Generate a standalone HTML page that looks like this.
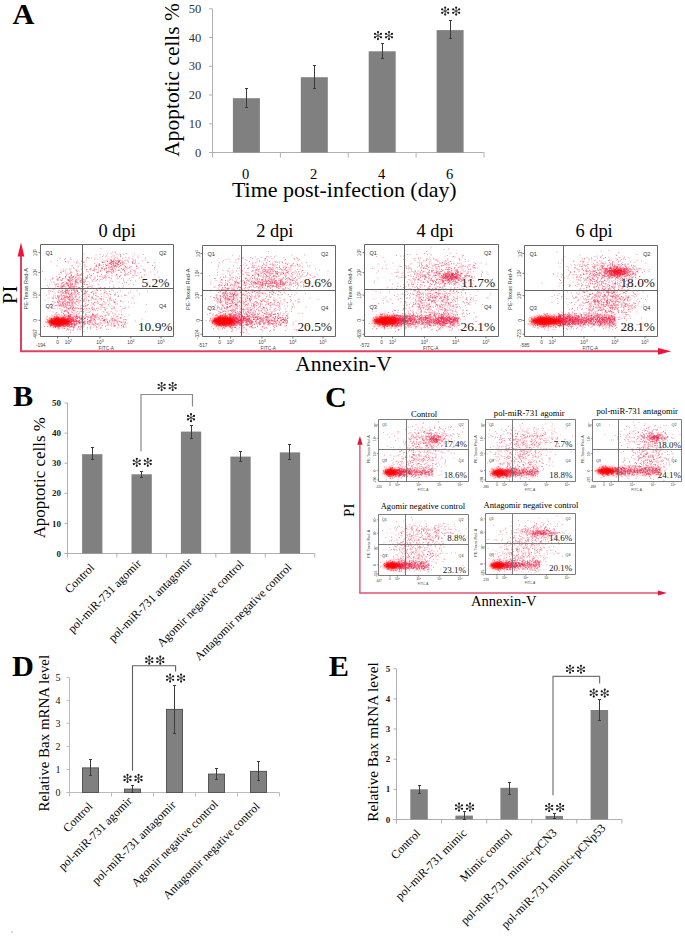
<!DOCTYPE html>
<html><head><meta charset="utf-8"><style>html,body{margin:0;padding:0;background:#fff;overflow:hidden}svg{display:block}</style></head><body><svg width="685" height="936" viewBox="0 0 685 936"><defs><filter id="blur" x="-50%" y="-50%" width="200%" height="200%"><feGaussianBlur stdDeviation="1.1"/></filter><filter id="blur2" x="-50%" y="-50%" width="200%" height="200%"><feGaussianBlur stdDeviation="2"/></filter></defs><rect width="685" height="936" fill="#fff"/><text x="12.5" y="24.4" font-size="30.3" text-anchor="start" font-weight="bold" fill="#000" font-family="'Liberation Serif', serif">A</text><line x1="212.5" y1="8.8" x2="212.5" y2="152.5" stroke="#b0b0b0" stroke-width="1"/><line x1="209.0" y1="152.5" x2="212.5" y2="152.5" stroke="#b0b0b0" stroke-width="1"/><text x="201.2" y="156.6" font-size="12.5" text-anchor="end" fill="#333" font-family="'Liberation Serif', serif">0</text><line x1="209.0" y1="123.8" x2="212.5" y2="123.8" stroke="#b0b0b0" stroke-width="1"/><text x="201.2" y="127.9" font-size="12.5" text-anchor="end" fill="#333" font-family="'Liberation Serif', serif">10</text><line x1="209.0" y1="95.0" x2="212.5" y2="95.0" stroke="#b0b0b0" stroke-width="1"/><text x="201.2" y="99.1" font-size="12.5" text-anchor="end" fill="#333" font-family="'Liberation Serif', serif">20</text><line x1="209.0" y1="66.3" x2="212.5" y2="66.3" stroke="#b0b0b0" stroke-width="1"/><text x="201.2" y="70.4" font-size="12.5" text-anchor="end" fill="#333" font-family="'Liberation Serif', serif">30</text><line x1="209.0" y1="37.5" x2="212.5" y2="37.5" stroke="#b0b0b0" stroke-width="1"/><text x="201.2" y="41.6" font-size="12.5" text-anchor="end" fill="#333" font-family="'Liberation Serif', serif">40</text><line x1="209.0" y1="8.8" x2="212.5" y2="8.8" stroke="#b0b0b0" stroke-width="1"/><text x="201.2" y="12.9" font-size="12.5" text-anchor="end" fill="#333" font-family="'Liberation Serif', serif">50</text><line x1="209.0" y1="152.5" x2="484.0" y2="152.5" stroke="#b0b0b0" stroke-width="1"/><line x1="212.5" y1="152.5" x2="212.5" y2="157.5" stroke="#b0b0b0" stroke-width="1"/><line x1="280.4" y1="152.5" x2="280.4" y2="157.5" stroke="#b0b0b0" stroke-width="1"/><line x1="348.2" y1="152.5" x2="348.2" y2="157.5" stroke="#b0b0b0" stroke-width="1"/><line x1="416.1" y1="152.5" x2="416.1" y2="157.5" stroke="#b0b0b0" stroke-width="1"/><line x1="484.0" y1="152.5" x2="484.0" y2="157.5" stroke="#b0b0b0" stroke-width="1"/><rect x="232.9" y="98.2" width="27.0" height="54.3" fill="#808080"/><line x1="246.5" y1="88.5" x2="246.5" y2="107.5" stroke="#3c3c3c" stroke-width="1"/><line x1="245.0" y1="88.5" x2="248.0" y2="88.5" stroke="#3c3c3c" stroke-width="1"/><line x1="245.0" y1="107.5" x2="248.0" y2="107.5" stroke="#3c3c3c" stroke-width="1"/><rect x="300.8" y="77.2" width="27.0" height="75.3" fill="#808080"/><line x1="314.5" y1="65.5" x2="314.5" y2="88.5" stroke="#3c3c3c" stroke-width="1"/><line x1="313.0" y1="65.5" x2="316.0" y2="65.5" stroke="#3c3c3c" stroke-width="1"/><line x1="313.0" y1="88.5" x2="316.0" y2="88.5" stroke="#3c3c3c" stroke-width="1"/><rect x="368.7" y="51.3" width="27.0" height="101.2" fill="#808080"/><line x1="382.5" y1="43.5" x2="382.5" y2="58.5" stroke="#3c3c3c" stroke-width="1"/><line x1="381.0" y1="43.5" x2="384.0" y2="43.5" stroke="#3c3c3c" stroke-width="1"/><line x1="381.0" y1="58.5" x2="384.0" y2="58.5" stroke="#3c3c3c" stroke-width="1"/><rect x="436.6" y="30.1" width="27.0" height="122.4" fill="#808080"/><line x1="450.5" y1="20.5" x2="450.5" y2="38.5" stroke="#3c3c3c" stroke-width="1"/><line x1="449.0" y1="20.5" x2="452.0" y2="20.5" stroke="#3c3c3c" stroke-width="1"/><line x1="449.0" y1="38.5" x2="452.0" y2="38.5" stroke="#3c3c3c" stroke-width="1"/><text x="245.7" y="178.6" font-size="14.5" text-anchor="middle" fill="#000" font-family="'Liberation Serif', serif">0</text><text x="313.7" y="178.6" font-size="14.5" text-anchor="middle" fill="#000" font-family="'Liberation Serif', serif">2</text><text x="381.7" y="178.6" font-size="14.5" text-anchor="middle" fill="#000" font-family="'Liberation Serif', serif">4</text><text x="449.7" y="178.6" font-size="14.5" text-anchor="middle" fill="#000" font-family="'Liberation Serif', serif">6</text><path d="M378.00 32.10L378.00 39.10M374.97 33.85L381.03 37.35M374.97 37.35L381.03 33.85" stroke="#444" stroke-width="0.9"/><circle cx="378.00" cy="32.10" r="1.1" fill="#1a1a1a"/><circle cx="378.00" cy="39.10" r="1.1" fill="#1a1a1a"/><circle cx="374.97" cy="33.85" r="1.1" fill="#1a1a1a"/><circle cx="381.03" cy="37.35" r="1.1" fill="#1a1a1a"/><circle cx="374.97" cy="37.35" r="1.1" fill="#1a1a1a"/><circle cx="381.03" cy="33.85" r="1.1" fill="#1a1a1a"/><path d="M389.00 32.10L389.00 39.10M385.97 33.85L392.03 37.35M385.97 37.35L392.03 33.85" stroke="#444" stroke-width="0.9"/><circle cx="389.00" cy="32.10" r="1.1" fill="#1a1a1a"/><circle cx="389.00" cy="39.10" r="1.1" fill="#1a1a1a"/><circle cx="385.97" cy="33.85" r="1.1" fill="#1a1a1a"/><circle cx="392.03" cy="37.35" r="1.1" fill="#1a1a1a"/><circle cx="385.97" cy="37.35" r="1.1" fill="#1a1a1a"/><circle cx="392.03" cy="33.85" r="1.1" fill="#1a1a1a"/><path d="M445.15 7.60L445.15 14.60M442.12 9.35L448.18 12.85M442.12 12.85L448.18 9.35" stroke="#444" stroke-width="0.9"/><circle cx="445.15" cy="7.60" r="1.1" fill="#1a1a1a"/><circle cx="445.15" cy="14.60" r="1.1" fill="#1a1a1a"/><circle cx="442.12" cy="9.35" r="1.1" fill="#1a1a1a"/><circle cx="448.18" cy="12.85" r="1.1" fill="#1a1a1a"/><circle cx="442.12" cy="12.85" r="1.1" fill="#1a1a1a"/><circle cx="448.18" cy="9.35" r="1.1" fill="#1a1a1a"/><path d="M456.15 7.60L456.15 14.60M453.12 9.35L459.18 12.85M453.12 12.85L459.18 9.35" stroke="#444" stroke-width="0.9"/><circle cx="456.15" cy="7.60" r="1.1" fill="#1a1a1a"/><circle cx="456.15" cy="14.60" r="1.1" fill="#1a1a1a"/><circle cx="453.12" cy="9.35" r="1.1" fill="#1a1a1a"/><circle cx="459.18" cy="12.85" r="1.1" fill="#1a1a1a"/><circle cx="453.12" cy="12.85" r="1.1" fill="#1a1a1a"/><circle cx="459.18" cy="9.35" r="1.1" fill="#1a1a1a"/><text x="344.3" y="196.5" font-size="21.96" text-anchor="middle" fill="#000" font-family="'Liberation Serif', serif">Time post-infection (day)</text><text x="178.8" y="79.9" font-size="21.43" text-anchor="middle" fill="#000" font-family="'Liberation Serif', serif" transform="rotate(-90 178.8 79.9)">Apoptotic cells %</text><line x1="21.0" y1="351.3" x2="21.0" y2="256.1" stroke="#e0405f" stroke-width="2"/><line x1="20.0" y1="351.3" x2="658.5" y2="351.3" stroke="#e0405f" stroke-width="2"/><polygon points="21.0,242.6 17.6,256.6 24.4,256.6" fill="#f0103a"/><polygon points="671.2,351.3 658.0,347.9 658.0,354.8" fill="#f0103a"/><text x="17.4" y="294.8" font-size="20.5" text-anchor="middle" fill="#000" font-family="'Liberation Serif', serif" transform="rotate(-90 17.4 294.8)">PI</text><text x="343.5" y="371.4" font-size="21.43" text-anchor="middle" fill="#000" font-family="'Liberation Serif', serif">Annexin-V</text><path transform="translate(40.5 244.5) scale(.5)" d="M62 162h2M39 151h2M27 155h2M27 147h2M41 155h2M48 150h2M37 154h2M23 157h2M43 167h2M41 154h2M61 156h2M55 153h2M41 160h2M51 155h2M27 157h2M39 158h2M41 160h2M37 156h2M50 149h2M33 152h2M75 154h2M50 158h2M35 147h2M56 152h2M51 148h2M33 161h2M65 148h2M24 154h2M51 155h2M43 149h2M48 160h2M33 147h2M30 158h2M21 154h2M28 154h2M35 155h2M66 157h2M63 154h2M33 157h2M10 154h2M40 148h2M46 152h2M14 153h2M28 152h2M36 161h2M39 154h2M45 145h2M61 149h2M46 149h2M28 153h2M74 158h2M31 153h2M26 154h2M32 158h2M24 153h2M29 151h2M51 155h2M48 161h2M59 147h2M48 145h2M37 164h2M35 153h2M41 155h2M38 151h2M58 159h2M35 156h2M50 160h2M45 158h2M35 149h2M32 160h2M56 155h2M32 156h2M69 162h2M31 154h2M23 149h2M41 155h2M56 161h2M53 161h2M32 149h2M47 168h2M44 149h2M42 162h2M27 159h2M31 161h2M52 156h2M76 152h2M31 164h2M29 166h2M37 149h2M37 155h2M41 154h2M58 143h2M32 153h2M72 144h2M34 149h2M31 158h2M45 162h2M31 156h2M60 159h2M34 160h2M28 164h2M40 154h2M42 159h2M71 154h2M34 158h2M29 146h2M53 153h2M59 149h2M10 156h2M40 163h2M47 156h2M48 153h2M39 148h2M47 150h2M33 158h2M55 149h2M76 152h2M53 159h2M42 155h2M72 159h2M46 145h2M30 161h2M41 150h2M31 153h2M50 157h2M56 150h2M56 152h2M34 163h2M39 154h2M35 153h2M67 162h2M51 156h2M57 154h2M46 157h2M39 163h2M71 161h2M19 164h2M51 152h2M37 160h2M60 159h2M40 155h2M53 154h2M29 151h2M36 156h2M81 148h2M46 154h2M43 162h2M61 154h2M32 148h2M37 161h2M35 158h2M51 157h2M58 154h2M29 149h2M55 153h2M34 159h2M30 164h2M50 152h2M31 160h2M26 151h2M37 156h2M38 157h2M34 154h2M61 158h2M33 163h2M18 155h2M50 160h2M39 153h2M48 154h2M46 140h2M45 150h2M55 158h2M51 152h2M46 153h2M41 154h2M29 165h2M51 144h2M54 147h2M35 152h2M32 156h2M34 147h2M37 156h2M71 152h2M26 153h2M50 150h2M30 157h2M37 156h2M31 150h2M34 154h2M34 157h2M48 157h2M46 150h2M27 159h2M37 155h2M26 153h2M31 150h2M31 147h2M39 161h2M30 155h2M27 158h2M73 148h2M35 162h2M44 155h2M18 154h2M55 162h2M50 152h2M31 145h2M27 160h2M36 148h2M63 146h2M61 153h2M44 158h2M42 161h2M38 153h2M31 147h2M31 160h2M53 162h2M89 158h2M47 148h2M35 166h2M47 154h2M43 145h2M29 148h2M17 159h2M56 154h2M44 149h2M46 158h2M67 163h2M47 154h2M29 151h2M49 157h2M38 163h2M50 155h2M35 155h2M28 150h2M44 152h2M35 161h2M35 161h2M37 162h2M46 146h2M61 153h2M18 155h2M40 148h2M31 157h2M64 160h2M61 160h2M13 151h2M41 141h2M52 159h2M30 153h2M28 154h2M37 155h2M27 157h2M34 159h2M43 147h2M23 155h2M33 157h2M53 155h2M21 148h2M48 149h2M58 154h2M47 150h2M36 139h2M35 158h2M29 150h2M37 155h2M30 158h2M21 160h2M24 150h2M63 149h2M21 155h2M28 149h2M31 151h2M28 149h2M68 151h2M56 147h2M48 148h2M33 158h2M32 144h2M32 154h2M48 149h2M34 155h2M21 154h2M29 157h2M36 154h2M14 154h2M34 150h2M32 148h2M41 158h2M49 152h2M69 159h2M28 154h2M22 154h2M51 161h2M33 145h2M36 162h2M40 161h2M53 163h2M49 151h2M46 168h2M32 145h2M78 157h2M31 151h2M22 158h2M40 151h2M33 152h2M58 154h2M64 150h2M31 152h2M32 154h2M57 161h2M27 161h2M39 163h2M36 150h2M52 158h2M33 155h2M40 156h2M21 148h2M38 156h2M32 145h2M63 153h2M27 163h2M59 160h2M53 157h2M28 155h2M44 158h2M46 149h2M31 153h2M35 150h2M20 148h2M43 155h2M48 145h2M33 159h2M18 149h2M21 161h2M38 152h2M40 154h2M55 161h2M55 156h2M52 159h2M60 145h2M44 155h2M40 153h2M37 157h2M41 155h2M27 148h2M30 145h2M32 150h2M20 145h2M33 152h2M79 159h2M30 152h2M28 151h2M34 154h2M31 159h2M50 165h2M25 158h2M34 146h2M34 146h2M37 169h2M62 164h2M60 147h2M45 155h2M46 149h2M18 165h2M60 156h2M33 156h2M25 160h2M40 154h2M33 154h2M40 152h2M56 156h2M36 150h2M61 161h2M50 145h2M34 160h2M38 161h2M33 159h2M47 142h2M33 153h2M31 150h2M68 154h2M52 148h2M17 152h2M45 151h2M47 159h2M33 154h2M30 160h2M71 157h2M32 151h2M35 159h2M30 162h2M26 155h2M62 164h2M33 159h2M86 161h2M16 156h2M83 149h2M55 144h2M68 150h2M53 159h2M11 147h2M44 147h2M37 150h2M63 152h2M28 158h2M61 154h2M43 157h2M33 148h2M47 153h2M24 159h2M46 155h2M30 153h2M49 157h2M29 150h2M44 156h2M53 149h2M55 164h2M55 155h2M55 148h2M33 165h2M22 149h2M53 151h2M32 149h2M69 151h2M35 145h2M52 155h2M47 163h2M40 148h2M28 155h2M63 148h2M35 154h2M50 150h2M43 159h2M37 154h2M49 158h2M61 149h2M61 153h2M26 152h2M25 154h2M57 143h2M26 159h2M34 159h2M25 154h2M12 150h2M51 161h2M68 154h2M29 153h2M19 162h2M60 150h2M72 148h2M48 150h2M21 157h2M26 161h2M29 155h2M33 155h2M31 159h2M49 155h2M36 165h2M31 152h2M52 155h2M22 154h2M34 149h2M41 149h2M35 149h2M67 153h2M46 156h2M51 154h2M52 155h2M14 156h2M25 159h2M41 153h2M13 144h2M26 153h2M24 165h2M46 154h2M28 153h2M35 152h2M36 159h2M20 156h2M58 148h2M35 153h2M26 159h2M34 160h2M45 153h2M43 153h2M22 162h2M44 161h2M20 160h2M53 154h2M17 155h2M31 154h2M38 150h2M36 155h2M65 154h2M82 148h2M36 161h2M22 158h2M45 151h2M35 163h2M33 156h2M46 161h2M17 147h2M24 153h2M49 159h2M34 162h2M37 158h2M30 159h2M30 161h2M54 164h2M33 149h2M53 156h2M32 148h2M53 145h2M33 160h2M35 157h2M47 158h2M58 158h2M34 148h2M35 151h2M45 161h2M52 151h2M41 155h2M33 161h2M49 156h2M26 141h2M30 160h2M35 154h2M35 157h2M37 163h2M36 153h2M64 158h2M51 157h2M37 156h2M48 155h2M19 162h2M33 152h2M34 151h2M29 154h2M54 153h2M46 148h2M52 149h2M51 151h2M31 148h2M25 153h2M28 153h2M59 150h2M34 154h2M31 154h2M42 160h2M30 153h2M36 161h2M28 155h2M52 158h2M30 149h2M20 152h2M35 147h2M53 155h2M35 152h2M46 153h2M47 152h2M57 146h2M27 164h2M57 163h2M30 158h2M56 159h2M35 162h2M45 148h2M84 155h2M61 151h2M28 159h2M53 151h2M42 148h2M18 160h2M26 158h2M58 156h2M66 156h2M43 155h2M45 156h2M28 154h2M34 169h2M61 150h2M49 146h2M38 164h2M39 161h2M34 157h2M44 143h2M30 164h2M29 161h2M70 154h2M56 156h2M32 158h2M46 149h2M33 148h2M34 154h2M28 145h2M50 161h2M29 155h2M31 141h2M78 156h2M24 161h2M51 162h2M51 157h2M65 153h2M42 149h2M26 156h2M42 146h2M44 160h2M25 153h2M70 150h2M48 159h2M41 155h2M48 156h2M40 147h2M42 150h2M66 166h2M59 143h2M56 155h2M27 148h2M58 151h2M36 155h2M55 141h2M61 150h2M33 158h2M44 143h2M49 154h2M27 151h2M22 159h2M66 151h2M33 147h2M30 149h2M38 164h2M57 160h2M28 159h2M30 150h2M51 154h2M85 156h2M34 158h2M26 158h2M67 154h2M32 160h2M27 156h2M32 156h2M30 158h2M48 164h2M34 157h2M20 151h2M42 148h2M36 150h2M46 158h2M33 158h2M32 155h2M47 157h2M49 163h2M31 154h2M20 159h2M26 151h2M32 157h2M35 153h2M39 153h2M37 150h2M32 148h2M54 159h2M50 156h2M31 157h2M22 142h2M26 162h2M42 163h2M30 160h2M68 160h2M43 160h2M33 164h2M26 151h2M38 151h2M71 158h2M30 163h2M63 153h2M67 161h2M32 152h2M43 160h2M67 162h2M33 145h2M21 162h2M57 161h2M37 155h2M47 157h2M39 150h2M24 155h2M36 162h2M27 144h2M18 154h2M69 153h2M31 157h2M67 160h2M54 159h2M34 155h2M45 164h2M16 152h2M44 153h2M36 153h2M28 157h2M62 153h2M46 160h2M31 154h2M25 163h2M70 154h2M76 159h2M20 157h2M42 157h2M50 152h2M59 156h2M74 154h2M13 164h2M48 145h2M31 150h2M55 151h2M59 152h2M56 151h2M26 158h2M35 157h2M21 149h2M34 165h2M45 146h2M7 164h2M44 148h2M56 159h2M78 156h2M32 159h2M24 152h2M28 152h2M25 147h2M27 157h2M38 154h2M46 158h2M46 165h2M43 157h2M33 160h2M65 139h2M53 149h2M44 155h2M25 148h2M35 168h2M25 152h2M34 153h2M59 165h2M37 157h2M34 163h2M37 158h2M35 160h2M37 150h2M74 145h2M41 153h2M29 165h2M44 152h2M29 156h2M37 153h2M31 162h2M41 154h2M25 151h2M51 151h2M50 154h2M45 156h2M33 153h2M37 158h2M83 159h2M25 166h2M36 151h2M40 154h2M42 154h2M37 161h2M70 155h2M68 159h2M60 156h2M41 159h2M28 155h2M26 159h2M41 158h2M34 151h2M56 152h2M35 155h2M46 155h2M27 149h2M57 153h2M35 150h2M55 157h2M32 146h2M72 152h2M26 152h2M26 155h2M32 148h2M50 150h2M19 156h2M32 149h2M21 151h2M31 152h2M32 161h2M58 156h2M48 152h2M23 157h2M64 151h2M108 146h2M111 159h2M76 153h2M127 152h2M126 152h2M74 154h2M103 157h2M63 136h2M55 171h2M111 170h2M58 145h2M106 133h2M65 165h2M61 150h2M130 142h2M77 152h2M70 144h2M87 158h2M146 158h2M159 155h2M106 144h2M65 145h2M80 154h2M168 157h2M126 153h2M120 152h2M71 140h2M54 153h2M77 137h2M93 147h2M72 144h2M70 146h2M98 153h2M71 154h2M56 143h2M147 153h2M127 153h2M67 128h2M77 153h2M94 157h2M93 166h2M166 166h2M55 156h2M124 153h2M144 154h2M97 153h2M73 154h2M63 153h2M62 150h2M66 163h2M65 157h2M65 169h2M99 146h2M81 155h2M53 157h2M129 164h2M63 161h2M56 169h2M134 156h2M141 149h2M59 159h2M74 155h2M103 139h2M114 158h2M57 157h2M57 166h2M161 155h2M69 147h2M66 147h2M54 156h2M66 155h2M86 160h2M148 147h2M146 143h2M79 147h2M140 155h2M148 162h2M57 147h2M55 158h2M96 136h2M156 165h2M77 147h2M87 148h2M88 159h2M53 156h2M100 156h2M147 152h2M87 148h2M109 155h2M107 155h2M65 150h2M144 149h2M71 143h2M150 157h2M155 160h2M55 142h2M61 129h2M123 148h2M62 140h2M93 169h2M147 162h2M109 141h2M114 150h2M161 156h2M54 151h2M164 164h2M63 153h2M73 169h2M81 151h2M160 155h2M119 156h2M58 153h2M77 156h2M64 150h2M71 135h2M97 152h2M153 144h2M147 150h2M102 143h2M76 154h2M84 158h2M129 155h2M58 154h2M76 157h2M54 145h2M116 161h2M146 163h2M62 159h2M74 139h2M115 146h2M167 160h2M89 154h2M54 160h2M99 155h2M58 159h2M126 156h2M100 164h2M150 152h2M101 144h2M55 154h2M55 144h2M53 139h2M61 149h2M141 159h2M66 149h2M161 162h2M70 151h2M84 151h2M157 154h2M113 160h2M100 143h2M116 148h2M72 148h2M95 159h2M100 159h2M86 147h2M141 159h2M124 152h2M66 153h2M93 150h2M101 147h2M134 135h2M100 151h2M99 153h2M100 152h2M103 148h2M54 150h2M84 138h2M117 149h2M56 147h2M128 150h2M85 157h2M141 163h2M165 150h2M60 152h2M65 153h2M148 164h2M93 157h2M168 157h2M67 153h2M169 150h2M154 157h2M107 149h2M83 163h2M87 148h2M107 151h2M162 141h2M69 145h2M59 176h2M57 154h2M78 145h2M107 142h2M85 156h2M141 145h2M54 152h2M79 149h2M85 156h2M144 161h2M54 161h2M86 174h2M79 165h2M60 145h2M105 159h2M99 166h2M135 170h2M64 160h2M143 137h2M56 159h2M54 134h2M88 157h2M93 158h2M83 162h2M150 152h2M59 143h2M59 164h2M64 151h2M137 155h2M148 162h2M56 155h2M59 154h2M78 150h2M53 159h2M90 140h2M71 157h2M102 147h2M60 165h2M91 144h2M97 156h2M96 146h2M161 167h2M99 144h2M72 143h2M104 143h2M80 155h2M96 154h2M62 159h2M104 153h2M153 167h2M129 143h2M74 170h2M76 143h2M81 146h2M133 157h2M64 147h2M80 149h2M60 141h2M79 170h2M105 141h2M132 156h2M55 148h2M106 143h2M70 161h2M84 154h2M81 149h2M59 140h2M168 150h2M128 158h2M97 160h2M110 146h2M160 131h2M63 165h2M59 171h2M164 161h2M58 160h2M58 145h2M120 165h2M72 158h2M60 159h2M65 143h2M156 153h2M56 142h2M58 151h2M76 164h2M75 166h2M55 143h2M150 154h2M122 158h2M53 170h2M119 168h2M61 157h2M135 158h2M57 140h2M80 163h2M169 161h2M95 146h2M58 143h2M77 145h2M81 164h2M77 147h2M55 151h2M65 165h2M87 154h2M107 150h2M138 152h2M138 161h2M133 153h2M82 161h2M113 143h2M153 155h2M54 142h2M86 149h2M103 143h2M75 156h2M110 147h2M84 154h2M58 154h2M69 151h2M55 153h2M135 161h2M88 152h2M105 161h2M115 159h2M160 146h2M81 145h2M154 143h2M125 151h2M84 163h2M146 157h2M77 156h2M153 155h2M57 151h2M93 150h2M154 153h2M106 160h2M101 145h2M54 150h2M104 151h2M84 164h2M67 160h2M165 153h2M89 146h2M60 151h2M120 142h2M61 156h2M93 145h2M114 141h2M82 148h2M89 142h2M109 152h2M59 156h2M165 165h2M67 143h2M142 155h2M71 143h2M144 152h2M85 150h2M97 135h2M57 163h2M130 151h2M108 161h2M53 156h2M67 165h2M100 150h2M57 148h2M110 142h2M118 161h2M106 149h2M96 142h2M61 146h2M54 155h2M99 154h2M71 154h2M59 148h2M146 159h2M118 157h2M100 152h2M102 157h2M66 157h2M158 148h2M53 148h2M89 148h2M84 155h2M130 148h2M54 143h2M83 141h2M143 148h2M154 159h2M168 154h2M160 147h2M77 158h2M63 147h2M67 144h2M94 131h2M56 146h2M132 136h2M53 147h2M120 166h2M170 165h2M118 144h2M78 167h2M87 156h2M146 164h2M111 165h2M150 150h2M94 144h2M56 153h2M61 164h2M76 146h2M151 144h2M84 145h2M128 150h2M108 157h2M58 151h2M70 144h2M62 145h2M68 147h2M140 149h2M56 154h2M122 148h2M132 169h2M54 147h2M114 165h2M86 145h2M127 150h2M81 167h2M165 163h2M58 155h2M130 162h2M142 151h2M65 167h2M81 155h2M55 144h2M55 137h2M106 151h2M55 155h2M54 150h2M97 159h2M108 162h2M60 140h2M109 157h2M105 148h2M168 144h2M71 143h2M169 156h2M70 146h2M53 136h2M133 155h2M59 153h2M67 158h2M62 158h2M155 162h2M144 147h2M154 148h2M63 158h2M133 154h2M119 151h2M110 158h2M93 155h2M55 144h2M161 56h2M66 48h2M127 51h2M178 46h2M106 49h2M134 62h2M60 30h2M130 66h2M131 55h2M207 53h2M145 51h2M174 59h2M122 63h2M152 44h2M165 83h2M87 35h2M128 48h2M143 51h2M140 69h2M187 19h2M156 52h2M156 52h2M148 48h2M106 49h2M167 52h2M130 71h2M170 38h2M99 49h2M154 68h2M61 72h2M136 55h2M168 56h2M141 67h2M183 34h2M66 35h2M144 48h2M125 44h2M97 60h2M131 56h2M156 75h2M223 42h2M188 54h2M152 69h2M108 50h2M174 61h2M210 61h2M139 50h2M159 23h2M188 57h2M107 53h2M156 33h2M171 18h2M195 47h2M144 47h2M108 67h2M92 50h2M156 33h2M159 38h2M170 46h2M188 51h2M91 67h2M184 66h2M71 35h2M172 59h2M120 49h2M140 18h2M82 33h2M177 46h2M44 49h2M118 40h2M71 37h2M146 45h2M165 72h2M118 27h2M91 53h2M165 49h2M131 55h2M184 63h2M117 42h2M131 42h2M91 68h2M141 35h2M150 35h2M92 26h2M82 44h2M143 50h2M145 52h2M113 70h2M85 36h2M219 55h2M142 92h2M86 76h2M131 48h2M91 50h2M164 51h2M112 57h2M186 52h2M115 45h2M149 42h2M192 43h2M178 49h2M164 33h2M123 36h2M99 51h2M83 82h2M204 65h2M133 42h2M60 64h2M82 50h2M107 51h2M204 50h2M124 66h2M110 21h2M100 47h2M99 67h2M183 36h2M134 55h2M115 41h2M151 45h2M209 51h2M133 54h2M142 45h2M157 64h2M142 58h2M74 45h2M136 46h2M179 57h2M131 41h2M116 47h2M203 33h2M172 45h2M201 66h2M96 57h2M73 62h2M127 35h2M130 60h2M236 65h2M149 50h2M38 28h2M33 32h2M174 71h2M144 45h2M162 88h2M139 73h2M190 39h2M138 38h2M147 45h2M93 62h2M130 48h2M169 58h2M185 80h2M80 59h2M58 65h2M215 36h2M184 62h2M149 17h2M88 45h2M135 53h2M167 53h2M125 36h2M100 48h2M227 46h2M129 67h2M167 61h2M137 77h2M108 73h2M199 56h2M110 42h2M144 21h2M187 38h2M81 59h2M136 38h2M189 33h2M108 27h2M207 61h2M72 59h2M107 38h2M125 21h2M141 51h2M196 38h2M74 37h2M108 65h2M228 61h2M151 34h2M73 33h2M161 69h2M124 31h2M165 50h2M101 27h2M55 75h2M113 56h2M153 65h2M227 49h2M184 38h2M72 51h2M49 28h2M100 61h2M123 24h2M131 42h2M111 42h2M128 63h2M154 52h2M97 27h2M214 75h2M60 57h2M150 53h2M141 45h2M194 57h2M175 56h2M141 44h2M184 23h2M191 48h2M144 43h2M55 37h2M150 44h2M153 38h2M57 49h2M114 39h2M194 23h2M138 47h2M188 53h2M148 55h2M142 48h2M126 65h2M227 36h2M143 35h2M214 79h2M143 74h2M142 33h2M209 27h2M88 70h2M170 61h2M117 40h2M83 70h2M156 86h2M152 60h2M110 44h2M154 39h2M177 68h2M80 61h2M144 55h2M119 70h2M142 62h2M149 42h2M84 77h2M206 51h2M179 72h2M197 67h2M128 62h2M112 55h2M93 26h2M95 27h2M151 62h2M153 40h2M132 31h2M151 60h2M214 36h2M127 50h2M233 55h2M153 28h2M127 86h2M191 62h2M117 38h2M144 42h2M229 43h2M113 63h2M144 38h2M78 39h2M200 43h2M127 66h2M201 64h2M150 42h2M94 54h2M131 55h2M47 30h2M167 75h2M141 32h2M159 38h2M121 47h2M165 69h2M159 37h2M178 44h2M70 66h2M213 35h2M117 42h2M113 70h2M168 54h2M141 40h2M111 41h2M159 62h2M118 63h2M98 84h2M88 43h2M130 64h2M145 38h2M158 64h2M86 19h2M158 36h2M176 80h2M188 57h2M170 49h2M97 50h2M115 55h2M84 35h2M137 53h2M135 66h2M71 61h2M122 51h2M179 54h2M171 76h2M131 23h2M111 44h2M142 39h2M139 55h2M51 76h2M108 30h2M100 63h2M105 70h2M104 52h2M115 51h2M145 36h2M91 29h2M142 89h2M182 50h2M188 61h2M120 42h2M139 39h2M132 58h2M81 34h2M146 29h2M150 40h2M158 43h2M153 39h2M149 38h2M150 37h2M145 40h2M167 49h2M181 44h2M140 25h2M122 34h2M155 46h2M153 37h2M129 43h2M186 33h2M191 44h2M136 43h2M156 40h2M129 40h2M168 26h2M161 48h2M158 31h2M148 44h2M162 36h2M140 30h2M148 26h2M159 55h2M148 36h2M154 42h2M147 42h2M136 27h2M141 41h2M140 30h2M156 19h2M143 15h2M140 54h2M121 47h2M140 32h2M145 55h2M141 37h2M143 34h2M165 39h2M154 31h2M155 35h2M151 38h2M142 25h2M159 20h2M168 32h2M135 46h2M139 37h2M135 41h2M157 34h2M147 23h2M172 31h2M149 32h2M156 35h2M145 34h2M155 51h2M131 46h2M153 41h2M139 46h2M165 20h2M119 52h2M141 35h2M124 36h2M152 32h2M175 35h2M167 37h2M155 34h2M141 50h2M172 47h2M139 33h2M154 33h2M163 51h2M141 33h2M123 48h2M155 40h2M139 37h2M146 31h2M161 49h2M174 34h2M208 31h2M152 25h2M146 39h2M140 36h2M133 33h2M129 33h2M112 29h2M143 35h2M175 27h2M138 44h2M134 33h2M120 8h2M191 43h2M189 36h2M125 40h2M134 39h2M159 42h2M137 38h2M158 49h2M144 54h2M163 40h2M140 40h2M163 28h2M163 39h2M147 29h2M148 43h2M183 38h2M145 43h2M169 44h2M148 15h2M155 36h2M130 37h2M133 34h2M174 31h2M108 46h2M149 37h2M118 20h2M145 32h2M154 35h2M157 33h2M158 32h2M160 42h2M123 36h2M144 37h2M185 31h2M148 39h2M111 50h2M162 35h2M168 61h2M136 49h2M183 29h2M160 25h2M156 31h2M162 33h2M174 48h2M183 36h2M146 34h2M140 36h2M133 34h2M166 46h2M159 23h2M179 53h2M168 33h2M164 36h2M123 47h2M168 42h2M164 37h2M130 51h2M146 34h2M76 53h2M62 81h2M62 43h2M70 85h2M42 103h2M70 74h2M75 87h2M71 73h2M73 59h2M104 52h2M64 64h2M69 73h2M86 73h2M62 100h2M48 74h2M60 86h2M67 89h2M53 78h2M77 74h2M72 54h2M76 70h2M101 62h2M39 99h2M102 71h2M31 64h2M72 79h2M85 89h2M78 72h2M92 94h2M74 69h2M81 76h2M66 75h2M88 93h2M85 79h2M60 54h2M63 80h2M51 79h2M52 77h2M17 79h2M80 74h2M79 61h2M68 68h2M68 74h2M70 64h2M58 51h2M62 42h2M73 98h2M58 68h2M68 79h2M80 67h2M61 79h2M74 58h2M76 96h2M34 68h2M61 60h2M42 95h2M70 79h2M84 58h2M89 66h2M86 74h2M92 81h2M66 86h2M55 82h2M41 72h2M102 85h2M49 91h2M61 79h2M60 82h2M57 92h2M61 66h2M59 56h2M79 88h2M92 80h2M64 91h2M93 66h2M44 68h2M67 88h2M87 79h2M88 71h2M65 46h2M58 71h2M89 73h2M60 76h2M60 49h2M55 72h2M63 66h2M59 81h2M40 70h2M56 71h2M68 83h2M19 71h2M46 52h2M70 75h2M54 71h2M52 92h2M98 88h2M45 83h2M73 75h2M64 70h2M56 65h2M52 104h2M77 65h2M55 81h2M100 95h2M49 57h2M55 78h2M57 67h2M105 58h2M79 72h2M56 98h2M43 77h2M64 65h2M59 75h2M115 80h2M62 56h2M71 84h2M119 54h2M40 51h2M38 89h2M65 65h2M69 73h2M64 89h2M83 69h2M90 87h2M62 68h2M60 62h2M28 88h2M92 43h2M61 61h2M59 79h2M87 80h2M80 88h2M72 88h2M83 65h2M81 69h2M86 89h2M41 81h2M49 67h2M58 80h2M79 73h2M28 80h2M88 40h2M56 66h2M71 70h2M85 69h2M50 49h2M32 71h2M78 61h2M78 68h2M83 90h2M75 62h2M86 76h2M68 79h2M79 89h2M42 89h2M71 91h2M65 84h2M85 91h2M61 92h2M58 58h2M52 57h2M93 86h2M33 71h2M71 76h2M57 65h2M82 73h2M50 77h2M54 70h2M81 71h2M114 56h2M48 94h2M70 71h2M85 71h2M49 93h2M69 76h2M70 73h2M51 61h2M36 85h2M68 71h2M39 56h2M59 78h2M63 73h2M50 84h2M72 90h2M76 61h2M55 71h2M88 74h2M66 92h2M83 82h2M34 71h2M103 82h2M90 97h2M81 49h2M73 71h2M50 87h2M53 90h2M75 67h2M51 97h2M63 78h2M66 63h2M45 102h2M24 89h2M36 114h2M53 78h2M41 109h2M38 66h2M64 107h2M45 96h2M56 97h2M51 133h2M73 146h2M35 106h2M30 81h2M28 97h2M43 83h2M49 119h2M42 87h2M63 101h2M54 81h2M59 126h2M34 81h2M44 121h2M62 133h2M36 60h2M36 108h2M57 74h2M50 98h2M58 85h2M48 99h2M54 107h2M57 111h2M63 84h2M105 140h2M29 122h2M43 88h2M70 51h2M38 119h2M24 128h2M43 107h2M74 109h2M67 139h2M42 97h2M72 122h2M75 164h2M36 105h2M58 75h2M35 71h2M46 109h2M77 169h2M48 103h2M55 116h2M50 142h2M69 93h2M14 107h2M74 144h2M43 93h2M52 92h2M36 92h2M80 142h2M56 128h2M42 92h2M62 118h2M30 137h2M16 92h2M70 141h2M96 101h2M48 117h2M52 81h2M46 98h2M66 101h2M52 106h2M46 133h2M43 119h2M71 103h2M68 96h2M56 73h2M67 135h2M50 69h2M46 107h2M71 52h2M55 110h2M27 123h2M23 121h2M66 85h2M33 84h2M43 118h2M61 97h2M59 81h2M49 65h2M73 76h2M36 147h2M66 82h2M65 172h2M55 84h2M41 148h2M42 87h2M91 67h2M37 66h2M39 95h2M58 71h2M61 92h2M73 93h2M51 61h2M21 119h2M83 66h2M46 102h2M51 123h2M60 125h2M9 69h2M85 136h2M23 94h2M58 87h2M43 69h2M33 155h2M52 104h2M60 88h2M56 105h2M61 83h2M47 134h2M59 85h2M19 120h2M57 93h2M34 105h2M54 122h2M58 116h2M40 115h2M49 96h2M53 168h2M41 100h2M52 103h2M48 119h2M35 121h2M67 93h2M83 71h2M58 110h2M55 88h2M28 115h2M22 128h2M63 110h2M62 114h2M54 106h2M40 102h2M50 92h2M50 78h2M57 104h2M16 99h2M34 103h2M77 86h2M54 83h2M44 124h2M57 105h2M65 132h2M84 62h2M26 77h2M38 128h2M52 92h2M46 83h2M65 113h2M49 64h2M40 72h2M41 122h2M37 122h2M35 151h2M48 94h2M63 127h2M35 79h2M32 121h2M40 94h2M56 86h2M57 117h2M40 85h2M69 66h2M54 148h2M42 79h2M60 106h2M36 119h2M48 140h2M62 85h2M61 116h2M47 81h2M62 112h2M37 103h2M55 129h2M76 139h2M43 131h2M33 103h2M59 100h2M41 107h2M74 121h2M37 141h2M46 107h2M54 109h2M36 96h2M47 126h2M21 127h2M74 79h2M50 95h2M30 139h2M58 144h2M73 134h2M50 125h2M58 104h2M61 95h2M49 120h2M65 115h2M38 114h2M84 109h2M63 79h2M56 117h2M41 108h2M48 123h2M53 71h2M61 163h2M28 81h2M42 83h2M34 111h2M85 130h2M48 113h2M63 121h2M46 79h2M34 152h2M62 115h2M64 89h2M44 109h2M29 85h2M55 97h2M24 88h2M56 100h2M72 148h2M38 124h2M49 90h2M63 131h2M23 69h2M69 127h2M66 129h2M40 87h2M38 122h2M64 65h2M25 119h2M35 117h2M35 84h2M33 114h2M60 90h2M44 97h2M55 106h2M52 93h2M50 105h2M48 113h2M31 122h2M71 110h2M24 135h2M48 110h2M53 155h2M35 109h2M45 125h2M64 130h2M56 117h2M58 121h2M59 97h2M89 118h2M8 111h2M55 81h2M50 107h2M40 115h2M28 139h2M23 68h2M54 60h2M65 125h2M63 70h2M58 84h2M64 128h2M26 90h2M28 144h2M69 79h2M49 34h2M63 119h2M35 116h2M43 84h2M48 111h2M68 115h2M45 122h2M57 108h2M58 131h2M53 133h2M50 97h2M32 78h2M93 64h2M52 113h2M39 83h2M68 89h2M52 104h2M40 110h2M53 115h2M66 99h2M59 67h2M55 88h2M53 81h2M73 92h2M82 71h2M41 124h2M81 108h2M43 97h2M23 67h2M94 74h2M44 122h2M59 107h2M50 140h2M87 109h2M32 69h2M46 135h2M57 101h2M59 113h2M53 121h2M60 109h2M37 114h2M33 116h2M45 76h2M88 96h2M66 89h2M51 133h2M31 108h2M73 94h2M59 101h2M43 92h2M52 107h2M44 118h2M48 113h2M62 110h2M48 80h2M44 54h2M29 107h2M55 128h2M50 65h2M57 119h2M34 113h2M26 75h2M51 117h2M62 118h2M45 116h2M58 87h2M51 126h2M67 84h2M54 95h2M59 128h2M42 110h2M53 116h2M59 113h2M51 127h2M3 54h2M34 95h2M45 114h2M41 84h2M42 87h2M54 128h2M58 122h2M61 102h2M21 75h2M39 119h2M57 115h2M67 95h2M48 113h2M48 94h2M24 107h2M61 62h2M50 121h2M61 121h2M45 120h2M62 124h2M43 113h2M53 97h2M38 122h2M33 127h2M29 103h2M50 96h2M70 100h2M51 91h2M24 114h2M42 135h2M64 86h2M26 101h2M61 98h2M76 100h2M43 116h2M50 131h2M46 83h2M57 110h2M57 103h2M79 76h2M33 84h2M69 71h2M44 68h2M61 98h2M28 128h2M44 85h2M55 107h2M54 119h2M31 155h2M78 105h2M18 133h2M41 133h2M48 85h2M41 55h2M34 140h2M82 129h2M36 111h2M57 104h2M11 101h2M42 120h2M28 116h2M47 164h2M75 86h2M34 102h2M52 129h2M37 111h2M48 106h2M60 69h2M52 96h2M49 124h2M13 82h2M32 142h2M74 115h2M39 121h2M34 67h2M65 97h2M33 105h2M70 117h2M49 53h2M55 136h2M54 91h2M48 131h2M37 65h2M45 138h2M89 93h2M58 85h2M45 81h2M36 105h2M77 105h2M47 105h2M36 149h2M78 134h2M44 110h2M23 114h2M68 115h2M44 83h2M45 138h2M43 103h2M75 77h2M16 95h2M47 103h2M73 94h2M105 119h2M101 96h2M136 138h2M40 103h2M71 103h2M51 171h2M113 114h2M159 114h2M100 151h2M72 93h2M121 104h2M119 92h2M34 154h2M142 128h2M108 110h2M128 97h2M73 110h2M103 105h2M68 118h2M79 112h2M95 115h2M69 97h2M120 130h2M40 130h2M147 114h2M108 97h2M170 88h2M149 115h2M122 123h2M109 143h2M80 134h2M103 107h2M126 119h2M86 104h2M139 105h2M62 109h2M147 127h2M55 99h2M65 153h2M49 132h2M147 116h2M121 111h2M107 116h2M58 144h2M111 145h2M109 102h2M137 99h2M72 126h2M132 150h2M111 103h2M119 120h2M75 128h2M155 103h2M137 153h2M186 103h2M51 116h2M119 109h2M130 116h2M86 128h2M85 84h2M104 130h2M164 115h2M94 153h2M90 95h2M154 104h2M87 160h2M63 143h2M66 117h2M113 139h2M71 113h2M106 141h2M63 128h2M107 69h2M54 114h2M120 124h2M68 132h2M111 140h2M100 84h2M130 94h2M102 87h2M140 134h2M88 101h2M110 97h2M145 83h2M47 133h2M102 129h2M110 109h2M78 86h2M75 117h2M135 120h2M70 129h2M109 132h2M103 127h2M65 151h2M131 98h2M80 91h2M68 105h2M86 99h2M91 129h2M56 137h2M159 124h2M117 87h2M91 107h2M90 125h2M63 116h2M21 150h2M41 136h2M91 128h2M75 129h2M86 115h2M42 76h2M149 140h2M89 123h2M113 63h2M92 80h2M137 85h2M62 121h2M152 133h2M172 88h2M137 109h2M102 96h2M114 105h2M122 121h2M97 128h2M44 116h2M25 108h2M104 118h2M82 145h2M104 120h2M83 158h2M96 128h2M89 139h2M115 87h2M126 99h2M107 129h2M146 125h2M86 133h2M93 120h2M85 123h2M143 151h2M123 144h2M70 120h2M142 111h2M122 109h2M76 112h2M105 109h2M106 165h2M63 111h2M53 164h2M141 112h2M83 117h2M81 122h2M70 109h2M137 94h2M119 86h2M103 139h2M81 134h2M161 135h2M182 106h2M107 121h2M34 123h2M63 97h2M110 117h2M137 107h2M64 122h2M69 125h2M124 126h2M103 125h2M55 129h2M149 97h2M110 99h2M88 108h2M90 132h2M15 85h2M123 119h2M47 123h2M114 104h2M182 117h2M129 130h2M101 127h2M88 93h2M79 129h2M159 93h2M164 128h2M114 128h2M53 119h2M85 113h2M159 112h2M31 80h2M147 116h2M56 127h2M101 111h2M89 94h2M86 110h2M142 123h2M81 151h2M145 111h2M125 109h2M83 131h2M95 120h2M65 126h2M134 113h2M99 168h2M102 108h2M99 133h2M105 99h2M149 101h2M146 87h2M81 94h2M121 109h2M63 105h2M91 141h2M109 145h2M135 141h2M41 78h2M65 92h2M54 94h2M56 71h2M145 93h2M114 118h2M117 73h2M126 152h2M137 117h2M103 160h2M127 129h2M127 93h2M127 96h2M126 126h2M75 99h2M145 115h2M58 127h2M78 129h2M92 136h2M133 111h2M120 99h2M31 136h2M90 99h2M149 151h2M78 148h2M126 103h2M92 122h2M101 105h2M95 112h2M136 141h2M100 122h2M119 127h2M125 114h2M114 127h2M80 128h2M69 103h2M51 101h2M95 112h2M133 139h2M77 115h2M139 100h2M60 112h2M148 100h2M95 85h2M65 108h2M35 95h2M86 112h2M82 149h2M103 130h2M126 146h2M103 73h2M58 88h2M107 145h2M48 118h2M118 109h2M149 110h2M129 131h2M60 71h2M118 89h2M105 101h2M118 108h2M91 111h2M110 109h2M127 89h2M72 114h2M81 93h2M82 102h2M126 135h2M95 104h2M109 88h2M114 116h2M25 105h2M167 128h2M76 96h2M58 122h2M108 115h2M92 122h2M121 121h2M60 104h2M119 144h2M139 108h2M62 149h2M135 103h2M156 140h2M80 113h2M114 111h2M78 157h2M68 98h2M57 110h2M69 105h2M103 94h2M111 92h2M76 107h2M93 154h2M149 63h2M169 125h2M93 93h2M161 103h2M94 84h2M58 72h2M68 106h2M103 141h2M148 129h2M100 147h2M105 98h2M130 106h2M164 156h2M85 134h2M141 129h2M138 113h2M66 132h2M107 88h2M102 105h2M168 61h2M150 119h2M136 123h2M65 147h2M72 148h2M73 67h2M94 88h2M106 129h2M55 138h2M94 100h2M128 142h2M106 88h2M144 128h2M62 105h2M103 140h2M60 124h2M171 151h2M76 145h2M83 126h2M132 128h2M146 138h2M127 115h2M72 114h2M148 119h2M87 98h2M64 126h2M64 123h2M99 149h2M111 90h2M117 120h2M88 123h2M94 155h2M128 126h2M61 135h2M154 103h2M71 93h2M79 125h2M86 98h2M153 119h2M88 114h2M88 121h2M111 72h2M138 110h2M72 128h2M129 119h2M108 93h2M49 133h2M111 128h2M81 128h2M179 95h2M67 110h2M161 162h2M86 144h2M130 23h2M118 64h2M111 165h2M161 140h2M163 78h2M153 96h2M176 141h2M97 65h2M189 73h2M82 57h2M202 149h2M32 43h2M76 111h2M213 93h2M90 103h2M60 101h2M123 162h2M97 79h2M205 20h2M184 108h2M125 68h2M172 157h2M187 117h2M57 87h2M49 107h2M157 65h2M192 92h2M167 101h2M189 153h2M141 56h2M27 152h2M78 121h2M135 53h2M168 44h2M177 27h2M84 154h2M137 66h2M22 88h2M209 135h2M48 106h2M175 125h2M113 132h2M75 43h2M147 101h2M159 147h2M164 86h2M62 171h2M86 165h2M84 130h2M86 124h2M146 126h2M22 107h2M197 99h2M90 33h2M14 19h2M49 35h2M88 98h2M93 87h2M134 99h2M68 93h2M50 121h2M211 120h2M29 165h2M45 53h2M71 152h2M194 26h2M133 19h2M152 20h2M195 88h2M52 77h2M43 71h2M137 35h2M175 115h2M81 84h2M157 44h2M113 92h2M189 31h2M56 112h2M41 57h2M61 153h2M85 100h2M127 49h2M20 34h2M95 153h2M175 97h2M59 27h2M47 142h2M146 86h2M121 60h2M163 159h2M170 102h2M72 55h2M122 70h2M124 134h2M96 104h2M133 161h2M168 102h2M19 93h2M54 34h2M101 117h2" stroke="#ee2244" stroke-opacity="0.55" stroke-width="1.6"/><ellipse cx="58.7" cy="321.8" rx="12.2" ry="4.8" fill="#f00" fill-opacity="0.3" filter="url(#blur2)"/><ellipse cx="58.7" cy="321.8" rx="10.6" ry="3.7" fill="#f00" fill-opacity="1" filter="url(#blur)"/><path d="M40.5 244.5H173.5V336.5H40.5Z M82.5 244.5V336.5 M40.5 288.5H173.5" fill="none" stroke="#666" stroke-width="1"/><text x="45.5" y="254.5" font-size="5.6" text-anchor="start" fill="#333" font-family="'Liberation Sans', sans-serif">Q1</text><text x="159.0" y="254.5" font-size="5.6" text-anchor="start" fill="#333" font-family="'Liberation Sans', sans-serif">Q2</text><text x="45.5" y="307.5" font-size="5.6" text-anchor="start" fill="#333" font-family="'Liberation Sans', sans-serif">Q3</text><text x="159.0" y="307.5" font-size="5.6" text-anchor="start" fill="#333" font-family="'Liberation Sans', sans-serif">Q4</text><text x="169.3" y="286.7" font-size="13.4" text-anchor="end" fill="#1a1a1a" font-family="'Liberation Serif', serif">5.2%</text><text x="172.5" y="331.0" font-size="13.4" text-anchor="end" fill="#1a1a1a" font-family="'Liberation Serif', serif">10.9%</text><text x="35.9" y="346.5" font-size="4.8" text-anchor="start" fill="#444" font-family="'Liberation Sans', sans-serif">-194</text><text x="106.3" y="349.7" font-size="4.8" text-anchor="middle" fill="#444" font-family="'Liberation Sans', sans-serif">FITC-A</text><text x="57.5" y="343.5" font-size="4.8" text-anchor="middle" fill="#444" font-family="'Liberation Sans', sans-serif">0</text><text x="68.4" y="343.5" font-size="4.8" text-anchor="middle" fill="#444" font-family="'Liberation Sans', sans-serif">10<tspan dy="-1.8" font-size="3.6">2</tspan></text><text x="100.0" y="343.5" font-size="4.8" text-anchor="middle" fill="#444" font-family="'Liberation Sans', sans-serif">10<tspan dy="-1.8" font-size="3.6">3</tspan></text><text x="130.9" y="343.5" font-size="4.8" text-anchor="middle" fill="#444" font-family="'Liberation Sans', sans-serif">10<tspan dy="-1.8" font-size="3.6">4</tspan></text><text x="161.0" y="343.5" font-size="4.8" text-anchor="middle" fill="#444" font-family="'Liberation Sans', sans-serif">10<tspan dy="-1.8" font-size="3.6">5</tspan></text><text x="37.5" y="252.6" font-size="4.8" text-anchor="middle" fill="#444" font-family="'Liberation Sans', sans-serif" transform="rotate(-90 37.5 252.6)">10<tspan dy="-1.8" font-size="3.6">5</tspan></text><text x="37.5" y="272.6" font-size="4.8" text-anchor="middle" fill="#444" font-family="'Liberation Sans', sans-serif" transform="rotate(-90 37.5 272.6)">10<tspan dy="-1.8" font-size="3.6">4</tspan></text><text x="37.5" y="295.1" font-size="4.8" text-anchor="middle" fill="#444" font-family="'Liberation Sans', sans-serif" transform="rotate(-90 37.5 295.1)">10<tspan dy="-1.8" font-size="3.6">3</tspan></text><text x="37.5" y="320.3" font-size="4.8" text-anchor="middle" fill="#444" font-family="'Liberation Sans', sans-serif" transform="rotate(-90 37.5 320.3)">0</text><text x="37.5" y="334.2" font-size="4.8" text-anchor="middle" fill="#444" font-family="'Liberation Sans', sans-serif" transform="rotate(-90 37.5 334.2)">-467</text><path d="M38.5 252.6h2.0M38.5 272.6h2.0M38.5 295.1h2.0M38.5 320.3h2.0M38.5 334.2h2.0M57.5 336.5v2.0M68.4 336.5v2.0M100.0 336.5v2.0M130.9 336.5v2.0M161.0 336.5v2.0" stroke="#555" stroke-width="0.80"/><text x="28.5" y="288.7" font-size="5.6" text-anchor="middle" fill="#444" font-family="'Liberation Sans', sans-serif" transform="rotate(-90 28.5 288.7)">PE-Texas Red-A</text><text x="117.2" y="237.3" font-size="18.4" text-anchor="middle" fill="#000" font-family="'Liberation Serif', serif">0 dpi</text><path transform="translate(202.5 245.5) scale(.5)" d="M92 147h2M52 152h2M61 143h2M40 147h2M33 146h2M39 149h2M34 153h2M38 134h2M69 149h2M36 153h2M49 151h2M35 152h2M28 159h2M31 150h2M44 152h2M41 154h2M6 150h2M41 148h2M73 145h2M42 139h2M47 141h2M26 163h2M56 150h2M45 142h2M32 153h2M20 152h2M24 151h2M31 160h2M63 147h2M23 146h2M42 145h2M47 156h2M42 148h2M58 149h2M59 149h2M75 149h2M31 151h2M36 145h2M41 155h2M20 150h2M41 150h2M58 143h2M55 149h2M44 149h2M39 147h2M50 162h2M64 155h2M53 148h2M54 162h2M29 155h2M63 152h2M59 158h2M89 158h2M77 152h2M60 152h2M49 148h2M57 159h2M42 152h2M56 151h2M62 152h2M31 145h2M58 154h2M66 152h2M47 142h2M72 146h2M65 145h2M37 152h2M39 147h2M62 155h2M52 149h2M35 148h2M38 151h2M59 150h2M35 148h2M70 152h2M48 153h2M56 152h2M68 155h2M14 150h2M105 144h2M46 157h2M44 158h2M31 144h2M42 147h2M33 154h2M49 151h2M40 152h2M43 147h2M55 153h2M46 155h2M32 150h2M38 158h2M54 163h2M77 149h2M33 154h2M41 150h2M33 154h2M48 153h2M50 146h2M21 150h2M37 148h2M64 151h2M75 152h2M58 154h2M61 144h2M67 152h2M34 154h2M51 158h2M59 153h2M27 160h2M75 155h2M53 158h2M35 155h2M44 146h2M52 153h2M79 156h2M27 140h2M43 150h2M34 143h2M42 145h2M37 156h2M49 147h2M32 150h2M80 148h2M80 147h2M42 155h2M36 151h2M30 155h2M68 148h2M48 149h2M21 166h2M57 156h2M52 152h2M93 141h2M41 149h2M42 155h2M36 144h2M32 154h2M64 155h2M77 148h2M64 155h2M42 147h2M62 147h2M41 146h2M80 151h2M39 150h2M42 152h2M26 145h2M54 157h2M33 152h2M38 139h2M41 145h2M62 150h2M43 143h2M47 140h2M48 159h2M31 156h2M73 150h2M67 152h2M39 140h2M33 143h2M93 152h2M42 144h2M80 145h2M75 157h2M45 147h2M43 144h2M57 160h2M62 157h2M37 153h2M33 149h2M59 165h2M45 151h2M24 152h2M34 143h2M28 152h2M40 155h2M41 151h2M74 155h2M60 159h2M48 146h2M36 142h2M51 149h2M55 156h2M35 152h2M70 152h2M63 150h2M34 150h2M24 155h2M39 158h2M31 152h2M51 150h2M52 147h2M33 143h2M38 147h2M49 149h2M37 147h2M24 149h2M53 144h2M41 155h2M37 152h2M39 165h2M73 158h2M37 155h2M42 153h2M38 152h2M36 153h2M81 143h2M30 154h2M61 149h2M56 153h2M55 159h2M37 155h2M48 147h2M54 144h2M28 157h2M32 160h2M66 148h2M35 139h2M43 142h2M77 142h2M45 136h2M40 158h2M39 146h2M39 153h2M63 150h2M22 153h2M64 164h2M47 152h2M38 155h2M81 145h2M46 145h2M37 150h2M54 146h2M41 159h2M54 155h2M52 150h2M53 154h2M44 157h2M44 156h2M44 155h2M37 148h2M32 158h2M55 152h2M57 146h2M46 148h2M24 150h2M35 159h2M36 148h2M65 151h2M30 152h2M36 161h2M33 147h2M15 147h2M84 150h2M34 153h2M41 151h2M97 162h2M78 160h2M34 140h2M60 153h2M45 150h2M59 154h2M49 154h2M42 149h2M73 150h2M86 155h2M45 157h2M39 150h2M40 151h2M58 163h2M55 145h2M35 141h2M59 156h2M51 153h2M55 153h2M58 152h2M33 156h2M72 142h2M41 145h2M55 149h2M74 157h2M39 148h2M38 154h2M34 153h2M29 157h2M54 145h2M36 152h2M50 135h2M48 159h2M39 143h2M70 152h2M48 154h2M31 147h2M32 145h2M40 145h2M78 154h2M61 142h2M42 150h2M47 154h2M35 146h2M64 164h2M88 149h2M35 152h2M54 161h2M41 147h2M66 147h2M35 154h2M42 145h2M41 149h2M41 147h2M56 149h2M37 157h2M34 155h2M56 149h2M48 143h2M49 145h2M35 152h2M36 152h2M52 157h2M52 157h2M36 149h2M57 158h2M53 148h2M33 146h2M67 146h2M41 155h2M53 147h2M86 152h2M50 156h2M41 155h2M42 146h2M34 153h2M46 150h2M39 150h2M60 157h2M41 152h2M24 145h2M36 146h2M58 140h2M54 155h2M90 148h2M53 159h2M63 146h2M40 145h2M45 155h2M72 154h2M63 157h2M35 155h2M64 150h2M34 152h2M47 155h2M25 149h2M86 158h2M42 149h2M41 146h2M39 151h2M31 151h2M49 144h2M39 143h2M45 152h2M38 151h2M55 155h2M30 149h2M29 141h2M65 155h2M70 155h2M39 152h2M38 159h2M19 153h2M38 155h2M69 148h2M72 157h2M27 161h2M32 144h2M64 147h2M49 151h2M33 160h2M75 151h2M77 151h2M49 149h2M30 149h2M34 153h2M47 148h2M71 153h2M82 149h2M40 147h2M49 150h2M45 161h2M61 148h2M52 150h2M41 150h2M45 155h2M65 151h2M35 151h2M42 150h2M31 150h2M25 158h2M59 155h2M34 152h2M71 150h2M33 150h2M20 156h2M53 144h2M58 157h2M57 155h2M76 152h2M73 150h2M37 149h2M33 153h2M37 153h2M51 160h2M81 148h2M42 150h2M37 161h2M70 150h2M30 148h2M44 160h2M31 159h2M29 153h2M32 149h2M19 154h2M45 145h2M22 151h2M44 143h2M54 150h2M32 147h2M18 155h2M64 150h2M31 145h2M41 146h2M50 146h2M62 157h2M38 147h2M13 151h2M51 146h2M67 147h2M32 155h2M53 140h2M37 144h2M41 152h2M39 152h2M62 149h2M31 146h2M61 160h2M42 153h2M35 148h2M64 148h2M47 152h2M68 152h2M43 149h2M38 157h2M88 142h2M65 146h2M37 149h2M39 149h2M37 161h2M29 147h2M36 152h2M30 151h2M46 162h2M57 151h2M46 161h2M43 147h2M37 149h2M62 146h2M38 151h2M34 155h2M40 154h2M54 159h2M80 146h2M30 145h2M53 154h2M44 151h2M75 156h2M48 154h2M28 157h2M86 152h2M39 158h2M39 152h2M56 150h2M58 141h2M19 155h2M55 152h2M40 151h2M53 145h2M49 147h2M87 153h2M49 157h2M63 156h2M37 152h2M62 152h2M46 148h2M48 159h2M32 144h2M32 143h2M70 161h2M54 152h2M72 157h2M21 151h2M94 149h2M37 148h2M76 149h2M53 158h2M48 151h2M33 144h2M66 144h2M66 158h2M75 150h2M35 152h2M71 154h2M54 150h2M63 141h2M32 160h2M54 155h2M24 147h2M40 151h2M68 148h2M47 147h2M42 153h2M52 156h2M31 155h2M53 147h2M71 147h2M40 154h2M73 149h2M74 153h2M36 155h2M45 147h2M42 158h2M51 150h2M61 144h2M57 158h2M32 145h2M35 150h2M36 151h2M34 153h2M56 154h2M38 156h2M28 148h2M43 158h2M40 154h2M77 162h2M80 147h2M50 154h2M58 154h2M43 151h2M30 155h2M51 148h2M81 151h2M37 154h2M53 155h2M43 155h2M47 158h2M51 147h2M34 154h2M63 143h2M57 151h2M50 147h2M33 148h2M36 149h2M46 151h2M83 146h2M40 152h2M57 146h2M29 153h2M52 154h2M57 143h2M66 150h2M87 149h2M22 151h2M48 153h2M48 148h2M27 150h2M41 148h2M45 149h2M23 147h2M35 150h2M77 151h2M55 140h2M69 148h2M55 145h2M44 155h2M44 152h2M36 147h2M50 150h2M47 148h2M40 155h2M73 149h2M37 152h2M63 153h2M66 150h2M34 141h2M61 152h2M37 153h2M32 157h2M65 157h2M40 159h2M61 160h2M27 156h2M71 150h2M64 152h2M74 150h2M45 145h2M86 147h2M33 146h2M46 151h2M53 159h2M64 143h2M48 150h2M60 152h2M71 152h2M84 146h2M68 156h2M37 144h2M37 153h2M78 143h2M41 144h2M60 152h2M45 155h2M50 159h2M41 148h2M44 151h2M70 149h2M39 148h2M36 141h2M47 154h2M48 147h2M63 155h2M49 155h2M43 153h2M55 145h2M39 147h2M52 137h2M50 151h2M42 153h2M29 152h2M36 148h2M72 149h2M66 151h2M41 149h2M29 149h2M47 159h2M59 156h2M35 147h2M52 154h2M33 157h2M38 153h2M39 155h2M62 157h2M35 152h2M90 151h2M54 152h2M39 160h2M76 147h2M55 161h2M54 152h2M64 156h2M32 147h2M77 148h2M44 148h2M83 145h2M48 149h2M41 145h2M36 150h2M49 141h2M46 146h2M44 149h2M43 150h2M54 151h2M27 138h2M29 153h2M27 146h2M81 149h2M42 153h2M57 148h2M46 140h2M51 154h2M26 156h2M83 137h2M42 159h2M58 147h2M38 149h2M58 146h2M29 152h2M36 160h2M33 153h2M42 143h2M39 140h2M52 146h2M31 142h2M72 154h2M34 150h2M56 154h2M44 140h2M79 150h2M72 144h2M60 158h2M67 144h2M41 159h2M35 155h2M42 143h2M63 157h2M57 152h2M65 140h2M43 160h2M54 157h2M41 153h2M32 154h2M50 149h2M44 152h2M48 155h2M65 139h2M49 157h2M32 150h2M93 148h2M65 152h2M29 150h2M25 149h2M63 155h2M50 148h2M57 158h2M60 156h2M53 154h2M35 159h2M33 146h2M37 147h2M71 150h2M41 150h2M44 158h2M75 149h2M79 154h2M50 158h2M47 153h2M47 145h2M31 146h2M35 148h2M38 157h2M44 155h2M51 146h2M41 143h2M26 153h2M43 151h2M64 144h2M42 139h2M35 154h2M28 144h2M40 160h2M59 150h2M56 151h2M39 148h2M53 150h2M59 148h2M60 149h2M68 156h2M36 163h2M51 147h2M31 151h2M46 147h2M32 148h2M33 147h2M35 153h2M17 162h2M39 151h2M30 157h2M42 149h2M34 154h2M53 148h2M77 146h2M68 152h2M30 149h2M54 149h2M45 150h2M52 147h2M81 153h2M74 150h2M48 146h2M44 159h2M50 147h2M38 154h2M42 162h2M48 151h2M59 160h2M28 147h2M37 140h2M42 150h2M61 154h2M57 154h2M39 167h2M74 149h2M34 154h2M64 154h2M60 156h2M52 146h2M39 141h2M63 148h2M47 162h2M36 151h2M35 141h2M64 151h2M43 155h2M42 155h2M70 147h2M53 152h2M65 164h2M34 159h2M46 155h2M52 150h2M31 151h2M35 159h2M53 148h2M40 157h2M29 152h2M47 146h2M65 149h2M65 152h2M37 150h2M64 146h2M35 150h2M55 154h2M34 145h2M43 150h2M49 143h2M39 145h2M76 140h2M34 148h2M26 149h2M36 143h2M39 158h2M46 158h2M69 152h2M41 139h2M23 152h2M45 152h2M35 149h2M33 156h2M45 140h2M38 158h2M33 145h2M34 148h2M45 150h2M47 148h2M57 158h2M35 152h2M50 152h2M43 154h2M42 148h2M36 155h2M39 141h2M39 148h2M61 156h2M33 158h2M51 159h2M39 155h2M59 159h2M31 151h2M46 150h2M35 150h2M45 161h2M45 157h2M39 152h2M44 151h2M29 151h2M96 151h2M31 163h2M53 153h2M28 150h2M42 150h2M34 155h2M31 157h2M44 149h2M28 153h2M51 143h2M78 150h2M28 157h2M33 146h2M29 146h2M41 145h2M49 146h2M43 139h2M38 150h2M56 149h2M45 153h2M35 154h2M49 148h2M31 158h2M65 152h2M65 159h2M42 154h2M55 153h2M42 148h2M59 152h2M76 153h2M45 144h2M42 152h2M42 147h2M15 146h2M46 159h2M32 154h2M31 156h2M94 164h2M65 152h2M75 138h2M128 151h2M57 141h2M88 157h2M65 155h2M111 129h2M96 155h2M133 157h2M72 141h2M71 153h2M107 144h2M141 167h2M71 151h2M137 150h2M83 151h2M132 151h2M63 156h2M109 146h2M75 147h2M67 146h2M57 159h2M169 153h2M53 154h2M59 145h2M54 147h2M91 152h2M87 158h2M103 164h2M129 150h2M119 162h2M131 157h2M87 168h2M55 155h2M151 146h2M63 158h2M98 154h2M115 144h2M129 143h2M94 156h2M75 158h2M98 153h2M67 154h2M114 158h2M80 150h2M147 156h2M137 156h2M81 155h2M91 148h2M71 149h2M131 152h2M113 154h2M61 141h2M113 159h2M67 145h2M95 158h2M109 137h2M126 154h2M53 150h2M86 148h2M138 149h2M98 147h2M129 128h2M127 143h2M130 142h2M132 145h2M59 163h2M96 154h2M151 146h2M90 149h2M54 145h2M66 135h2M100 139h2M95 142h2M121 156h2M146 142h2M75 159h2M66 157h2M106 152h2M93 136h2M86 154h2M118 130h2M73 142h2M85 150h2M134 142h2M73 155h2M100 158h2M71 145h2M92 177h2M121 140h2M69 154h2M60 155h2M71 138h2M81 146h2M107 148h2M169 146h2M57 141h2M97 138h2M149 143h2M68 166h2M96 162h2M150 135h2M105 138h2M123 136h2M127 134h2M165 144h2M62 152h2M87 137h2M88 145h2M164 148h2M95 150h2M113 150h2M62 163h2M153 130h2M107 156h2M123 154h2M168 165h2M59 145h2M149 147h2M146 161h2M79 142h2M109 153h2M99 151h2M126 149h2M54 151h2M73 137h2M118 162h2M149 150h2M129 137h2M64 150h2M111 138h2M91 134h2M135 154h2M62 156h2M55 141h2M133 156h2M83 143h2M68 153h2M84 159h2M112 146h2M130 145h2M86 145h2M106 152h2M116 152h2M75 134h2M98 143h2M53 144h2M124 157h2M156 144h2M54 142h2M110 145h2M76 148h2M69 144h2M82 142h2M160 153h2M94 145h2M96 148h2M129 143h2M104 130h2M77 165h2M165 133h2M57 147h2M67 145h2M131 157h2M72 141h2M90 147h2M62 155h2M161 154h2M143 147h2M127 148h2M96 143h2M138 143h2M54 131h2M73 143h2M168 155h2M164 155h2M131 139h2M143 152h2M167 160h2M60 142h2M144 152h2M87 154h2M111 155h2M98 164h2M69 152h2M54 141h2M106 141h2M56 162h2M93 151h2M53 146h2M89 148h2M121 151h2M122 158h2M68 147h2M120 147h2M65 125h2M132 160h2M61 152h2M91 141h2M68 160h2M79 171h2M63 150h2M82 146h2M57 172h2M90 154h2M112 154h2M54 155h2M142 169h2M163 150h2M62 148h2M54 154h2M89 132h2M90 147h2M60 145h2M54 151h2M79 151h2M165 146h2M142 160h2M71 149h2M130 155h2M140 157h2M96 150h2M145 144h2M59 144h2M155 159h2M57 147h2M66 163h2M80 160h2M133 172h2M78 166h2M72 149h2M55 147h2M67 138h2M53 145h2M117 168h2M115 147h2M149 143h2M88 159h2M117 144h2M147 162h2M160 148h2M82 147h2M77 155h2M151 146h2M56 155h2M122 157h2M59 146h2M129 154h2M89 142h2M77 137h2M156 147h2M73 160h2M87 147h2M142 150h2M154 160h2M141 156h2M111 142h2M132 150h2M135 170h2M90 133h2M53 138h2M68 151h2M119 147h2M70 149h2M69 152h2M77 141h2M105 137h2M59 131h2M65 146h2M119 151h2M97 156h2M141 144h2M101 148h2M54 148h2M73 139h2M109 143h2M103 157h2M135 157h2M143 169h2M61 155h2M143 146h2M63 160h2M99 137h2M116 150h2M74 138h2M130 158h2M145 143h2M76 138h2M72 153h2M133 151h2M80 144h2M149 147h2M136 149h2M61 132h2M129 153h2M126 155h2M57 150h2M167 150h2M121 154h2M132 147h2M150 139h2M105 164h2M53 153h2M169 139h2M65 144h2M145 142h2M54 157h2M115 155h2M136 140h2M101 135h2M61 144h2M79 154h2M154 137h2M124 144h2M64 139h2M131 152h2M78 144h2M84 149h2M57 146h2M156 150h2M60 141h2M53 159h2M55 163h2M143 156h2M64 163h2M120 151h2M65 139h2M91 150h2M87 171h2M101 145h2M152 157h2M150 159h2M168 132h2M53 148h2M141 153h2M59 151h2M62 144h2M73 154h2M61 145h2M132 149h2M89 160h2M120 143h2M58 149h2M142 150h2M102 155h2M161 145h2M74 155h2M87 159h2M98 144h2M72 144h2M136 157h2M152 152h2M158 144h2M71 145h2M56 157h2M94 153h2M164 148h2M81 149h2M56 159h2M73 150h2M125 142h2M69 149h2M102 136h2M87 150h2M93 153h2M74 151h2M56 146h2M74 136h2M109 145h2M66 160h2M57 155h2M133 137h2M84 137h2M87 147h2M144 146h2M104 148h2M69 146h2M59 146h2M157 156h2M88 141h2M82 146h2M55 145h2M62 141h2M128 166h2M97 151h2M141 145h2M89 149h2M63 148h2M117 149h2M134 142h2M116 146h2M80 167h2M84 146h2M136 150h2M115 168h2M53 144h2M112 143h2M57 138h2M101 165h2M93 147h2M58 146h2M81 144h2M98 157h2M55 146h2M127 164h2M109 161h2M56 153h2M63 149h2M75 174h2M71 156h2M133 154h2M74 146h2M59 151h2M57 157h2M88 135h2M101 140h2M64 157h2M75 148h2M169 142h2M88 159h2M146 149h2M61 139h2M149 153h2M53 149h2M120 146h2M159 148h2M68 148h2M88 156h2M66 144h2M127 147h2M108 126h2M130 153h2M54 146h2M138 137h2M142 138h2M57 147h2M99 165h2M133 150h2M66 148h2M55 150h2M155 157h2M63 141h2M162 150h2M116 146h2M67 151h2M57 156h2M61 149h2M54 155h2M92 158h2M103 148h2M105 144h2M103 158h2M63 148h2M64 145h2M70 135h2M139 157h2M56 146h2M156 149h2M80 174h2M92 146h2M76 150h2M56 145h2M106 150h2M97 163h2M107 142h2M134 137h2M108 158h2M140 158h2M152 141h2M53 158h2M92 145h2M65 145h2M76 159h2M53 147h2M169 153h2M56 147h2M170 136h2M125 148h2M151 138h2M142 128h2M102 148h2M81 146h2M99 160h2M71 141h2M147 151h2M57 158h2M98 154h2M54 145h2M62 151h2M131 155h2M90 150h2M139 151h2M93 140h2M137 135h2M85 146h2M57 154h2M101 147h2M116 141h2M55 150h2M85 158h2M85 154h2M55 144h2M68 156h2M161 148h2M54 152h2M55 147h2M86 150h2M156 149h2M96 162h2M60 148h2M84 150h2M56 156h2M77 155h2M61 153h2M163 155h2M164 149h2M90 151h2M150 151h2M82 174h2M68 155h2M96 152h2M69 139h2M92 158h2M55 163h2M60 158h2M79 141h2M94 129h2M127 138h2M89 139h2M63 138h2M59 146h2M104 142h2M90 151h2M77 133h2M72 167h2M89 156h2M137 149h2M92 142h2M118 133h2M161 153h2M109 145h2M53 138h2M123 136h2M150 136h2M65 143h2M69 153h2M131 152h2M56 150h2M142 143h2M164 160h2M114 152h2M87 159h2M120 151h2M95 155h2M54 158h2M60 144h2M77 157h2M67 153h2M59 148h2M127 142h2M143 164h2M92 144h2M127 143h2M165 144h2M155 144h2M53 150h2M64 129h2M110 156h2M160 154h2M56 151h2M59 154h2M64 160h2M93 146h2M136 137h2M74 131h2M96 155h2M156 145h2M78 141h2M57 152h2M75 145h2M100 134h2M54 139h2M108 143h2M67 159h2M66 153h2M139 151h2M129 147h2M86 141h2M146 153h2M56 166h2M84 143h2M166 153h2M96 137h2M122 136h2M65 143h2M83 149h2M120 150h2M106 150h2M124 164h2M129 143h2M113 146h2M66 135h2M93 146h2M146 153h2M79 141h2M68 146h2M140 150h2M66 153h2M75 151h2M73 144h2M63 144h2M89 139h2M78 149h2M98 157h2M120 148h2M84 147h2M135 141h2M169 146h2M54 136h2M117 148h2M130 145h2M139 157h2M61 145h2M62 159h2M166 150h2M77 145h2M130 149h2M76 146h2M119 164h2M101 148h2M121 145h2M101 144h2M86 144h2M56 140h2M100 152h2M91 141h2M170 143h2M59 141h2M133 138h2M60 149h2M109 162h2M72 153h2M67 141h2M88 152h2M164 162h2M123 146h2M160 148h2M147 156h2M55 138h2M72 138h2M63 150h2M149 136h2M149 150h2M66 153h2M57 159h2M54 163h2M142 152h2M79 139h2M71 151h2M74 144h2M119 153h2M99 152h2M126 152h2M90 157h2M103 139h2M66 142h2M127 143h2M66 169h2M167 148h2M79 152h2M130 158h2M112 155h2M163 150h2M96 159h2M131 154h2M154 159h2M57 158h2M110 148h2M60 149h2M82 143h2M68 126h2M68 146h2M104 141h2M144 149h2M76 141h2M118 140h2M90 142h2M124 151h2M80 164h2M83 164h2M100 154h2M110 148h2M96 152h2M93 155h2M54 163h2M144 152h2M161 147h2M159 144h2M138 156h2M55 150h2M109 148h2M54 137h2M97 153h2M76 149h2M69 153h2M63 150h2M62 153h2M81 160h2M70 157h2M131 137h2M125 144h2M76 148h2M143 147h2M122 156h2M60 146h2M124 156h2M73 164h2M145 155h2M136 152h2M55 148h2M100 141h2M61 150h2M123 166h2M57 153h2M62 151h2M69 142h2M160 148h2M55 138h2M134 149h2M89 146h2M69 146h2M145 159h2M155 151h2M156 159h2M88 175h2M58 153h2M167 140h2M57 153h2M54 143h2M59 152h2M124 131h2M113 143h2M78 152h2M55 153h2M154 154h2M154 146h2M59 169h2M113 157h2M167 156h2M125 144h2M140 138h2M91 159h2M121 141h2M65 154h2M55 130h2M85 144h2M137 135h2M72 136h2M165 152h2M57 165h2M54 151h2M55 148h2M156 150h2M54 158h2M80 154h2M127 150h2M159 148h2M55 145h2M60 154h2M55 152h2M74 142h2M151 146h2M58 152h2M76 160h2M77 154h2M116 147h2M169 150h2M127 145h2M112 147h2M96 149h2M114 146h2M161 153h2M62 138h2M109 147h2M153 144h2M69 158h2M153 153h2M120 149h2M151 157h2M159 140h2M68 152h2M115 155h2M139 145h2M92 145h2M110 137h2M60 152h2M63 149h2M57 145h2M166 141h2M147 62h2M172 57h2M153 44h2M105 55h2M125 79h2M189 57h2M171 52h2M81 58h2M132 66h2M140 56h2M144 73h2M149 58h2M188 37h2M40 50h2M167 35h2M95 74h2M118 68h2M139 57h2M158 32h2M161 44h2M122 38h2M133 72h2M195 74h2M135 52h2M121 35h2M246 71h2M184 55h2M136 57h2M145 33h2M142 62h2M80 71h2M115 74h2M128 48h2M119 53h2M153 41h2M172 47h2M103 66h2M73 66h2M136 59h2M125 50h2M159 67h2M110 58h2M167 50h2M166 50h2M214 59h2M130 59h2M87 39h2M89 69h2M170 56h2M52 27h2M119 83h2M188 69h2M74 51h2M76 54h2M201 74h2M78 52h2M142 39h2M180 39h2M138 63h2M125 26h2M120 67h2M95 24h2M126 53h2M92 57h2M156 76h2M100 50h2M123 52h2M170 49h2M95 82h2M33 35h2M153 33h2M198 51h2M185 64h2M89 59h2M250 51h2M124 30h2M182 57h2M110 59h2M147 55h2M203 19h2M133 59h2M121 59h2M185 51h2M162 78h2M88 55h2M162 93h2M198 35h2M182 26h2M146 81h2M116 62h2M127 39h2M138 74h2M95 67h2M144 32h2M131 70h2M152 92h2M167 55h2M106 69h2M182 70h2M123 48h2M123 77h2M158 54h2M124 28h2M131 12h2M138 66h2M182 53h2M119 40h2M131 55h2M154 59h2M149 52h2M124 62h2M99 40h2M159 34h2M141 47h2M39 69h2M70 67h2M105 53h2M151 54h2M96 37h2M145 52h2M112 48h2M132 53h2M93 60h2M134 68h2M134 38h2M105 67h2M100 43h2M99 26h2M160 55h2M87 59h2M160 65h2M156 70h2M130 62h2M118 33h2M142 65h2M110 78h2M185 72h2M168 53h2M145 76h2M153 48h2M177 62h2M121 61h2M143 51h2M121 47h2M168 66h2M109 65h2M108 44h2M128 65h2M75 40h2M155 47h2M122 44h2M129 52h2M142 41h2M138 26h2M191 77h2M166 54h2M93 32h2M195 62h2M122 72h2M157 70h2M163 49h2M120 61h2M120 64h2M113 68h2M84 53h2M133 55h2M13 60h2M176 41h2M125 44h2M167 59h2M175 51h2M105 58h2M188 59h2M202 69h2M121 53h2M141 61h2M156 67h2M108 66h2M228 68h2M33 83h2M162 76h2M164 45h2M138 45h2M132 48h2M191 29h2M132 67h2M130 44h2M106 48h2M189 48h2M172 44h2M74 45h2M178 37h2M86 65h2M136 47h2M179 70h2M135 80h2M199 58h2M146 57h2M156 68h2M176 70h2M175 41h2M165 86h2M179 54h2M192 52h2M149 57h2M196 90h2M168 85h2M128 23h2M120 48h2M140 53h2M118 68h2M146 41h2M152 62h2M154 70h2M136 56h2M191 53h2M134 76h2M161 56h2M166 61h2M61 41h2M120 55h2M105 23h2M125 48h2M91 46h2M117 46h2M98 52h2M137 48h2M116 24h2M111 62h2M138 69h2M103 44h2M158 71h2M142 67h2M98 73h2M111 60h2M164 58h2M92 44h2M143 69h2M130 51h2M101 45h2M127 75h2M169 69h2M122 63h2M63 72h2M164 42h2M160 35h2M110 57h2M128 71h2M179 69h2M79 57h2M224 63h2M111 41h2M119 78h2M163 89h2M156 72h2M109 94h2M143 76h2M215 72h2M194 47h2M165 63h2M165 68h2M148 52h2M170 64h2M111 57h2M69 64h2M99 60h2M128 34h2M65 66h2M140 33h2M115 53h2M133 32h2M98 44h2M79 50h2M136 73h2M214 40h2M136 55h2M125 58h2M184 43h2M136 37h2M173 69h2M149 47h2M139 49h2M133 72h2M174 61h2M90 54h2M195 41h2M139 88h2M73 45h2M172 65h2M112 71h2M150 53h2M133 63h2M140 39h2M86 54h2M156 74h2M81 39h2M147 73h2M122 57h2M145 47h2M134 45h2M146 21h2M166 62h2M136 45h2M139 71h2M113 30h2M122 49h2M126 57h2M100 37h2M142 60h2M104 34h2M146 55h2M189 41h2M142 61h2M145 53h2M104 62h2M118 53h2M76 49h2M127 60h2M110 49h2M169 51h2M159 72h2M127 60h2M111 49h2M158 53h2M175 68h2M136 22h2M110 26h2M71 57h2M99 66h2M140 52h2M126 40h2M140 40h2M198 60h2M193 59h2M175 45h2M88 71h2M161 87h2M223 62h2M220 64h2M94 65h2M117 79h2M161 55h2M117 55h2M141 51h2M125 65h2M136 47h2M193 39h2M217 82h2M184 40h2M133 44h2M141 69h2M210 55h2M152 66h2M114 42h2M137 64h2M137 69h2M136 69h2M86 40h2M107 50h2M146 61h2M165 56h2M113 47h2M188 69h2M128 54h2M88 30h2M109 68h2M200 50h2M167 44h2M147 44h2M154 67h2M138 68h2M154 54h2M140 44h2M31 85h2M89 46h2M145 52h2M128 62h2M177 40h2M168 41h2M180 63h2M193 28h2M146 53h2M178 47h2M127 51h2M202 54h2M69 46h2M112 66h2M133 64h2M139 37h2M99 35h2M97 63h2M108 56h2M192 42h2M134 67h2M157 48h2M112 60h2M116 57h2M132 62h2M100 42h2M127 87h2M233 49h2M130 81h2M135 49h2M70 74h2M128 53h2M179 65h2M199 43h2M170 54h2M152 81h2M53 67h2M123 45h2M149 55h2M225 47h2M122 52h2M142 61h2M124 56h2M160 41h2M165 48h2M91 60h2M157 57h2M119 50h2M181 36h2M140 75h2M132 48h2M134 53h2M193 57h2M90 67h2M191 80h2M83 72h2M162 48h2M152 70h2M29 49h2M116 60h2M165 28h2M212 43h2M125 70h2M138 82h2M165 46h2M130 54h2M190 62h2M132 70h2M212 85h2M164 29h2M127 63h2M196 81h2M111 58h2M209 41h2M162 81h2M147 63h2M155 77h2M101 60h2M140 47h2M147 33h2M135 60h2M129 69h2M146 57h2M138 56h2M146 56h2M114 73h2M158 50h2M150 98h2M130 50h2M139 49h2M82 65h2M119 84h2M160 58h2M73 21h2M103 40h2M119 44h2M97 72h2M234 78h2M103 57h2M155 78h2M149 44h2M110 69h2M189 83h2M198 63h2M172 35h2M164 60h2M209 57h2M80 25h2M196 73h2M105 74h2M169 54h2M134 50h2M178 59h2M181 75h2M111 52h2M172 67h2M169 38h2M166 44h2M156 46h2M177 56h2M189 38h2M107 48h2M142 72h2M178 41h2M117 44h2M114 78h2M150 62h2M52 46h2M161 56h2M105 50h2M149 38h2M128 55h2M124 67h2M110 58h2M215 59h2M99 60h2M140 62h2M142 82h2M190 39h2M207 34h2M102 53h2M189 77h2M93 69h2M146 71h2M179 59h2M173 67h2M197 53h2M129 62h2M186 69h2M132 77h2M153 79h2M124 26h2M145 39h2M153 43h2M151 59h2M167 66h2M55 65h2M162 24h2M144 61h2M99 51h2M84 35h2M127 35h2M204 62h2M214 66h2M125 68h2M63 79h2M116 80h2M156 56h2M123 56h2M161 64h2M209 55h2M228 57h2M133 56h2M109 47h2M39 33h2M162 66h2M82 75h2M156 85h2M129 77h2M163 76h2M159 81h2M135 72h2M124 83h2M121 71h2M108 69h2M171 86h2M138 71h2M158 78h2M100 73h2M147 84h2M201 79h2M135 86h2M116 75h2M140 80h2M163 78h2M119 76h2M107 82h2M151 69h2M162 78h2M120 80h2M174 75h2M118 74h2M93 84h2M106 69h2M124 76h2M150 76h2M139 81h2M103 72h2M83 76h2M152 78h2M113 83h2M110 76h2M126 72h2M139 74h2M188 78h2M174 83h2M105 74h2M185 80h2M177 77h2M108 82h2M166 79h2M124 77h2M155 77h2M125 76h2M147 78h2M67 71h2M147 81h2M148 79h2M154 82h2M64 74h2M127 75h2M163 75h2M172 66h2M77 78h2M135 75h2M94 71h2M137 76h2M100 75h2M145 76h2M116 81h2M110 76h2M150 83h2M159 75h2M106 74h2M160 88h2M73 63h2M166 74h2M118 70h2M143 76h2M69 75h2M125 77h2M100 80h2M152 76h2M136 80h2M146 81h2M155 72h2M115 87h2M114 77h2M136 74h2M127 75h2M83 74h2M129 81h2M125 69h2M138 72h2M169 74h2M119 78h2M131 71h2M144 66h2M121 81h2M120 67h2M160 74h2M134 83h2M158 68h2M132 81h2M110 75h2M168 79h2M131 82h2M119 81h2M146 75h2M131 77h2M91 70h2M183 66h2M138 79h2M100 71h2M166 72h2M147 81h2M83 74h2M176 68h2M174 73h2M114 73h2M124 72h2M154 74h2M104 76h2M86 76h2M132 81h2M87 74h2M91 72h2M160 79h2M71 76h2M119 74h2M133 79h2M141 80h2M118 72h2M161 73h2M147 70h2M158 74h2M104 84h2M112 73h2M143 74h2M145 82h2M143 72h2M175 77h2M168 73h2M161 77h2M160 76h2M126 74h2M109 72h2M233 81h2M142 82h2M129 83h2M136 79h2M192 66h2M151 86h2M207 81h2M148 78h2M127 71h2M80 79h2M189 75h2M148 85h2M185 75h2M58 65h2M67 81h2M142 69h2M106 77h2M147 73h2M149 79h2M132 75h2M176 80h2M121 77h2M160 80h2M139 75h2M135 76h2M159 75h2M100 79h2M112 79h2M96 78h2M104 75h2M151 82h2M148 77h2M113 81h2M202 82h2M125 71h2M107 75h2M201 78h2M64 76h2M117 79h2M86 65h2M155 81h2M173 78h2M104 78h2M164 74h2M84 80h2M150 75h2M188 86h2M117 69h2M210 75h2M115 75h2M122 72h2M111 72h2M93 78h2M129 72h2M133 76h2M172 80h2M116 86h2M86 79h2M129 83h2M112 72h2M139 74h2M108 77h2M103 64h2M145 71h2M155 77h2M148 79h2M188 74h2M119 76h2M139 83h2M142 69h2M75 71h2M120 77h2M125 80h2M178 71h2M119 73h2M143 74h2M155 73h2M128 81h2M155 70h2M138 76h2M165 76h2M184 75h2M97 76h2M181 70h2M74 84h2M180 76h2M150 80h2M130 77h2M110 74h2M156 74h2M230 81h2M155 71h2M98 78h2M107 76h2M148 75h2M126 76h2M155 75h2M150 84h2M157 79h2M159 78h2M181 82h2M140 81h2M140 75h2M130 75h2M147 75h2M148 73h2M119 69h2M116 78h2M90 77h2M59 109h2M54 98h2M57 120h2M53 102h2M50 96h2M61 128h2M39 87h2M54 142h2M58 131h2M53 57h2M42 145h2M53 122h2M31 43h2M56 99h2M29 124h2M58 63h2M60 106h2M41 104h2M37 79h2M50 107h2M37 125h2M44 106h2M44 80h2M39 84h2M53 152h2M48 108h2M51 149h2M30 123h2M57 131h2M38 123h2M45 61h2M50 107h2M82 74h2M54 81h2M86 103h2M68 95h2M45 96h2M57 131h2M50 117h2M85 108h2M65 118h2M66 119h2M51 87h2M48 105h2M86 66h2M43 99h2M37 113h2M60 108h2M74 127h2M63 87h2M49 114h2M29 106h2M50 156h2M65 101h2M72 84h2M39 119h2M52 110h2M42 93h2M43 80h2M31 107h2M61 106h2M31 94h2M64 130h2M44 164h2M36 69h2M61 64h2M62 98h2M69 117h2M49 124h2M79 142h2M64 134h2M54 106h2M67 99h2M49 95h2M52 155h2M60 130h2M34 113h2M42 96h2M64 106h2M79 89h2M74 132h2M49 86h2M43 95h2M55 103h2M66 126h2M33 101h2M50 80h2M41 160h2M66 120h2M23 110h2M95 134h2M50 106h2M48 132h2M58 85h2M47 92h2M35 110h2M58 110h2M61 108h2M15 135h2M45 78h2M34 73h2M56 103h2M53 94h2M57 89h2M36 74h2M70 74h2M71 82h2M50 85h2M54 130h2M56 116h2M43 99h2M55 93h2M74 122h2M59 101h2M60 79h2M37 68h2M57 110h2M61 100h2M45 85h2M56 115h2M39 120h2M68 124h2M53 102h2M44 142h2M68 77h2M36 114h2M46 114h2M42 163h2M26 70h2M45 92h2M41 103h2M74 111h2M66 62h2M58 112h2M37 103h2M55 96h2M54 53h2M56 85h2M42 88h2M56 121h2M48 123h2M38 87h2M30 114h2M76 106h2M88 142h2M38 89h2M69 133h2M68 104h2M45 84h2M67 118h2M41 164h2M49 122h2M33 133h2M30 148h2M35 143h2M62 104h2M37 88h2M58 78h2M79 115h2M39 75h2M90 141h2M59 123h2M35 111h2M37 145h2M31 132h2M61 90h2M97 155h2M43 83h2M53 147h2M44 103h2M83 87h2M67 117h2M38 69h2M66 91h2M80 125h2M49 103h2M29 126h2M38 79h2M80 97h2M63 84h2M49 71h2M85 92h2M59 91h2M51 131h2M45 70h2M45 106h2M76 99h2M68 100h2M48 86h2M57 97h2M54 108h2M77 61h2M66 92h2M41 95h2M55 59h2M36 114h2M35 93h2M35 115h2M41 122h2M72 156h2M34 125h2M46 117h2M74 91h2M64 79h2M55 116h2M59 95h2M62 81h2M44 126h2M76 62h2M42 136h2M41 132h2M40 151h2M71 113h2M35 134h2M59 112h2M31 123h2M70 122h2M36 134h2M61 103h2M70 89h2M51 89h2M57 153h2M50 52h2M24 83h2M73 88h2M40 131h2M35 101h2M58 128h2M62 94h2M72 81h2M64 131h2M33 113h2M61 99h2M104 92h2M85 67h2M49 122h2M36 107h2M78 99h2M35 63h2M69 97h2M43 126h2M54 143h2M61 108h2M75 94h2M25 66h2M54 123h2M42 119h2M37 128h2M50 107h2M45 75h2M46 135h2M51 107h2M58 168h2M50 115h2M82 95h2M54 111h2M62 140h2M67 101h2M64 110h2M60 98h2M79 162h2M46 113h2M29 54h2M77 148h2M55 68h2M70 109h2M54 60h2M53 116h2M58 89h2M46 64h2M50 100h2M54 121h2M24 128h2M52 109h2M76 104h2M50 144h2M32 142h2M66 73h2M54 150h2M49 78h2M29 139h2M40 94h2M50 90h2M55 79h2M27 103h2M31 80h2M33 78h2M44 131h2M68 106h2M60 102h2M53 108h2M52 70h2M35 105h2M75 93h2M38 148h2M60 81h2M39 131h2M39 96h2M46 115h2M45 137h2M59 96h2M60 98h2M49 76h2M45 96h2M70 135h2M63 114h2M63 123h2M58 119h2M46 88h2M45 153h2M15 91h2M65 133h2M52 109h2M54 108h2M49 101h2M61 104h2M40 95h2M59 101h2M47 105h2M48 126h2M77 84h2M60 53h2M56 80h2M81 147h2M81 112h2M64 107h2M50 111h2M40 98h2M50 160h2M72 75h2M44 131h2M40 57h2M46 101h2M56 93h2M60 135h2M65 134h2M25 140h2M49 118h2M84 87h2M43 125h2M38 126h2M47 125h2M32 79h2M45 108h2M26 100h2M69 132h2M62 98h2M47 123h2M45 103h2M61 87h2M54 74h2M67 51h2M50 130h2M75 84h2M42 88h2M52 107h2M14 136h2M58 55h2M54 33h2M91 94h2M66 113h2M38 111h2M57 102h2M59 114h2M60 49h2M73 120h2M76 147h2M74 88h2M79 90h2M48 80h2M61 116h2M54 97h2M42 99h2M71 90h2M55 102h2M57 107h2M87 92h2M68 85h2M96 131h2M68 119h2M68 98h2M88 115h2M51 138h2M44 123h2M59 69h2M22 83h2M35 108h2M26 90h2M35 101h2M45 95h2M63 99h2M55 143h2M29 99h2M63 131h2M64 98h2M45 70h2M41 63h2M30 112h2M47 97h2M122 99h2M34 109h2M96 137h2M120 90h2M124 90h2M89 85h2M145 96h2M96 127h2M86 109h2M158 153h2M27 99h2M133 83h2M61 120h2M83 122h2M125 119h2M132 99h2M144 119h2M132 108h2M45 94h2M178 122h2M93 106h2M61 138h2M134 93h2M107 115h2M45 132h2M57 136h2M85 80h2M154 125h2M32 136h2M40 147h2M65 118h2M98 122h2M125 79h2M74 104h2M92 83h2M117 112h2M49 125h2M91 119h2M45 138h2M32 88h2M133 99h2M85 119h2M126 113h2M178 98h2M119 117h2M115 145h2M73 113h2M116 125h2M45 103h2M186 151h2M46 110h2M107 128h2M109 114h2M83 114h2M15 102h2M23 66h2M61 100h2M115 119h2M144 90h2M112 89h2M46 105h2M143 127h2M150 119h2M47 91h2M148 109h2M191 112h2M85 131h2M102 118h2M56 121h2M66 69h2M141 95h2M16 124h2M86 119h2M102 127h2M96 129h2M103 138h2M62 123h2M105 155h2M123 90h2M69 127h2M19 139h2M85 84h2M69 90h2M148 120h2M100 88h2M48 128h2M109 141h2M55 125h2M130 88h2M150 99h2M98 133h2M140 117h2M64 118h2M144 107h2M84 147h2M118 95h2M115 83h2M89 103h2M100 125h2M79 87h2M53 122h2M97 105h2M102 114h2M95 129h2M31 149h2M38 119h2M89 137h2M95 103h2M91 129h2M142 131h2M47 100h2M121 124h2M90 110h2M100 127h2M116 118h2M108 97h2M82 78h2M163 151h2M140 93h2M77 126h2M34 128h2M120 110h2M151 124h2M103 92h2M75 114h2M79 99h2M125 106h2M190 114h2M69 108h2M45 115h2M84 167h2M129 112h2M145 138h2M80 107h2M45 112h2M122 124h2M81 115h2M48 141h2M177 132h2M183 123h2M86 91h2M131 118h2M64 93h2M130 109h2M29 115h2M74 112h2M135 114h2M103 102h2M87 138h2M155 135h2M117 153h2M128 118h2M48 118h2M100 117h2M46 143h2M143 111h2M137 114h2M104 113h2M43 107h2M214 105h2M169 153h2M175 112h2M162 108h2M133 103h2M94 107h2M169 114h2M82 117h2M95 110h2M220 82h2M114 95h2M115 121h2M49 88h2M181 154h2M83 143h2M162 136h2M115 158h2M122 111h2M112 135h2M118 94h2M103 117h2M165 84h2M113 92h2M68 120h2M109 137h2M65 100h2M96 93h2M136 132h2M63 96h2M55 121h2M64 93h2M160 154h2M104 104h2M68 142h2M162 146h2M52 85h2M107 121h2M45 93h2M179 124h2M113 100h2M113 156h2M96 129h2M105 112h2M110 98h2M112 132h2M174 102h2M122 86h2M97 108h2M137 140h2M68 140h2M128 137h2M133 129h2M29 108h2M34 111h2M58 142h2M78 128h2M156 115h2M177 110h2M140 117h2M113 137h2M89 148h2M34 136h2M116 131h2M105 77h2M107 94h2M104 134h2M147 159h2M130 134h2M100 116h2M65 138h2M64 77h2M93 108h2M64 128h2M52 104h2M89 129h2M92 125h2M105 119h2M175 108h2M131 113h2M100 143h2M86 133h2M138 97h2M145 136h2M64 96h2M124 112h2M123 129h2M66 117h2M62 98h2M99 101h2M5 107h2M97 117h2M127 126h2M156 99h2M104 106h2M91 88h2M122 107h2M110 117h2M86 136h2M30 151h2M113 122h2M168 115h2M65 117h2M85 112h2M63 89h2M190 108h2M167 140h2M75 127h2M145 126h2M120 108h2M49 99h2M95 107h2M100 142h2M69 122h2M66 122h2M99 93h2M78 105h2M73 111h2M35 101h2M105 101h2M134 120h2M90 101h2M144 111h2M164 107h2M79 128h2M130 116h2M70 140h2M68 136h2M149 114h2M141 94h2M57 103h2M127 115h2M40 112h2M98 103h2M39 102h2M138 98h2M138 118h2M27 104h2M120 127h2M155 94h2M180 116h2M81 131h2M87 152h2M125 137h2M94 107h2M159 98h2M90 152h2M142 138h2M125 97h2M110 100h2M201 83h2M9 138h2M105 152h2M31 109h2M88 105h2M105 97h2M85 135h2M118 126h2M104 91h2M155 111h2M142 110h2M112 124h2M165 127h2M128 102h2M112 102h2M92 133h2M122 125h2M97 120h2M91 133h2M135 127h2M126 135h2M114 113h2M143 137h2M107 106h2M115 110h2M192 135h2M48 107h2M45 104h2M28 91h2M81 128h2M205 96h2M74 125h2M115 116h2M85 107h2M127 125h2M135 119h2M60 108h2M77 176h2M62 144h2M85 99h2M126 131h2M77 132h2M81 98h2M77 94h2M64 95h2M137 91h2M83 144h2M77 126h2M96 114h2M86 127h2M127 103h2M89 106h2M115 151h2M103 119h2M154 105h2M145 70h2M77 85h2M95 102h2M25 119h2M123 125h2M48 117h2M130 108h2M91 116h2M90 105h2M24 106h2M139 133h2M63 103h2M112 87h2M9 127h2M99 93h2M111 117h2M34 92h2M60 88h2M119 96h2M112 96h2M44 110h2M66 73h2M72 76h2M132 117h2M162 87h2M78 121h2M206 160h2M90 127h2M73 133h2M230 108h2M57 98h2M88 96h2M60 115h2M142 105h2M142 119h2M133 94h2M128 99h2M116 130h2M136 94h2M185 111h2M132 144h2M111 84h2M77 116h2M112 93h2M93 100h2M77 132h2M107 112h2M58 112h2M112 130h2M124 95h2M84 98h2M119 111h2M60 87h2M135 104h2M89 120h2M154 119h2M136 84h2M174 88h2M83 129h2M29 121h2M94 112h2M117 83h2M48 86h2M143 117h2M58 136h2M80 70h2M88 101h2M144 132h2M36 117h2M152 120h2M153 86h2M142 93h2M93 106h2M146 121h2M23 90h2M98 137h2M97 89h2M116 111h2M151 113h2M69 114h2M88 70h2M87 118h2M81 133h2M111 85h2M65 73h2M103 144h2M111 103h2M101 119h2M102 83h2M206 123h2M92 131h2M159 87h2M103 121h2M97 128h2M82 117h2M82 127h2M153 155h2M68 74h2M68 111h2M88 125h2M102 74h2M103 124h2M27 111h2M177 127h2M111 90h2M171 98h2M70 101h2M101 82h2M135 115h2M81 127h2M49 78h2M141 109h2M101 120h2M87 138h2M21 104h2M72 97h2M143 114h2M92 150h2M99 94h2M94 110h2M98 71h2M174 89h2M136 147h2M94 111h2M103 146h2M77 123h2M80 131h2M110 92h2M151 93h2M91 146h2M66 118h2M135 121h2M123 111h2M59 127h2M88 118h2M81 135h2M77 87h2M153 122h2M122 161h2M87 111h2M59 115h2M74 133h2M139 92h2M83 100h2M41 100h2M107 154h2M114 95h2M102 122h2M36 89h2M82 104h2M129 130h2M23 104h2M119 134h2M106 101h2M142 138h2M136 124h2M88 99h2M100 61h2M79 111h2M70 91h2M108 83h2M92 83h2M35 106h2M169 121h2M150 113h2M101 90h2M70 113h2M105 144h2M140 99h2M97 99h2M151 141h2M95 124h2M164 121h2M112 107h2M58 119h2M118 107h2M155 83h2M155 158h2M99 139h2M119 79h2M136 141h2M33 160h2M108 115h2M132 116h2M141 162h2M211 67h2M42 160h2M120 122h2M68 35h2M64 34h2M199 136h2M188 95h2M159 117h2M140 37h2M36 80h2M29 59h2M153 35h2M150 128h2M128 22h2M168 37h2M105 132h2M21 137h2M71 26h2M30 166h2M120 75h2M161 139h2M114 152h2M180 158h2M132 45h2M33 125h2M156 150h2M194 65h2M42 64h2M51 124h2M188 169h2M16 73h2M161 53h2M46 28h2M75 85h2M15 77h2M178 19h2M85 28h2M114 102h2M167 155h2M17 34h2M163 111h2M101 121h2M75 134h2M107 120h2M59 134h2M116 56h2M170 145h2M32 169h2M76 40h2M102 74h2M183 28h2M181 119h2M87 91h2M108 32h2M43 166h2M120 96h2M52 86h2M48 171h2M207 60h2M56 77h2M205 70h2M88 127h2M143 23h2M69 98h2M71 84h2M23 18h2M31 39h2M125 51h2M23 158h2M132 23h2M174 77h2M48 75h2M187 169h2M163 95h2M60 172h2M107 55h2M50 50h2M108 148h2M108 28h2M93 155h2M59 19h2M135 138h2M99 66h2M72 28h2M153 115h2M90 124h2M176 74h2M86 79h2M69 153h2M106 35h2M153 117h2M146 130h2M174 48h2M27 129h2M165 36h2M102 76h2M97 83h2M117 113h2M136 102h2M131 44h2M183 168h2M83 45h2M41 30h2M149 34h2M187 25h2M193 113h2M180 67h2M184 99h2M199 169h2M94 96h2M209 160h2M187 53h2M49 111h2M113 32h2M189 26h2M84 119h2M80 25h2M76 117h2M48 97h2M92 162h2M155 58h2M26 107h2M149 56h2M69 86h2M102 74h2M198 72h2M66 29h2M206 167h2M154 127h2M165 170h2M158 48h2M17 151h2M174 102h2M129 29h2M121 125h2M119 171h2M136 66h2M101 131h2M34 79h2M192 107h2M42 101h2M122 37h2M77 161h2M199 50h2M15 89h2" stroke="#ee2244" stroke-opacity="0.55" stroke-width="1.6"/><ellipse cx="223.1" cy="321.0" rx="12.2" ry="5.3" fill="#f00" fill-opacity="0.3" filter="url(#blur2)"/><ellipse cx="223.1" cy="321.0" rx="10.6" ry="4.1" fill="#f00" fill-opacity="1" filter="url(#blur)"/><path d="M202.5 245.5H335.5V336.5H202.5Z M241.5 245.5V336.5 M202.5 290.5H335.5" fill="none" stroke="#666" stroke-width="1"/><text x="207.5" y="255.5" font-size="5.6" text-anchor="start" fill="#333" font-family="'Liberation Sans', sans-serif">Q1</text><text x="321.0" y="255.5" font-size="5.6" text-anchor="start" fill="#333" font-family="'Liberation Sans', sans-serif">Q2</text><text x="207.5" y="309.5" font-size="5.6" text-anchor="start" fill="#333" font-family="'Liberation Sans', sans-serif">Q3</text><text x="321.0" y="309.5" font-size="5.6" text-anchor="start" fill="#333" font-family="'Liberation Sans', sans-serif">Q4</text><text x="332.0" y="286.6" font-size="13.4" text-anchor="end" fill="#1a1a1a" font-family="'Liberation Serif', serif">9.6%</text><text x="332.0" y="330.9" font-size="13.4" text-anchor="end" fill="#1a1a1a" font-family="'Liberation Serif', serif">20.5%</text><text x="197.9" y="346.5" font-size="4.8" text-anchor="start" fill="#444" font-family="'Liberation Sans', sans-serif">-517</text><text x="268.3" y="349.7" font-size="4.8" text-anchor="middle" fill="#444" font-family="'Liberation Sans', sans-serif">FITC-A</text><text x="219.5" y="343.5" font-size="4.8" text-anchor="middle" fill="#444" font-family="'Liberation Sans', sans-serif">0</text><text x="230.4" y="343.5" font-size="4.8" text-anchor="middle" fill="#444" font-family="'Liberation Sans', sans-serif">10<tspan dy="-1.8" font-size="3.6">2</tspan></text><text x="262.0" y="343.5" font-size="4.8" text-anchor="middle" fill="#444" font-family="'Liberation Sans', sans-serif">10<tspan dy="-1.8" font-size="3.6">3</tspan></text><text x="292.9" y="343.5" font-size="4.8" text-anchor="middle" fill="#444" font-family="'Liberation Sans', sans-serif">10<tspan dy="-1.8" font-size="3.6">4</tspan></text><text x="323.0" y="343.5" font-size="4.8" text-anchor="middle" fill="#444" font-family="'Liberation Sans', sans-serif">10<tspan dy="-1.8" font-size="3.6">5</tspan></text><text x="199.5" y="253.5" font-size="4.8" text-anchor="middle" fill="#444" font-family="'Liberation Sans', sans-serif" transform="rotate(-90 199.5 253.5)">10<tspan dy="-1.8" font-size="3.6">5</tspan></text><text x="199.5" y="273.3" font-size="4.8" text-anchor="middle" fill="#444" font-family="'Liberation Sans', sans-serif" transform="rotate(-90 199.5 273.3)">10<tspan dy="-1.8" font-size="3.6">4</tspan></text><text x="199.5" y="295.6" font-size="4.8" text-anchor="middle" fill="#444" font-family="'Liberation Sans', sans-serif" transform="rotate(-90 199.5 295.6)">10<tspan dy="-1.8" font-size="3.6">3</tspan></text><text x="199.5" y="320.5" font-size="4.8" text-anchor="middle" fill="#444" font-family="'Liberation Sans', sans-serif" transform="rotate(-90 199.5 320.5)">0</text><text x="199.5" y="334.2" font-size="4.8" text-anchor="middle" fill="#444" font-family="'Liberation Sans', sans-serif" transform="rotate(-90 199.5 334.2)">-324</text><path d="M200.5 253.5h2.0M200.5 273.3h2.0M200.5 295.6h2.0M200.5 320.5h2.0M200.5 334.2h2.0M219.5 336.5v2.0M230.4 336.5v2.0M262.0 336.5v2.0M292.9 336.5v2.0M323.0 336.5v2.0" stroke="#555" stroke-width="0.80"/><text x="190.5" y="289.2" font-size="5.6" text-anchor="middle" fill="#444" font-family="'Liberation Sans', sans-serif" transform="rotate(-90 190.5 289.2)">PE-Texas Red-A</text><text x="274.8" y="237.3" font-size="18.4" text-anchor="middle" fill="#000" font-family="'Liberation Serif', serif">2 dpi</text><path transform="translate(364.5 244.5) scale(.5)" d="M48 160h2M34 158h2M42 151h2M91 154h2M45 157h2M73 153h2M60 147h2M41 150h2M29 144h2M26 151h2M43 151h2M47 145h2M45 154h2M64 148h2M41 142h2M39 141h2M28 159h2M19 157h2M53 151h2M57 156h2M71 151h2M38 149h2M34 152h2M36 159h2M23 147h2M34 141h2M91 139h2M42 150h2M86 142h2M71 149h2M44 149h2M61 146h2M45 155h2M90 139h2M82 158h2M40 154h2M40 162h2M51 152h2M43 152h2M43 148h2M95 142h2M44 155h2M43 152h2M54 158h2M40 151h2M92 156h2M34 166h2M64 149h2M31 154h2M36 147h2M30 150h2M72 150h2M28 156h2M47 157h2M75 152h2M44 152h2M32 156h2M79 154h2M43 151h2M36 148h2M41 148h2M40 144h2M54 153h2M32 140h2M45 159h2M37 150h2M39 156h2M35 158h2M42 158h2M46 151h2M28 149h2M42 156h2M51 149h2M55 158h2M44 150h2M41 157h2M59 148h2M55 150h2M37 160h2M65 149h2M47 155h2M38 152h2M62 143h2M53 157h2M58 145h2M53 148h2M59 156h2M51 148h2M38 157h2M35 155h2M58 151h2M103 153h2M97 142h2M19 158h2M61 151h2M45 142h2M38 147h2M43 158h2M47 155h2M37 150h2M48 151h2M76 148h2M91 147h2M71 148h2M85 153h2M55 157h2M38 147h2M21 159h2M37 149h2M45 164h2M25 154h2M41 156h2M24 151h2M66 161h2M84 148h2M47 152h2M29 145h2M64 154h2M44 159h2M33 156h2M46 152h2M57 154h2M52 154h2M92 151h2M70 156h2M41 157h2M35 159h2M36 150h2M53 157h2M67 158h2M43 147h2M59 154h2M34 158h2M50 147h2M56 145h2M35 155h2M27 153h2M29 157h2M37 154h2M27 151h2M68 155h2M23 158h2M67 151h2M80 147h2M45 159h2M77 160h2M32 143h2M55 145h2M44 146h2M71 157h2M59 153h2M47 151h2M55 154h2M57 150h2M91 154h2M79 160h2M35 143h2M76 151h2M48 151h2M49 146h2M44 150h2M45 140h2M65 155h2M25 149h2M46 156h2M46 160h2M46 147h2M37 157h2M38 157h2M70 156h2M70 152h2M45 149h2M38 144h2M39 147h2M28 154h2M57 151h2M79 158h2M71 149h2M28 156h2M53 157h2M56 160h2M42 156h2M35 140h2M40 161h2M25 158h2M37 151h2M47 154h2M34 153h2M56 157h2M36 161h2M92 166h2M29 154h2M23 155h2M59 146h2M26 154h2M61 148h2M42 139h2M37 154h2M49 161h2M32 140h2M56 149h2M52 157h2M60 161h2M78 144h2M45 164h2M41 158h2M45 150h2M84 158h2M43 158h2M30 149h2M67 153h2M33 155h2M53 160h2M69 151h2M40 152h2M43 161h2M84 160h2M55 151h2M67 151h2M51 144h2M40 161h2M33 144h2M44 162h2M81 151h2M40 152h2M34 153h2M42 145h2M39 151h2M35 147h2M67 163h2M42 150h2M58 151h2M36 160h2M33 149h2M38 148h2M43 156h2M80 156h2M46 146h2M45 148h2M44 158h2M50 152h2M36 153h2M48 148h2M39 158h2M26 150h2M31 161h2M60 156h2M55 154h2M53 144h2M52 156h2M28 157h2M62 144h2M40 151h2M39 155h2M30 151h2M51 157h2M47 151h2M62 142h2M68 151h2M30 150h2M23 141h2M42 148h2M63 148h2M30 147h2M87 153h2M38 147h2M32 152h2M56 159h2M73 154h2M38 148h2M18 147h2M56 151h2M54 145h2M67 154h2M47 155h2M19 150h2M35 163h2M43 150h2M66 147h2M80 149h2M45 148h2M65 141h2M62 148h2M47 146h2M51 154h2M60 154h2M61 158h2M41 146h2M30 156h2M41 159h2M47 147h2M67 163h2M43 148h2M35 158h2M39 150h2M62 153h2M48 150h2M38 154h2M49 156h2M40 155h2M57 153h2M59 158h2M50 153h2M34 155h2M44 151h2M36 156h2M107 155h2M48 155h2M38 153h2M38 149h2M51 154h2M44 148h2M52 147h2M64 151h2M46 157h2M59 146h2M43 155h2M32 139h2M45 152h2M56 153h2M49 154h2M79 155h2M59 151h2M73 152h2M63 141h2M51 152h2M40 160h2M55 152h2M39 163h2M64 156h2M36 160h2M59 151h2M44 144h2M61 147h2M66 150h2M38 155h2M51 147h2M45 156h2M43 145h2M43 147h2M39 153h2M45 152h2M26 155h2M43 150h2M49 163h2M30 144h2M64 148h2M77 147h2M40 157h2M67 155h2M56 152h2M40 152h2M76 157h2M46 154h2M65 159h2M44 152h2M53 167h2M51 160h2M27 157h2M29 147h2M38 152h2M50 155h2M51 150h2M108 155h2M62 164h2M69 156h2M53 163h2M33 147h2M49 142h2M36 159h2M40 154h2M62 146h2M52 149h2M32 151h2M45 151h2M38 158h2M73 156h2M44 147h2M36 147h2M51 158h2M67 153h2M41 154h2M48 156h2M81 149h2M96 141h2M24 144h2M33 151h2M95 149h2M72 151h2M49 147h2M100 153h2M38 165h2M50 155h2M44 148h2M28 152h2M84 155h2M43 159h2M34 160h2M45 148h2M62 156h2M41 154h2M69 160h2M35 138h2M94 151h2M41 155h2M40 158h2M31 152h2M31 161h2M43 159h2M79 146h2M43 157h2M47 152h2M66 158h2M38 152h2M61 154h2M49 147h2M88 151h2M52 153h2M47 154h2M36 155h2M74 155h2M63 155h2M46 163h2M37 155h2M70 154h2M33 147h2M83 147h2M46 156h2M48 143h2M23 152h2M36 151h2M48 154h2M30 144h2M68 149h2M32 142h2M58 146h2M33 156h2M53 156h2M30 137h2M34 151h2M38 158h2M54 147h2M59 152h2M40 159h2M26 158h2M72 141h2M43 152h2M32 150h2M36 153h2M39 141h2M74 158h2M36 158h2M94 144h2M41 150h2M59 151h2M29 160h2M42 157h2M101 149h2M41 158h2M44 156h2M46 168h2M61 155h2M49 155h2M26 151h2M64 146h2M47 152h2M39 167h2M63 155h2M36 153h2M42 152h2M51 167h2M78 162h2M79 168h2M38 146h2M51 154h2M46 149h2M62 162h2M51 151h2M74 151h2M41 154h2M18 163h2M44 156h2M53 155h2M29 163h2M60 154h2M122 146h2M64 152h2M28 163h2M27 154h2M45 154h2M34 160h2M52 146h2M31 154h2M32 155h2M54 150h2M22 146h2M54 150h2M91 150h2M55 156h2M48 154h2M70 152h2M54 151h2M94 154h2M66 136h2M40 147h2M47 150h2M33 151h2M65 159h2M39 159h2M38 156h2M35 159h2M102 151h2M75 145h2M38 167h2M45 156h2M26 153h2M36 159h2M39 167h2M32 155h2M21 151h2M75 152h2M30 155h2M69 155h2M70 145h2M90 157h2M20 163h2M40 156h2M22 149h2M24 157h2M43 148h2M41 159h2M36 156h2M31 144h2M40 151h2M50 158h2M41 151h2M64 155h2M45 154h2M19 150h2M26 151h2M67 143h2M68 150h2M43 150h2M63 149h2M21 155h2M44 156h2M60 146h2M51 153h2M45 153h2M53 150h2M44 158h2M33 152h2M33 147h2M41 154h2M82 152h2M68 156h2M47 136h2M49 153h2M33 153h2M81 146h2M39 158h2M24 147h2M53 158h2M75 157h2M101 155h2M30 152h2M61 155h2M22 155h2M36 152h2M81 152h2M38 152h2M38 164h2M65 158h2M37 149h2M52 141h2M70 146h2M48 155h2M36 155h2M62 163h2M55 163h2M57 152h2M66 150h2M49 156h2M73 154h2M28 160h2M50 151h2M36 156h2M54 156h2M44 161h2M42 155h2M50 159h2M37 151h2M43 149h2M38 146h2M64 161h2M34 157h2M32 148h2M42 153h2M56 142h2M30 153h2M43 164h2M42 149h2M75 138h2M23 168h2M38 153h2M43 148h2M44 145h2M69 157h2M62 148h2M22 150h2M32 155h2M26 148h2M49 155h2M48 146h2M37 164h2M68 148h2M91 152h2M45 148h2M82 153h2M45 148h2M30 154h2M46 161h2M35 151h2M69 157h2M37 161h2M57 158h2M54 158h2M40 152h2M72 155h2M54 159h2M51 155h2M19 150h2M65 148h2M42 154h2M44 157h2M57 152h2M72 151h2M37 154h2M61 152h2M33 150h2M51 156h2M88 152h2M43 141h2M76 158h2M46 149h2M14 157h2M36 161h2M64 160h2M44 159h2M29 161h2M45 146h2M41 147h2M52 149h2M30 151h2M43 154h2M62 160h2M55 162h2M16 152h2M68 145h2M43 154h2M27 150h2M60 151h2M82 166h2M45 146h2M45 150h2M28 150h2M40 151h2M68 159h2M55 151h2M56 153h2M51 147h2M8 158h2M38 150h2M45 152h2M42 161h2M49 154h2M35 152h2M57 152h2M53 148h2M54 147h2M40 148h2M50 159h2M52 148h2M49 158h2M63 155h2M32 150h2M37 150h2M51 153h2M41 156h2M37 151h2M48 145h2M35 145h2M33 152h2M44 155h2M53 146h2M90 160h2M31 149h2M40 154h2M60 153h2M15 168h2M66 157h2M37 153h2M68 150h2M73 153h2M83 153h2M81 144h2M80 155h2M41 159h2M42 157h2M68 158h2M98 160h2M105 157h2M49 155h2M45 146h2M49 146h2M42 151h2M39 147h2M48 153h2M78 156h2M68 150h2M42 146h2M35 157h2M43 152h2M39 161h2M45 159h2M45 158h2M34 145h2M72 151h2M52 158h2M62 154h2M31 149h2M46 156h2M58 155h2M36 153h2M69 148h2M39 158h2M84 155h2M46 147h2M44 148h2M49 157h2M56 160h2M33 146h2M78 158h2M34 153h2M33 153h2M53 158h2M34 146h2M59 151h2M79 146h2M38 138h2M73 160h2M55 151h2M21 145h2M39 163h2M67 149h2M56 156h2M58 148h2M40 158h2M62 151h2M104 154h2M41 158h2M65 152h2M89 159h2M46 157h2M62 151h2M63 150h2M43 156h2M31 151h2M34 157h2M39 163h2M82 149h2M49 151h2M46 156h2M81 165h2M90 146h2M40 152h2M42 154h2M61 150h2M39 166h2M62 165h2M39 160h2M86 160h2M37 156h2M36 147h2M46 156h2M43 152h2M61 149h2M56 157h2M61 156h2M34 151h2M41 157h2M25 154h2M27 156h2M39 153h2M68 162h2M34 153h2M22 152h2M37 156h2M44 153h2M32 151h2M32 153h2M27 154h2M72 167h2M82 160h2M65 161h2M45 155h2M23 150h2M73 143h2M53 152h2M41 155h2M46 147h2M45 143h2M82 153h2M67 148h2M90 158h2M54 154h2M55 149h2M44 152h2M55 161h2M74 154h2M61 151h2M40 144h2M31 146h2M45 152h2M56 159h2M62 152h2M40 151h2M61 148h2M28 152h2M71 159h2M60 142h2M44 157h2M72 163h2M34 155h2M27 152h2M41 157h2M50 143h2M44 155h2M81 149h2M35 150h2M70 151h2M48 155h2M36 159h2M26 163h2M38 148h2M37 146h2M35 148h2M32 152h2M53 150h2M50 148h2M51 151h2M33 153h2M44 149h2M45 156h2M31 150h2M61 153h2M64 166h2M31 155h2M41 161h2M59 145h2M72 153h2M42 153h2M51 148h2M41 160h2M33 149h2M64 148h2M43 154h2M35 151h2M35 152h2M52 153h2M51 155h2M64 147h2M48 161h2M43 151h2M46 149h2M59 153h2M44 157h2M74 145h2M40 151h2M29 156h2M96 157h2M76 142h2M40 145h2M64 152h2M43 155h2M64 162h2M78 158h2M26 160h2M48 144h2M50 151h2M44 158h2M29 156h2M74 146h2M79 149h2M37 158h2M45 143h2M38 156h2M39 150h2M46 153h2M130 148h2M118 152h2M104 165h2M121 149h2M166 155h2M158 149h2M159 163h2M93 151h2M71 149h2M147 148h2M119 155h2M82 146h2M171 149h2M117 146h2M99 147h2M80 146h2M184 160h2M79 145h2M70 150h2M131 140h2M72 150h2M91 144h2M121 143h2M146 155h2M185 158h2M178 157h2M131 141h2M55 146h2M153 146h2M83 146h2M125 157h2M77 157h2M176 154h2M147 145h2M92 148h2M163 151h2M148 152h2M157 149h2M54 145h2M57 149h2M97 159h2M83 146h2M156 143h2M94 163h2M58 154h2M76 151h2M149 158h2M164 157h2M121 146h2M158 161h2M120 148h2M95 148h2M186 152h2M70 152h2M73 153h2M67 148h2M148 160h2M102 167h2M170 154h2M152 148h2M96 152h2M138 154h2M117 148h2M70 163h2M100 157h2M168 155h2M108 154h2M129 156h2M79 154h2M165 150h2M126 154h2M58 146h2M67 151h2M61 151h2M151 161h2M160 143h2M116 159h2M116 145h2M98 155h2M76 152h2M103 164h2M119 164h2M144 155h2M168 149h2M180 151h2M154 155h2M169 154h2M123 146h2M62 152h2M145 158h2M59 153h2M182 151h2M74 157h2M180 141h2M104 150h2M159 147h2M61 158h2M57 146h2M177 151h2M77 154h2M55 150h2M186 162h2M127 159h2M140 142h2M92 152h2M115 156h2M71 151h2M119 146h2M115 149h2M76 149h2M136 154h2M182 161h2M93 160h2M178 150h2M112 152h2M70 142h2M111 146h2M132 148h2M172 155h2M64 140h2M138 141h2M54 141h2M67 158h2M139 151h2M121 146h2M117 156h2M185 141h2M82 149h2M140 143h2M167 145h2M59 160h2M77 150h2M103 156h2M160 154h2M140 154h2M61 149h2M92 142h2M81 152h2M144 147h2M152 149h2M58 148h2M56 150h2M105 143h2M91 151h2M175 153h2M54 148h2M181 149h2M68 153h2M138 155h2M134 157h2M88 143h2M153 139h2M127 148h2M129 148h2M130 145h2M146 148h2M71 148h2M55 134h2M76 154h2M157 152h2M120 160h2M54 156h2M162 147h2M170 166h2M64 149h2M147 154h2M60 155h2M164 153h2M75 149h2M115 158h2M96 157h2M105 150h2M164 152h2M160 156h2M84 161h2M91 144h2M86 162h2M100 160h2M87 154h2M166 156h2M63 143h2M111 149h2M108 148h2M157 154h2M170 147h2M173 150h2M70 156h2M159 160h2M118 166h2M66 163h2M87 163h2M147 151h2M58 156h2M54 147h2M152 154h2M102 151h2M171 149h2M150 157h2M100 164h2M164 152h2M139 155h2M119 161h2M106 147h2M70 150h2M173 150h2M184 154h2M110 149h2M65 147h2M86 154h2M173 147h2M82 155h2M100 149h2M63 156h2M90 158h2M113 153h2M84 157h2M170 158h2M163 155h2M118 151h2M61 174h2M64 159h2M164 153h2M79 149h2M58 163h2M54 150h2M112 149h2M64 142h2M101 144h2M78 145h2M57 145h2M75 146h2M78 157h2M131 151h2M88 166h2M72 155h2M72 153h2M168 146h2M181 155h2M182 152h2M85 147h2M109 151h2M71 158h2M75 152h2M100 143h2M104 144h2M55 145h2M161 146h2M180 153h2M147 151h2M99 153h2M100 150h2M119 154h2M76 152h2M81 144h2M158 149h2M79 153h2M57 139h2M177 158h2M130 154h2M70 156h2M91 151h2M107 151h2M98 145h2M94 142h2M123 151h2M128 159h2M56 144h2M68 151h2M76 154h2M69 146h2M80 145h2M88 151h2M84 153h2M123 159h2M59 147h2M184 149h2M177 159h2M87 159h2M61 162h2M152 142h2M128 160h2M134 151h2M131 160h2M82 142h2M71 144h2M88 149h2M164 158h2M113 144h2M137 156h2M63 163h2M171 148h2M69 148h2M123 142h2M60 154h2M166 146h2M144 155h2M124 147h2M103 154h2M55 151h2M62 164h2M59 155h2M112 147h2M121 151h2M149 146h2M54 155h2M126 147h2M82 152h2M123 146h2M84 157h2M70 142h2M147 156h2M69 150h2M176 155h2M150 151h2M176 151h2M81 163h2M152 145h2M63 151h2M131 150h2M56 147h2M60 151h2M145 173h2M170 152h2M92 148h2M179 164h2M157 136h2M140 153h2M98 138h2M55 151h2M78 153h2M121 151h2M60 157h2M89 143h2M178 151h2M58 152h2M176 154h2M127 145h2M54 142h2M171 147h2M95 160h2M145 150h2M76 157h2M142 148h2M89 153h2M118 146h2M161 158h2M129 154h2M165 147h2M177 150h2M59 152h2M147 159h2M109 144h2M114 158h2M188 158h2M71 142h2M130 144h2M88 153h2M175 162h2M167 143h2M156 158h2M91 152h2M70 145h2M54 150h2M56 141h2M57 150h2M143 156h2M69 145h2M88 148h2M163 145h2M133 155h2M95 158h2M146 166h2M115 143h2M81 152h2M58 139h2M60 148h2M184 136h2M149 168h2M78 155h2M184 165h2M155 145h2M151 148h2M158 154h2M158 147h2M180 151h2M69 151h2M130 139h2M129 158h2M138 156h2M140 158h2M173 156h2M108 149h2M184 154h2M68 153h2M143 147h2M158 161h2M155 161h2M154 154h2M138 160h2M125 143h2M165 149h2M80 151h2M176 148h2M166 158h2M136 154h2M109 145h2M58 153h2M113 155h2M112 160h2M60 156h2M92 159h2M64 153h2M177 144h2M100 161h2M85 155h2M110 147h2M129 162h2M56 151h2M102 164h2M90 148h2M63 150h2M68 163h2M169 151h2M137 162h2M75 143h2M78 151h2M113 141h2M80 140h2M67 143h2M106 151h2M173 154h2M104 159h2M70 145h2M91 154h2M150 169h2M72 150h2M91 154h2M59 151h2M57 159h2M99 150h2M60 167h2M136 138h2M173 147h2M68 149h2M82 155h2M56 157h2M56 162h2M156 144h2M88 144h2M152 154h2M82 144h2M161 151h2M88 158h2M168 152h2M67 149h2M78 149h2M126 157h2M121 156h2M93 152h2M79 139h2M148 152h2M121 143h2M118 151h2M78 142h2M130 150h2M170 145h2M83 144h2M123 149h2M68 150h2M113 149h2M101 148h2M185 140h2M73 158h2M109 148h2M56 155h2M79 148h2M82 152h2M80 157h2M113 145h2M176 160h2M176 145h2M143 159h2M142 148h2M147 154h2M131 146h2M58 159h2M151 166h2M62 142h2M137 153h2M124 148h2M69 152h2M79 153h2M162 142h2M182 146h2M65 160h2M130 141h2M86 155h2M91 158h2M77 148h2M77 144h2M67 142h2M133 152h2M129 160h2M100 145h2M145 149h2M67 147h2M91 150h2M82 141h2M114 160h2M101 156h2M149 153h2M182 150h2M67 170h2M73 148h2M81 160h2M147 163h2M182 154h2M150 146h2M89 149h2M138 158h2M84 144h2M153 149h2M104 145h2M103 156h2M143 155h2M56 154h2M96 157h2M128 145h2M176 154h2M73 147h2M113 153h2M59 160h2M93 151h2M65 147h2M146 157h2M125 165h2M169 144h2M77 150h2M57 156h2M59 150h2M176 144h2M174 150h2M143 151h2M131 157h2M135 153h2M109 157h2M57 155h2M65 143h2M120 149h2M98 150h2M153 142h2M74 155h2M187 148h2M54 145h2M89 159h2M68 152h2M75 151h2M80 155h2M109 157h2M179 158h2M141 155h2M132 151h2M75 159h2M141 149h2M150 154h2M156 154h2M157 150h2M55 152h2M154 150h2M134 146h2M155 162h2M184 152h2M165 157h2M124 147h2M62 154h2M95 143h2M56 155h2M174 158h2M104 155h2M76 149h2M74 149h2M90 163h2M84 149h2M167 145h2M137 155h2M94 146h2M101 167h2M118 151h2M107 163h2M124 157h2M96 155h2M139 158h2M78 151h2M107 159h2M54 158h2M139 154h2M92 157h2M70 152h2M148 154h2M80 170h2M68 159h2M110 153h2M151 148h2M57 145h2M175 152h2M67 157h2M121 149h2M77 147h2M54 143h2M62 146h2M75 152h2M64 142h2M186 150h2M84 142h2M182 143h2M185 155h2M160 153h2M71 155h2M62 158h2M105 146h2M90 145h2M142 152h2M96 160h2M165 143h2M146 155h2M161 158h2M89 148h2M158 150h2M86 144h2M59 161h2M54 146h2M61 155h2M93 153h2M174 139h2M153 157h2M101 155h2M55 153h2M151 147h2M134 151h2M101 158h2M70 159h2M73 152h2M76 154h2M96 141h2M55 152h2M60 147h2M146 156h2M114 149h2M168 146h2M66 151h2M55 161h2M68 144h2M129 156h2M91 162h2M137 149h2M118 151h2M131 153h2M78 152h2M141 159h2M164 151h2M140 151h2M161 159h2M106 142h2M65 151h2M102 144h2M137 151h2M78 145h2M61 153h2M152 160h2M96 150h2M90 146h2M78 154h2M179 149h2M132 155h2M54 147h2M157 158h2M82 168h2M54 157h2M97 133h2M89 150h2M75 150h2M65 158h2M170 141h2M79 151h2M133 156h2M180 149h2M80 149h2M103 137h2M176 146h2M175 156h2M123 155h2M113 153h2M87 163h2M85 156h2M171 149h2M97 155h2M158 159h2M76 147h2M112 151h2M54 158h2M54 162h2M75 147h2M125 163h2M124 155h2M141 146h2M156 155h2M84 155h2M173 153h2M79 159h2M63 155h2M98 152h2M97 147h2M176 161h2M55 142h2M183 148h2M185 150h2M62 153h2M58 152h2M104 145h2M157 146h2M61 151h2M180 146h2M126 151h2M173 149h2M80 154h2M151 158h2M84 143h2M75 153h2M62 143h2M134 157h2M71 145h2M138 142h2M68 170h2M139 157h2M78 151h2M127 143h2M89 149h2M92 146h2M85 151h2M81 139h2M58 152h2M89 163h2M54 156h2M58 146h2M145 139h2M160 151h2M158 156h2M155 148h2M107 149h2M126 148h2M58 154h2M118 149h2M161 158h2M98 141h2M58 157h2M165 151h2M96 144h2M115 155h2M151 148h2M113 150h2M60 154h2M90 149h2M121 144h2M153 163h2M86 142h2M110 156h2M128 147h2M121 159h2M170 145h2M72 161h2M80 153h2M60 167h2M80 142h2M132 154h2M62 144h2M64 158h2M62 152h2M59 152h2M69 155h2M98 147h2M114 153h2M69 151h2M95 150h2M99 149h2M118 157h2M57 154h2M172 156h2M125 152h2M73 147h2M186 149h2M118 149h2M105 155h2M150 150h2M110 142h2M176 145h2M180 157h2M152 140h2M149 154h2M81 143h2M91 158h2M88 149h2M77 151h2M185 152h2M54 163h2M83 146h2M178 151h2M180 151h2M174 155h2M153 150h2M54 152h2M136 149h2M86 145h2M79 147h2M124 157h2M96 149h2M132 156h2M177 156h2M130 162h2M74 160h2M65 161h2M62 162h2M92 158h2M54 150h2M104 159h2M65 158h2M78 144h2M84 152h2M124 153h2M79 145h2M84 141h2M80 147h2M56 157h2M93 151h2M159 155h2M137 149h2M142 152h2M92 159h2M75 146h2M146 147h2M153 149h2M85 153h2M125 153h2M78 153h2M150 153h2M79 160h2M157 141h2M73 160h2M162 149h2M172 149h2M170 157h2M80 153h2M116 153h2M82 153h2M94 151h2M140 142h2M130 144h2M166 164h2M123 149h2M94 147h2M76 151h2M111 146h2M59 154h2M184 148h2M88 158h2M116 155h2M123 137h2M177 147h2M86 157h2M182 155h2M149 155h2M74 157h2M103 154h2M102 152h2M80 158h2M68 147h2M69 152h2M175 157h2M112 148h2M60 159h2M178 153h2M59 141h2M54 155h2M121 151h2M158 163h2M168 152h2M131 149h2M117 150h2M104 156h2M97 139h2M73 161h2M163 158h2M100 160h2M94 148h2M72 152h2M96 156h2M136 163h2M127 151h2M54 148h2M59 157h2M183 147h2M85 145h2M162 158h2M98 146h2M74 152h2M171 158h2M64 148h2M165 141h2M97 154h2M59 152h2M177 149h2M67 152h2M72 152h2M130 154h2M57 154h2M54 147h2M146 151h2M135 137h2M182 151h2M83 153h2M69 142h2M151 161h2M171 154h2M130 149h2M96 143h2M61 148h2M156 156h2M167 157h2M169 151h2M171 160h2M60 153h2M59 142h2M68 155h2M84 144h2M62 153h2M67 157h2M185 152h2M69 152h2M164 142h2M154 157h2M159 154h2M130 153h2M160 150h2M94 154h2M89 144h2M112 167h2M166 154h2M130 145h2M100 143h2M75 141h2M165 137h2M154 155h2M79 157h2M117 159h2M120 147h2M98 154h2M185 156h2M172 146h2M73 144h2M55 153h2M70 152h2M184 148h2M60 150h2M54 155h2M86 152h2M66 153h2M63 161h2M64 153h2M127 147h2M80 152h2M78 151h2M164 149h2M71 161h2M61 145h2M55 155h2M112 146h2M147 155h2M168 147h2M149 155h2M147 143h2M87 151h2M142 141h2M82 146h2M58 157h2M154 145h2M145 153h2M165 146h2M125 149h2M60 154h2M73 149h2M126 157h2M181 143h2M54 148h2M137 141h2M88 149h2M129 141h2M99 151h2M158 157h2M108 146h2M139 135h2M176 150h2M108 151h2M171 149h2M125 153h2M161 152h2M151 147h2M75 147h2M106 159h2M56 147h2M71 163h2M162 158h2M175 147h2M57 154h2M76 148h2M86 157h2M142 156h2M157 147h2M81 151h2M59 163h2M58 159h2M96 151h2M149 157h2M155 148h2M63 157h2M92 148h2M54 158h2M62 154h2M132 157h2M146 152h2M120 144h2M106 144h2M159 157h2M112 160h2M70 154h2M128 167h2M108 139h2M128 152h2M73 163h2M151 147h2M139 149h2M184 147h2M140 158h2M98 162h2M57 155h2M97 149h2M60 144h2M157 151h2M180 159h2M94 145h2M177 153h2M117 157h2M90 149h2M75 150h2M54 147h2M156 154h2M76 155h2M70 161h2M160 148h2M138 151h2M187 149h2M115 159h2M179 154h2M92 152h2M155 145h2M118 156h2M54 165h2M94 155h2M100 142h2M169 148h2M59 151h2M115 151h2M156 146h2M163 153h2M137 159h2M83 148h2M137 151h2M63 152h2M180 151h2M146 150h2M147 170h2M67 157h2M109 150h2M88 145h2M105 141h2M167 140h2M186 154h2M88 145h2M172 157h2M152 149h2M88 159h2M170 154h2M113 157h2M153 140h2M81 154h2M109 150h2M59 142h2M156 161h2M186 145h2M66 149h2M106 157h2M163 149h2M82 153h2M181 148h2M62 159h2M150 156h2M140 143h2M71 157h2M85 151h2M56 156h2M72 143h2M86 150h2M124 146h2M54 162h2M149 159h2M128 147h2M184 154h2M109 154h2M142 145h2M99 150h2M102 154h2M131 150h2M60 155h2M154 148h2M84 147h2M180 146h2M104 144h2M76 151h2M177 150h2M71 155h2M141 159h2M180 147h2M73 160h2M72 145h2M60 146h2M107 155h2M141 152h2M86 157h2M66 144h2M78 155h2M64 151h2M163 149h2M125 152h2M161 153h2M55 152h2M136 144h2M70 151h2M121 147h2M182 149h2M75 150h2M95 157h2M93 142h2M121 147h2M84 158h2M178 148h2M126 156h2M72 157h2M158 156h2M90 151h2M123 157h2M78 144h2M56 150h2M84 154h2M146 148h2M58 145h2M130 152h2M54 157h2M174 156h2M108 157h2M185 146h2M58 155h2M72 148h2M112 133h2M177 162h2M142 152h2M100 156h2M84 153h2M77 156h2M81 156h2M179 155h2M160 140h2M177 141h2M60 157h2M113 153h2M187 162h2M153 153h2M77 153h2M60 139h2M131 141h2M65 154h2M132 153h2M99 152h2M87 148h2M187 154h2M96 146h2M167 152h2M67 156h2M166 150h2M98 148h2M157 149h2M72 154h2M170 143h2M184 152h2M169 165h2M179 161h2M163 151h2M184 156h2M141 162h2M172 137h2M125 151h2M179 146h2M131 165h2M125 160h2M142 158h2M163 153h2M171 149h2M153 144h2M152 144h2M164 158h2M149 149h2M161 152h2M125 147h2M154 149h2M175 160h2M149 155h2M172 160h2M169 154h2M167 151h2M158 151h2M157 155h2M153 143h2M159 139h2M154 149h2M151 153h2M160 146h2M122 156h2M177 152h2M131 162h2M162 148h2M118 158h2M191 151h2M146 153h2M164 150h2M143 148h2M164 147h2M133 163h2M147 127h2M162 155h2M147 145h2M170 148h2M173 155h2M156 166h2M167 139h2M171 159h2M170 172h2M169 161h2M153 148h2M148 151h2M168 155h2M171 156h2M140 138h2M154 161h2M150 147h2M150 159h2M163 147h2M156 149h2M151 158h2M157 157h2M132 161h2M128 133h2M150 158h2M156 161h2M176 162h2M151 154h2M138 152h2M160 159h2M128 130h2M146 149h2M169 154h2M156 160h2M143 155h2M175 167h2M180 149h2M174 149h2M154 145h2M139 141h2M148 140h2M144 148h2M167 138h2M156 157h2M167 153h2M160 157h2M163 158h2M175 169h2M158 153h2M169 149h2M155 146h2M160 153h2M160 152h2M144 155h2M146 147h2M159 148h2M112 148h2M116 149h2M187 157h2M113 169h2M152 147h2M157 148h2M129 151h2M158 155h2M161 149h2M157 144h2M166 166h2M147 157h2M194 140h2M134 170h2M178 161h2M145 150h2M144 157h2M148 146h2M134 157h2M152 155h2M123 153h2M156 159h2M164 150h2M169 151h2M162 164h2M169 147h2M154 157h2M181 153h2M155 146h2M128 155h2M148 142h2M166 150h2M178 151h2M145 163h2M150 160h2M168 141h2M132 145h2M166 147h2M189 161h2M172 156h2M171 158h2M156 151h2M139 153h2M139 139h2M153 150h2M145 159h2M172 165h2M146 158h2M160 162h2M158 149h2M142 153h2M170 156h2M141 145h2M180 152h2M179 148h2M142 138h2M173 143h2M149 158h2M158 151h2M132 162h2M150 161h2M142 161h2M158 150h2M129 161h2M118 163h2M153 161h2M170 166h2M126 154h2M151 147h2M159 151h2M181 147h2M156 162h2M145 159h2M172 150h2M151 152h2M173 156h2M122 161h2M125 146h2M122 145h2M154 154h2M156 142h2M159 158h2M122 156h2M147 146h2M142 150h2M147 156h2M154 151h2M149 152h2M172 162h2M168 146h2M180 150h2M134 150h2M163 153h2M155 146h2M168 152h2M153 158h2M174 149h2M155 155h2M153 152h2M162 149h2M158 138h2M150 162h2M149 145h2M127 161h2M155 162h2M176 153h2M171 151h2M154 146h2M144 158h2M166 148h2M175 155h2M136 148h2M142 154h2M153 147h2M155 157h2M166 155h2M148 146h2M144 154h2M154 164h2M164 151h2M140 135h2M123 148h2M167 164h2M164 156h2M157 153h2M156 146h2M138 162h2M155 167h2M173 171h2M169 146h2M184 147h2M168 151h2M144 156h2M136 156h2M164 148h2M143 151h2M151 154h2M134 150h2M128 145h2M143 152h2M171 150h2M162 161h2M152 147h2M156 156h2M141 150h2M158 149h2M148 150h2M158 156h2M139 143h2M128 158h2M176 24h2M123 41h2M88 70h2M142 67h2M244 55h2M107 29h2M215 65h2M122 48h2M139 80h2M207 41h2M201 61h2M135 65h2M200 63h2M146 70h2M64 55h2M142 77h2M109 33h2M167 46h2M161 50h2M87 62h2M180 46h2M123 32h2M214 63h2M162 47h2M132 71h2M243 39h2M167 70h2M160 59h2M171 93h2M172 49h2M109 39h2M76 66h2M177 62h2M216 79h2M163 38h2M217 72h2M165 22h2M206 47h2M78 57h2M200 79h2M135 72h2M153 54h2M112 81h2M79 76h2M144 44h2M112 56h2M117 33h2M134 55h2M166 47h2M100 32h2M138 57h2M133 53h2M163 65h2M175 74h2M150 37h2M165 53h2M133 68h2M92 49h2M143 72h2M123 65h2M213 65h2M192 58h2M156 72h2M130 27h2M188 38h2M149 57h2M200 83h2M121 66h2M128 67h2M162 68h2M106 59h2M168 58h2M195 58h2M100 28h2M106 69h2M161 35h2M128 53h2M123 31h2M131 78h2M155 63h2M126 73h2M127 63h2M211 49h2M147 61h2M130 19h2M138 30h2M211 50h2M183 68h2M108 68h2M181 75h2M141 43h2M124 44h2M129 39h2M194 51h2M165 57h2M144 48h2M154 36h2M127 69h2M178 38h2M111 65h2M111 47h2M140 39h2M146 63h2M126 58h2M158 65h2M95 84h2M118 54h2M106 58h2M219 65h2M27 53h2M130 46h2M169 54h2M161 63h2M162 63h2M168 50h2M128 56h2M143 62h2M128 65h2M132 5h2M166 72h2M63 22h2M204 65h2M111 66h2M131 31h2M94 75h2M125 49h2M159 66h2M180 25h2M178 74h2M163 58h2M128 36h2M111 63h2M113 60h2M130 93h2M199 65h2M167 69h2M172 58h2M142 52h2M102 67h2M133 52h2M119 62h2M177 24h2M91 39h2M55 79h2M133 21h2M182 77h2M120 33h2M173 48h2M188 70h2M169 98h2M189 45h2M170 34h2M194 44h2M185 105h2M148 63h2M161 32h2M169 46h2M217 41h2M146 53h2M154 39h2M173 66h2M183 51h2M66 63h2M141 40h2M125 73h2M87 49h2M134 47h2M201 34h2M128 55h2M73 65h2M145 70h2M126 30h2M170 41h2M147 43h2M209 63h2M157 89h2M133 69h2M155 52h2M185 52h2M185 59h2M172 64h2M99 55h2M203 109h2M162 61h2M150 55h2M167 49h2M206 58h2M139 62h2M125 57h2M192 64h2M153 70h2M24 57h2M109 42h2M136 73h2M142 87h2M219 42h2M96 69h2M130 83h2M174 52h2M260 82h2M87 43h2M192 31h2M174 63h2M94 80h2M147 44h2M196 78h2M156 53h2M141 62h2M143 56h2M131 62h2M250 70h2M203 86h2M144 40h2M122 66h2M142 77h2M186 72h2M124 56h2M182 52h2M106 36h2M146 33h2M109 60h2M149 49h2M79 43h2M106 61h2M124 28h2M125 75h2M172 34h2M184 108h2M118 75h2M207 63h2M68 43h2M151 59h2M130 71h2M136 42h2M160 23h2M179 60h2M213 70h2M180 51h2M56 37h2M154 42h2M63 64h2M182 42h2M137 52h2M92 73h2M176 58h2M143 54h2M179 80h2M168 73h2M195 47h2M144 50h2M101 52h2M104 57h2M201 64h2M114 76h2M147 92h2M76 62h2M118 53h2M120 61h2M113 52h2M135 114h2M197 51h2M82 43h2M122 43h2M78 55h2M188 62h2M195 66h2M193 58h2M175 66h2M179 53h2M100 77h2M158 67h2M102 66h2M159 67h2M179 60h2M108 69h2M136 75h2M157 42h2M137 28h2M209 43h2M113 37h2M88 79h2M164 70h2M184 69h2M197 42h2M233 59h2M175 59h2M142 56h2M166 31h2M207 50h2M124 60h2M127 76h2M163 46h2M93 51h2M158 81h2M143 70h2M177 94h2M183 59h2M114 42h2M158 75h2M100 59h2M127 59h2M139 41h2M163 41h2M170 46h2M85 20h2M128 84h2M147 55h2M117 47h2M216 68h2M119 18h2M176 67h2M117 48h2M177 66h2M107 63h2M111 61h2M89 55h2M150 74h2M189 31h2M170 18h2M74 58h2M160 40h2M155 36h2M128 51h2M147 40h2M106 64h2M158 10h2M190 37h2M137 75h2M124 44h2M179 47h2M43 48h2M160 72h2M232 37h2M92 64h2M135 52h2M221 38h2M174 49h2M79 46h2M200 30h2M208 63h2M138 63h2M134 55h2M136 72h2M121 64h2M102 57h2M167 65h2M146 58h2M64 50h2M152 90h2M120 68h2M158 38h2M60 56h2M189 63h2M135 74h2M92 47h2M125 92h2M217 47h2M94 37h2M203 63h2M116 60h2M134 41h2M165 50h2M146 74h2M163 62h2M136 44h2M192 74h2M185 37h2M127 46h2M210 40h2M167 36h2M156 74h2M108 71h2M167 64h2M129 52h2M177 73h2M80 65h2M201 53h2M124 42h2M119 45h2M183 41h2M152 72h2M156 52h2M217 54h2M117 55h2M150 70h2M142 32h2M111 55h2M130 60h2M106 73h2M246 60h2M194 57h2M137 75h2M146 78h2M233 64h2M222 39h2M143 47h2M113 40h2M163 38h2M158 41h2M173 57h2M186 55h2M166 63h2M220 46h2M138 57h2M151 54h2M150 38h2M146 57h2M107 27h2M72 66h2M164 69h2M127 60h2M198 54h2M207 55h2M172 68h2M165 41h2M142 88h2M142 95h2M165 56h2M206 54h2M83 45h2M127 87h2M135 88h2M64 56h2M220 48h2M178 70h2M187 46h2M162 73h2M161 60h2M145 54h2M121 63h2M161 40h2M97 64h2M173 72h2M164 71h2M184 18h2M219 46h2M191 60h2M124 67h2M91 61h2M204 56h2M213 65h2M205 45h2M167 9h2M179 48h2M115 43h2M108 53h2M186 57h2M233 61h2M153 50h2M98 29h2M110 37h2M110 57h2M141 61h2M141 66h2M115 62h2M106 103h2M155 71h2M167 41h2M199 62h2M111 80h2M132 68h2M94 54h2M160 60h2M153 43h2M217 43h2M134 54h2M150 58h2M105 45h2M144 40h2M218 36h2M132 37h2M193 47h2M235 56h2M183 64h2M97 79h2M109 43h2M234 53h2M124 41h2M161 89h2M125 20h2M66 78h2M180 61h2M215 45h2M167 69h2M160 78h2M130 34h2M138 59h2M105 88h2M145 33h2M116 47h2M177 57h2M148 58h2M129 67h2M115 64h2M159 35h2M192 42h2M131 71h2M141 47h2M123 14h2M142 30h2M153 53h2M113 49h2M167 70h2M210 62h2M182 65h2M257 85h2M155 76h2M183 57h2M143 57h2M193 39h2M193 59h2M180 67h2M154 44h2M173 38h2M71 23h2M180 79h2M191 45h2M159 84h2M140 56h2M168 50h2M149 45h2M103 61h2M143 76h2M185 54h2M77 30h2M200 83h2M200 44h2M181 59h2M157 75h2M177 92h2M166 54h2M168 39h2M106 53h2M120 70h2M120 48h2M155 71h2M172 77h2M88 47h2M114 37h2M156 72h2M207 73h2M202 43h2M115 55h2M83 48h2M97 55h2M175 61h2M72 44h2M141 74h2M141 62h2M168 72h2M164 69h2M157 63h2M159 59h2M186 59h2M149 60h2M159 67h2M188 68h2M149 58h2M181 66h2M174 55h2M169 61h2M186 61h2M185 56h2M165 59h2M170 62h2M173 52h2M160 59h2M172 56h2M188 72h2M175 60h2M167 64h2M173 70h2M152 65h2M192 61h2M168 69h2M185 68h2M161 69h2M157 68h2M174 59h2M155 65h2M178 72h2M181 67h2M160 67h2M154 72h2M170 74h2M172 61h2M169 73h2M158 61h2M177 62h2M188 80h2M167 71h2M172 67h2M181 56h2M171 67h2M174 60h2M174 60h2M179 64h2M169 68h2M158 58h2M184 69h2M184 62h2M170 56h2M166 76h2M177 59h2M174 67h2M183 59h2M160 64h2M180 65h2M196 69h2M184 62h2M161 59h2M206 62h2M192 74h2M164 61h2M174 63h2M182 54h2M181 67h2M202 63h2M150 55h2M184 67h2M175 63h2M170 67h2M143 56h2M150 65h2M184 67h2M203 61h2M173 68h2M170 77h2M180 67h2M168 70h2M176 58h2M177 58h2M178 60h2M164 61h2M166 66h2M180 60h2M189 61h2M193 72h2M182 58h2M170 75h2M167 76h2M176 63h2M154 78h2M176 61h2M150 70h2M180 65h2M170 59h2M165 60h2M155 64h2M172 62h2M144 57h2M178 64h2M165 64h2M182 64h2M183 61h2M177 63h2M157 63h2M164 67h2M175 62h2M186 55h2M181 57h2M161 68h2M173 69h2M169 64h2M191 64h2M191 62h2M178 66h2M188 67h2M173 58h2M200 68h2M174 61h2M191 55h2M168 71h2M184 65h2M181 77h2M172 60h2M173 62h2M184 67h2M185 53h2M170 69h2M162 66h2M168 59h2M173 69h2M168 64h2M176 68h2M174 66h2M156 63h2M165 77h2M168 71h2M162 58h2M176 64h2M177 65h2M182 68h2M153 62h2M183 59h2M160 63h2M175 68h2M169 67h2M166 61h2M183 63h2M173 60h2M175 70h2M142 61h2M174 66h2M193 70h2M199 70h2M184 75h2M158 74h2M162 66h2M185 65h2M146 68h2M150 63h2M157 67h2M168 63h2M157 60h2M166 66h2M179 69h2M186 63h2M174 71h2M172 54h2M182 69h2M183 66h2M165 65h2M188 72h2M177 73h2M178 67h2M181 74h2M180 66h2M163 61h2M180 61h2M191 67h2M161 68h2M183 76h2M175 60h2M169 67h2M179 64h2M166 67h2M156 65h2M172 72h2M169 61h2M185 64h2M145 59h2M173 65h2M173 67h2M195 71h2M168 62h2M164 68h2M180 67h2M200 66h2M159 66h2M181 58h2M154 66h2M162 64h2M173 62h2M167 63h2M165 64h2M162 64h2M169 60h2M186 69h2M156 69h2M171 64h2M171 64h2M186 60h2M163 62h2M183 66h2M171 68h2M182 64h2M164 64h2M176 62h2M180 64h2M172 70h2M171 67h2M174 63h2M172 65h2M184 66h2M172 64h2M162 66h2M205 62h2M157 60h2M187 66h2M192 58h2M168 55h2M188 62h2M181 72h2M174 76h2M179 75h2M163 58h2M176 70h2M137 62h2M167 56h2M186 64h2M162 59h2M163 66h2M170 66h2M181 63h2M179 60h2M171 66h2M165 65h2M159 71h2M177 64h2M167 53h2M186 56h2M175 58h2M181 66h2M176 59h2M155 66h2M165 67h2M167 77h2M154 67h2M168 60h2M161 68h2M157 64h2M176 70h2M173 60h2M154 68h2M164 58h2M188 69h2M173 62h2M184 75h2M152 67h2M196 69h2M166 62h2M168 58h2M177 81h2M183 65h2M187 55h2M186 77h2M182 67h2M175 61h2M166 69h2M161 64h2M173 70h2M156 67h2M175 65h2M175 57h2M168 57h2M179 66h2M186 61h2M161 72h2M178 79h2M170 61h2M173 58h2M172 67h2M180 70h2M149 70h2M165 71h2M185 57h2M159 55h2M160 56h2M169 61h2M157 59h2M168 59h2M189 66h2M183 54h2M162 61h2M174 68h2M174 63h2M164 66h2M141 75h2M191 68h2M172 63h2M176 69h2M178 69h2M185 50h2M161 62h2M164 62h2M163 63h2M160 65h2M158 62h2M111 97h2M118 126h2M128 109h2M107 88h2M156 153h2M106 76h2M61 132h2M138 135h2M110 107h2M55 118h2M196 114h2M164 131h2M126 87h2M169 79h2M165 113h2M134 79h2M128 110h2M152 126h2M84 107h2M139 140h2M118 95h2M155 99h2M143 96h2M142 88h2M109 144h2M96 135h2M127 111h2M131 124h2M144 113h2M104 98h2M127 93h2M207 118h2M139 72h2M115 117h2M152 107h2M123 107h2M113 155h2M170 94h2M176 122h2M196 88h2M164 116h2M128 111h2M107 129h2M134 145h2M165 106h2M84 107h2M161 132h2M80 94h2M76 90h2M135 100h2M141 87h2M102 102h2M108 100h2M78 129h2M149 129h2M137 112h2M172 123h2M184 109h2M140 116h2M122 159h2M117 147h2M127 105h2M171 99h2M210 120h2M128 104h2M109 123h2M149 138h2M171 87h2M172 163h2M124 102h2M187 71h2M187 60h2M128 109h2M183 94h2M246 108h2M131 102h2M151 105h2M108 121h2M155 126h2M136 99h2M129 98h2M189 147h2M139 113h2M108 94h2M57 90h2M128 136h2M148 98h2M117 99h2M149 108h2M159 141h2M183 126h2M111 135h2M105 86h2M159 105h2M167 117h2M172 116h2M164 108h2M133 114h2M132 90h2M59 102h2M132 138h2M142 157h2M173 109h2M159 105h2M173 116h2M130 123h2M130 124h2M110 137h2M146 137h2M163 91h2M161 119h2M160 122h2M130 80h2M129 112h2M63 88h2M98 119h2M103 103h2M152 108h2M67 132h2M203 138h2M104 103h2M219 84h2M155 122h2M169 117h2M108 105h2M135 107h2M176 115h2M126 130h2M110 90h2M153 113h2M197 115h2M201 96h2M83 121h2M127 107h2M191 127h2M89 107h2M119 121h2M147 134h2M97 116h2M83 116h2M203 132h2M151 130h2M139 113h2M141 111h2M121 110h2M111 90h2M158 100h2M127 141h2M156 73h2M198 91h2M180 112h2M101 71h2M111 114h2M160 117h2M170 124h2M182 140h2M168 132h2M130 126h2M153 130h2M149 86h2M115 112h2M112 146h2M184 124h2M151 86h2M126 123h2M120 83h2M155 126h2M144 104h2M176 93h2M162 155h2M113 135h2M121 112h2M128 120h2M121 63h2M161 115h2M97 120h2M94 125h2M157 110h2M160 130h2M103 84h2M67 111h2M213 107h2M68 152h2M84 94h2M142 107h2M202 110h2M110 84h2M110 130h2M120 123h2M109 121h2M153 90h2M176 137h2M119 67h2M138 109h2M199 144h2M121 92h2M150 105h2M150 98h2M205 117h2M142 108h2M103 65h2M171 92h2M173 79h2M64 104h2M150 122h2M87 138h2M163 121h2M43 113h2M42 105h2M167 121h2M154 120h2M162 97h2M101 118h2M235 120h2M79 79h2M172 131h2M151 78h2M86 131h2M183 93h2M140 97h2M97 93h2M155 141h2M182 134h2M135 113h2M114 142h2M108 126h2M127 112h2M102 114h2M138 95h2M203 116h2M138 106h2M163 144h2M126 126h2M80 86h2M135 106h2M58 143h2M109 89h2M114 81h2M206 120h2M155 131h2M140 115h2M161 130h2M133 90h2M80 129h2M100 91h2M117 101h2M167 105h2M158 153h2M84 121h2M115 111h2M115 123h2M107 119h2M162 111h2M126 88h2M141 145h2M148 152h2M184 108h2M75 131h2M131 105h2M75 99h2M141 75h2M129 153h2M141 91h2M150 90h2M149 138h2M161 78h2M168 60h2M153 62h2M113 118h2M122 127h2M111 126h2M178 123h2M112 100h2M134 169h2M156 75h2M136 103h2M124 142h2M144 98h2M92 91h2M148 102h2M146 84h2M150 109h2M129 62h2M150 97h2M59 132h2M105 100h2M108 125h2M169 120h2M193 85h2M161 138h2M158 103h2M118 133h2M130 140h2M144 91h2M204 58h2M154 140h2M181 131h2M171 117h2M139 81h2M123 117h2M155 86h2M155 149h2M133 80h2M88 125h2M157 121h2M121 91h2M138 113h2M157 143h2M186 119h2M112 123h2M87 148h2M178 105h2M154 88h2M180 64h2M119 135h2M125 142h2M140 149h2M158 106h2M134 105h2M154 112h2M72 115h2M204 132h2M118 116h2M105 80h2M102 115h2M185 76h2M171 131h2M210 99h2M200 149h2M99 73h2M54 155h2M141 96h2M130 109h2M130 84h2M130 136h2M160 102h2M111 116h2M150 99h2M190 106h2M167 110h2M123 122h2M139 102h2M196 132h2M164 72h2M121 99h2M137 147h2M149 123h2M164 73h2M141 124h2M164 108h2M98 69h2M158 116h2M117 106h2M180 109h2M187 96h2M136 125h2M102 107h2M165 104h2M128 127h2M141 79h2M121 103h2M108 92h2M150 93h2M114 146h2M218 113h2M147 76h2M113 116h2M122 136h2M188 148h2M163 97h2M165 73h2M202 76h2M205 111h2M187 71h2M131 98h2M107 91h2M141 123h2M159 82h2M159 128h2M85 163h2M124 97h2M127 153h2M98 100h2M117 107h2M181 114h2M153 152h2M107 113h2M185 97h2M159 78h2M118 76h2M111 129h2M125 148h2M110 121h2M134 105h2M210 116h2M163 134h2M108 124h2M143 139h2M164 114h2M159 80h2M114 105h2M158 111h2M226 93h2M106 133h2M79 126h2M77 129h2M199 117h2M68 147h2M144 121h2M107 97h2M148 121h2M91 132h2M91 98h2M157 136h2M142 111h2M156 113h2M196 77h2M110 106h2M94 133h2M109 96h2M114 91h2M160 106h2M140 103h2M196 92h2M159 105h2M132 94h2M89 120h2M65 142h2M168 121h2M188 146h2M100 93h2M109 113h2M175 112h2M114 126h2M126 98h2M144 120h2M164 50h2M151 124h2M154 129h2M66 100h2M150 126h2M154 104h2M215 85h2M146 98h2M81 101h2M113 110h2M100 86h2M128 99h2M167 118h2M130 87h2M167 109h2M145 105h2M141 117h2M117 63h2M122 124h2M158 120h2M129 119h2M108 100h2M189 124h2M108 119h2M160 98h2M146 100h2M154 107h2M212 66h2M113 132h2M97 80h2M129 141h2M133 112h2M107 70h2M106 117h2M49 95h2M98 83h2M140 106h2M81 65h2M124 100h2M54 87h2M116 119h2M193 101h2M117 127h2M155 114h2M169 80h2M99 59h2M93 152h2M138 107h2M81 114h2M111 107h2M177 105h2M113 131h2M128 128h2M136 107h2M153 120h2M125 131h2M197 137h2M152 115h2M134 92h2M139 137h2M165 111h2M46 115h2M90 127h2M131 105h2M90 88h2M179 97h2M91 105h2M182 81h2M211 73h2M78 139h2M85 75h2M119 83h2M138 87h2M119 64h2M161 135h2M100 92h2M150 92h2M167 117h2M193 96h2M184 103h2M170 102h2M86 97h2M126 120h2M165 131h2M132 130h2M185 86h2M181 120h2M113 110h2M144 121h2M150 66h2M77 128h2M133 117h2M159 94h2M117 127h2M160 109h2M175 124h2M141 107h2M52 110h2M118 112h2M111 142h2M104 124h2M134 153h2M85 100h2M132 136h2M185 113h2M112 112h2M164 136h2M112 72h2M120 60h2M136 112h2M108 108h2M105 96h2M251 99h2M137 92h2M127 123h2M159 131h2M124 90h2M108 111h2M91 146h2M134 113h2M104 94h2M177 121h2M147 95h2M113 135h2M80 84h2M135 132h2M193 170h2M96 136h2M125 108h2M160 102h2M221 117h2M138 117h2M175 132h2M129 88h2M112 114h2M152 106h2M196 131h2M179 87h2M216 109h2M129 120h2M130 106h2M126 112h2M142 105h2M169 68h2M168 127h2M163 117h2M171 121h2M163 130h2M150 85h2M203 106h2M165 101h2M132 72h2M211 110h2M72 148h2M71 108h2M183 120h2M116 65h2M133 92h2M92 117h2M160 124h2M165 110h2M138 104h2M141 119h2M120 117h2M222 112h2M124 121h2M152 119h2M121 130h2M180 125h2M175 134h2M146 137h2M132 98h2M175 90h2M124 129h2M40 135h2M141 105h2M162 89h2M147 100h2M100 157h2M171 90h2M113 110h2M111 128h2M102 119h2M105 70h2M117 76h2M169 129h2M128 118h2M122 150h2M177 110h2M176 124h2M160 128h2M176 128h2M132 127h2M145 125h2M142 70h2M143 120h2M112 104h2M180 134h2M115 97h2M176 98h2M106 94h2M160 62h2M159 133h2M116 74h2M144 104h2M178 140h2M111 151h2M97 107h2M134 115h2M96 124h2M150 124h2M97 100h2M125 103h2M149 89h2M159 109h2M201 122h2M164 104h2M95 123h2M101 91h2M244 106h2M155 111h2M108 107h2M159 133h2M80 155h2M217 107h2M86 135h2M131 111h2M126 75h2M158 138h2M143 96h2M97 140h2M160 105h2M108 111h2M178 78h2M134 135h2M115 122h2M143 101h2M150 142h2M101 110h2M143 129h2M66 109h2M180 87h2M89 102h2M71 84h2M155 73h2M144 84h2M105 119h2M197 89h2M178 150h2M165 125h2M147 112h2M78 122h2M145 122h2M156 76h2M201 98h2M137 125h2M119 142h2M167 98h2M202 109h2M113 140h2M89 141h2M111 86h2M109 101h2M87 81h2M57 131h2M161 102h2M94 79h2M76 163h2M42 41h2M160 146h2M26 67h2M203 166h2M157 93h2M115 147h2M222 102h2M160 146h2M190 89h2M24 169h2M106 125h2M148 35h2M22 94h2M212 107h2M191 70h2M133 143h2M77 80h2M211 55h2M46 85h2M82 127h2M100 120h2M57 137h2M209 63h2M121 166h2M26 39h2M77 86h2M103 20h2M77 23h2M96 68h2M102 112h2M15 133h2M144 29h2M118 167h2M217 160h2M54 147h2M130 131h2M155 140h2M113 45h2M189 29h2M77 149h2M82 91h2M217 149h2M146 132h2M81 117h2M196 43h2M95 99h2M55 164h2M195 25h2M110 97h2M17 147h2M101 54h2M80 42h2M143 172h2M111 27h2M196 144h2M109 125h2M59 144h2M226 47h2M100 70h2M40 34h2M90 20h2M136 49h2M124 164h2M182 50h2M27 118h2M16 91h2M36 112h2M114 99h2M168 74h2M90 71h2M35 48h2M65 84h2M18 153h2M187 171h2M197 22h2M165 152h2M205 140h2M210 113h2M87 83h2M155 113h2M165 29h2M88 141h2M156 84h2M122 48h2M163 139h2M68 67h2M102 137h2M18 165h2M224 145h2M149 80h2M195 21h2M37 117h2M67 55h2M32 140h2M196 105h2M22 133h2M170 73h2M50 71h2M72 44h2M218 137h2M119 70h2M38 107h2M88 135h2M44 87h2M127 112h2M80 67h2M185 125h2M132 102h2M67 172h2M31 97h2M23 24h2M179 107h2M92 146h2M19 73h2M221 145h2M122 135h2M213 79h2M33 148h2M127 156h2M155 59h2M18 109h2M111 73h2M162 78h2M188 28h2M18 76h2M50 159h2M150 169h2M76 151h2M223 154h2M177 39h2M206 33h2M89 47h2M40 170h2M146 158h2M93 78h2M191 170h2M178 155h2M195 138h2M209 138h2M15 48h2M86 56h2M220 154h2M129 56h2M36 26h2M54 59h2M197 67h2" stroke="#ee2244" stroke-opacity="0.55" stroke-width="1.6"/><ellipse cx="385.7" cy="320.9" rx="13.9" ry="5.0" fill="#f00" fill-opacity="0.3" filter="url(#blur2)"/><ellipse cx="385.7" cy="320.9" rx="12.1" ry="3.9" fill="#f00" fill-opacity="1" filter="url(#blur)"/><path d="M364.5 244.5H498.5V336.5H364.5Z M404.5 244.5V336.5 M364.5 289.5H498.5" fill="none" stroke="#666" stroke-width="1"/><text x="369.5" y="254.5" font-size="5.6" text-anchor="start" fill="#333" font-family="'Liberation Sans', sans-serif">Q1</text><text x="484.0" y="254.5" font-size="5.6" text-anchor="start" fill="#333" font-family="'Liberation Sans', sans-serif">Q2</text><text x="369.5" y="308.5" font-size="5.6" text-anchor="start" fill="#333" font-family="'Liberation Sans', sans-serif">Q3</text><text x="484.0" y="308.5" font-size="5.6" text-anchor="start" fill="#333" font-family="'Liberation Sans', sans-serif">Q4</text><text x="495.2" y="286.6" font-size="13.4" text-anchor="end" fill="#1a1a1a" font-family="'Liberation Serif', serif">11.7%</text><text x="495.2" y="330.9" font-size="13.4" text-anchor="end" fill="#1a1a1a" font-family="'Liberation Serif', serif">26.1%</text><text x="359.9" y="346.5" font-size="4.8" text-anchor="start" fill="#444" font-family="'Liberation Sans', sans-serif">-572</text><text x="430.8" y="349.7" font-size="4.8" text-anchor="middle" fill="#444" font-family="'Liberation Sans', sans-serif">FITC-A</text><text x="381.7" y="343.5" font-size="4.8" text-anchor="middle" fill="#444" font-family="'Liberation Sans', sans-serif">0</text><text x="392.6" y="343.5" font-size="4.8" text-anchor="middle" fill="#444" font-family="'Liberation Sans', sans-serif">10<tspan dy="-1.8" font-size="3.6">2</tspan></text><text x="424.4" y="343.5" font-size="4.8" text-anchor="middle" fill="#444" font-family="'Liberation Sans', sans-serif">10<tspan dy="-1.8" font-size="3.6">3</tspan></text><text x="455.6" y="343.5" font-size="4.8" text-anchor="middle" fill="#444" font-family="'Liberation Sans', sans-serif">10<tspan dy="-1.8" font-size="3.6">4</tspan></text><text x="485.9" y="343.5" font-size="4.8" text-anchor="middle" fill="#444" font-family="'Liberation Sans', sans-serif">10<tspan dy="-1.8" font-size="3.6">5</tspan></text><text x="361.5" y="252.6" font-size="4.8" text-anchor="middle" fill="#444" font-family="'Liberation Sans', sans-serif" transform="rotate(-90 361.5 252.6)">10<tspan dy="-1.8" font-size="3.6">5</tspan></text><text x="361.5" y="272.6" font-size="4.8" text-anchor="middle" fill="#444" font-family="'Liberation Sans', sans-serif" transform="rotate(-90 361.5 272.6)">10<tspan dy="-1.8" font-size="3.6">4</tspan></text><text x="361.5" y="295.1" font-size="4.8" text-anchor="middle" fill="#444" font-family="'Liberation Sans', sans-serif" transform="rotate(-90 361.5 295.1)">10<tspan dy="-1.8" font-size="3.6">3</tspan></text><text x="361.5" y="320.3" font-size="4.8" text-anchor="middle" fill="#444" font-family="'Liberation Sans', sans-serif" transform="rotate(-90 361.5 320.3)">0</text><text x="361.5" y="334.2" font-size="4.8" text-anchor="middle" fill="#444" font-family="'Liberation Sans', sans-serif" transform="rotate(-90 361.5 334.2)">-628</text><path d="M362.5 252.6h2.0M362.5 272.6h2.0M362.5 295.1h2.0M362.5 320.3h2.0M362.5 334.2h2.0M381.7 336.5v2.0M392.6 336.5v2.0M424.4 336.5v2.0M455.6 336.5v2.0M485.9 336.5v2.0" stroke="#555" stroke-width="0.80"/><text x="352.5" y="288.7" font-size="5.6" text-anchor="middle" fill="#444" font-family="'Liberation Sans', sans-serif" transform="rotate(-90 352.5 288.7)">PE-Texas Red-A</text><text x="435.1" y="237.3" font-size="18.4" text-anchor="middle" fill="#000" font-family="'Liberation Serif', serif">4 dpi</text><path transform="translate(524.5 245.5) scale(.5)" d="M46 154h2M38 153h2M73 153h2M93 146h2M47 147h2M33 150h2M52 153h2M61 163h2M71 142h2M51 148h2M37 158h2M42 140h2M55 149h2M27 146h2M36 151h2M39 151h2M101 147h2M33 150h2M78 147h2M89 144h2M30 151h2M32 148h2M59 155h2M49 150h2M86 153h2M42 158h2M32 152h2M65 151h2M37 153h2M37 148h2M30 158h2M37 157h2M57 150h2M65 153h2M49 144h2M47 156h2M60 156h2M90 153h2M105 143h2M42 137h2M70 152h2M96 149h2M14 158h2M25 144h2M43 154h2M38 152h2M17 161h2M44 152h2M63 152h2M51 146h2M44 153h2M77 150h2M48 153h2M63 152h2M41 148h2M79 153h2M46 170h2M72 156h2M50 146h2M80 151h2M47 157h2M76 152h2M46 163h2M63 145h2M68 152h2M46 155h2M52 162h2M51 152h2M80 148h2M76 151h2M81 146h2M58 142h2M39 151h2M60 162h2M101 144h2M34 158h2M59 144h2M60 145h2M32 144h2M41 163h2M57 150h2M121 149h2M43 150h2M58 149h2M89 149h2M62 152h2M32 146h2M44 139h2M46 151h2M50 151h2M56 149h2M65 142h2M73 146h2M60 149h2M39 147h2M86 145h2M27 152h2M53 151h2M31 148h2M73 145h2M64 155h2M49 144h2M103 152h2M51 149h2M31 150h2M51 146h2M49 157h2M58 151h2M77 156h2M73 147h2M18 155h2M47 149h2M60 149h2M36 161h2M21 156h2M76 161h2M53 154h2M31 151h2M14 148h2M45 151h2M38 157h2M21 152h2M39 151h2M47 162h2M29 158h2M88 150h2M36 144h2M32 162h2M13 154h2M35 161h2M55 144h2M37 152h2M49 146h2M41 149h2M60 153h2M52 148h2M69 148h2M33 149h2M40 149h2M16 158h2M64 158h2M39 155h2M51 151h2M99 148h2M63 142h2M62 150h2M30 148h2M13 145h2M50 137h2M78 156h2M34 143h2M24 144h2M34 163h2M28 155h2M83 146h2M41 155h2M35 158h2M110 151h2M33 154h2M55 147h2M43 152h2M60 157h2M38 144h2M21 161h2M39 149h2M120 157h2M113 150h2M35 148h2M65 153h2M57 163h2M86 145h2M59 154h2M34 164h2M73 159h2M37 145h2M68 150h2M36 151h2M52 152h2M42 154h2M133 157h2M37 162h2M38 143h2M24 140h2M80 145h2M24 148h2M42 144h2M36 151h2M65 146h2M62 152h2M62 148h2M27 156h2M63 147h2M33 155h2M106 153h2M122 153h2M55 154h2M78 143h2M50 158h2M21 152h2M68 160h2M93 151h2M108 145h2M24 158h2M65 145h2M78 156h2M67 149h2M26 142h2M42 150h2M37 148h2M73 145h2M34 162h2M35 148h2M77 141h2M94 144h2M32 144h2M31 147h2M73 151h2M87 155h2M26 151h2M36 149h2M49 153h2M58 139h2M43 148h2M101 150h2M45 151h2M69 145h2M43 150h2M45 150h2M37 151h2M25 160h2M45 141h2M41 156h2M42 150h2M10 159h2M47 140h2M38 159h2M57 143h2M37 152h2M108 152h2M67 149h2M46 145h2M25 144h2M36 158h2M45 158h2M69 152h2M37 163h2M80 158h2M121 159h2M52 153h2M62 163h2M30 141h2M38 151h2M36 156h2M63 151h2M47 162h2M106 161h2M40 158h2M28 141h2M97 156h2M66 159h2M96 153h2M54 154h2M71 152h2M25 165h2M34 148h2M64 151h2M62 164h2M89 149h2M56 151h2M84 146h2M31 142h2M61 153h2M68 156h2M27 149h2M29 158h2M72 143h2M62 152h2M50 155h2M36 149h2M35 148h2M30 158h2M64 150h2M20 164h2M47 152h2M66 161h2M41 138h2M41 151h2M37 159h2M39 153h2M33 155h2M35 156h2M50 152h2M56 142h2M39 152h2M40 158h2M73 147h2M82 150h2M63 158h2M29 147h2M45 150h2M20 155h2M51 152h2M55 155h2M33 153h2M39 149h2M32 158h2M8 147h2M67 149h2M36 157h2M31 150h2M58 148h2M38 152h2M76 146h2M62 151h2M40 144h2M98 154h2M54 149h2M95 148h2M30 147h2M45 153h2M15 153h2M54 157h2M41 159h2M107 148h2M42 157h2M82 151h2M81 143h2M74 154h2M73 154h2M66 149h2M88 140h2M54 148h2M105 145h2M50 151h2M70 151h2M29 150h2M81 155h2M35 144h2M26 151h2M43 149h2M38 152h2M86 157h2M39 155h2M42 158h2M77 156h2M114 157h2M74 159h2M30 149h2M40 156h2M47 144h2M34 150h2M39 149h2M23 152h2M26 149h2M36 150h2M90 149h2M39 138h2M32 153h2M41 156h2M41 156h2M54 157h2M41 156h2M38 147h2M81 144h2M32 160h2M51 153h2M53 151h2M106 151h2M89 151h2M35 150h2M47 165h2M36 154h2M22 154h2M44 153h2M49 149h2M48 151h2M78 151h2M44 144h2M73 150h2M32 158h2M74 151h2M48 144h2M10 152h2M23 155h2M40 153h2M37 153h2M70 152h2M69 155h2M43 142h2M65 148h2M30 141h2M19 158h2M100 158h2M107 141h2M68 144h2M23 155h2M74 146h2M20 142h2M42 156h2M106 154h2M30 145h2M47 155h2M14 153h2M36 156h2M20 156h2M88 159h2M92 152h2M48 145h2M45 147h2M63 155h2M43 160h2M25 148h2M97 150h2M66 137h2M90 147h2M35 156h2M47 141h2M86 146h2M40 147h2M38 149h2M40 148h2M120 153h2M63 148h2M99 154h2M48 148h2M69 142h2M34 149h2M56 152h2M23 154h2M38 148h2M48 149h2M38 149h2M65 151h2M51 147h2M80 152h2M34 157h2M24 147h2M69 149h2M40 149h2M45 154h2M63 147h2M38 140h2M37 154h2M46 157h2M41 152h2M71 145h2M86 143h2M41 141h2M41 146h2M74 140h2M58 153h2M61 156h2M70 146h2M63 147h2M35 149h2M38 148h2M76 151h2M16 147h2M37 163h2M52 148h2M58 138h2M90 149h2M31 155h2M33 145h2M69 162h2M40 151h2M43 153h2M39 152h2M33 150h2M69 143h2M66 160h2M35 149h2M48 151h2M29 155h2M64 156h2M66 148h2M43 148h2M123 149h2M71 159h2M43 152h2M57 160h2M27 153h2M58 153h2M33 156h2M59 146h2M29 162h2M36 143h2M57 145h2M45 154h2M31 143h2M101 144h2M28 151h2M58 151h2M32 156h2M28 147h2M65 157h2M59 156h2M57 155h2M35 147h2M62 156h2M39 147h2M43 157h2M44 150h2M43 149h2M60 149h2M49 150h2M34 151h2M54 142h2M52 152h2M43 145h2M35 155h2M32 156h2M39 153h2M50 142h2M75 148h2M28 158h2M87 157h2M71 157h2M19 150h2M87 154h2M49 150h2M40 147h2M44 136h2M76 151h2M52 150h2M66 155h2M63 142h2M13 147h2M72 141h2M37 148h2M43 142h2M62 150h2M73 152h2M45 156h2M84 154h2M35 153h2M77 155h2M94 157h2M40 163h2M67 155h2M52 145h2M16 155h2M76 160h2M33 151h2M38 155h2M34 147h2M23 150h2M75 145h2M39 159h2M33 140h2M31 155h2M46 146h2M35 158h2M25 159h2M39 154h2M29 146h2M118 150h2M31 154h2M35 146h2M32 148h2M86 142h2M58 142h2M63 148h2M64 150h2M74 155h2M58 155h2M38 149h2M34 154h2M57 150h2M28 151h2M60 155h2M36 155h2M27 149h2M29 152h2M32 147h2M76 157h2M20 157h2M71 156h2M39 158h2M63 144h2M14 146h2M60 169h2M25 154h2M50 152h2M66 157h2M49 161h2M70 158h2M83 146h2M95 146h2M51 150h2M32 151h2M23 154h2M44 147h2M51 153h2M43 141h2M59 153h2M105 164h2M81 154h2M58 149h2M40 147h2M34 146h2M84 160h2M14 143h2M42 150h2M140 152h2M32 143h2M60 147h2M39 143h2M80 154h2M80 148h2M48 149h2M30 154h2M18 147h2M26 151h2M23 150h2M32 148h2M39 162h2M31 158h2M39 167h2M52 157h2M24 159h2M44 147h2M47 160h2M36 152h2M81 157h2M31 143h2M76 154h2M69 157h2M48 155h2M37 150h2M50 148h2M43 160h2M44 156h2M53 144h2M68 141h2M58 151h2M32 155h2M38 162h2M18 159h2M75 154h2M27 144h2M13 152h2M41 156h2M52 154h2M21 152h2M58 157h2M6 157h2M18 152h2M51 163h2M62 152h2M33 146h2M24 150h2M32 158h2M29 155h2M42 146h2M49 141h2M56 151h2M37 153h2M62 156h2M48 148h2M62 141h2M95 149h2M57 159h2M34 149h2M52 146h2M79 142h2M39 153h2M52 148h2M90 159h2M47 155h2M26 157h2M54 156h2M67 153h2M45 143h2M19 144h2M69 152h2M36 147h2M67 150h2M93 149h2M29 139h2M33 153h2M22 155h2M64 144h2M57 143h2M48 148h2M63 145h2M41 154h2M37 149h2M33 156h2M51 155h2M70 153h2M56 147h2M44 154h2M26 145h2M67 160h2M60 151h2M89 156h2M88 155h2M52 156h2M90 157h2M21 160h2M38 144h2M26 153h2M10 144h2M49 154h2M91 151h2M34 147h2M67 151h2M53 147h2M31 147h2M50 153h2M89 155h2M48 158h2M23 147h2M62 156h2M47 143h2M24 152h2M59 140h2M38 151h2M76 157h2M38 146h2M42 147h2M34 154h2M45 137h2M44 154h2M25 159h2M56 151h2M36 156h2M76 147h2M8 157h2M42 139h2M77 137h2M35 142h2M22 151h2M113 146h2M82 146h2M29 151h2M16 160h2M32 143h2M42 149h2M32 153h2M91 149h2M33 156h2M74 147h2M41 146h2M22 155h2M60 159h2M99 136h2M25 150h2M99 151h2M70 146h2M83 159h2M85 156h2M38 161h2M34 146h2M33 152h2M84 151h2M60 150h2M64 152h2M27 165h2M71 156h2M61 147h2M43 155h2M83 153h2M35 150h2M29 149h2M41 147h2M54 162h2M35 143h2M34 157h2M29 157h2M79 149h2M23 153h2M31 151h2M101 152h2M16 150h2M28 160h2M53 147h2M47 149h2M29 144h2M43 147h2M39 154h2M78 147h2M52 145h2M12 156h2M91 148h2M27 142h2M39 155h2M56 143h2M50 142h2M39 153h2M54 140h2M32 150h2M56 148h2M59 158h2M20 152h2M115 152h2M42 157h2M74 152h2M9 151h2M51 154h2M91 142h2M27 151h2M70 147h2M30 153h2M46 155h2M41 153h2M20 153h2M56 149h2M25 159h2M71 150h2M71 160h2M39 159h2M66 149h2M40 158h2M76 154h2M31 148h2M44 143h2M21 146h2M57 154h2M43 154h2M93 145h2M69 148h2M87 141h2M52 141h2M44 150h2M40 155h2M26 150h2M66 149h2M62 151h2M51 146h2M26 148h2M83 153h2M39 147h2M80 155h2M45 154h2M47 158h2M31 152h2M61 154h2M34 147h2M68 160h2M32 150h2M82 150h2M65 156h2M42 162h2M47 149h2M75 157h2M32 151h2M37 151h2M26 152h2M84 148h2M41 150h2M26 151h2M38 147h2M90 148h2M38 136h2M61 150h2M75 147h2M43 150h2M95 155h2M16 163h2M81 149h2M28 147h2M18 149h2M72 151h2M32 154h2M61 153h2M66 159h2M62 158h2M76 150h2M68 151h2M40 153h2M63 156h2M52 143h2M47 153h2M69 153h2M45 151h2M81 156h2M46 153h2M50 149h2M45 149h2M67 146h2M40 154h2M59 146h2M33 149h2M56 155h2M44 160h2M69 143h2M41 156h2M77 149h2M41 150h2M51 145h2M52 157h2M54 156h2M35 156h2M40 154h2M64 145h2M102 147h2M93 147h2M100 137h2M110 151h2M106 140h2M96 143h2M138 148h2M72 150h2M70 146h2M124 152h2M146 139h2M94 152h2M82 153h2M85 142h2M100 151h2M161 148h2M75 155h2M76 144h2M91 142h2M153 155h2M160 151h2M151 157h2M82 151h2M127 145h2M116 137h2M77 147h2M89 158h2M167 147h2M86 146h2M151 157h2M118 155h2M150 152h2M165 155h2M169 153h2M145 146h2M116 147h2M107 142h2M73 149h2M156 145h2M131 151h2M96 155h2M68 155h2M170 145h2M172 147h2M126 159h2M70 150h2M91 141h2M175 145h2M156 153h2M74 156h2M142 141h2M71 153h2M116 148h2M136 150h2M178 149h2M73 133h2M133 143h2M154 146h2M106 157h2M161 154h2M101 147h2M178 147h2M178 158h2M171 150h2M118 158h2M116 154h2M98 153h2M156 151h2M113 140h2M102 147h2M149 149h2M133 148h2M68 135h2M158 149h2M94 153h2M141 148h2M149 154h2M121 150h2M180 153h2M167 155h2M80 155h2M153 140h2M98 146h2M91 147h2M155 155h2M72 154h2M155 147h2M165 147h2M135 148h2M158 147h2M141 147h2M150 151h2M85 151h2M101 141h2M110 148h2M165 157h2M124 142h2M177 156h2M82 137h2M123 144h2M87 153h2M125 158h2M72 154h2M122 153h2M109 148h2M127 154h2M152 144h2M141 154h2M101 149h2M90 149h2M126 151h2M131 150h2M124 142h2M96 139h2M168 159h2M94 137h2M71 150h2M70 145h2M144 146h2M75 140h2M143 150h2M138 157h2M99 142h2M135 159h2M158 160h2M82 153h2M96 143h2M133 140h2M117 141h2M84 147h2M101 146h2M108 150h2M140 155h2M172 150h2M168 159h2M170 159h2M132 151h2M78 156h2M122 154h2M77 153h2M138 142h2M158 159h2M79 148h2M90 139h2M157 154h2M140 151h2M155 157h2M145 147h2M174 154h2M109 147h2M150 147h2M169 149h2M103 152h2M68 154h2M169 149h2M175 149h2M94 145h2M98 145h2M171 149h2M158 144h2M150 154h2M108 144h2M167 143h2M131 151h2M141 147h2M180 149h2M81 144h2M70 146h2M86 148h2M73 150h2M118 147h2M95 150h2M86 158h2M164 138h2M167 145h2M132 150h2M85 153h2M126 147h2M130 158h2M114 155h2M141 139h2M75 146h2M85 148h2M105 147h2M142 153h2M141 154h2M84 146h2M161 156h2M119 154h2M75 143h2M167 146h2M124 151h2M109 155h2M76 149h2M104 143h2M69 163h2M93 155h2M99 150h2M96 151h2M159 154h2M168 141h2M88 148h2M174 157h2M119 150h2M117 157h2M75 146h2M74 148h2M103 149h2M151 129h2M113 154h2M98 155h2M107 153h2M143 138h2M113 143h2M107 158h2M96 156h2M112 145h2M82 142h2M137 157h2M180 161h2M179 143h2M124 150h2M149 151h2M98 158h2M102 159h2M98 153h2M123 137h2M145 147h2M146 160h2M78 144h2M163 152h2M91 146h2M149 151h2M150 148h2M163 145h2M88 151h2M87 156h2M89 141h2M147 151h2M167 145h2M130 155h2M98 152h2M83 145h2M174 144h2M110 137h2M67 143h2M95 157h2M159 144h2M71 151h2M95 144h2M100 137h2M136 147h2M140 151h2M102 159h2M158 146h2M104 147h2M137 147h2M84 146h2M146 156h2M151 153h2M83 166h2M157 152h2M143 149h2M113 138h2M169 159h2M145 147h2M70 153h2M152 157h2M69 160h2M69 141h2M144 148h2M124 144h2M81 137h2M107 155h2M115 145h2M117 158h2M103 140h2M171 148h2M94 151h2M88 154h2M120 152h2M110 152h2M67 139h2M91 158h2M127 145h2M176 140h2M118 153h2M77 159h2M108 153h2M91 151h2M129 151h2M175 148h2M95 149h2M93 151h2M67 142h2M120 157h2M87 162h2M130 146h2M90 147h2M147 151h2M133 146h2M113 141h2M116 146h2M72 153h2M128 136h2M108 144h2M179 156h2M116 153h2M127 155h2M137 143h2M161 152h2M157 149h2M104 147h2M73 138h2M70 155h2M157 144h2M76 141h2M74 148h2M134 149h2M79 158h2M140 140h2M134 145h2M152 152h2M105 149h2M106 141h2M98 150h2M92 148h2M116 155h2M169 153h2M140 160h2M107 142h2M160 144h2M70 143h2M91 146h2M164 148h2M149 159h2M159 155h2M84 156h2M153 156h2M165 150h2M69 148h2M84 159h2M176 147h2M106 156h2M128 156h2M122 154h2M76 150h2M114 151h2M87 141h2M127 148h2M87 141h2M123 145h2M67 155h2M129 149h2M91 149h2M144 136h2M72 139h2M168 142h2M71 145h2M118 147h2M105 151h2M81 147h2M144 151h2M179 144h2M133 149h2M144 147h2M123 153h2M90 151h2M180 147h2M89 157h2M107 148h2M70 149h2M123 152h2M68 155h2M120 149h2M147 158h2M175 156h2M133 143h2M178 142h2M99 149h2M96 159h2M128 154h2M179 150h2M91 154h2M95 154h2M102 157h2M71 145h2M70 156h2M132 156h2M147 144h2M70 159h2M153 153h2M80 150h2M136 154h2M88 157h2M94 142h2M123 152h2M83 145h2M128 153h2M113 149h2M67 154h2M172 160h2M90 149h2M133 152h2M106 151h2M115 144h2M153 153h2M158 152h2M169 162h2M83 144h2M89 148h2M125 152h2M100 158h2M89 155h2M102 140h2M163 153h2M173 140h2M151 157h2M128 148h2M104 150h2M179 146h2M157 166h2M152 156h2M162 145h2M126 149h2M72 147h2M146 154h2M69 154h2M170 158h2M174 136h2M117 146h2M112 153h2M96 148h2M171 144h2M120 153h2M81 153h2M128 148h2M154 144h2M77 148h2M94 148h2M132 146h2M151 143h2M106 146h2M142 148h2M103 143h2M85 146h2M156 143h2M68 145h2M72 151h2M87 143h2M157 155h2M84 151h2M175 142h2M73 155h2M111 157h2M155 153h2M133 139h2M127 147h2M70 143h2M131 140h2M122 155h2M155 149h2M119 143h2M72 151h2M139 139h2M173 145h2M180 144h2M73 151h2M146 141h2M176 143h2M88 151h2M78 152h2M166 151h2M123 154h2M68 143h2M67 143h2M75 135h2M113 148h2M79 152h2M83 152h2M69 148h2M127 139h2M73 145h2M100 144h2M136 148h2M70 150h2M177 158h2M160 144h2M135 146h2M107 157h2M78 158h2M117 159h2M138 149h2M71 154h2M112 161h2M130 143h2M159 139h2M129 150h2M116 154h2M93 156h2M156 153h2M102 140h2M82 153h2M83 150h2M107 152h2M70 149h2M114 143h2M163 140h2M68 142h2M116 149h2M73 154h2M127 159h2M89 137h2M119 149h2M82 139h2M163 159h2M130 146h2M153 148h2M87 150h2M155 142h2M101 145h2M131 151h2M124 145h2M171 149h2M86 148h2M118 152h2M71 150h2M163 146h2M128 137h2M163 152h2M83 146h2M74 151h2M166 151h2M167 144h2M124 139h2M164 140h2M67 149h2M92 148h2M78 151h2M172 147h2M71 159h2M101 155h2M103 136h2M96 152h2M154 145h2M160 144h2M162 146h2M171 147h2M86 157h2M164 147h2M135 146h2M120 138h2M107 150h2M178 148h2M95 149h2M68 149h2M82 158h2M68 151h2M140 142h2M77 147h2M71 147h2M117 150h2M156 148h2M170 147h2M115 165h2M156 163h2M159 138h2M70 157h2M148 138h2M137 152h2M157 146h2M178 147h2M82 152h2M168 143h2M112 138h2M149 145h2M151 140h2M109 147h2M173 150h2M78 156h2M81 155h2M74 151h2M112 162h2M68 153h2M87 157h2M111 153h2M158 155h2M111 151h2M118 136h2M152 157h2M159 153h2M137 151h2M74 148h2M147 144h2M95 142h2M69 150h2M107 148h2M179 146h2M77 147h2M107 140h2M98 152h2M128 152h2M107 150h2M68 160h2M103 153h2M68 150h2M120 145h2M145 145h2M160 144h2M153 149h2M73 160h2M126 146h2M91 161h2M136 152h2M132 140h2M130 154h2M128 140h2M97 145h2M68 150h2M89 147h2M170 154h2M112 146h2M79 158h2M151 157h2M162 149h2M80 144h2M113 151h2M73 142h2M173 155h2M162 143h2M81 150h2M144 156h2M85 141h2M164 151h2M78 148h2M75 156h2M150 153h2M112 157h2M89 150h2M174 152h2M149 148h2M94 163h2M95 148h2M134 148h2M102 150h2M157 148h2M95 147h2M69 149h2M176 154h2M67 143h2M101 156h2M170 165h2M88 157h2M84 143h2M113 151h2M108 147h2M152 144h2M97 151h2M181 155h2M150 157h2M114 153h2M72 154h2M68 137h2M75 155h2M152 157h2M156 148h2M128 155h2M164 154h2M115 147h2M133 153h2M169 155h2M71 145h2M101 148h2M71 140h2M112 152h2M168 146h2M154 148h2M110 135h2M81 152h2M71 143h2M155 161h2M178 159h2M90 144h2M120 164h2M146 152h2M90 158h2M133 148h2M105 154h2M108 143h2M158 151h2M68 147h2M81 144h2M75 151h2M162 161h2M139 158h2M118 144h2M160 149h2M165 148h2M104 141h2M138 144h2M118 149h2M118 151h2M109 143h2M131 147h2M154 148h2M95 154h2M112 140h2M69 140h2M146 142h2M180 138h2M77 156h2M90 149h2M103 149h2M85 160h2M74 162h2M169 152h2M123 155h2M74 150h2M152 153h2M151 153h2M106 153h2M173 161h2M105 147h2M100 147h2M71 142h2M137 137h2M137 159h2M102 150h2M102 148h2M164 145h2M81 145h2M113 141h2M106 156h2M103 153h2M81 156h2M127 150h2M98 155h2M144 143h2M134 140h2M94 155h2M85 145h2M76 158h2M76 149h2M89 142h2M163 152h2M111 147h2M151 150h2M97 146h2M116 162h2M90 152h2M99 148h2M138 155h2M153 145h2M178 149h2M86 138h2M122 143h2M107 150h2M72 138h2M85 138h2M86 161h2M102 152h2M70 140h2M72 151h2M73 146h2M81 159h2M73 154h2M169 142h2M93 140h2M166 157h2M69 151h2M178 149h2M155 141h2M132 145h2M80 146h2M128 148h2M85 152h2M82 149h2M102 137h2M73 148h2M138 150h2M91 154h2M176 147h2M99 151h2M131 155h2M101 153h2M89 150h2M95 157h2M136 145h2M111 155h2M120 155h2M160 158h2M132 156h2M99 139h2M155 146h2M171 155h2M89 144h2M90 139h2M90 153h2M70 141h2M82 142h2M149 148h2M120 153h2M146 151h2M159 154h2M126 141h2M121 159h2M73 159h2M89 145h2M90 138h2M151 159h2M81 157h2M87 139h2M96 153h2M79 158h2M165 146h2M97 156h2M149 155h2M156 148h2M175 153h2M172 148h2M133 153h2M103 152h2M67 147h2M98 145h2M78 145h2M137 143h2M94 139h2M107 153h2M121 146h2M111 148h2M115 144h2M100 145h2M145 154h2M70 148h2M121 139h2M147 158h2M160 155h2M67 160h2M115 154h2M68 150h2M142 154h2M121 147h2M69 142h2M89 157h2M71 161h2M95 158h2M89 149h2M135 155h2M68 156h2M104 156h2M148 144h2M137 145h2M150 160h2M159 154h2M140 144h2M109 157h2M82 147h2M68 153h2M71 144h2M114 154h2M77 136h2M89 144h2M121 153h2M111 148h2M67 136h2M165 152h2M99 158h2M146 131h2M86 144h2M71 147h2M169 155h2M180 145h2M74 146h2M164 149h2M80 139h2M141 148h2M177 152h2M172 143h2M149 153h2M96 153h2M163 155h2M80 158h2M176 163h2M107 149h2M123 145h2M100 148h2M78 142h2M78 149h2M75 158h2M156 139h2M122 148h2M71 154h2M130 144h2M151 146h2M149 148h2M97 147h2M160 142h2M130 146h2M138 159h2M79 139h2M104 148h2M85 145h2M178 147h2M68 153h2M104 157h2M126 150h2M132 145h2M69 145h2M113 138h2M143 151h2M92 162h2M176 159h2M68 154h2M78 153h2M95 152h2M69 151h2M123 149h2M135 129h2M128 135h2M156 150h2M145 143h2M90 146h2M95 126h2M117 149h2M158 151h2M121 140h2M99 152h2M82 151h2M96 150h2M160 151h2M123 149h2M145 153h2M144 146h2M168 147h2M160 150h2M148 161h2M88 143h2M127 142h2M87 140h2M117 150h2M84 145h2M119 145h2M143 141h2M147 144h2M103 166h2M70 140h2M99 141h2M169 146h2M105 127h2M100 152h2M79 149h2M100 147h2M95 149h2M175 154h2M99 147h2M162 163h2M83 153h2M137 157h2M117 149h2M96 143h2M107 151h2M113 156h2M115 154h2M84 141h2M145 147h2M122 140h2M133 157h2M75 153h2M109 149h2M152 146h2M99 130h2M151 155h2M94 157h2M165 159h2M179 148h2M67 150h2M126 151h2M134 140h2M115 152h2M165 134h2M124 137h2M175 162h2M149 143h2M134 161h2M126 147h2M143 158h2M95 135h2M169 144h2M75 151h2M116 158h2M162 150h2M104 156h2M107 143h2M162 149h2M141 144h2M89 146h2M139 143h2M69 150h2M85 142h2M127 146h2M175 143h2M180 161h2M168 165h2M160 150h2M170 153h2M110 161h2M128 142h2M125 148h2M129 141h2M148 140h2M97 149h2M70 157h2M107 150h2M114 151h2M78 154h2M95 144h2M140 157h2M169 159h2M155 155h2M74 147h2M89 160h2M176 157h2M103 144h2M121 150h2M140 156h2M112 151h2M154 150h2M113 142h2M118 144h2M67 141h2M74 154h2M167 150h2M69 151h2M105 149h2M94 161h2M80 149h2M93 146h2M171 150h2M102 155h2M134 153h2M87 145h2M84 155h2M90 142h2M171 153h2M142 147h2M170 153h2M100 144h2M96 162h2M117 150h2M71 143h2M69 144h2M101 158h2M170 140h2M70 139h2M131 152h2M73 147h2M177 154h2M180 147h2M80 156h2M169 149h2M167 140h2M77 140h2M152 150h2M104 149h2M119 158h2M130 152h2M156 145h2M134 143h2M80 148h2M166 146h2M71 158h2M85 150h2M169 149h2M119 143h2M94 151h2M83 155h2M79 159h2M130 156h2M88 152h2M168 155h2M104 147h2M100 148h2M173 152h2M77 147h2M164 151h2M100 155h2M172 156h2M146 160h2M111 154h2M159 157h2M83 149h2M98 152h2M179 143h2M158 148h2M67 153h2M74 139h2M78 153h2M148 150h2M176 151h2M145 141h2M148 152h2M106 145h2M111 153h2M104 151h2M107 154h2M110 157h2M125 148h2M167 145h2M173 142h2M92 150h2M159 147h2M76 155h2M124 149h2M100 147h2M91 148h2M176 143h2M142 152h2M147 152h2M100 156h2M168 155h2M106 158h2M170 146h2M121 150h2M109 155h2M106 151h2M155 149h2M111 160h2M80 148h2M163 144h2M104 149h2M148 151h2M70 155h2M68 145h2M173 139h2M103 155h2M70 139h2M149 146h2M180 150h2M73 151h2M135 146h2M168 147h2M121 153h2M105 146h2M114 151h2M91 145h2M163 144h2M173 151h2M111 153h2M168 148h2M112 155h2M168 156h2M87 151h2M145 151h2M93 147h2M134 157h2M96 153h2M91 144h2M172 148h2M74 152h2M120 146h2M80 153h2M147 150h2M107 156h2M89 144h2M96 152h2M70 140h2M80 138h2M178 158h2M149 146h2M139 147h2M99 156h2M169 145h2M148 148h2M67 145h2M163 142h2M123 150h2M77 146h2M142 143h2M122 134h2M79 152h2M78 147h2M176 148h2M149 142h2M110 160h2M137 142h2M123 146h2M139 144h2M74 145h2M109 143h2M96 154h2M147 144h2M134 144h2M85 158h2M170 158h2M159 140h2M94 150h2M127 161h2M87 150h2M85 152h2M112 156h2M159 143h2M164 147h2M105 145h2M113 147h2M161 157h2M90 139h2M131 145h2M162 148h2M142 141h2M181 159h2M95 155h2M170 152h2M69 149h2M129 153h2M80 159h2M147 142h2M116 159h2M136 147h2M79 139h2M98 154h2M87 135h2M144 149h2M130 150h2M150 160h2M69 138h2M119 139h2M103 145h2M90 149h2M154 147h2M132 148h2M73 146h2M154 152h2M71 144h2M67 149h2M170 132h2M145 155h2M127 140h2M149 163h2M67 141h2M70 157h2M86 152h2M84 140h2M92 163h2M91 148h2M149 139h2M179 152h2M174 154h2M137 145h2M155 150h2M172 154h2M84 141h2M110 142h2M119 155h2M102 145h2M73 151h2M95 144h2M169 139h2M77 161h2M103 147h2M160 158h2M73 149h2M94 144h2M74 149h2M105 141h2M71 147h2M74 152h2M170 159h2M132 149h2M93 165h2M107 151h2M136 156h2M133 151h2M78 142h2M149 160h2M155 135h2M86 153h2M119 156h2M94 151h2M69 147h2M153 145h2M181 151h2M67 146h2M82 148h2M173 152h2M78 138h2M94 161h2M141 152h2M160 150h2M176 141h2M71 151h2M96 144h2M108 144h2M154 159h2M91 149h2M77 148h2M147 139h2M79 145h2M116 159h2M112 149h2M85 153h2M143 70h2M200 37h2M144 34h2M134 38h2M190 65h2M160 70h2M154 40h2M123 49h2M99 53h2M129 73h2M168 39h2M178 33h2M169 44h2M153 76h2M171 44h2M214 82h2M206 67h2M194 81h2M140 60h2M117 58h2M195 66h2M162 54h2M110 59h2M181 76h2M139 44h2M150 56h2M171 43h2M183 58h2M144 72h2M138 63h2M90 78h2M176 52h2M144 33h2M203 41h2M104 64h2M104 82h2M202 43h2M166 78h2M112 59h2M200 41h2M91 54h2M91 53h2M192 55h2M135 63h2M183 64h2M138 58h2M169 65h2M193 28h2M155 42h2M142 55h2M194 51h2M123 52h2M197 57h2M97 31h2M120 40h2M136 77h2M197 52h2M188 60h2M203 57h2M163 56h2M171 39h2M162 61h2M89 82h2M168 74h2M218 34h2M126 97h2M153 75h2M197 73h2M131 68h2M121 68h2M193 40h2M215 57h2M185 63h2M208 75h2M136 64h2M136 58h2M175 36h2M137 52h2M162 47h2M128 27h2M159 65h2M167 30h2M173 44h2M90 80h2M145 65h2M179 50h2M106 48h2M219 41h2M184 46h2M194 21h2M131 76h2M166 66h2M125 43h2M151 48h2M131 88h2M153 67h2M187 81h2M119 27h2M140 22h2M139 77h2M178 59h2M161 35h2M100 44h2M182 39h2M120 58h2M165 49h2M160 61h2M118 32h2M138 68h2M107 68h2M166 82h2M149 72h2M163 50h2M96 73h2M80 23h2M139 72h2M222 31h2M156 63h2M162 56h2M189 62h2M108 52h2M178 83h2M187 38h2M153 43h2M127 38h2M130 81h2M237 68h2M141 52h2M132 69h2M166 60h2M169 47h2M170 38h2M233 31h2M216 52h2M114 80h2M155 60h2M182 53h2M198 25h2M190 25h2M144 71h2M111 59h2M194 69h2M161 51h2M131 55h2M153 48h2M159 37h2M196 53h2M185 74h2M222 45h2M154 72h2M152 57h2M122 80h2M115 32h2M199 56h2M162 47h2M199 23h2M129 55h2M149 77h2M125 66h2M172 50h2M117 57h2M124 51h2M154 66h2M196 38h2M205 37h2M96 58h2M248 52h2M216 58h2M133 60h2M139 45h2M154 33h2M148 37h2M144 39h2M204 83h2M196 50h2M105 61h2M201 28h2M204 53h2M124 24h2M178 58h2M166 56h2M192 46h2M130 58h2M157 75h2M113 42h2M129 50h2M173 61h2M180 54h2M157 54h2M189 53h2M139 83h2M182 26h2M168 30h2M186 38h2M180 76h2M154 88h2M144 55h2M174 71h2M198 58h2M129 62h2M213 65h2M139 40h2M230 46h2M161 49h2M131 71h2M123 67h2M169 84h2M173 49h2M141 58h2M152 11h2M127 45h2M166 40h2M225 52h2M137 68h2M175 38h2M204 56h2M174 56h2M186 52h2M113 81h2M185 42h2M176 48h2M210 61h2M109 63h2M140 63h2M71 70h2M217 63h2M130 68h2M79 65h2M154 40h2M183 57h2M195 38h2M119 26h2M170 50h2M154 46h2M172 56h2M204 69h2M201 56h2M172 43h2M190 38h2M136 51h2M220 59h2M189 49h2M142 40h2M235 75h2M125 38h2M135 72h2M140 76h2M135 67h2M173 48h2M185 78h2M193 54h2M146 50h2M159 53h2M175 39h2M172 65h2M118 38h2M131 52h2M194 50h2M175 50h2M210 75h2M212 55h2M175 75h2M127 77h2M175 34h2M99 52h2M132 55h2M143 54h2M111 65h2M190 47h2M186 41h2M144 64h2M134 48h2M102 45h2M228 47h2M196 84h2M138 60h2M145 57h2M187 33h2M190 44h2M135 42h2M180 40h2M157 26h2M217 40h2M159 62h2M126 80h2M121 65h2M192 73h2M170 86h2M155 44h2M230 62h2M192 49h2M147 50h2M143 54h2M193 36h2M154 62h2M174 64h2M112 69h2M158 39h2M117 34h2M168 10h2M161 24h2M218 48h2M177 54h2M170 58h2M190 50h2M128 69h2M162 57h2M122 51h2M123 40h2M170 60h2M196 34h2M104 63h2M152 54h2M74 29h2M156 41h2M258 67h2M155 64h2M110 42h2M170 30h2M213 39h2M170 27h2M111 32h2M172 56h2M162 56h2M124 57h2M203 66h2M114 42h2M154 35h2M239 52h2M100 39h2M145 59h2M180 61h2M129 58h2M242 35h2M166 67h2M86 62h2M176 50h2M118 57h2M166 40h2M185 70h2M181 66h2M190 53h2M87 45h2M159 45h2M186 65h2M207 58h2M125 63h2M185 55h2M135 59h2M214 71h2M116 41h2M197 27h2M209 60h2M178 50h2M181 79h2M140 71h2M145 68h2M136 66h2M152 43h2M192 60h2M208 51h2M153 66h2M117 50h2M182 42h2M121 42h2M191 66h2M142 61h2M133 70h2M92 39h2M228 75h2M139 56h2M181 68h2M155 73h2M152 31h2M183 63h2M99 39h2M182 94h2M207 70h2M173 90h2M187 31h2M154 63h2M115 27h2M179 43h2M34 75h2M172 50h2M187 49h2M176 53h2M96 65h2M111 71h2M98 59h2M108 70h2M222 60h2M223 47h2M126 64h2M182 45h2M160 61h2M101 80h2M126 46h2M186 56h2M184 65h2M190 68h2M135 76h2M175 40h2M191 41h2M146 40h2M117 73h2M160 58h2M170 44h2M159 54h2M221 53h2M165 42h2M179 57h2M121 50h2M90 80h2M145 47h2M226 29h2M124 70h2M155 60h2M128 29h2M136 66h2M133 25h2M102 58h2M168 59h2M140 46h2M161 61h2M116 55h2M151 55h2M128 51h2M137 50h2M149 60h2M161 83h2M190 57h2M188 81h2M185 53h2M157 36h2M149 59h2M209 52h2M186 50h2M195 82h2M175 49h2M116 31h2M174 60h2M149 48h2M142 73h2M154 41h2M176 56h2M167 98h2M159 56h2M117 65h2M209 52h2M109 39h2M164 62h2M129 65h2M149 54h2M191 43h2M180 77h2M208 48h2M162 46h2M147 84h2M240 69h2M113 64h2M238 48h2M226 50h2M145 46h2M165 48h2M151 24h2M163 49h2M150 80h2M75 59h2M149 31h2M145 49h2M157 88h2M105 39h2M249 48h2M171 36h2M143 62h2M144 88h2M153 57h2M178 59h2M164 51h2M153 53h2M140 38h2M193 58h2M200 38h2M159 59h2M104 73h2M115 37h2M146 60h2M156 52h2M123 55h2M73 63h2M215 67h2M153 73h2M140 50h2M185 28h2M184 44h2M187 14h2M195 85h2M173 49h2M120 39h2M179 39h2M138 61h2M139 30h2M139 52h2M170 63h2M134 52h2M221 64h2M232 47h2M145 79h2M108 49h2M111 86h2M110 19h2M229 62h2M165 53h2M203 70h2M152 22h2M151 41h2M126 65h2M199 48h2M235 54h2M146 58h2M221 63h2M172 56h2M119 70h2M180 63h2M210 47h2M156 75h2M203 45h2M187 39h2M206 82h2M182 55h2M113 75h2M174 64h2M161 52h2M192 74h2M203 48h2M152 72h2M124 56h2M161 49h2M137 36h2M181 74h2M187 57h2M181 56h2M174 72h2M157 60h2M134 66h2M157 72h2M100 45h2M137 43h2M166 69h2M87 50h2M118 67h2M150 61h2M140 42h2M97 105h2M169 46h2M201 45h2M211 33h2M64 13h2M181 55h2M158 50h2M169 49h2M114 47h2M177 77h2M220 42h2M188 24h2M123 73h2M167 51h2M160 33h2M171 50h2M152 35h2M169 34h2M193 64h2M177 60h2M175 52h2M137 43h2M111 39h2M225 52h2M145 25h2M179 41h2M222 67h2M167 63h2M131 63h2M118 51h2M131 69h2M205 84h2M171 46h2M155 20h2M161 46h2M183 20h2M143 54h2M184 44h2M122 46h2M183 45h2M110 88h2M155 36h2M140 51h2M191 70h2M175 39h2M128 61h2M200 55h2M199 46h2M180 51h2M168 51h2M200 50h2M152 37h2M181 55h2M186 56h2M167 52h2M181 48h2M214 61h2M175 32h2M197 49h2M175 51h2M174 57h2M179 49h2M168 60h2M164 37h2M178 52h2M213 41h2M185 65h2M208 42h2M184 52h2M207 58h2M181 52h2M176 46h2M201 59h2M205 58h2M174 58h2M179 53h2M174 58h2M176 60h2M199 62h2M188 50h2M159 46h2M182 57h2M187 50h2M186 54h2M197 53h2M198 57h2M183 51h2M180 50h2M198 50h2M200 53h2M164 66h2M160 53h2M193 46h2M209 63h2M170 53h2M182 59h2M170 57h2M178 53h2M205 50h2M199 63h2M150 50h2M219 48h2M175 49h2M182 61h2M183 50h2M196 48h2M173 59h2M179 54h2M179 41h2M143 58h2M166 44h2M200 53h2M197 44h2M148 59h2M183 59h2M199 46h2M155 45h2M185 50h2M183 55h2M182 51h2M180 57h2M174 66h2M204 60h2M199 49h2M185 52h2M185 51h2M184 54h2M182 46h2M157 47h2M189 55h2M169 47h2M180 51h2M204 48h2M213 59h2M191 49h2M199 55h2M185 58h2M193 55h2M192 51h2M209 47h2M196 43h2M180 53h2M193 53h2M169 49h2M162 54h2M167 54h2M172 51h2M159 51h2M173 47h2M173 54h2M173 46h2M200 54h2M220 56h2M189 58h2M211 57h2M192 57h2M171 51h2M170 50h2M170 53h2M186 55h2M179 56h2M193 49h2M181 55h2M164 46h2M214 57h2M186 55h2M195 47h2M208 45h2M206 60h2M210 47h2M172 52h2M190 59h2M160 51h2M177 43h2M183 58h2M169 62h2M176 63h2M189 49h2M196 57h2M165 54h2M223 52h2M190 59h2M173 54h2M172 60h2M185 48h2M181 57h2M185 59h2M203 46h2M176 53h2M201 50h2M191 59h2M184 47h2M197 52h2M206 55h2M178 46h2M187 56h2M202 52h2M179 53h2M189 48h2M214 52h2M193 49h2M154 58h2M162 46h2M181 49h2M166 60h2M182 48h2M156 43h2M221 58h2M200 56h2M196 62h2M192 53h2M191 55h2M205 46h2M191 55h2M197 51h2M202 47h2M200 49h2M196 53h2M193 49h2M174 60h2M202 47h2M164 46h2M180 48h2M192 45h2M178 43h2M196 59h2M164 56h2M209 56h2M207 53h2M190 57h2M185 55h2M184 47h2M170 51h2M181 54h2M205 54h2M115 47h2M180 60h2M196 52h2M178 45h2M183 53h2M163 46h2M169 52h2M207 37h2M166 60h2M173 55h2M186 61h2M167 46h2M164 52h2M187 46h2M190 46h2M167 51h2M179 54h2M164 62h2M199 53h2M182 51h2M191 59h2M192 52h2M184 64h2M192 59h2M214 48h2M189 62h2M184 50h2M158 60h2M216 44h2M182 53h2M196 56h2M175 58h2M184 54h2M142 59h2M212 47h2M173 51h2M197 46h2M179 60h2M178 47h2M194 46h2M153 50h2M195 55h2M187 55h2M162 55h2M171 53h2M188 51h2M199 66h2M200 55h2M168 58h2M203 44h2M174 53h2M179 49h2M168 50h2M194 53h2M199 52h2M177 61h2M171 53h2M180 48h2M168 47h2M212 63h2M186 50h2M183 64h2M226 54h2M187 61h2M212 49h2M195 52h2M187 55h2M206 50h2M215 43h2M191 56h2M182 57h2M184 60h2M204 54h2M177 53h2M173 51h2M183 52h2M204 48h2M151 47h2M174 57h2M172 43h2M171 56h2M182 54h2M184 53h2M162 51h2M160 52h2M176 52h2M158 60h2M209 54h2M181 53h2M164 48h2M160 57h2M171 46h2M202 51h2M185 59h2M178 48h2M191 53h2M176 52h2M163 52h2M159 47h2M191 48h2M191 50h2M207 49h2M179 52h2M177 54h2M189 50h2M142 50h2M158 41h2M183 51h2M211 52h2M176 42h2M199 48h2M206 53h2M205 52h2M205 60h2M196 53h2M169 64h2M165 53h2M197 47h2M157 42h2M176 52h2M167 51h2M180 59h2M195 56h2M164 55h2M182 42h2M126 52h2M176 56h2M191 53h2M147 56h2M171 46h2M199 53h2M187 48h2M131 56h2M168 51h2M182 51h2M194 57h2M183 43h2M180 46h2M206 47h2M200 61h2M165 51h2M180 50h2M187 56h2M172 56h2M171 58h2M183 53h2M190 62h2M217 46h2M180 52h2M208 65h2M166 57h2M211 58h2M204 56h2M185 50h2M173 51h2M217 57h2M185 56h2M178 61h2M182 50h2M161 55h2M186 43h2M187 50h2M199 51h2M171 43h2M202 63h2M171 62h2M203 54h2M185 53h2M201 62h2M181 44h2M180 58h2M194 48h2M196 58h2M215 55h2M168 58h2M180 60h2M185 45h2M174 47h2M193 51h2M184 56h2M189 54h2M202 50h2M202 53h2M171 53h2M169 53h2M204 58h2M197 55h2M185 50h2M188 48h2M186 50h2M155 51h2M190 51h2M176 51h2M185 58h2M203 61h2M221 55h2M191 50h2M170 56h2M169 50h2M211 52h2M169 54h2M168 55h2M157 47h2M160 56h2M183 46h2M200 53h2M191 57h2M172 57h2M206 45h2M163 58h2M176 50h2M192 50h2M161 49h2M200 57h2M192 50h2M168 51h2M160 50h2M195 59h2M177 58h2M177 49h2M174 52h2M175 60h2M190 59h2M209 60h2M185 51h2M189 54h2M187 50h2M215 64h2M194 59h2M200 40h2M173 59h2M203 51h2M198 48h2M185 51h2M188 51h2M182 52h2M193 51h2M217 55h2M188 57h2M188 64h2M205 53h2M180 53h2M199 53h2M169 54h2M167 63h2M187 67h2M167 63h2M166 50h2M140 42h2M201 57h2M185 43h2M205 47h2M189 54h2M179 51h2M184 57h2M216 56h2M182 52h2M195 58h2M188 54h2M186 54h2M187 51h2M173 58h2M186 51h2M198 49h2M178 60h2M171 59h2M183 58h2M173 60h2M224 48h2M198 47h2M191 50h2M174 51h2M175 58h2M196 58h2M185 57h2M177 46h2M135 55h2M192 53h2M199 53h2M179 49h2M182 50h2M201 42h2M170 49h2M192 62h2M186 62h2M188 56h2M188 60h2M189 56h2M188 51h2M185 52h2M206 56h2M191 51h2M176 63h2M216 54h2M195 57h2M184 52h2M192 46h2M189 49h2M212 49h2M169 51h2M198 57h2M199 56h2M171 56h2M187 59h2M203 51h2M181 61h2M165 59h2M188 62h2M208 54h2M191 58h2M203 47h2M174 53h2M178 43h2M199 46h2M181 49h2M187 55h2M182 49h2M198 54h2M176 49h2M190 45h2M189 43h2M187 48h2M163 48h2M184 45h2M169 56h2M185 55h2M172 54h2M181 52h2M195 58h2M170 49h2M202 55h2M192 58h2M191 55h2M184 43h2M180 48h2M185 60h2M189 49h2M207 50h2M196 66h2M179 55h2M180 59h2M187 50h2M148 53h2M160 48h2M190 49h2M182 54h2M228 46h2M165 54h2M200 51h2M218 57h2M214 51h2M179 56h2M177 55h2M165 47h2M180 52h2M191 56h2M196 51h2M155 46h2M206 60h2M196 52h2M165 52h2M144 107h2M173 141h2M118 134h2M161 77h2M200 107h2M157 119h2M208 103h2M146 96h2M159 69h2M96 133h2M129 82h2M167 129h2M159 109h2M86 119h2M150 79h2M144 82h2M177 134h2M168 132h2M149 112h2M169 55h2M146 88h2M188 105h2M187 131h2M194 120h2M208 121h2M174 95h2M175 112h2M124 83h2M182 113h2M179 139h2M173 119h2M206 105h2M207 101h2M181 107h2M205 110h2M130 127h2M185 103h2M182 118h2M153 119h2M220 127h2M195 107h2M172 141h2M161 141h2M145 136h2M185 93h2M200 135h2M159 89h2M128 128h2M156 108h2M181 98h2M118 92h2M181 119h2M182 106h2M198 120h2M148 86h2M161 86h2M202 122h2M129 117h2M175 120h2M204 91h2M179 77h2M151 69h2M187 112h2M156 142h2M219 103h2M197 127h2M176 82h2M136 112h2M180 92h2M156 91h2M167 93h2M141 133h2M132 108h2M148 129h2M144 112h2M175 95h2M144 110h2M159 100h2M146 117h2M175 83h2M204 118h2M175 124h2M173 120h2M157 103h2M146 73h2M158 83h2M137 109h2M160 135h2M146 128h2M172 142h2M146 153h2M227 115h2M186 100h2M150 83h2M115 115h2M176 84h2M146 113h2M160 90h2M128 103h2M147 107h2M139 98h2M158 117h2M148 92h2M139 169h2M164 92h2M144 95h2M170 93h2M145 105h2M144 101h2M205 120h2M149 139h2M177 111h2M168 108h2M147 94h2M199 119h2M189 106h2M228 75h2M157 114h2M110 119h2M100 153h2M164 115h2M160 122h2M164 113h2M159 70h2M174 102h2M177 93h2M116 92h2M180 97h2M148 99h2M179 76h2M182 104h2M206 129h2M164 84h2M141 102h2M203 78h2M173 82h2M180 82h2M144 95h2M196 168h2M155 102h2M175 102h2M94 143h2M199 110h2M202 100h2M153 78h2M155 80h2M132 113h2M172 102h2M209 116h2M175 147h2M111 105h2M187 148h2M121 106h2M177 117h2M154 129h2M207 138h2M123 84h2M164 115h2M179 102h2M147 149h2M198 142h2M198 94h2M223 111h2M171 101h2M164 80h2M169 80h2M135 96h2M154 139h2M181 72h2M174 107h2M169 124h2M173 132h2M176 101h2M192 118h2M202 117h2M85 93h2M156 113h2M168 112h2M192 115h2M166 138h2M201 118h2M133 115h2M191 108h2M142 153h2M201 103h2M134 104h2M182 76h2M122 81h2M194 132h2M125 103h2M186 144h2M169 81h2M185 127h2M199 108h2M126 113h2M215 91h2M217 94h2M173 161h2M158 145h2M124 113h2M206 111h2M163 113h2M172 123h2M176 135h2M153 117h2M170 87h2M145 110h2M214 79h2M161 132h2M157 82h2M124 114h2M168 59h2M129 98h2M128 81h2M166 117h2M146 79h2M138 159h2M151 145h2M195 69h2M217 115h2M167 90h2M245 101h2M181 166h2M161 97h2M163 91h2M139 113h2M150 95h2M175 103h2M143 125h2M133 107h2M126 137h2M136 126h2M176 100h2M124 108h2M133 140h2M147 115h2M166 119h2M195 133h2M151 126h2M136 102h2M197 124h2M120 109h2M203 138h2M157 101h2M166 93h2M158 121h2M144 143h2M154 114h2M185 127h2M150 125h2M196 113h2M200 133h2M134 137h2M138 111h2M202 141h2M182 104h2M164 115h2M149 89h2M152 115h2M194 45h2M165 116h2M164 104h2M130 97h2M174 114h2M189 98h2M179 91h2M160 81h2M119 94h2M151 121h2M106 78h2M140 136h2M105 124h2M146 111h2M137 134h2M148 114h2M163 112h2M156 118h2M145 92h2M140 109h2M211 133h2M158 98h2M178 94h2M89 128h2M174 128h2M196 56h2M208 128h2M141 88h2M161 131h2M190 104h2M233 145h2M241 108h2M177 93h2M210 120h2M181 103h2M144 121h2M125 103h2M158 103h2M131 98h2M195 89h2M171 125h2M164 72h2M153 112h2M162 133h2M109 95h2M191 81h2M205 84h2M141 113h2M204 117h2M133 121h2M163 119h2M163 114h2M195 157h2M172 119h2M167 96h2M136 127h2M180 90h2M162 129h2M145 111h2M128 130h2M182 137h2M145 111h2M172 89h2M163 119h2M170 94h2M123 126h2M176 116h2M165 90h2M208 128h2M176 107h2M140 125h2M177 151h2M193 102h2M193 130h2M158 55h2M148 124h2M168 117h2M210 108h2M214 126h2M103 104h2M169 85h2M140 104h2M192 123h2M164 126h2M86 66h2M178 126h2M138 114h2M122 114h2M141 135h2M190 112h2M131 120h2M181 111h2M117 105h2M163 155h2M188 101h2M229 112h2M172 125h2M191 97h2M164 87h2M175 96h2M115 102h2M143 71h2M151 97h2M183 123h2M156 63h2M159 148h2M147 130h2M202 122h2M157 90h2M132 123h2M181 124h2M178 87h2M171 110h2M153 137h2M168 88h2M156 82h2M148 90h2M118 108h2M103 95h2M156 141h2M173 96h2M184 112h2M185 108h2M165 107h2M159 114h2M172 125h2M151 138h2M124 92h2M148 117h2M173 92h2M170 151h2M152 118h2M177 111h2M206 88h2M233 106h2M132 125h2M160 133h2M210 110h2M215 120h2M174 84h2M181 115h2M179 107h2M189 148h2M201 122h2M197 113h2M185 112h2M144 108h2M196 135h2M141 110h2M187 124h2M203 134h2M186 128h2M155 86h2M184 119h2M200 88h2M153 159h2M146 75h2M149 127h2M203 149h2M101 104h2M178 120h2M141 98h2M156 124h2M157 115h2M197 130h2M137 84h2M175 126h2M156 128h2M196 103h2M184 107h2M129 97h2M124 114h2M184 101h2M168 94h2M141 112h2M192 145h2M161 130h2M138 111h2M176 92h2M176 134h2M189 114h2M102 114h2M181 77h2M155 85h2M177 86h2M190 106h2M164 93h2M214 118h2M206 105h2M191 107h2M159 98h2M151 124h2M135 96h2M171 126h2M123 109h2M162 89h2M187 107h2M197 110h2M160 106h2M169 133h2M140 117h2M140 113h2M233 123h2M158 122h2M181 121h2M127 125h2M128 102h2M201 121h2M172 81h2M124 100h2M158 93h2M173 141h2M153 129h2M173 102h2M157 119h2M193 109h2M180 112h2M178 94h2M156 127h2M159 107h2M207 128h2M158 87h2M145 65h2M110 120h2M141 124h2M169 114h2M193 134h2M223 101h2M187 102h2M153 109h2M202 116h2M138 107h2M183 119h2M198 79h2M146 118h2M237 119h2M201 92h2M163 94h2M205 108h2M180 113h2M162 118h2M172 100h2M148 102h2M185 131h2M140 131h2M184 100h2M159 121h2M154 120h2M187 87h2M201 96h2M185 43h2M236 93h2M177 124h2M144 131h2M168 116h2M226 107h2M106 109h2M184 102h2M204 107h2M170 121h2M129 123h2M154 130h2M149 116h2M139 68h2M153 95h2M184 126h2M137 122h2M179 94h2M201 107h2M210 141h2M202 134h2M169 71h2M199 115h2M157 94h2M83 106h2M142 123h2M140 83h2M141 117h2M179 119h2M118 116h2M199 108h2M145 74h2M188 84h2M136 53h2M227 73h2M182 90h2M115 78h2M197 80h2M201 138h2M143 99h2M127 108h2M187 88h2M156 106h2M170 109h2M145 91h2M170 113h2M177 101h2M194 117h2M162 118h2M161 144h2M182 100h2M128 134h2M167 93h2M159 109h2M165 107h2M176 129h2M180 123h2M208 132h2M164 110h2M132 136h2M153 123h2M179 85h2M132 117h2M143 82h2M176 119h2M161 122h2M176 102h2M164 111h2M172 147h2M108 77h2M149 56h2M147 65h2M148 155h2M162 110h2M172 111h2M168 131h2M159 98h2M137 110h2M127 112h2M139 109h2M129 88h2M166 93h2M130 128h2M144 145h2M218 96h2M198 116h2M213 121h2M138 60h2M189 79h2M199 94h2M129 101h2M187 115h2M136 128h2M171 109h2M138 81h2M176 90h2M180 128h2M197 95h2M172 120h2M91 90h2M182 99h2M165 114h2M167 121h2M136 137h2M182 127h2M148 103h2M216 85h2M193 122h2M146 113h2M149 123h2M162 137h2M169 115h2M127 113h2M207 119h2M181 103h2M165 155h2M146 99h2M132 130h2M148 123h2M190 77h2M187 131h2M194 87h2M158 128h2M196 95h2M179 128h2M154 107h2M141 119h2M188 72h2M156 103h2M206 111h2M156 64h2M178 116h2M146 120h2M208 103h2M142 140h2M180 115h2M167 99h2M138 104h2M151 137h2M137 58h2M208 87h2M176 95h2M166 121h2M177 117h2M132 164h2M187 134h2M133 140h2M147 101h2M198 123h2M140 88h2M169 124h2M135 105h2M171 130h2M176 157h2M159 102h2M199 58h2M137 122h2M199 146h2M199 145h2M173 123h2M144 102h2M187 119h2M174 132h2M163 110h2M212 105h2M172 89h2M139 117h2M192 87h2M171 132h2M173 133h2M152 111h2M219 122h2M151 100h2M162 104h2M218 115h2M204 91h2M160 100h2M183 109h2M149 94h2M193 102h2M121 115h2M145 137h2M157 126h2M172 135h2M168 79h2M167 90h2M152 103h2M220 116h2M196 123h2M186 98h2M137 125h2M165 110h2M161 130h2M165 110h2M196 103h2M164 119h2M166 94h2M166 113h2M159 87h2M174 112h2M169 145h2M132 98h2M107 109h2M156 118h2M232 90h2M178 103h2M128 84h2M207 104h2M180 105h2M199 121h2M197 105h2M165 110h2M165 113h2M151 130h2M152 91h2M144 138h2M128 128h2M145 125h2M148 111h2M179 125h2M141 113h2M129 117h2M178 97h2M170 65h2M175 122h2M226 119h2M147 121h2M211 127h2M152 95h2M203 92h2M195 90h2M192 92h2M113 128h2M184 155h2M136 119h2M144 114h2M144 79h2M140 108h2M131 75h2M178 99h2M123 87h2M175 104h2M170 124h2M211 121h2M179 119h2M198 134h2M193 105h2M183 111h2M158 88h2M115 127h2M126 119h2M116 120h2M140 111h2M166 100h2M194 85h2M213 123h2M196 91h2M165 93h2M175 79h2M162 165h2M130 122h2M201 117h2M160 100h2M172 108h2M207 124h2M151 110h2M185 118h2M163 134h2M116 113h2M161 101h2M74 102h2M146 113h2M134 131h2M131 117h2M174 111h2M182 123h2M186 120h2M178 70h2M215 125h2M194 117h2M175 125h2M179 88h2M106 110h2M133 148h2M139 112h2M160 76h2M139 100h2M167 88h2M130 130h2M162 131h2M179 62h2M183 29h2M88 163h2M85 168h2M110 125h2M57 57h2M222 57h2M211 146h2M126 34h2M56 168h2M103 63h2M99 106h2M175 168h2M129 133h2M68 96h2M119 100h2M142 29h2M221 116h2M171 61h2M134 33h2M164 101h2M166 107h2M200 47h2M182 19h2M188 45h2M92 53h2M70 76h2M138 109h2M224 133h2M89 135h2M125 91h2M90 115h2M84 42h2M189 143h2M66 100h2M68 81h2M201 52h2M116 94h2M90 167h2M224 158h2M199 127h2M182 160h2M137 45h2M201 72h2M93 114h2M210 66h2M145 37h2M65 106h2M141 100h2M204 170h2M97 167h2M218 124h2M66 116h2M57 57h2M113 119h2M114 47h2M102 102h2M114 148h2M73 57h2M123 51h2M154 131h2M196 68h2M87 135h2M183 164h2M54 114h2M142 76h2M95 101h2M185 62h2M133 131h2M202 61h2M212 172h2M162 76h2M144 21h2M136 157h2M149 104h2M214 78h2M59 99h2M224 18h2M164 102h2M166 132h2M180 83h2M168 171h2M168 23h2M198 162h2M210 123h2M191 31h2M104 68h2M168 163h2M159 149h2M194 145h2M104 48h2M214 100h2M94 127h2M77 165h2M134 93h2M208 25h2M151 107h2M204 105h2M179 43h2M177 146h2M221 120h2M133 27h2M170 120h2M67 35h2M210 75h2M174 45h2M98 32h2M69 142h2M99 118h2M77 75h2M66 55h2M180 49h2M89 147h2M188 76h2M147 111h2M221 124h2M72 35h2M119 94h2M149 45h2M70 43h2M126 64h2M221 98h2M203 103h2M205 103h2M54 102h2M88 59h2M89 57h2M107 98h2M113 169h2M111 151h2M118 86h2M187 135h2M125 148h2M69 68h2M93 95h2M208 160h2M139 85h2M145 140h2M64 61h2M198 68h2M226 97h2M174 37h2M73 103h2M225 91h2M220 97h2M217 101h2M73 74h2M214 129h2M167 86h2M200 165h2M136 90h2" stroke="#ee2244" stroke-opacity="0.55" stroke-width="1.6"/><ellipse cx="545.8" cy="321.0" rx="16.8" ry="5.0" fill="#f00" fill-opacity="0.3" filter="url(#blur2)"/><ellipse cx="545.8" cy="321.0" rx="14.6" ry="3.8" fill="#f00" fill-opacity="1" filter="url(#blur)"/><ellipse cx="617.6" cy="271.9" rx="6.9" ry="3.0" fill="#f00" fill-opacity="0.3" filter="url(#blur2)"/><ellipse cx="617.6" cy="271.9" rx="6.0" ry="2.3" fill="#f00" fill-opacity="0.45" filter="url(#blur)"/><path d="M524.5 245.5H657.5V336.5H524.5Z M563.5 245.5V336.5 M524.5 290.5H657.5" fill="none" stroke="#666" stroke-width="1"/><text x="529.5" y="255.5" font-size="5.6" text-anchor="start" fill="#333" font-family="'Liberation Sans', sans-serif">Q1</text><text x="643.0" y="255.5" font-size="5.6" text-anchor="start" fill="#333" font-family="'Liberation Sans', sans-serif">Q2</text><text x="529.5" y="309.5" font-size="5.6" text-anchor="start" fill="#333" font-family="'Liberation Sans', sans-serif">Q3</text><text x="643.0" y="309.5" font-size="5.6" text-anchor="start" fill="#333" font-family="'Liberation Sans', sans-serif">Q4</text><text x="655.0" y="286.6" font-size="13.4" text-anchor="end" fill="#1a1a1a" font-family="'Liberation Serif', serif">18.0%</text><text x="655.0" y="330.9" font-size="13.4" text-anchor="end" fill="#1a1a1a" font-family="'Liberation Serif', serif">28.1%</text><text x="519.9" y="346.5" font-size="4.8" text-anchor="start" fill="#444" font-family="'Liberation Sans', sans-serif">-585</text><text x="590.3" y="349.7" font-size="4.8" text-anchor="middle" fill="#444" font-family="'Liberation Sans', sans-serif">FITC-A</text><text x="541.5" y="343.5" font-size="4.8" text-anchor="middle" fill="#444" font-family="'Liberation Sans', sans-serif">0</text><text x="552.4" y="343.5" font-size="4.8" text-anchor="middle" fill="#444" font-family="'Liberation Sans', sans-serif">10<tspan dy="-1.8" font-size="3.6">2</tspan></text><text x="584.0" y="343.5" font-size="4.8" text-anchor="middle" fill="#444" font-family="'Liberation Sans', sans-serif">10<tspan dy="-1.8" font-size="3.6">3</tspan></text><text x="614.9" y="343.5" font-size="4.8" text-anchor="middle" fill="#444" font-family="'Liberation Sans', sans-serif">10<tspan dy="-1.8" font-size="3.6">4</tspan></text><text x="645.0" y="343.5" font-size="4.8" text-anchor="middle" fill="#444" font-family="'Liberation Sans', sans-serif">10<tspan dy="-1.8" font-size="3.6">5</tspan></text><text x="521.5" y="253.5" font-size="4.8" text-anchor="middle" fill="#444" font-family="'Liberation Sans', sans-serif" transform="rotate(-90 521.5 253.5)">10<tspan dy="-1.8" font-size="3.6">5</tspan></text><text x="521.5" y="273.3" font-size="4.8" text-anchor="middle" fill="#444" font-family="'Liberation Sans', sans-serif" transform="rotate(-90 521.5 273.3)">10<tspan dy="-1.8" font-size="3.6">4</tspan></text><text x="521.5" y="295.6" font-size="4.8" text-anchor="middle" fill="#444" font-family="'Liberation Sans', sans-serif" transform="rotate(-90 521.5 295.6)">10<tspan dy="-1.8" font-size="3.6">3</tspan></text><text x="521.5" y="320.5" font-size="4.8" text-anchor="middle" fill="#444" font-family="'Liberation Sans', sans-serif" transform="rotate(-90 521.5 320.5)">0</text><text x="521.5" y="334.2" font-size="4.8" text-anchor="middle" fill="#444" font-family="'Liberation Sans', sans-serif" transform="rotate(-90 521.5 334.2)">-723</text><path d="M522.5 253.5h2.0M522.5 273.3h2.0M522.5 295.6h2.0M522.5 320.5h2.0M522.5 334.2h2.0M541.5 336.5v2.0M552.4 336.5v2.0M584.0 336.5v2.0M614.9 336.5v2.0M645.0 336.5v2.0" stroke="#555" stroke-width="0.80"/><text x="512.5" y="289.2" font-size="5.6" text-anchor="middle" fill="#444" font-family="'Liberation Sans', sans-serif" transform="rotate(-90 512.5 289.2)">PE-Texas Red-A</text><text x="594.1" y="237.2" font-size="18.4" text-anchor="middle" fill="#000" font-family="'Liberation Serif', serif">6 dpi</text><text x="13.1" y="406.1" font-size="30.3" text-anchor="start" font-weight="bold" fill="#000" font-family="'Liberation Serif', serif">B</text><line x1="67.5" y1="403.0" x2="67.5" y2="553.5" stroke="#b0b0b0" stroke-width="1"/><line x1="64.5" y1="553.5" x2="67.5" y2="553.5" stroke="#b0b0b0" stroke-width="1"/><text x="61.0" y="556.6" font-size="9" text-anchor="end" font-weight="bold" fill="#222" font-family="'Liberation Serif', serif">0</text><line x1="64.5" y1="523.4" x2="67.5" y2="523.4" stroke="#b0b0b0" stroke-width="1"/><text x="61.0" y="526.5" font-size="9" text-anchor="end" font-weight="bold" fill="#222" font-family="'Liberation Serif', serif">10</text><line x1="64.5" y1="493.3" x2="67.5" y2="493.3" stroke="#b0b0b0" stroke-width="1"/><text x="61.0" y="496.4" font-size="9" text-anchor="end" font-weight="bold" fill="#222" font-family="'Liberation Serif', serif">20</text><line x1="64.5" y1="463.2" x2="67.5" y2="463.2" stroke="#b0b0b0" stroke-width="1"/><text x="61.0" y="466.3" font-size="9" text-anchor="end" font-weight="bold" fill="#222" font-family="'Liberation Serif', serif">30</text><line x1="64.5" y1="433.1" x2="67.5" y2="433.1" stroke="#b0b0b0" stroke-width="1"/><text x="61.0" y="436.2" font-size="9" text-anchor="end" font-weight="bold" fill="#222" font-family="'Liberation Serif', serif">40</text><line x1="64.5" y1="403.0" x2="67.5" y2="403.0" stroke="#b0b0b0" stroke-width="1"/><text x="61.0" y="406.1" font-size="9" text-anchor="end" font-weight="bold" fill="#222" font-family="'Liberation Serif', serif">50</text><line x1="64.5" y1="553.5" x2="314.7" y2="553.5" stroke="#b0b0b0" stroke-width="1"/><line x1="67.5" y1="553.5" x2="67.5" y2="557.5" stroke="#b0b0b0" stroke-width="1"/><line x1="116.9" y1="553.5" x2="116.9" y2="557.5" stroke="#b0b0b0" stroke-width="1"/><line x1="166.4" y1="553.5" x2="166.4" y2="557.5" stroke="#b0b0b0" stroke-width="1"/><line x1="215.8" y1="553.5" x2="215.8" y2="557.5" stroke="#b0b0b0" stroke-width="1"/><line x1="265.3" y1="553.5" x2="265.3" y2="557.5" stroke="#b0b0b0" stroke-width="1"/><line x1="314.7" y1="553.5" x2="314.7" y2="557.5" stroke="#b0b0b0" stroke-width="1"/><rect x="82.1" y="454.2" width="20.3" height="99.3" fill="#808080"/><line x1="92.5" y1="447.5" x2="92.5" y2="459.5" stroke="#3c3c3c" stroke-width="1"/><line x1="91.0" y1="447.5" x2="94.0" y2="447.5" stroke="#3c3c3c" stroke-width="1"/><line x1="91.0" y1="459.5" x2="94.0" y2="459.5" stroke="#3c3c3c" stroke-width="1"/><rect x="131.5" y="474.3" width="20.3" height="79.2" fill="#808080"/><line x1="141.5" y1="471.5" x2="141.5" y2="477.5" stroke="#3c3c3c" stroke-width="1"/><line x1="140.0" y1="471.5" x2="143.0" y2="471.5" stroke="#3c3c3c" stroke-width="1"/><line x1="140.0" y1="477.5" x2="143.0" y2="477.5" stroke="#3c3c3c" stroke-width="1"/><rect x="180.9" y="431.6" width="20.3" height="121.9" fill="#808080"/><line x1="191.5" y1="425.5" x2="191.5" y2="438.5" stroke="#3c3c3c" stroke-width="1"/><line x1="190.0" y1="425.5" x2="193.0" y2="425.5" stroke="#3c3c3c" stroke-width="1"/><line x1="190.0" y1="438.5" x2="193.0" y2="438.5" stroke="#3c3c3c" stroke-width="1"/><rect x="230.4" y="456.6" width="20.3" height="96.9" fill="#808080"/><line x1="240.5" y1="451.5" x2="240.5" y2="461.5" stroke="#3c3c3c" stroke-width="1"/><line x1="239.0" y1="451.5" x2="242.0" y2="451.5" stroke="#3c3c3c" stroke-width="1"/><line x1="239.0" y1="461.5" x2="242.0" y2="461.5" stroke="#3c3c3c" stroke-width="1"/><rect x="279.8" y="452.4" width="20.3" height="101.1" fill="#808080"/><line x1="289.5" y1="444.5" x2="289.5" y2="459.5" stroke="#3c3c3c" stroke-width="1"/><line x1="288.0" y1="444.5" x2="291.0" y2="444.5" stroke="#3c3c3c" stroke-width="1"/><line x1="288.0" y1="459.5" x2="291.0" y2="459.5" stroke="#3c3c3c" stroke-width="1"/><path d="M136.80 458.80L136.80 465.80M133.77 460.55L139.83 464.05M133.77 464.05L139.83 460.55" stroke="#444" stroke-width="0.9"/><circle cx="136.80" cy="458.80" r="1.1" fill="#1a1a1a"/><circle cx="136.80" cy="465.80" r="1.1" fill="#1a1a1a"/><circle cx="133.77" cy="460.55" r="1.1" fill="#1a1a1a"/><circle cx="139.83" cy="464.05" r="1.1" fill="#1a1a1a"/><circle cx="133.77" cy="464.05" r="1.1" fill="#1a1a1a"/><circle cx="139.83" cy="460.55" r="1.1" fill="#1a1a1a"/><path d="M147.80 458.80L147.80 465.80M144.77 460.55L150.83 464.05M144.77 464.05L150.83 460.55" stroke="#444" stroke-width="0.9"/><circle cx="147.80" cy="458.80" r="1.1" fill="#1a1a1a"/><circle cx="147.80" cy="465.80" r="1.1" fill="#1a1a1a"/><circle cx="144.77" cy="460.55" r="1.1" fill="#1a1a1a"/><circle cx="150.83" cy="464.05" r="1.1" fill="#1a1a1a"/><circle cx="144.77" cy="464.05" r="1.1" fill="#1a1a1a"/><circle cx="150.83" cy="460.55" r="1.1" fill="#1a1a1a"/><path d="M191.00 414.20L191.00 421.20M187.97 415.95L194.03 419.45M187.97 419.45L194.03 415.95" stroke="#444" stroke-width="0.9"/><circle cx="191.00" cy="414.20" r="1.1" fill="#1a1a1a"/><circle cx="191.00" cy="421.20" r="1.1" fill="#1a1a1a"/><circle cx="187.97" cy="415.95" r="1.1" fill="#1a1a1a"/><circle cx="194.03" cy="419.45" r="1.1" fill="#1a1a1a"/><circle cx="187.97" cy="419.45" r="1.1" fill="#1a1a1a"/><circle cx="194.03" cy="415.95" r="1.1" fill="#1a1a1a"/><polyline points="141,451.5 141,394.5 192.5,394.5 192.5,406.5" fill="none" stroke="#8a8a8a" stroke-width="1.2"/><path d="M161.65 383.00L161.65 390.00M158.62 384.75L164.68 388.25M158.62 388.25L164.68 384.75" stroke="#444" stroke-width="0.9"/><circle cx="161.65" cy="383.00" r="1.1" fill="#1a1a1a"/><circle cx="161.65" cy="390.00" r="1.1" fill="#1a1a1a"/><circle cx="158.62" cy="384.75" r="1.1" fill="#1a1a1a"/><circle cx="164.68" cy="388.25" r="1.1" fill="#1a1a1a"/><circle cx="158.62" cy="388.25" r="1.1" fill="#1a1a1a"/><circle cx="164.68" cy="384.75" r="1.1" fill="#1a1a1a"/><path d="M172.65 383.00L172.65 390.00M169.62 384.75L175.68 388.25M169.62 388.25L175.68 384.75" stroke="#444" stroke-width="0.9"/><circle cx="172.65" cy="383.00" r="1.1" fill="#1a1a1a"/><circle cx="172.65" cy="390.00" r="1.1" fill="#1a1a1a"/><circle cx="169.62" cy="384.75" r="1.1" fill="#1a1a1a"/><circle cx="175.68" cy="388.25" r="1.1" fill="#1a1a1a"/><circle cx="169.62" cy="388.25" r="1.1" fill="#1a1a1a"/><circle cx="175.68" cy="384.75" r="1.1" fill="#1a1a1a"/><text x="45.3" y="477.8" font-size="16.91" text-anchor="middle" fill="#000" font-family="'Liberation Serif', serif" transform="rotate(-90 45.3 477.8)">Apoptotic cells %</text><text x="95.1" y="568.4" font-size="11.9" text-anchor="end" fill="#000" font-family="'Liberation Serif', serif" transform="rotate(-45 95.1 568.4)">Control</text><text x="142.0" y="564.1" font-size="11.9" text-anchor="end" fill="#000" font-family="'Liberation Serif', serif" transform="rotate(-45 142.0 564.1)">pol-miR-731 agomir</text><text x="192.8" y="562.9" font-size="11.9" text-anchor="end" fill="#000" font-family="'Liberation Serif', serif" transform="rotate(-45 192.8 562.9)">pol-miR-731 antagomir</text><text x="244.5" y="564.9" font-size="11.9" text-anchor="end" fill="#000" font-family="'Liberation Serif', serif" transform="rotate(-45 244.5 564.9)">Agomir negative control</text><text x="292.3" y="568.1" font-size="11.9" text-anchor="end" fill="#000" font-family="'Liberation Serif', serif" transform="rotate(-45 292.3 568.1)">Antagomir negative control</text><text x="324.9" y="406.8" font-size="30.3" text-anchor="start" font-weight="bold" fill="#000" font-family="'Liberation Serif', serif">C</text><line x1="359.9" y1="593.0" x2="359.9" y2="444.2" stroke="#e05070" stroke-width="1.4"/><line x1="359.2" y1="593.0" x2="658.4" y2="593.0" stroke="#e05070" stroke-width="1.4"/><polygon points="359.9,436.1 357.3,444.7 362.5,444.7" fill="#e8103a"/><polygon points="667.0,593.0 657.9,590.4 657.9,595.6" fill="#e8103a"/><text x="354.5" y="510.2" font-size="15.2" text-anchor="middle" fill="#000" font-family="'Liberation Serif', serif" transform="rotate(-90 354.5 510.2)">PI</text><text x="503.8" y="606.4" font-size="14.6" text-anchor="middle" fill="#000" font-family="'Liberation Serif', serif">Annexin-V</text><path transform="translate(378.5 419.5) scale(.5)" d="M18 107h2M42 103h2M17 105h2M34 110h2M18 100h2M38 107h2M50 110h2M26 104h2M66 104h2M21 100h2M28 106h2M24 105h2M31 108h2M44 106h2M13 108h2M16 105h2M16 105h2M21 106h2M77 105h2M40 100h2M25 108h2M26 107h2M29 101h2M36 102h2M55 103h2M37 105h2M41 103h2M42 105h2M46 108h2M29 102h2M39 107h2M52 104h2M35 108h2M31 106h2M30 103h2M19 104h2M36 112h2M42 110h2M39 108h2M30 109h2M54 104h2M22 114h2M31 110h2M40 100h2M64 113h2M30 109h2M29 102h2M26 107h2M44 108h2M28 111h2M21 109h2M44 104h2M13 101h2M31 108h2M50 101h2M27 108h2M26 95h2M39 115h2M42 101h2M24 106h2M65 108h2M29 112h2M26 113h2M22 103h2M38 112h2M37 107h2M13 102h2M22 103h2M36 104h2M39 106h2M24 106h2M33 109h2M23 104h2M17 112h2M49 105h2M23 100h2M30 106h2M60 106h2M21 95h2M48 106h2M15 106h2M15 121h2M44 108h2M26 96h2M26 99h2M36 96h2M20 111h2M52 100h2M15 109h2M40 101h2M22 102h2M18 102h2M46 108h2M58 105h2M26 101h2M26 100h2M14 108h2M49 109h2M47 106h2M22 106h2M24 101h2M14 99h2M27 106h2M23 112h2M30 108h2M45 102h2M12 109h2M22 111h2M32 110h2M39 96h2M38 102h2M21 104h2M39 109h2M42 98h2M23 95h2M26 108h2M21 106h2M30 110h2M21 102h2M21 113h2M43 105h2M30 106h2M30 104h2M24 100h2M22 113h2M35 106h2M25 106h2M32 103h2M30 106h2M21 102h2M19 101h2M40 95h2M25 103h2M22 106h2M44 106h2M26 103h2M26 109h2M24 100h2M17 101h2M16 110h2M32 104h2M49 103h2M38 109h2M15 99h2M20 109h2M47 100h2M43 104h2M24 103h2M25 98h2M19 100h2M34 114h2M68 104h2M14 104h2M20 114h2M36 102h2M41 108h2M15 103h2M25 105h2M29 104h2M30 103h2M20 112h2M32 107h2M15 105h2M39 100h2M44 104h2M33 105h2M30 111h2M24 112h2M21 101h2M38 101h2M24 109h2M45 98h2M35 114h2M45 104h2M22 104h2M18 104h2M26 105h2M45 104h2M16 110h2M19 103h2M26 104h2M19 104h2M60 103h2M26 110h2M38 109h2M40 97h2M20 106h2M35 111h2M34 104h2M28 104h2M31 108h2M24 102h2M21 110h2M46 110h2M40 109h2M27 108h2M19 105h2M21 109h2M23 105h2M33 111h2M21 101h2M39 101h2M34 103h2M26 97h2M38 103h2M20 114h2M38 121h2M33 104h2M29 112h2M27 107h2M35 101h2M29 103h2M18 109h2M37 106h2M20 97h2M34 105h2M14 105h2M15 105h2M29 107h2M30 106h2M18 104h2M23 104h2M31 108h2M52 94h2M33 105h2M61 109h2M15 107h2M23 110h2M19 105h2M26 105h2M23 97h2M34 110h2M26 101h2M30 108h2M26 105h2M48 101h2M23 97h2M22 102h2M20 102h2M54 105h2M26 115h2M27 98h2M33 101h2M52 100h2M23 98h2M28 101h2M27 104h2M22 109h2M41 106h2M20 101h2M31 116h2M24 102h2M22 101h2M20 105h2M49 105h2M23 98h2M30 105h2M18 101h2M27 110h2M36 106h2M25 107h2M27 115h2M18 104h2M46 104h2M49 105h2M29 104h2M17 101h2M60 108h2M36 110h2M36 110h2M25 104h2M42 104h2M17 104h2M23 108h2M22 101h2M24 112h2M27 106h2M27 107h2M41 111h2M15 111h2M27 104h2M63 105h2M56 110h2M19 108h2M38 105h2M9 104h2M26 101h2M55 104h2M24 104h2M21 102h2M28 107h2M23 105h2M16 108h2M21 106h2M20 103h2M30 100h2M64 105h2M26 102h2M51 111h2M32 99h2M23 108h2M23 100h2M18 102h2M27 103h2M27 118h2M54 101h2M32 106h2M26 110h2M24 104h2M24 105h2M46 109h2M17 103h2M21 109h2M30 109h2M27 97h2M34 106h2M35 100h2M28 102h2M22 107h2M32 102h2M14 95h2M23 110h2M27 96h2M20 107h2M52 110h2M33 106h2M19 103h2M24 102h2M28 104h2M32 112h2M38 107h2M25 99h2M26 108h2M19 111h2M24 107h2M25 100h2M58 100h2M41 103h2M31 102h2M24 109h2M56 102h2M27 110h2M22 108h2M21 108h2M34 111h2M32 100h2M37 101h2M38 112h2M36 103h2M45 106h2M18 104h2M48 104h2M29 104h2M14 103h2M32 106h2M26 96h2M45 109h2M42 111h2M24 103h2M32 113h2M14 104h2M22 108h2M49 104h2M18 106h2M25 99h2M40 103h2M37 100h2M44 99h2M43 98h2M48 104h2M15 104h2M32 101h2M23 107h2M26 92h2M24 107h2M31 110h2M22 116h2M39 107h2M43 110h2M29 103h2M42 107h2M13 101h2M34 106h2M31 108h2M29 112h2M23 104h2M32 109h2M39 112h2M23 110h2M34 101h2M26 114h2M39 103h2M9 102h2M22 106h2M62 109h2M32 101h2M18 104h2M23 118h2M24 103h2M44 106h2M18 111h2M25 100h2M32 108h2M24 108h2M39 102h2M11 95h2M26 111h2M42 111h2M55 105h2M43 99h2M37 107h2M26 103h2M19 106h2M46 104h2M35 103h2M31 101h2M33 104h2M32 103h2M18 104h2M43 112h2M25 109h2M38 107h2M15 107h2M20 111h2M39 108h2M8 108h2M38 100h2M42 106h2M26 102h2M19 104h2M74 106h2M30 103h2M22 103h2M20 109h2M25 109h2M18 109h2M27 108h2M26 102h2M45 104h2M26 102h2M30 104h2M31 107h2M22 99h2M34 109h2M38 100h2M36 107h2M31 107h2M25 106h2M41 103h2M16 105h2M30 97h2M22 108h2M26 106h2M17 109h2M54 105h2M21 100h2M40 106h2M21 111h2M39 108h2M14 105h2M36 100h2M41 112h2M43 102h2M22 109h2M42 111h2M45 105h2M24 97h2M39 115h2M23 103h2M37 107h2M17 102h2M19 114h2M22 109h2M56 114h2M49 112h2M18 104h2M21 104h2M67 98h2M35 100h2M47 111h2M23 114h2M28 111h2M32 103h2M24 105h2M36 106h2M63 105h2M23 102h2M21 99h2M20 109h2M28 105h2M32 110h2M36 109h2M23 104h2M21 105h2M21 104h2M26 104h2M25 103h2M47 104h2M19 106h2M19 101h2M87 105h2M108 100h2M94 109h2M63 101h2M72 110h2M69 102h2M63 109h2M41 103h2M85 112h2M75 101h2M87 103h2M42 112h2M44 100h2M60 107h2M41 103h2M50 100h2M54 103h2M42 108h2M100 113h2M96 104h2M62 107h2M86 102h2M72 107h2M90 104h2M44 94h2M40 103h2M51 104h2M41 110h2M99 107h2M57 101h2M74 107h2M99 106h2M54 94h2M106 106h2M65 107h2M101 109h2M99 109h2M57 114h2M65 110h2M108 114h2M48 103h2M98 103h2M41 112h2M55 110h2M99 111h2M45 100h2M82 110h2M42 103h2M49 103h2M48 113h2M47 106h2M90 113h2M59 100h2M74 97h2M50 102h2M80 116h2M52 104h2M106 104h2M63 99h2M41 104h2M75 105h2M91 109h2M42 104h2M51 114h2M53 102h2M99 104h2M107 111h2M87 107h2M59 111h2M47 103h2M71 103h2M79 102h2M89 100h2M95 105h2M81 93h2M47 104h2M89 109h2M50 111h2M63 107h2M90 97h2M50 102h2M73 106h2M67 112h2M84 107h2M73 108h2M45 103h2M40 100h2M63 106h2M52 106h2M100 104h2M72 97h2M50 103h2M45 105h2M55 107h2M76 102h2M74 105h2M43 107h2M51 103h2M46 102h2M90 97h2M41 101h2M49 108h2M105 111h2M88 107h2M107 109h2M86 110h2M41 106h2M45 116h2M60 104h2M42 110h2M40 114h2M85 105h2M50 105h2M50 112h2M65 110h2M56 103h2M106 104h2M61 104h2M79 110h2M82 107h2M96 97h2M65 100h2M60 108h2M89 101h2M49 104h2M71 108h2M46 106h2M65 109h2M54 91h2M81 111h2M96 107h2M42 110h2M82 103h2M40 108h2M47 105h2M101 110h2M84 105h2M46 110h2M102 100h2M85 112h2M100 110h2M59 106h2M42 109h2M88 102h2M69 110h2M50 107h2M41 109h2M40 111h2M55 100h2M45 108h2M83 105h2M80 113h2M45 107h2M84 109h2M61 98h2M49 112h2M53 103h2M41 108h2M40 101h2M92 101h2M106 103h2M101 112h2M49 103h2M104 99h2M97 106h2M43 112h2M62 104h2M59 106h2M56 101h2M46 105h2M61 102h2M80 106h2M50 109h2M62 108h2M45 99h2M71 102h2M83 110h2M58 106h2M41 104h2M67 106h2M74 101h2M51 106h2M40 99h2M72 114h2M52 104h2M65 103h2M76 110h2M73 104h2M103 106h2M76 98h2M61 102h2M93 107h2M98 97h2M41 113h2M45 101h2M58 105h2M106 107h2M50 108h2M81 105h2M71 106h2M60 106h2M79 111h2M71 101h2M93 101h2M105 103h2M98 109h2M55 104h2M82 98h2M105 107h2M76 103h2M67 101h2M53 104h2M87 102h2M51 105h2M55 108h2M44 111h2M41 107h2M83 106h2M44 97h2M66 108h2M46 112h2M41 98h2M51 97h2M60 105h2M84 105h2M56 113h2M56 106h2M93 96h2M72 99h2M77 109h2M93 106h2M59 103h2M80 106h2M40 109h2M74 118h2M45 101h2M82 99h2M60 109h2M102 107h2M84 105h2M44 109h2M85 106h2M107 109h2M40 108h2M70 101h2M54 106h2M91 108h2M60 102h2M76 107h2M60 92h2M82 97h2M45 103h2M47 114h2M51 113h2M67 109h2M40 108h2M72 110h2M52 111h2M50 101h2M51 106h2M41 115h2M54 110h2M42 108h2M108 111h2M48 109h2M61 101h2M91 104h2M71 106h2M79 103h2M103 103h2M96 111h2M94 105h2M85 106h2M46 106h2M44 110h2M87 108h2M55 105h2M49 105h2M104 111h2M92 106h2M90 105h2M91 100h2M93 107h2M43 91h2M104 99h2M51 110h2M100 112h2M50 106h2M60 100h2M92 111h2M58 102h2M53 102h2M100 104h2M56 107h2M86 107h2M71 113h2M81 106h2M45 108h2M57 105h2M68 106h2M61 103h2M104 111h2M48 109h2M87 102h2M43 111h2M105 105h2M49 99h2M47 110h2M52 100h2M55 95h2M47 96h2M45 117h2M77 100h2M49 110h2M76 113h2M77 99h2M68 103h2M94 104h2M82 98h2M62 108h2M59 106h2M73 112h2M68 112h2M64 107h2M74 96h2M46 99h2M65 114h2M55 105h2M86 110h2M96 105h2M44 111h2M50 105h2M94 98h2M93 96h2M91 90h2M42 104h2M97 105h2M91 102h2M64 96h2M48 103h2M53 104h2M71 104h2M90 102h2M91 106h2M95 106h2M100 99h2M91 108h2M43 109h2M41 100h2M94 114h2M44 107h2M95 110h2M76 107h2M107 104h2M48 98h2M85 98h2M48 103h2M40 101h2M56 103h2M53 112h2M75 104h2M44 102h2M82 103h2M44 106h2M103 102h2M48 102h2M108 102h2M58 98h2M55 103h2M77 107h2M62 108h2M64 101h2M68 110h2M83 104h2M50 102h2M97 103h2M53 110h2M64 99h2M102 99h2M75 111h2M64 110h2M53 107h2M63 109h2M82 104h2M80 106h2M45 111h2M99 105h2M57 111h2M92 109h2M71 100h2M43 107h2M58 104h2M59 104h2M57 98h2M99 106h2M77 105h2M65 102h2M55 110h2M80 95h2M106 97h2M107 98h2M79 111h2M83 107h2M65 105h2M60 103h2M107 103h2M49 104h2M60 107h2M86 108h2M79 107h2M77 105h2M92 102h2M85 106h2M65 103h2M40 113h2M99 96h2M40 102h2M70 110h2M44 106h2M68 101h2M44 103h2M43 104h2M68 103h2M51 114h2M61 109h2M64 107h2M72 96h2M43 108h2M95 113h2M69 116h2M61 98h2M105 99h2M61 108h2M92 106h2M85 105h2M70 103h2M40 109h2M105 108h2M78 106h2M61 104h2M42 105h2M101 108h2M56 98h2M98 106h2M103 100h2M100 103h2M60 103h2M51 113h2M58 100h2M58 108h2M62 104h2M94 106h2M41 99h2M60 104h2M49 109h2M55 108h2M66 106h2M66 114h2M40 95h2M40 113h2M74 110h2M75 104h2M58 103h2M74 112h2M55 99h2M87 105h2M41 109h2M52 107h2M90 97h2M61 110h2M53 105h2M107 104h2M93 103h2M92 109h2M90 104h2M88 104h2M41 101h2M102 101h2M78 117h2M87 107h2M73 114h2M62 106h2M81 116h2M42 104h2M89 98h2M59 108h2M64 103h2M55 106h2M85 108h2M94 106h2M80 103h2M44 105h2M55 111h2M101 104h2M49 100h2M94 109h2M44 109h2M40 101h2M63 100h2M102 111h2M67 104h2M89 101h2M43 105h2M74 102h2M48 104h2M57 108h2M74 101h2M73 105h2M94 101h2M66 111h2M106 102h2M50 112h2M52 105h2M51 99h2M42 108h2M84 101h2M63 101h2M106 101h2M100 100h2M50 107h2M99 31h2M81 60h2M140 41h2M68 31h2M91 43h2M143 31h2M103 32h2M103 29h2M109 52h2M88 33h2M102 21h2M148 21h2M89 26h2M140 31h2M85 61h2M96 28h2M99 40h2M79 35h2M93 46h2M120 48h2M96 47h2M93 52h2M110 32h2M133 18h2M73 27h2M96 22h2M67 14h2M102 28h2M159 47h2M68 54h2M102 51h2M69 52h2M129 32h2M76 33h2M106 67h2M148 56h2M93 33h2M109 34h2M87 35h2M122 36h2M106 34h2M94 33h2M134 40h2M140 35h2M128 20h2M88 37h2M82 36h2M74 35h2M81 37h2M91 25h2M88 38h2M65 38h2M133 34h2M114 45h2M77 54h2M167 25h2M157 28h2M139 15h2M130 39h2M64 27h2M71 26h2M109 35h2M31 33h2M112 38h2M145 14h2M106 38h2M119 21h2M64 35h2M101 15h2M109 37h2M119 5h2M113 26h2M86 47h2M145 39h2M96 54h2M75 35h2M85 25h2M104 63h2M106 44h2M98 51h2M104 26h2M102 55h2M97 52h2M97 63h2M107 45h2M91 48h2M93 19h2M107 22h2M139 47h2M100 46h2M29 56h2M82 46h2M169 17h2M88 42h2M111 16h2M74 56h2M83 44h2M62 26h2M50 41h2M131 38h2M92 40h2M112 34h2M114 62h2M160 30h2M65 61h2M126 52h2M116 34h2M126 51h2M131 24h2M127 33h2M90 42h2M90 66h2M115 41h2M94 40h2M93 45h2M123 48h2M65 33h2M102 22h2M110 36h2M101 42h2M82 57h2M127 30h2M112 47h2M79 33h2M118 5h2M63 41h2M116 26h2M123 65h2M105 37h2M101 25h2M114 40h2M120 55h2M100 40h2M108 59h2M60 37h2M82 39h2M122 38h2M119 40h2M80 29h2M62 40h2M89 48h2M126 26h2M70 45h2M75 40h2M116 33h2M148 28h2M111 32h2M21 35h2M95 45h2M96 28h2M85 34h2M120 34h2M133 48h2M79 50h2M38 38h2M73 36h2M131 37h2M95 53h2M79 27h2M126 45h2M61 39h2M121 35h2M88 39h2M105 29h2M122 18h2M97 64h2M71 37h2M38 27h2M68 38h2M86 60h2M74 37h2M105 45h2M124 18h2M159 34h2M80 17h2M87 15h2M104 30h2M108 28h2M101 65h2M131 39h2M73 56h2M53 20h2M134 30h2M136 44h2M158 60h2M115 29h2M115 55h2M89 33h2M98 33h2M130 22h2M111 13h2M40 25h2M79 26h2M80 45h2M115 38h2M105 29h2M72 20h2M88 23h2M90 46h2M114 54h2M74 10h2M69 62h2M118 32h2M135 32h2M144 32h2M88 46h2M68 35h2M151 43h2M69 34h2M98 28h2M110 53h2M100 48h2M107 39h2M79 49h2M136 32h2M75 44h2M102 51h2M112 36h2M62 45h2M102 21h2M59 15h2M116 32h2M9 26h2M82 36h2M100 33h2M119 50h2M93 57h2M96 26h2M103 19h2M91 24h2M87 40h2M33 42h2M106 34h2M118 41h2M89 25h2M119 47h2M59 28h2M67 47h2M83 22h2M140 43h2M105 40h2M94 38h2M123 43h2M86 38h2M150 30h2M63 39h2M68 70h2M116 44h2M109 62h2M71 36h2M54 53h2M97 59h2M91 24h2M80 47h2M77 40h2M79 28h2M84 57h2M70 41h2M121 28h2M58 56h2M146 34h2M66 48h2M98 27h2M88 7h2M77 22h2M63 44h2M106 58h2M26 29h2M76 54h2M127 39h2M101 28h2M85 31h2M30 61h2M119 63h2M132 43h2M121 16h2M71 48h2M88 17h2M98 21h2M99 57h2M68 31h2M114 37h2M104 26h2M89 7h2M94 53h2M68 35h2M118 52h2M130 26h2M87 59h2M86 41h2M75 29h2M17 30h2M38 24h2M72 54h2M119 42h2M84 19h2M111 27h2M95 49h2M93 37h2M71 50h2M113 46h2M143 16h2M99 45h2M107 41h2M111 18h2M96 52h2M97 34h2M121 15h2M109 56h2M91 27h2M113 31h2M76 39h2M53 45h2M66 30h2M118 36h2M105 54h2M140 63h2M83 48h2M53 47h2M134 28h2M111 47h2M94 29h2M140 20h2M103 49h2M105 57h2M139 43h2M147 46h2M65 33h2M106 39h2M96 51h2M97 34h2M115 41h2M125 41h2M115 43h2M105 33h2M107 45h2M109 46h2M106 43h2M112 44h2M111 41h2M107 46h2M111 42h2M117 35h2M104 39h2M123 34h2M102 35h2M108 34h2M104 42h2M101 40h2M101 39h2M116 30h2M112 41h2M111 41h2M115 33h2M110 43h2M123 33h2M106 33h2M111 34h2M102 43h2M132 29h2M126 35h2M118 41h2M123 39h2M104 39h2M119 35h2M115 40h2M113 40h2M117 44h2M109 38h2M92 35h2M98 43h2M102 36h2M116 45h2M123 35h2M114 45h2M104 38h2M100 36h2M118 40h2M108 37h2M125 43h2M100 50h2M108 39h2M107 37h2M117 32h2M112 38h2M127 42h2M115 42h2M117 40h2M89 42h2M109 43h2M114 37h2M103 35h2M114 39h2M103 38h2M115 36h2M110 37h2M88 40h2M112 44h2M123 36h2M117 41h2M112 44h2M119 33h2M125 39h2M105 36h2M109 34h2M121 42h2M103 44h2M114 40h2M120 39h2M109 42h2M95 34h2M116 45h2M96 40h2M105 38h2M117 47h2M127 44h2M117 40h2M95 42h2M101 34h2M113 32h2M128 43h2M115 42h2M114 40h2M118 36h2M114 40h2M119 34h2M114 39h2M117 42h2M113 42h2M116 46h2M114 42h2M103 39h2M118 45h2M103 39h2M109 40h2M107 38h2M111 40h2M121 35h2M103 44h2M116 39h2M101 45h2M102 45h2M114 39h2M110 44h2M112 31h2M105 29h2M115 44h2M121 33h2M131 49h2M111 30h2M104 45h2M130 37h2M95 35h2M129 40h2M99 29h2M117 44h2M107 39h2M112 38h2M107 37h2M106 46h2M115 45h2M128 28h2M111 44h2M110 37h2M115 37h2M104 38h2M112 40h2M120 40h2M107 55h2M109 38h2M110 36h2M97 41h2M125 31h2M105 42h2M105 42h2M111 34h2M110 37h2M116 27h2M115 46h2M113 41h2M107 41h2M110 33h2M101 28h2M115 40h2M121 41h2M118 33h2M95 37h2M109 41h2M110 39h2M112 41h2M113 41h2M107 39h2M98 34h2M109 42h2M105 33h2M120 35h2M96 35h2M101 28h2M108 48h2M105 36h2M122 40h2M111 46h2M101 39h2M116 41h2M101 35h2M128 39h2M109 45h2M95 39h2M96 47h2M103 40h2M103 40h2M114 40h2M109 41h2M109 37h2M117 44h2M99 35h2M105 41h2M99 47h2M112 40h2M119 36h2M115 42h2M123 34h2M124 43h2M114 45h2M109 39h2M119 38h2M121 46h2M114 41h2M106 35h2M117 60h2M78 82h2M50 66h2M55 111h2M86 99h2M134 93h2M114 70h2M56 100h2M118 61h2M109 82h2M99 92h2M130 67h2M76 97h2M68 86h2M74 50h2M60 91h2M60 52h2M62 79h2M90 82h2M91 60h2M59 65h2M63 84h2M114 73h2M107 95h2M43 64h2M81 55h2M130 47h2M41 90h2M55 89h2M48 94h2M59 89h2M105 53h2M51 49h2M44 92h2M75 91h2M117 94h2M97 70h2M65 82h2M101 95h2M85 73h2M74 104h2M85 110h2M56 91h2M83 90h2M55 83h2M75 73h2M42 55h2M67 86h2M84 81h2M86 56h2M107 79h2M55 69h2M105 81h2M29 111h2M34 105h2M101 61h2M112 98h2M107 88h2M86 81h2M61 82h2M113 76h2M133 53h2M78 54h2M26 82h2M67 69h2M46 74h2M30 74h2M62 57h2M89 48h2M89 82h2M92 80h2M100 73h2M46 84h2M54 72h2M80 63h2M105 53h2M112 77h2M125 95h2M96 82h2M80 55h2M61 62h2M56 75h2M54 80h2M69 70h2M88 85h2M38 73h2M161 78h2M90 63h2M105 102h2M93 75h2M78 47h2M94 73h2M88 84h2M83 111h2M103 67h2M94 88h2M78 100h2M66 49h2M46 84h2M48 80h2M34 84h2M69 63h2M61 73h2M103 81h2M71 80h2M102 85h2M127 66h2M100 80h2M59 87h2M101 93h2M91 63h2M82 84h2M124 79h2M81 103h2M79 70h2M85 90h2M81 51h2M65 94h2M56 91h2M82 65h2M100 43h2M17 53h2M92 73h2M95 76h2M81 69h2M65 93h2M99 56h2M93 110h2M98 62h2M98 81h2M68 93h2M112 69h2M80 71h2M77 103h2M64 87h2M84 79h2M45 87h2M46 89h2M74 80h2M64 64h2M48 78h2M74 82h2M69 90h2M81 79h2M70 77h2M95 66h2M43 84h2M89 78h2M84 57h2M49 78h2M76 58h2M90 47h2M112 61h2M61 61h2M39 72h2M23 72h2M82 73h2M76 55h2M24 56h2M107 82h2M26 105h2M95 95h2M105 98h2M29 79h2M55 108h2M96 77h2M69 44h2M80 64h2M115 89h2M74 71h2M108 69h2M108 81h2M68 83h2M126 52h2M98 89h2M69 101h2M96 86h2M48 87h2M40 85h2M138 63h2M121 60h2M79 89h2M36 83h2M55 68h2M100 76h2M88 78h2M87 102h2M80 73h2M77 89h2M90 43h2M74 84h2M151 68h2M69 59h2M75 49h2M53 76h2M34 73h2M57 97h2M122 111h2M81 88h2M144 67h2M125 63h2M107 53h2M65 74h2M69 46h2M80 73h2M119 87h2M15 79h2M107 76h2M56 56h2M66 62h2M69 72h2M113 62h2M86 60h2M84 94h2M60 58h2M78 78h2M58 84h2M79 88h2M37 89h2M113 64h2M133 81h2M39 60h2M55 67h2M70 82h2M71 72h2M49 45h2M56 58h2M102 39h2M109 32h2M71 78h2M45 62h2M101 60h2M74 78h2M95 57h2M114 75h2M105 55h2M108 76h2M99 67h2M101 78h2M22 117h2M57 85h2M71 70h2M66 92h2M103 92h2M30 90h2M33 114h2M87 96h2M76 80h2M56 109h2M67 95h2M53 75h2M65 76h2M62 88h2M95 52h2M64 56h2M107 57h2M90 80h2M75 46h2M125 75h2M96 94h2M48 61h2M126 109h2M53 76h2M104 75h2M114 87h2M74 88h2M63 98h2M58 98h2M149 49h2M125 54h2M75 107h2M108 88h2M87 80h2M90 74h2M68 58h2M127 77h2M131 89h2M90 60h2M69 78h2M73 73h2M11 71h2M69 70h2M67 52h2M52 101h2M49 69h2M53 75h2M62 110h2M47 99h2M63 85h2M150 77h2M76 31h2M67 74h2M80 81h2M45 62h2M99 73h2M78 88h2M80 80h2M46 78h2M28 106h2M55 105h2M62 75h2M114 81h2M82 73h2M69 66h2M55 49h2M73 65h2M118 112h2M132 58h2M67 76h2M33 103h2M98 82h2M133 86h2M68 82h2M64 85h2M39 86h2M69 71h2M66 76h2M27 87h2M71 107h2M77 93h2M76 76h2M42 70h2M60 39h2M69 66h2M86 94h2M68 97h2M113 90h2M68 79h2M125 103h2M110 50h2M12 107h2M98 100h2M94 73h2M91 77h2M121 91h2M50 66h2M107 92h2M86 83h2M41 64h2M93 48h2M92 87h2M96 92h2M133 83h2M54 50h2M12 79h2M103 51h2M83 66h2M70 81h2M79 59h2M99 76h2" stroke="#ee2244" stroke-opacity="0.48" stroke-width="1.6"/><ellipse cx="391.1" cy="472.2" rx="8.2" ry="3.9" fill="#f00" fill-opacity="0.3" filter="url(#blur2)"/><ellipse cx="391.1" cy="472.2" rx="7.1" ry="3.0" fill="#f00" fill-opacity="1" filter="url(#blur)"/><path d="M378.5 419.5H468.5V481.5H378.5Z M406.5 419.5V481.5 M378.5 449.5H468.5" fill="none" stroke="#666" stroke-width="0.85"/><text x="381.9" y="426.3" font-size="3.808" text-anchor="start" fill="#333" font-family="'Liberation Sans', sans-serif">Q1</text><text x="458.6" y="426.3" font-size="3.808" text-anchor="start" fill="#333" font-family="'Liberation Sans', sans-serif">Q2</text><text x="381.9" y="462.4" font-size="3.808" text-anchor="start" fill="#333" font-family="'Liberation Sans', sans-serif">Q3</text><text x="458.6" y="462.4" font-size="3.808" text-anchor="start" fill="#333" font-family="'Liberation Sans', sans-serif">Q4</text><text x="467.0" y="447.2" font-size="9" text-anchor="end" fill="#1a1a1a" font-family="'Liberation Serif', serif">17.4%</text><text x="467.0" y="478.3" font-size="9" text-anchor="end" fill="#1a1a1a" font-family="'Liberation Serif', serif">18.6%</text><text x="375.4" y="488.3" font-size="3.2640000000000002" text-anchor="start" fill="#444" font-family="'Liberation Sans', sans-serif">-220</text><text x="423.1" y="490.5" font-size="3.2640000000000002" text-anchor="middle" fill="#444" font-family="'Liberation Sans', sans-serif">FITC-A</text><text x="390.0" y="486.3" font-size="3.2640000000000002" text-anchor="middle" fill="#444" font-family="'Liberation Sans', sans-serif">0</text><text x="397.4" y="486.3" font-size="3.2640000000000002" text-anchor="middle" fill="#444" font-family="'Liberation Sans', sans-serif">10<tspan dy="-1.2" font-size="2.4">2</tspan></text><text x="418.7" y="486.3" font-size="3.2640000000000002" text-anchor="middle" fill="#444" font-family="'Liberation Sans', sans-serif">10<tspan dy="-1.2" font-size="2.4">3</tspan></text><text x="439.7" y="486.3" font-size="3.2640000000000002" text-anchor="middle" fill="#444" font-family="'Liberation Sans', sans-serif">10<tspan dy="-1.2" font-size="2.4">4</tspan></text><text x="460.0" y="486.3" font-size="3.2640000000000002" text-anchor="middle" fill="#444" font-family="'Liberation Sans', sans-serif">10<tspan dy="-1.2" font-size="2.4">5</tspan></text><text x="376.5" y="425.0" font-size="3.2640000000000002" text-anchor="middle" fill="#444" font-family="'Liberation Sans', sans-serif" transform="rotate(-90 376.5 425.0)">10<tspan dy="-1.2" font-size="2.4">5</tspan></text><text x="376.5" y="438.4" font-size="3.2640000000000002" text-anchor="middle" fill="#444" font-family="'Liberation Sans', sans-serif" transform="rotate(-90 376.5 438.4)">10<tspan dy="-1.2" font-size="2.4">4</tspan></text><text x="376.5" y="453.6" font-size="3.2640000000000002" text-anchor="middle" fill="#444" font-family="'Liberation Sans', sans-serif" transform="rotate(-90 376.5 453.6)">10<tspan dy="-1.2" font-size="2.4">3</tspan></text><text x="376.5" y="470.6" font-size="3.2640000000000002" text-anchor="middle" fill="#444" font-family="'Liberation Sans', sans-serif" transform="rotate(-90 376.5 470.6)">0</text><text x="376.5" y="479.9" font-size="3.2640000000000002" text-anchor="middle" fill="#444" font-family="'Liberation Sans', sans-serif" transform="rotate(-90 376.5 479.9)">-260</text><path d="M377.1 425.0h1.4M377.1 438.4h1.4M377.1 453.6h1.4M377.1 470.6h1.4M377.1 479.9h1.4M390.0 481.5v1.4M397.4 481.5v1.4M418.7 481.5v1.4M439.7 481.5v1.4M460.0 481.5v1.4" stroke="#555" stroke-width="0.54"/><text x="370.3" y="449.3" font-size="3.808" text-anchor="middle" fill="#444" font-family="'Liberation Sans', sans-serif" transform="rotate(-90 370.3 449.3)">PE-Texas Red-A</text><text x="424.1" y="417.0" font-size="8.6" text-anchor="middle" fill="#000" font-family="'Liberation Serif', serif">Control</text><path transform="translate(485.5 419.5) scale(.5)" d="M18 108h2M27 105h2M43 107h2M27 114h2M25 101h2M18 104h2M39 110h2M46 115h2M55 110h2M49 110h2M25 110h2M30 106h2M60 110h2M26 107h2M65 106h2M41 110h2M37 109h2M26 105h2M28 105h2M42 114h2M22 109h2M22 104h2M27 107h2M26 95h2M51 106h2M24 110h2M25 101h2M37 109h2M23 111h2M35 102h2M56 108h2M21 109h2M32 111h2M19 111h2M44 110h2M39 113h2M41 107h2M23 112h2M45 108h2M32 110h2M10 108h2M10 108h2M46 115h2M26 109h2M29 97h2M41 107h2M31 103h2M29 107h2M49 108h2M83 105h2M27 107h2M23 113h2M39 101h2M31 112h2M18 108h2M27 117h2M36 105h2M25 115h2M26 117h2M17 106h2M27 104h2M28 110h2M24 101h2M50 113h2M24 108h2M9 111h2M19 104h2M63 101h2M30 102h2M15 102h2M34 101h2M25 110h2M28 101h2M52 107h2M51 102h2M55 101h2M16 105h2M26 108h2M25 110h2M50 104h2M19 105h2M42 110h2M26 103h2M29 111h2M24 113h2M33 108h2M24 113h2M30 100h2M42 105h2M46 108h2M24 108h2M25 103h2M30 110h2M31 106h2M25 109h2M34 111h2M35 116h2M17 107h2M38 111h2M17 101h2M29 111h2M46 100h2M31 112h2M30 102h2M24 101h2M48 106h2M26 103h2M28 103h2M22 107h2M27 109h2M32 112h2M29 108h2M33 103h2M48 104h2M17 112h2M39 104h2M44 111h2M40 102h2M32 102h2M24 104h2M23 109h2M23 110h2M32 104h2M32 110h2M47 106h2M56 109h2M48 101h2M21 112h2M27 109h2M48 100h2M36 115h2M42 107h2M38 107h2M41 113h2M27 109h2M34 110h2M42 102h2M47 111h2M21 106h2M18 106h2M34 102h2M23 103h2M24 103h2M21 109h2M27 103h2M44 104h2M43 101h2M51 105h2M22 109h2M19 102h2M33 105h2M35 107h2M33 107h2M40 107h2M46 111h2M14 99h2M53 105h2M32 106h2M34 116h2M24 107h2M29 102h2M22 106h2M29 108h2M14 100h2M54 106h2M42 105h2M24 116h2M20 103h2M40 107h2M17 107h2M40 100h2M25 110h2M58 97h2M24 107h2M22 103h2M25 109h2M21 111h2M42 111h2M53 105h2M29 111h2M49 111h2M26 105h2M19 105h2M22 105h2M26 110h2M42 107h2M20 107h2M36 111h2M33 110h2M24 110h2M41 105h2M23 112h2M22 110h2M27 105h2M27 105h2M29 115h2M51 106h2M36 111h2M26 115h2M30 109h2M22 102h2M22 104h2M45 105h2M43 105h2M22 108h2M26 100h2M30 112h2M27 102h2M23 102h2M27 103h2M28 108h2M49 102h2M14 114h2M36 105h2M37 103h2M26 110h2M27 107h2M36 107h2M27 109h2M49 112h2M22 110h2M15 101h2M35 109h2M50 99h2M46 104h2M26 109h2M51 103h2M16 104h2M28 112h2M35 105h2M25 105h2M44 100h2M24 103h2M46 107h2M24 110h2M59 111h2M19 106h2M46 99h2M20 105h2M37 103h2M32 106h2M34 102h2M12 97h2M32 111h2M36 100h2M16 105h2M22 99h2M25 103h2M28 108h2M32 108h2M37 106h2M26 105h2M47 106h2M41 114h2M55 97h2M31 111h2M26 104h2M18 104h2M29 99h2M29 103h2M29 102h2M30 107h2M24 104h2M43 109h2M23 109h2M20 104h2M7 104h2M39 105h2M38 104h2M34 106h2M22 116h2M23 101h2M31 109h2M34 106h2M36 111h2M38 101h2M55 107h2M13 110h2M28 108h2M59 104h2M24 102h2M32 110h2M35 107h2M13 108h2M45 104h2M25 102h2M33 100h2M58 106h2M24 101h2M37 111h2M25 107h2M33 111h2M38 112h2M18 118h2M25 102h2M22 108h2M41 117h2M48 103h2M26 105h2M24 106h2M24 112h2M34 109h2M28 102h2M36 105h2M59 112h2M20 102h2M25 106h2M46 106h2M36 105h2M27 112h2M29 115h2M29 108h2M35 110h2M58 104h2M25 103h2M56 109h2M36 109h2M15 110h2M31 108h2M30 106h2M28 104h2M27 109h2M13 110h2M39 102h2M37 108h2M25 114h2M32 106h2M19 116h2M32 108h2M27 116h2M28 114h2M45 111h2M39 112h2M28 98h2M9 112h2M13 113h2M76 99h2M38 109h2M24 98h2M28 114h2M28 107h2M30 107h2M34 117h2M22 99h2M42 104h2M25 101h2M28 105h2M36 105h2M18 109h2M28 99h2M26 110h2M28 105h2M38 104h2M24 109h2M28 104h2M32 108h2M43 111h2M30 107h2M22 108h2M26 110h2M41 110h2M29 108h2M52 114h2M25 94h2M38 100h2M30 109h2M52 106h2M28 104h2M34 101h2M38 108h2M49 105h2M34 108h2M29 103h2M25 107h2M37 111h2M24 108h2M38 110h2M33 108h2M26 107h2M28 99h2M24 96h2M37 111h2M26 107h2M32 106h2M51 106h2M34 106h2M59 100h2M32 101h2M24 103h2M41 102h2M21 105h2M22 102h2M53 104h2M23 113h2M31 112h2M17 106h2M36 108h2M37 112h2M38 112h2M41 104h2M32 112h2M22 109h2M39 113h2M16 117h2M17 107h2M67 101h2M63 108h2M58 113h2M32 103h2M27 101h2M19 108h2M18 108h2M29 106h2M21 101h2M41 103h2M25 106h2M40 115h2M59 110h2M39 110h2M27 106h2M16 109h2M25 108h2M63 111h2M47 111h2M25 104h2M18 104h2M32 110h2M38 105h2M20 107h2M34 98h2M31 101h2M26 106h2M22 105h2M29 102h2M40 110h2M37 102h2M28 105h2M31 110h2M25 107h2M42 105h2M40 107h2M18 107h2M31 105h2M58 105h2M18 106h2M27 109h2M67 107h2M41 104h2M22 104h2M27 105h2M29 104h2M20 103h2M41 102h2M41 114h2M22 111h2M42 95h2M42 110h2M23 114h2M16 112h2M33 102h2M31 100h2M38 109h2M48 113h2M24 109h2M24 94h2M43 112h2M32 114h2M28 99h2M25 106h2M33 105h2M12 101h2M28 112h2M24 101h2M25 111h2M48 102h2M39 112h2M41 102h2M38 105h2M25 115h2M29 109h2M47 114h2M33 104h2M29 104h2M28 106h2M18 103h2M18 106h2M41 110h2M32 103h2M28 101h2M38 100h2M24 114h2M35 102h2M27 102h2M23 105h2M22 108h2M45 103h2M22 103h2M24 107h2M24 103h2M24 111h2M44 100h2M57 98h2M46 112h2M54 104h2M42 102h2M96 104h2M82 105h2M42 110h2M49 96h2M61 102h2M101 105h2M91 108h2M58 104h2M74 111h2M49 111h2M77 110h2M70 111h2M61 114h2M69 107h2M66 104h2M61 103h2M50 103h2M49 101h2M98 104h2M94 105h2M90 100h2M71 108h2M44 93h2M85 110h2M56 103h2M40 108h2M40 103h2M42 98h2M97 105h2M78 115h2M94 112h2M89 113h2M79 100h2M86 120h2M40 108h2M61 100h2M55 103h2M66 102h2M40 112h2M56 102h2M40 101h2M63 111h2M83 103h2M58 111h2M89 105h2M75 107h2M98 101h2M103 114h2M57 99h2M55 113h2M72 100h2M70 112h2M41 106h2M68 107h2M45 112h2M55 106h2M44 99h2M103 110h2M81 106h2M72 99h2M43 97h2M66 105h2M64 112h2M75 107h2M61 100h2M70 111h2M59 115h2M66 110h2M104 97h2M81 100h2M86 104h2M74 112h2M78 106h2M57 109h2M95 98h2M53 102h2M56 100h2M53 113h2M52 110h2M56 105h2M66 112h2M93 109h2M91 108h2M88 110h2M104 108h2M103 102h2M55 113h2M41 107h2M104 104h2M63 109h2M96 101h2M84 106h2M46 106h2M73 107h2M58 107h2M41 103h2M49 112h2M87 105h2M60 110h2M92 114h2M43 108h2M102 98h2M67 103h2M78 104h2M47 103h2M97 106h2M41 109h2M81 106h2M93 104h2M43 99h2M50 106h2M55 97h2M51 106h2M49 109h2M43 105h2M99 108h2M68 104h2M94 103h2M40 109h2M44 101h2M93 102h2M62 105h2M45 110h2M65 104h2M72 102h2M104 104h2M76 101h2M43 112h2M81 111h2M75 101h2M91 104h2M67 109h2M55 98h2M89 101h2M91 111h2M100 103h2M46 103h2M90 104h2M71 108h2M60 105h2M67 102h2M101 108h2M59 110h2M44 108h2M69 109h2M44 102h2M53 102h2M92 105h2M51 100h2M67 100h2M78 99h2M40 114h2M69 119h2M67 112h2M90 111h2M54 105h2M54 107h2M67 105h2M43 106h2M50 112h2M93 94h2M65 99h2M85 113h2M76 102h2M68 94h2M51 104h2M49 94h2M58 106h2M41 97h2M89 106h2M41 108h2M63 102h2M81 106h2M47 122h2M55 98h2M40 111h2M56 108h2M86 102h2M46 107h2M104 106h2M49 98h2M62 106h2M52 98h2M56 106h2M76 104h2M81 99h2M98 105h2M55 105h2M83 97h2M42 104h2M44 101h2M97 105h2M54 111h2M43 104h2M76 112h2M84 108h2M91 109h2M68 105h2M61 100h2M40 111h2M82 96h2M48 100h2M52 100h2M58 108h2M74 103h2M41 107h2M53 106h2M99 100h2M45 103h2M70 107h2M55 107h2M51 107h2M76 99h2M52 103h2M52 107h2M104 103h2M75 101h2M97 108h2M45 100h2M41 114h2M87 109h2M80 105h2M72 103h2M40 112h2M40 107h2M60 99h2M56 113h2M48 104h2M103 103h2M98 112h2M47 105h2M48 104h2M81 100h2M48 97h2M52 101h2M91 110h2M41 111h2M50 108h2M68 107h2M89 110h2M50 95h2M99 99h2M82 109h2M52 104h2M56 111h2M83 110h2M41 100h2M88 107h2M47 91h2M99 100h2M48 109h2M50 100h2M51 108h2M70 102h2M76 107h2M54 109h2M61 106h2M74 115h2M42 110h2M100 110h2M55 106h2M78 108h2M90 107h2M98 108h2M56 106h2M57 100h2M75 95h2M55 106h2M42 107h2M93 109h2M49 102h2M93 106h2M95 110h2M40 103h2M62 108h2M99 113h2M92 103h2M58 105h2M96 97h2M57 107h2M72 103h2M100 105h2M47 97h2M58 97h2M50 102h2M69 105h2M51 98h2M43 103h2M70 108h2M68 117h2M97 109h2M47 104h2M40 118h2M46 99h2M41 113h2M68 106h2M62 98h2M77 104h2M51 100h2M75 106h2M76 103h2M61 108h2M42 109h2M90 100h2M93 103h2M90 104h2M72 106h2M49 104h2M88 104h2M92 109h2M43 114h2M45 102h2M59 104h2M57 106h2M95 97h2M50 105h2M59 115h2M43 102h2M75 105h2M60 110h2M95 112h2M45 107h2M46 111h2M101 104h2M48 106h2M49 105h2M94 112h2M59 94h2M66 102h2M58 111h2M60 100h2M89 105h2M49 108h2M55 108h2M42 102h2M43 107h2M100 100h2M55 107h2M84 108h2M66 112h2M65 95h2M42 111h2M71 97h2M68 106h2M40 101h2M101 101h2M95 106h2M97 98h2M104 108h2M67 94h2M44 105h2M81 107h2M87 110h2M42 112h2M98 101h2M92 101h2M43 103h2M97 106h2M53 101h2M102 104h2M49 108h2M81 107h2M79 102h2M73 104h2M87 103h2M43 111h2M96 110h2M80 111h2M78 98h2M98 115h2M45 104h2M52 99h2M64 107h2M95 98h2M103 97h2M41 102h2M43 119h2M58 109h2M63 112h2M93 115h2M54 103h2M76 111h2M62 105h2M104 105h2M70 105h2M44 115h2M85 108h2M59 109h2M41 104h2M41 102h2M78 106h2M102 96h2M43 107h2M82 108h2M69 115h2M57 103h2M82 108h2M65 108h2M58 109h2M52 109h2M81 111h2M40 104h2M66 102h2M89 103h2M42 115h2M54 108h2M80 105h2M98 106h2M73 102h2M75 105h2M93 107h2M99 104h2M88 107h2M47 120h2M48 110h2M50 101h2M76 99h2M46 109h2M48 103h2M87 106h2M51 111h2M64 106h2M104 103h2M66 109h2M58 101h2M70 108h2M44 107h2M46 105h2M98 108h2M41 105h2M72 107h2M95 101h2M87 104h2M73 104h2M51 98h2M42 104h2M84 109h2M92 111h2M69 108h2M62 106h2M88 121h2M86 111h2M95 95h2M87 105h2M54 104h2M55 106h2M83 104h2M61 109h2M52 108h2M78 105h2M89 109h2M59 106h2M58 103h2M46 105h2M94 111h2M66 109h2M41 102h2M91 104h2M79 109h2M104 100h2M49 104h2M41 103h2M69 108h2M44 105h2M40 109h2M88 101h2M83 111h2M82 102h2M74 105h2M55 104h2M95 115h2M92 111h2M91 102h2M75 108h2M47 103h2M43 94h2M71 114h2M52 103h2M73 102h2M83 104h2M60 99h2M46 107h2M57 107h2M92 108h2M83 103h2M57 98h2M72 113h2M70 109h2M53 103h2M43 103h2M41 113h2M66 109h2M41 110h2M77 96h2M50 107h2M45 102h2M100 103h2M76 110h2M80 100h2M50 102h2M78 105h2M62 111h2M82 102h2M43 114h2M50 105h2M79 104h2M53 101h2M42 109h2M52 109h2M48 108h2M59 103h2M43 104h2M47 106h2M93 100h2M68 102h2M73 106h2M70 107h2M49 115h2M74 106h2M85 105h2M86 109h2M47 102h2M78 117h2M87 106h2M43 103h2M50 114h2M43 100h2M68 111h2M90 107h2M62 105h2M86 109h2M67 109h2M42 106h2M63 108h2M45 109h2M104 105h2M81 104h2M43 107h2M85 99h2M62 105h2M77 101h2M51 110h2M99 111h2M74 106h2M48 109h2M62 102h2M73 108h2M62 106h2M75 107h2M45 104h2M59 104h2M54 107h2M95 103h2M54 107h2M95 111h2M71 110h2M47 116h2M88 105h2M101 93h2M76 101h2M95 97h2M54 108h2M74 99h2M57 101h2M49 102h2M74 106h2M92 111h2M81 116h2M43 112h2M49 115h2M53 107h2M42 102h2M54 111h2M40 101h2M86 111h2M98 111h2M50 103h2M55 111h2M71 101h2M87 102h2M102 33h2M72 47h2M29 35h2M127 35h2M97 50h2M86 27h2M132 14h2M47 39h2M55 17h2M109 40h2M101 46h2M128 65h2M71 46h2M62 50h2M69 34h2M106 49h2M66 43h2M58 39h2M7 21h2M89 44h2M60 33h2M61 44h2M87 34h2M76 24h2M102 25h2M119 46h2M134 37h2M60 38h2M82 35h2M64 43h2M78 30h2M60 21h2M113 22h2M103 55h2M31 40h2M63 44h2M93 51h2M119 26h2M75 46h2M109 39h2M92 31h2M83 33h2M111 33h2M94 39h2M34 42h2M76 32h2M133 9h2M45 14h2M77 36h2M84 27h2M77 49h2M92 49h2M146 52h2M56 50h2M63 29h2M40 59h2M72 37h2M120 46h2M27 40h2M160 17h2M69 62h2M62 47h2M112 47h2M95 47h2M96 56h2M111 59h2M69 50h2M44 26h2M83 60h2M92 57h2M132 39h2M117 30h2M124 42h2M63 29h2M36 38h2M96 28h2M73 23h2M101 54h2M104 52h2M33 38h2M61 35h2M108 64h2M75 31h2M73 31h2M10 66h2M66 40h2M173 33h2M25 57h2M142 55h2M52 33h2M43 27h2M131 37h2M31 20h2M50 20h2M100 32h2M11 13h2M121 43h2M119 9h2M79 34h2M56 47h2M113 32h2M101 27h2M111 37h2M67 55h2M115 18h2M98 51h2M139 37h2M36 47h2M73 8h2M31 46h2M100 39h2M56 40h2M79 53h2M110 34h2M132 31h2M46 52h2M90 50h2M103 37h2M102 35h2M158 40h2M142 54h2M110 29h2M98 49h2M124 37h2M113 32h2M115 42h2M101 46h2M38 43h2M29 32h2M158 39h2M80 24h2M45 58h2M94 34h2M95 19h2M83 52h2M13 34h2M86 37h2M49 28h2M51 22h2M88 32h2M6 29h2M68 11h2M30 39h2M86 61h2M106 53h2M73 46h2M100 19h2M84 21h2M42 51h2M79 37h2M91 68h2M69 17h2M131 46h2M28 39h2M31 31h2M73 30h2M96 33h2M64 47h2M57 50h2M104 57h2M76 37h2M91 45h2M87 51h2M49 38h2M76 32h2M94 42h2M49 42h2M84 28h2M19 35h2M106 46h2M113 32h2M53 50h2M83 33h2M60 28h2M4 7h2M118 49h2M85 60h2M106 33h2M102 44h2M133 59h2M84 64h2M119 29h2M56 42h2M82 23h2M109 32h2M45 38h2M136 24h2M41 57h2M29 47h2M127 45h2M36 24h2M87 56h2M105 48h2M19 24h2M137 19h2M109 45h2M50 30h2M47 41h2M77 67h2M170 65h2M61 34h2M9 56h2M66 60h2M48 48h2M85 72h2M48 37h2M90 42h2M46 63h2M76 51h2M107 38h2M81 51h2M63 29h2M99 43h2M140 26h2M65 49h2M87 57h2M39 20h2M78 44h2M138 43h2M10 32h2M82 35h2M18 37h2M31 45h2M38 41h2M84 18h2M104 35h2M119 29h2M115 33h2M102 30h2M76 67h2M53 34h2M97 40h2M47 41h2M74 43h2M37 42h2M74 59h2M118 42h2M58 22h2M41 22h2M94 45h2M89 55h2M74 47h2M88 56h2M107 50h2M97 16h2M143 36h2M105 19h2M84 56h2M75 61h2M105 51h2M98 28h2M134 28h2M101 49h2M82 43h2M81 56h2M97 32h2M73 49h2M117 43h2M109 47h2M141 47h2M21 28h2M93 32h2M82 48h2M76 46h2M36 55h2M132 35h2M62 39h2M118 38h2M22 51h2M63 27h2M115 28h2M88 64h2M60 48h2M96 50h2M86 66h2M103 32h2M88 31h2M121 39h2M93 48h2M113 39h2M112 17h2M106 41h2M102 21h2M88 35h2M59 40h2M80 36h2M62 41h2M97 52h2M74 66h2M59 28h2M129 46h2M116 58h2M64 40h2M26 63h2M91 50h2M102 34h2M35 29h2M91 40h2M47 55h2M76 38h2M131 27h2M142 38h2M122 46h2M143 37h2M100 68h2M108 50h2M61 47h2M95 35h2M77 42h2M90 34h2M72 34h2M150 31h2M73 39h2M22 46h2M6 36h2M124 21h2M113 61h2M145 48h2M66 24h2M82 26h2M78 60h2M132 21h2M26 41h2M58 41h2M100 37h2M104 33h2M72 21h2M92 44h2M49 50h2M69 43h2M24 53h2M61 49h2M28 36h2M133 40h2M49 27h2M97 24h2M84 60h2M75 45h2M40 49h2M75 50h2M142 40h2M60 79h2M24 63h2M73 70h2M142 106h2M76 92h2M72 101h2M73 73h2M36 74h2M64 84h2M55 61h2M59 51h2M19 67h2M67 77h2M91 44h2M92 101h2M64 92h2M85 104h2M47 89h2M51 56h2M134 93h2M95 75h2M75 90h2M38 65h2M34 89h2M85 87h2M80 61h2M32 89h2M102 102h2M74 78h2M43 86h2M49 67h2M59 61h2M37 78h2M110 73h2M92 85h2M44 85h2M71 84h2M82 55h2M27 46h2M70 73h2M69 40h2M68 67h2M100 86h2M20 66h2M77 62h2M62 62h2M113 87h2M82 96h2M85 86h2M108 105h2M29 88h2M139 70h2M79 89h2M62 95h2M86 86h2M70 75h2M80 53h2M38 62h2M30 63h2M89 87h2M113 94h2M109 57h2M58 84h2M44 89h2M121 90h2M71 63h2M89 61h2M57 87h2M74 77h2M64 66h2M104 77h2M74 62h2M38 101h2M65 84h2M44 61h2M99 65h2M44 90h2M26 70h2M69 79h2M78 69h2M83 73h2M115 88h2M44 87h2M128 92h2M24 89h2M66 76h2M34 87h2M68 42h2M53 77h2M89 92h2M28 89h2M79 48h2M45 58h2M69 57h2M102 87h2M55 91h2M58 98h2M115 99h2M78 77h2M62 89h2M87 90h2M106 93h2M52 70h2M63 91h2M92 85h2M53 95h2M81 110h2M100 76h2M46 89h2M47 67h2M128 58h2M8 85h2M67 77h2M48 74h2M53 78h2M102 97h2M100 74h2M14 82h2M88 84h2M76 76h2M75 90h2M44 88h2M56 84h2M128 78h2M98 63h2M40 53h2M90 62h2M60 111h2M82 79h2M109 69h2M19 70h2M27 80h2M101 84h2M46 78h2M31 55h2M53 70h2M36 83h2M69 71h2M74 76h2M40 69h2M32 74h2M30 72h2M28 54h2M91 59h2M52 46h2M117 25h2M126 78h2M74 70h2M86 70h2M25 68h2M92 91h2M94 71h2M41 79h2M67 56h2M21 96h2M57 76h2M104 75h2M76 71h2M133 85h2M111 79h2M105 66h2M75 92h2M73 52h2M90 89h2M32 44h2M48 67h2M43 93h2M48 75h2M58 75h2M25 83h2M15 79h2M83 66h2M71 60h2M97 82h2M81 68h2M53 49h2M70 97h2M95 84h2M121 58h2M51 46h2M63 71h2M49 76h2M16 54h2M43 77h2M72 64h2M84 88h2M22 77h2M67 94h2M51 82h2M100 107h2M78 79h2M60 58h2M59 66h2M48 106h2M48 89h2M100 63h2M73 90h2M43 64h2M82 69h2M81 43h2M105 73h2M64 52h2M96 100h2M98 95h2M93 105h2M97 45h2M91 39h2M59 110h2M65 98h2M60 101h2M41 59h2M86 96h2M80 58h2M85 93h2M65 73h2M38 87h2M16 70h2M114 101h2M51 69h2M99 73h2M68 64h2M66 73h2M70 29h2M36 87h2M62 80h2M65 52h2M99 90h2M128 76h2M41 76h2M76 85h2M45 75h2M87 90h2M99 62h2M49 66h2M85 96h2M74 70h2M98 74h2M76 67h2M107 35h2M120 63h2M56 58h2M27 77h2M59 34h2M51 84h2M47 57h2M69 79h2M23 36h2M18 80h2M72 113h2M69 74h2M69 69h2M79 74h2M84 108h2M3 87h2M68 69h2M107 83h2M41 62h2M40 54h2M71 82h2M66 75h2M78 70h2M24 74h2M88 83h2M38 75h2M54 105h2M61 54h2M108 84h2M77 64h2M20 74h2M80 78h2M74 83h2M28 87h2M112 87h2M44 73h2M71 82h2M64 55h2M10 99h2M121 72h2M128 81h2M21 83h2M36 112h2M30 65h2M40 58h2M93 76h2M57 83h2M96 91h2M46 71h2M93 95h2M78 87h2M29 90h2M81 68h2M111 94h2M55 58h2M22 57h2M65 71h2M67 71h2M74 100h2M82 64h2M8 64h2M44 93h2M96 95h2M48 83h2M22 60h2M54 80h2M99 42h2M63 100h2M126 85h2M60 79h2M70 86h2M50 87h2M33 53h2M59 70h2M67 74h2M99 66h2M94 72h2M72 74h2M55 41h2M89 86h2M59 96h2M67 86h2M107 83h2M86 71h2M2 69h2M59 62h2M88 96h2M55 33h2M86 81h2M40 83h2M45 79h2M55 39h2M126 81h2M33 98h2M43 74h2M89 90h2M53 91h2M46 78h2M92 80h2M70 63h2M111 70h2M98 70h2M73 61h2M113 81h2M34 91h2M82 64h2" stroke="#ee2244" stroke-opacity="0.48" stroke-width="1.6"/><ellipse cx="499.0" cy="472.8" rx="8.7" ry="3.9" fill="#f00" fill-opacity="0.3" filter="url(#blur2)"/><ellipse cx="499.0" cy="472.8" rx="7.6" ry="3.0" fill="#f00" fill-opacity="1" filter="url(#blur)"/><path d="M485.5 419.5H575.5V481.5H485.5Z M512.5 419.5V481.5 M485.5 449.5H575.5" fill="none" stroke="#666" stroke-width="0.85"/><text x="488.9" y="426.3" font-size="3.808" text-anchor="start" fill="#333" font-family="'Liberation Sans', sans-serif">Q1</text><text x="565.6" y="426.3" font-size="3.808" text-anchor="start" fill="#333" font-family="'Liberation Sans', sans-serif">Q2</text><text x="488.9" y="462.4" font-size="3.808" text-anchor="start" fill="#333" font-family="'Liberation Sans', sans-serif">Q3</text><text x="565.6" y="462.4" font-size="3.808" text-anchor="start" fill="#333" font-family="'Liberation Sans', sans-serif">Q4</text><text x="572.5" y="447.2" font-size="9" text-anchor="end" fill="#1a1a1a" font-family="'Liberation Serif', serif">7.7%</text><text x="572.5" y="478.3" font-size="9" text-anchor="end" fill="#1a1a1a" font-family="'Liberation Serif', serif">18.8%</text><text x="482.4" y="488.3" font-size="3.2640000000000002" text-anchor="start" fill="#444" font-family="'Liberation Sans', sans-serif">-380</text><text x="530.0" y="490.5" font-size="3.2640000000000002" text-anchor="middle" fill="#444" font-family="'Liberation Sans', sans-serif">FITC-A</text><text x="497.0" y="486.3" font-size="3.2640000000000002" text-anchor="middle" fill="#444" font-family="'Liberation Sans', sans-serif">0</text><text x="504.4" y="486.3" font-size="3.2640000000000002" text-anchor="middle" fill="#444" font-family="'Liberation Sans', sans-serif">10<tspan dy="-1.2" font-size="2.4">2</tspan></text><text x="525.7" y="486.3" font-size="3.2640000000000002" text-anchor="middle" fill="#444" font-family="'Liberation Sans', sans-serif">10<tspan dy="-1.2" font-size="2.4">3</tspan></text><text x="546.7" y="486.3" font-size="3.2640000000000002" text-anchor="middle" fill="#444" font-family="'Liberation Sans', sans-serif">10<tspan dy="-1.2" font-size="2.4">4</tspan></text><text x="567.0" y="486.3" font-size="3.2640000000000002" text-anchor="middle" fill="#444" font-family="'Liberation Sans', sans-serif">10<tspan dy="-1.2" font-size="2.4">5</tspan></text><text x="483.5" y="425.0" font-size="3.2640000000000002" text-anchor="middle" fill="#444" font-family="'Liberation Sans', sans-serif" transform="rotate(-90 483.5 425.0)">10<tspan dy="-1.2" font-size="2.4">5</tspan></text><text x="483.5" y="438.4" font-size="3.2640000000000002" text-anchor="middle" fill="#444" font-family="'Liberation Sans', sans-serif" transform="rotate(-90 483.5 438.4)">10<tspan dy="-1.2" font-size="2.4">4</tspan></text><text x="483.5" y="453.6" font-size="3.2640000000000002" text-anchor="middle" fill="#444" font-family="'Liberation Sans', sans-serif" transform="rotate(-90 483.5 453.6)">10<tspan dy="-1.2" font-size="2.4">3</tspan></text><text x="483.5" y="470.6" font-size="3.2640000000000002" text-anchor="middle" fill="#444" font-family="'Liberation Sans', sans-serif" transform="rotate(-90 483.5 470.6)">0</text><text x="483.5" y="479.9" font-size="3.2640000000000002" text-anchor="middle" fill="#444" font-family="'Liberation Sans', sans-serif" transform="rotate(-90 483.5 479.9)">-298</text><path d="M484.1 425.0h1.4M484.1 438.4h1.4M484.1 453.6h1.4M484.1 470.6h1.4M484.1 479.9h1.4M497.0 481.5v1.4M504.4 481.5v1.4M525.7 481.5v1.4M546.7 481.5v1.4M567.0 481.5v1.4" stroke="#555" stroke-width="0.54"/><text x="477.3" y="449.3" font-size="3.808" text-anchor="middle" fill="#444" font-family="'Liberation Sans', sans-serif" transform="rotate(-90 477.3 449.3)">PE-Texas Red-A</text><text x="529.3" y="415.9" font-size="8.6" text-anchor="middle" fill="#000" font-family="'Liberation Serif', serif">pol-miR-731 agomir</text><path transform="translate(592.5 419.5) scale(.5)" d="M29 110h2M23 95h2M36 106h2M39 105h2M30 101h2M24 102h2M27 107h2M44 98h2M46 103h2M54 110h2M43 96h2M45 97h2M63 101h2M29 111h2M14 104h2M21 101h2M24 106h2M28 105h2M45 96h2M60 102h2M15 101h2M49 108h2M25 104h2M37 108h2M30 108h2M23 100h2M45 107h2M32 106h2M37 107h2M55 106h2M49 102h2M26 93h2M40 104h2M43 95h2M27 101h2M14 107h2M56 98h2M41 111h2M19 108h2M64 112h2M18 99h2M37 109h2M19 100h2M20 108h2M26 106h2M45 109h2M41 105h2M55 106h2M19 101h2M50 104h2M28 105h2M98 103h2M42 105h2M29 109h2M49 105h2M18 109h2M48 103h2M5 103h2M19 102h2M26 100h2M52 104h2M57 99h2M29 109h2M39 100h2M23 101h2M31 106h2M35 107h2M49 104h2M58 107h2M30 103h2M32 100h2M18 104h2M26 106h2M25 104h2M36 101h2M36 100h2M27 107h2M40 103h2M24 107h2M72 94h2M53 104h2M54 109h2M21 111h2M25 102h2M45 103h2M38 101h2M21 103h2M21 109h2M37 110h2M19 94h2M9 102h2M19 105h2M17 97h2M38 102h2M46 107h2M39 98h2M23 113h2M29 105h2M35 103h2M30 101h2M26 94h2M65 103h2M18 106h2M45 97h2M26 110h2M43 105h2M52 103h2M28 110h2M29 103h2M45 104h2M19 112h2M31 111h2M42 99h2M63 103h2M23 103h2M10 105h2M24 102h2M23 106h2M39 108h2M65 105h2M34 105h2M23 101h2M47 100h2M12 102h2M37 110h2M24 99h2M34 103h2M37 101h2M36 101h2M52 105h2M44 101h2M17 103h2M31 108h2M51 103h2M31 99h2M31 104h2M27 99h2M57 99h2M65 109h2M62 100h2M44 97h2M28 97h2M24 101h2M51 108h2M28 102h2M22 98h2M14 102h2M44 100h2M39 98h2M21 101h2M49 101h2M47 102h2M20 94h2M26 99h2M50 105h2M15 107h2M42 91h2M21 104h2M16 100h2M42 104h2M41 106h2M22 114h2M42 113h2M28 106h2M38 103h2M38 104h2M48 105h2M33 105h2M60 104h2M44 104h2M12 99h2M22 97h2M25 96h2M37 101h2M56 105h2M19 102h2M33 100h2M27 99h2M24 104h2M28 109h2M11 100h2M27 110h2M53 107h2M50 110h2M45 102h2M35 100h2M29 105h2M26 104h2M27 97h2M17 106h2M32 107h2M30 103h2M37 102h2M58 108h2M39 99h2M26 104h2M54 103h2M31 105h2M33 102h2M20 108h2M30 101h2M30 97h2M14 95h2M38 97h2M33 98h2M13 100h2M23 100h2M64 104h2M25 107h2M27 108h2M15 108h2M20 100h2M35 98h2M15 101h2M28 96h2M49 99h2M24 102h2M31 108h2M10 103h2M47 104h2M30 98h2M37 101h2M33 98h2M27 102h2M16 107h2M29 97h2M28 103h2M27 98h2M28 97h2M14 108h2M63 111h2M74 109h2M21 100h2M51 101h2M27 103h2M38 97h2M31 105h2M11 108h2M45 99h2M65 105h2M39 110h2M6 103h2M51 109h2M30 102h2M23 101h2M22 92h2M25 99h2M24 101h2M26 103h2M30 101h2M24 102h2M27 102h2M57 104h2M26 94h2M16 90h2M47 108h2M26 101h2M39 105h2M14 102h2M27 97h2M57 106h2M24 103h2M25 101h2M26 107h2M30 101h2M24 104h2M22 96h2M29 110h2M24 104h2M28 108h2M39 97h2M64 103h2M21 101h2M31 108h2M28 100h2M56 110h2M27 104h2M37 102h2M21 107h2M20 95h2M41 108h2M46 100h2M28 98h2M25 92h2M22 109h2M19 110h2M34 94h2M48 99h2M41 102h2M27 102h2M18 100h2M26 111h2M25 104h2M39 108h2M28 104h2M21 114h2M16 104h2M27 104h2M25 101h2M49 107h2M30 102h2M34 103h2M39 106h2M40 96h2M30 98h2M39 102h2M36 103h2M49 109h2M34 96h2M31 112h2M24 103h2M78 110h2M43 104h2M18 110h2M48 96h2M29 102h2M30 100h2M78 99h2M59 106h2M31 105h2M45 100h2M27 108h2M49 105h2M19 96h2M59 109h2M41 105h2M27 105h2M54 106h2M25 105h2M25 103h2M20 93h2M20 104h2M23 105h2M25 104h2M26 109h2M27 103h2M53 110h2M19 109h2M20 99h2M22 107h2M20 106h2M39 102h2M40 112h2M62 99h2M36 101h2M29 101h2M41 99h2M19 103h2M37 108h2M44 99h2M22 104h2M36 106h2M56 93h2M25 105h2M20 110h2M30 106h2M29 105h2M39 105h2M17 95h2M30 107h2M28 102h2M52 106h2M22 104h2M29 103h2M30 106h2M31 105h2M32 102h2M25 104h2M40 110h2M79 100h2M24 108h2M27 104h2M19 106h2M17 107h2M23 104h2M50 99h2M30 112h2M17 104h2M12 105h2M29 98h2M19 109h2M44 98h2M47 99h2M23 105h2M30 105h2M52 100h2M42 104h2M15 107h2M50 97h2M28 107h2M48 102h2M28 102h2M19 104h2M71 97h2M31 99h2M60 96h2M48 105h2M22 102h2M32 111h2M36 108h2M51 104h2M32 103h2M62 109h2M50 100h2M28 106h2M29 97h2M16 105h2M46 105h2M61 96h2M14 104h2M48 99h2M36 105h2M26 99h2M27 103h2M45 102h2M21 98h2M26 105h2M22 101h2M41 104h2M70 105h2M43 112h2M13 96h2M23 104h2M53 106h2M25 97h2M38 102h2M21 98h2M44 102h2M34 103h2M23 101h2M24 103h2M24 106h2M21 104h2M33 106h2M37 101h2M27 101h2M16 116h2M28 105h2M18 101h2M7 102h2M21 103h2M37 108h2M30 98h2M25 105h2M64 92h2M17 99h2M28 105h2M55 105h2M56 100h2M21 95h2M22 105h2M29 111h2M26 98h2M38 93h2M43 104h2M15 104h2M31 108h2M26 100h2M29 102h2M19 106h2M45 99h2M23 97h2M24 99h2M28 105h2M55 98h2M21 97h2M28 105h2M20 102h2M19 96h2M23 106h2M25 94h2M18 101h2M64 97h2M80 106h2M50 106h2M4 103h2M31 104h2M51 102h2M20 104h2M30 104h2M24 102h2M47 103h2M28 105h2M26 101h2M60 110h2M11 100h2M33 106h2M17 100h2M40 108h2M20 101h2M26 107h2M37 104h2M64 106h2M30 109h2M60 109h2M64 104h2M10 101h2M33 102h2M50 103h2M122 104h2M57 98h2M107 92h2M135 100h2M133 99h2M63 98h2M92 101h2M70 118h2M106 99h2M88 114h2M49 99h2M124 105h2M66 104h2M76 91h2M57 104h2M101 100h2M135 103h2M127 97h2M83 111h2M104 109h2M75 100h2M50 97h2M68 104h2M95 107h2M86 103h2M86 102h2M68 99h2M109 102h2M99 106h2M74 92h2M132 96h2M115 112h2M75 101h2M129 105h2M88 105h2M55 98h2M62 99h2M111 108h2M68 106h2M129 106h2M108 107h2M70 104h2M51 101h2M47 98h2M91 101h2M85 105h2M57 101h2M65 107h2M54 95h2M46 116h2M68 102h2M91 109h2M59 105h2M105 106h2M72 108h2M86 109h2M133 101h2M108 103h2M118 107h2M114 109h2M70 110h2M94 112h2M59 96h2M57 102h2M132 110h2M102 104h2M86 94h2M77 105h2M124 96h2M135 98h2M56 104h2M96 101h2M88 107h2M109 101h2M102 98h2M100 109h2M121 99h2M65 103h2M117 102h2M47 100h2M58 100h2M110 108h2M52 109h2M62 98h2M103 107h2M75 104h2M61 102h2M78 97h2M124 98h2M74 98h2M58 97h2M76 97h2M90 105h2M56 104h2M52 107h2M113 109h2M63 98h2M96 106h2M66 104h2M97 98h2M58 100h2M88 103h2M76 93h2M83 104h2M97 102h2M54 105h2M51 96h2M49 107h2M95 101h2M95 101h2M109 104h2M73 95h2M129 107h2M69 99h2M83 110h2M125 102h2M69 104h2M125 91h2M118 97h2M105 105h2M48 108h2M73 105h2M58 114h2M74 106h2M106 103h2M79 94h2M106 103h2M62 103h2M96 95h2M88 109h2M50 100h2M120 101h2M113 100h2M129 102h2M119 97h2M52 108h2M89 105h2M101 100h2M76 98h2M110 100h2M95 102h2M84 105h2M134 95h2M112 96h2M69 102h2M93 105h2M81 103h2M82 102h2M105 100h2M54 105h2M101 102h2M111 99h2M75 102h2M125 97h2M131 105h2M86 106h2M119 97h2M99 105h2M68 106h2M63 99h2M76 100h2M47 109h2M62 102h2M103 105h2M130 104h2M103 101h2M109 105h2M65 101h2M100 106h2M65 112h2M90 106h2M55 113h2M89 107h2M92 104h2M54 102h2M62 102h2M94 101h2M115 97h2M49 107h2M86 98h2M78 108h2M103 112h2M117 96h2M107 108h2M48 102h2M116 100h2M130 106h2M79 110h2M46 111h2M50 102h2M108 100h2M46 102h2M100 108h2M111 101h2M121 100h2M50 101h2M113 104h2M85 92h2M65 107h2M102 102h2M113 101h2M74 102h2M73 95h2M78 101h2M94 104h2M109 108h2M92 102h2M101 104h2M131 96h2M120 108h2M92 102h2M59 97h2M75 102h2M129 110h2M70 97h2M95 106h2M96 99h2M61 109h2M83 101h2M122 102h2M80 109h2M125 91h2M118 103h2M54 98h2M58 100h2M123 108h2M87 91h2M57 98h2M67 95h2M112 98h2M134 103h2M106 111h2M119 101h2M62 103h2M113 101h2M105 98h2M132 107h2M105 99h2M114 115h2M70 99h2M83 105h2M120 94h2M71 111h2M75 101h2M54 111h2M58 106h2M58 95h2M81 112h2M123 106h2M49 104h2M134 99h2M58 107h2M93 102h2M92 104h2M114 98h2M116 102h2M83 102h2M63 108h2M124 103h2M80 103h2M108 106h2M53 97h2M131 104h2M119 107h2M81 105h2M114 109h2M69 108h2M98 101h2M121 105h2M120 100h2M62 107h2M74 101h2M127 104h2M83 103h2M58 107h2M85 95h2M72 107h2M63 107h2M58 110h2M58 108h2M73 106h2M111 97h2M65 110h2M77 104h2M117 93h2M105 98h2M128 103h2M73 96h2M92 107h2M126 98h2M111 111h2M56 110h2M128 99h2M90 107h2M125 99h2M116 106h2M58 113h2M89 100h2M69 107h2M70 103h2M89 98h2M57 107h2M79 109h2M94 105h2M66 102h2M120 99h2M58 95h2M81 111h2M108 92h2M132 99h2M129 109h2M58 100h2M90 100h2M124 101h2M89 104h2M96 101h2M70 112h2M86 102h2M125 103h2M99 101h2M113 114h2M97 95h2M63 103h2M84 105h2M97 103h2M90 107h2M110 97h2M104 97h2M59 108h2M132 99h2M104 99h2M83 101h2M132 110h2M96 107h2M131 100h2M128 103h2M126 101h2M94 94h2M95 105h2M119 100h2M129 102h2M63 99h2M51 103h2M87 101h2M119 104h2M94 101h2M74 101h2M110 99h2M73 100h2M126 100h2M104 103h2M101 102h2M84 99h2M74 108h2M101 104h2M88 106h2M106 101h2M118 103h2M132 100h2M60 109h2M69 104h2M73 108h2M49 110h2M72 105h2M106 103h2M100 99h2M58 108h2M119 107h2M49 97h2M72 110h2M47 114h2M113 114h2M64 99h2M123 107h2M111 107h2M83 104h2M78 110h2M120 104h2M118 101h2M62 106h2M130 117h2M95 108h2M66 99h2M89 102h2M72 101h2M112 102h2M56 101h2M133 110h2M110 110h2M69 102h2M56 108h2M61 109h2M120 103h2M116 105h2M117 111h2M52 100h2M93 107h2M93 93h2M133 106h2M85 106h2M127 101h2M49 102h2M105 96h2M70 100h2M64 98h2M82 95h2M123 90h2M106 95h2M65 104h2M76 105h2M50 99h2M50 111h2M50 105h2M118 97h2M76 105h2M111 102h2M92 96h2M67 98h2M89 101h2M132 94h2M86 100h2M81 105h2M113 100h2M109 103h2M123 106h2M126 100h2M62 104h2M94 103h2M102 105h2M124 113h2M49 108h2M62 107h2M70 107h2M86 104h2M107 109h2M76 105h2M107 110h2M111 108h2M96 103h2M96 98h2M82 106h2M78 95h2M100 106h2M125 106h2M65 100h2M90 105h2M76 101h2M87 111h2M121 109h2M72 104h2M54 100h2M101 101h2M118 107h2M112 97h2M72 95h2M121 106h2M66 97h2M84 105h2M71 92h2M102 113h2M59 96h2M86 107h2M113 111h2M129 96h2M48 107h2M63 97h2M89 104h2M94 96h2M49 100h2M116 104h2M97 103h2M46 103h2M92 98h2M126 98h2M62 96h2M81 100h2M83 105h2M75 102h2M88 104h2M76 103h2M105 113h2M64 109h2M50 96h2M52 113h2M109 108h2M92 94h2M89 93h2M49 104h2M98 106h2M68 102h2M112 102h2M56 107h2M47 110h2M54 95h2M46 97h2M56 100h2M115 100h2M72 102h2M48 110h2M125 106h2M120 110h2M120 101h2M80 102h2M60 103h2M59 102h2M106 96h2M113 96h2M122 98h2M122 102h2M57 107h2M126 104h2M77 102h2M112 106h2M66 106h2M107 110h2M69 104h2M84 96h2M128 102h2M48 101h2M107 101h2M122 101h2M55 105h2M99 106h2M105 106h2M49 101h2M60 107h2M79 111h2M80 92h2M54 102h2M77 104h2M127 106h2M54 97h2M127 111h2M106 98h2M104 107h2M135 109h2M130 99h2M81 93h2M122 104h2M118 102h2M90 102h2M113 96h2M118 104h2M66 93h2M132 101h2M126 110h2M106 104h2M119 107h2M80 99h2M53 107h2M122 96h2M75 103h2M104 107h2M65 108h2M74 103h2M94 88h2M57 103h2M127 110h2M89 102h2M72 108h2M126 102h2M99 107h2M75 107h2M79 107h2M70 107h2M66 104h2M83 99h2M56 110h2M49 113h2M98 106h2M113 108h2M96 101h2M130 97h2M83 102h2M126 107h2M108 103h2M103 96h2M68 111h2M101 97h2M133 103h2M128 100h2M105 107h2M48 99h2M71 101h2M49 101h2M130 100h2M63 110h2M62 104h2M93 99h2M83 99h2M134 111h2M97 102h2M114 104h2M128 105h2M110 103h2M57 100h2M112 111h2M61 98h2M71 99h2M128 103h2M50 101h2M97 100h2M113 109h2M88 97h2M111 93h2M83 99h2M87 88h2M115 101h2M109 103h2M57 111h2M103 98h2M132 111h2M128 105h2M68 102h2M109 104h2M47 99h2M104 98h2M108 110h2M124 102h2M52 96h2M133 102h2M69 107h2M127 98h2M76 99h2M98 112h2M102 96h2M75 97h2M50 108h2M51 98h2M131 108h2M71 100h2M111 106h2M95 94h2M115 110h2M81 101h2M57 103h2M131 109h2M54 96h2M77 97h2M82 103h2M47 98h2M72 114h2M81 107h2M123 106h2M106 107h2M56 98h2M47 105h2M72 108h2M51 102h2M105 100h2M122 108h2M60 107h2M89 106h2M88 94h2M114 107h2M114 103h2M87 98h2M82 96h2M72 108h2M79 105h2M79 105h2M124 103h2M89 110h2M47 107h2M104 104h2M55 105h2M82 106h2M51 104h2M121 98h2M116 105h2M123 102h2M84 94h2M47 105h2M71 103h2M114 102h2M92 105h2M71 103h2M103 110h2M49 99h2M99 98h2M73 102h2M120 95h2M60 93h2M75 105h2M58 106h2M102 99h2M101 111h2M58 97h2M111 110h2M48 108h2M130 101h2M97 102h2M58 99h2M111 98h2M99 106h2M126 109h2M126 109h2M54 111h2M131 110h2M99 103h2M87 102h2M130 106h2M56 107h2M77 112h2M60 103h2M131 105h2M73 109h2M73 104h2M134 103h2M99 111h2M68 114h2M99 100h2M80 105h2M52 102h2M110 32h2M114 40h2M87 59h2M135 49h2M91 50h2M118 54h2M103 45h2M111 51h2M99 22h2M106 22h2M91 35h2M110 28h2M123 40h2M82 44h2M104 9h2M82 36h2M103 12h2M130 41h2M126 52h2M73 34h2M147 12h2M105 41h2M109 51h2M63 20h2M119 49h2M110 40h2M123 13h2M104 55h2M124 47h2M138 26h2M94 49h2M113 42h2M94 33h2M55 34h2M116 31h2M145 21h2M95 44h2M127 32h2M69 30h2M124 45h2M111 27h2M106 45h2M160 30h2M116 25h2M159 37h2M109 23h2M129 29h2M113 26h2M107 36h2M119 40h2M121 35h2M83 36h2M101 42h2M86 17h2M99 26h2M24 30h2M132 34h2M90 38h2M52 29h2M110 24h2M133 30h2M149 43h2M126 20h2M104 21h2M135 16h2M89 50h2M117 28h2M124 47h2M74 37h2M141 47h2M119 44h2M114 37h2M114 29h2M104 49h2M87 45h2M127 63h2M70 13h2M91 26h2M57 52h2M103 44h2M125 34h2M150 34h2M62 31h2M127 21h2M94 58h2M129 44h2M101 29h2M130 36h2M55 30h2M93 56h2M78 64h2M129 20h2M96 32h2M134 57h2M95 29h2M109 58h2M80 44h2M103 23h2M33 11h2M119 22h2M82 23h2M112 42h2M71 41h2M90 56h2M145 45h2M111 16h2M118 47h2M114 14h2M70 32h2M119 29h2M111 19h2M157 36h2M115 51h2M111 54h2M135 33h2M74 45h2M78 36h2M145 28h2M65 43h2M99 44h2M124 51h2M114 33h2M61 64h2M121 20h2M150 35h2M129 36h2M133 43h2M107 18h2M103 38h2M126 57h2M103 36h2M162 38h2M107 46h2M126 33h2M73 16h2M122 35h2M100 35h2M100 29h2M84 22h2M101 30h2M103 31h2M124 55h2M113 51h2M70 40h2M143 38h2M72 44h2M141 53h2M117 31h2M96 32h2M49 35h2M99 34h2M138 44h2M143 46h2M102 35h2M67 14h2M65 36h2M83 46h2M86 28h2M149 64h2M78 43h2M87 40h2M120 35h2M74 23h2M117 29h2M142 12h2M82 31h2M73 28h2M103 31h2M124 47h2M115 45h2M92 35h2M120 44h2M141 41h2M113 37h2M73 27h2M101 36h2M123 52h2M129 31h2M127 46h2M104 51h2M143 41h2M93 43h2M115 47h2M110 15h2M97 40h2M103 33h2M130 17h2M80 24h2M91 26h2M146 53h2M123 34h2M99 45h2M112 46h2M78 58h2M144 37h2M115 57h2M49 39h2M153 54h2M37 41h2M103 34h2M125 62h2M174 30h2M95 39h2M119 44h2M63 40h2M126 33h2M121 29h2M83 12h2M72 37h2M124 20h2M119 27h2M135 27h2M129 52h2M117 34h2M105 22h2M41 41h2M125 12h2M67 33h2M78 27h2M131 30h2M104 51h2M67 37h2M149 55h2M102 19h2M89 38h2M128 43h2M136 30h2M70 48h2M131 34h2M81 5h2M89 34h2M101 39h2M109 32h2M141 24h2M56 24h2M116 52h2M98 32h2M128 22h2M130 40h2M90 24h2M45 32h2M123 41h2M125 52h2M130 39h2M92 6h2M129 34h2M104 55h2M99 35h2M121 37h2M130 37h2M132 38h2M115 38h2M112 34h2M119 45h2M123 33h2M125 35h2M111 31h2M130 37h2M118 41h2M113 39h2M121 41h2M130 37h2M127 42h2M116 44h2M119 36h2M118 39h2M116 31h2M132 31h2M131 27h2M129 33h2M132 31h2M124 34h2M128 37h2M132 43h2M115 39h2M132 46h2M129 40h2M124 36h2M115 26h2M115 38h2M108 37h2M132 37h2M128 37h2M135 32h2M135 38h2M129 37h2M123 36h2M140 41h2M109 34h2M143 27h2M127 34h2M124 41h2M114 32h2M122 34h2M128 35h2M121 35h2M128 37h2M117 35h2M107 29h2M128 31h2M122 33h2M132 31h2M126 47h2M120 35h2M117 29h2M129 41h2M140 43h2M116 38h2M128 38h2M145 40h2M117 37h2M149 34h2M97 33h2M139 31h2M121 31h2M121 37h2M113 29h2M108 37h2M117 37h2M114 33h2M104 36h2M125 33h2M129 29h2M131 42h2M123 38h2M147 36h2M127 44h2M127 35h2M142 38h2M138 37h2M132 34h2M122 38h2M132 34h2M127 35h2M132 31h2M144 38h2M128 35h2M123 32h2M132 36h2M106 28h2M121 28h2M131 34h2M112 36h2M114 37h2M126 34h2M123 36h2M117 37h2M127 45h2M136 36h2M110 34h2M130 36h2M126 42h2M118 44h2M120 37h2M121 35h2M114 33h2M123 33h2M113 33h2M140 34h2M127 41h2M147 30h2M111 34h2M134 31h2M127 41h2M141 24h2M122 35h2M130 39h2M126 41h2M115 37h2M112 36h2M122 38h2M118 40h2M149 36h2M120 34h2M115 27h2M129 38h2M119 31h2M118 34h2M122 39h2M111 41h2M122 36h2M139 45h2M125 36h2M128 36h2M129 39h2M119 39h2M118 26h2M145 26h2M120 43h2M137 35h2M115 38h2M138 38h2M128 26h2M129 41h2M120 32h2M119 35h2M117 36h2M141 36h2M111 39h2M114 37h2M120 40h2M142 38h2M124 32h2M129 33h2M122 38h2M100 38h2M123 44h2M144 39h2M128 38h2M123 37h2M121 36h2M138 37h2M123 37h2M143 36h2M128 41h2M140 34h2M136 30h2M121 35h2M128 36h2M98 33h2M127 36h2M103 46h2M134 32h2M126 34h2M130 36h2M122 38h2M137 38h2M144 38h2M131 31h2M113 28h2M131 39h2M121 34h2M118 41h2M122 33h2M148 36h2M113 33h2M130 37h2M134 37h2M132 38h2M128 32h2M119 36h2M127 37h2M125 34h2M137 40h2M124 41h2M119 36h2M122 38h2M138 35h2M124 37h2M138 40h2M130 39h2M129 36h2M128 42h2M139 35h2M136 38h2M100 36h2M127 35h2M115 35h2M127 39h2M126 41h2M116 39h2M117 36h2M122 32h2M121 44h2M108 36h2M132 31h2M123 37h2M119 35h2M126 39h2M131 36h2M145 35h2M119 37h2M121 39h2M136 32h2M118 40h2M131 36h2M109 39h2M138 31h2M102 72h2M138 69h2M100 55h2M96 87h2M129 55h2M116 44h2M131 68h2M79 61h2M122 79h2M97 90h2M108 60h2M102 88h2M139 53h2M109 86h2M136 84h2M109 56h2M95 94h2M73 84h2M113 59h2M130 85h2M88 43h2M121 80h2M63 91h2M111 73h2M147 87h2M118 75h2M109 86h2M118 74h2M111 47h2M154 91h2M107 67h2M92 95h2M115 75h2M129 92h2M140 56h2M102 78h2M106 99h2M106 71h2M136 76h2M84 66h2M121 76h2M104 85h2M94 78h2M103 63h2M108 95h2M63 77h2M118 84h2M138 59h2M118 72h2M101 58h2M137 83h2M116 53h2M121 73h2M106 96h2M63 82h2M121 63h2M143 102h2M119 86h2M160 69h2M133 63h2M116 89h2M92 79h2M110 55h2M91 77h2M122 66h2M118 71h2M128 55h2M100 63h2M106 90h2M92 72h2M81 66h2M101 84h2M106 69h2M111 76h2M101 74h2M122 83h2M103 74h2M128 65h2M117 81h2M87 60h2M128 98h2M135 90h2M139 81h2M117 94h2M93 77h2M121 90h2M150 80h2M69 55h2M123 80h2M150 82h2M131 72h2M89 56h2M127 78h2M113 84h2M158 81h2M107 110h2M136 103h2M104 68h2M105 70h2M91 73h2M109 96h2M97 65h2M126 48h2M150 78h2M101 87h2M104 44h2M61 97h2M86 118h2M120 51h2M84 27h2M109 67h2M115 91h2M102 55h2M96 57h2M159 77h2M127 67h2M110 80h2M105 75h2M116 107h2M105 91h2M160 75h2M131 89h2M80 72h2M132 63h2M83 87h2M119 72h2M102 83h2M101 74h2M127 59h2M108 68h2M100 55h2M130 86h2M124 93h2M115 118h2M99 65h2M123 48h2M125 83h2M135 62h2M102 105h2M131 93h2M105 59h2M56 66h2M76 60h2M158 67h2M133 76h2M108 81h2M101 64h2M97 69h2M80 71h2M118 60h2M128 94h2M120 85h2M108 47h2M114 76h2M114 94h2M89 81h2M142 91h2M120 77h2M146 91h2M83 104h2M108 113h2M136 59h2M137 60h2M87 88h2M101 56h2M120 105h2M84 80h2M113 88h2M93 92h2M130 82h2M98 99h2M111 54h2M108 69h2M137 56h2M91 77h2M153 71h2M92 74h2M106 105h2M120 63h2M134 96h2M93 62h2M112 93h2M114 89h2M146 78h2M91 60h2M139 84h2M118 87h2M98 61h2M97 82h2M142 77h2M127 60h2M116 84h2M112 57h2M115 73h2M130 76h2M112 109h2M104 62h2M130 78h2M93 61h2M107 63h2M149 70h2M68 77h2M93 50h2M85 86h2M145 53h2M112 73h2M60 85h2M128 57h2M108 79h2M104 74h2M101 86h2M125 101h2M71 95h2M95 88h2M137 95h2M109 65h2M117 89h2M119 99h2M144 66h2M104 81h2M85 95h2M158 55h2M141 82h2M99 63h2M98 77h2M115 71h2M125 105h2M89 65h2M129 48h2M124 47h2M157 64h2M133 76h2M101 93h2M121 120h2M146 61h2M132 70h2M126 64h2M132 66h2M107 70h2M88 70h2M77 75h2M91 81h2M120 75h2M132 70h2M97 56h2M111 59h2M122 61h2M113 81h2M100 83h2M142 94h2M115 84h2M136 82h2M91 94h2M108 39h2M95 76h2M147 39h2M128 63h2M105 99h2M122 98h2M82 78h2M101 91h2M97 71h2M82 66h2M73 85h2M147 79h2M94 67h2M153 89h2M102 51h2M165 84h2M102 72h2M98 93h2M115 110h2M89 74h2M108 88h2M100 74h2M94 77h2M126 73h2M138 69h2M113 82h2M93 58h2M120 56h2M154 86h2M115 85h2M111 75h2M98 76h2M80 62h2M144 77h2M130 73h2M96 39h2M108 69h2M120 74h2M61 85h2M97 77h2M126 61h2M118 66h2M141 95h2M102 51h2M124 71h2M110 74h2M142 122h2M107 44h2M119 24h2M127 98h2M135 74h2M121 95h2M125 90h2M114 83h2M135 77h2M143 96h2M54 46h2M105 81h2M126 98h2M115 96h2M103 99h2M98 98h2M119 54h2M83 92h2M152 83h2M95 69h2M127 85h2M70 56h2M121 79h2M128 83h2M130 60h2M141 88h2M80 61h2M106 82h2M109 82h2M95 70h2M144 104h2M146 99h2M112 51h2M93 101h2M126 100h2M109 93h2M147 79h2M92 66h2M85 68h2M117 82h2M62 80h2M101 71h2M91 81h2M108 95h2M111 48h2M111 59h2" stroke="#ee2244" stroke-opacity="0.48" stroke-width="1.6"/><ellipse cx="606.3" cy="471.0" rx="10.7" ry="3.9" fill="#f00" fill-opacity="0.3" filter="url(#blur2)"/><ellipse cx="606.3" cy="471.0" rx="9.3" ry="3.0" fill="#f00" fill-opacity="1" filter="url(#blur)"/><path d="M592.5 419.5H681.5V481.5H592.5Z M618.5 419.5V481.5 M592.5 449.5H681.5" fill="none" stroke="#666" stroke-width="0.85"/><text x="595.9" y="426.3" font-size="3.808" text-anchor="start" fill="#333" font-family="'Liberation Sans', sans-serif">Q1</text><text x="671.6" y="426.3" font-size="3.808" text-anchor="start" fill="#333" font-family="'Liberation Sans', sans-serif">Q2</text><text x="595.9" y="462.4" font-size="3.808" text-anchor="start" fill="#333" font-family="'Liberation Sans', sans-serif">Q3</text><text x="671.6" y="462.4" font-size="3.808" text-anchor="start" fill="#333" font-family="'Liberation Sans', sans-serif">Q4</text><text x="681.0" y="447.9" font-size="9" text-anchor="end" fill="#1a1a1a" font-family="'Liberation Serif', serif">18.0%</text><text x="681.0" y="478.3" font-size="9" text-anchor="end" fill="#1a1a1a" font-family="'Liberation Serif', serif">24.1%</text><text x="589.4" y="488.3" font-size="3.2640000000000002" text-anchor="start" fill="#444" font-family="'Liberation Sans', sans-serif">-488</text><text x="636.6" y="490.5" font-size="3.2640000000000002" text-anchor="middle" fill="#444" font-family="'Liberation Sans', sans-serif">FITC-A</text><text x="603.9" y="486.3" font-size="3.2640000000000002" text-anchor="middle" fill="#444" font-family="'Liberation Sans', sans-serif">0</text><text x="611.2" y="486.3" font-size="3.2640000000000002" text-anchor="middle" fill="#444" font-family="'Liberation Sans', sans-serif">10<tspan dy="-1.2" font-size="2.4">2</tspan></text><text x="632.3" y="486.3" font-size="3.2640000000000002" text-anchor="middle" fill="#444" font-family="'Liberation Sans', sans-serif">10<tspan dy="-1.2" font-size="2.4">3</tspan></text><text x="653.0" y="486.3" font-size="3.2640000000000002" text-anchor="middle" fill="#444" font-family="'Liberation Sans', sans-serif">10<tspan dy="-1.2" font-size="2.4">4</tspan></text><text x="673.1" y="486.3" font-size="3.2640000000000002" text-anchor="middle" fill="#444" font-family="'Liberation Sans', sans-serif">10<tspan dy="-1.2" font-size="2.4">5</tspan></text><text x="590.5" y="425.0" font-size="3.2640000000000002" text-anchor="middle" fill="#444" font-family="'Liberation Sans', sans-serif" transform="rotate(-90 590.5 425.0)">10<tspan dy="-1.2" font-size="2.4">5</tspan></text><text x="590.5" y="438.4" font-size="3.2640000000000002" text-anchor="middle" fill="#444" font-family="'Liberation Sans', sans-serif" transform="rotate(-90 590.5 438.4)">10<tspan dy="-1.2" font-size="2.4">4</tspan></text><text x="590.5" y="453.6" font-size="3.2640000000000002" text-anchor="middle" fill="#444" font-family="'Liberation Sans', sans-serif" transform="rotate(-90 590.5 453.6)">10<tspan dy="-1.2" font-size="2.4">3</tspan></text><text x="590.5" y="470.6" font-size="3.2640000000000002" text-anchor="middle" fill="#444" font-family="'Liberation Sans', sans-serif" transform="rotate(-90 590.5 470.6)">0</text><text x="590.5" y="479.9" font-size="3.2640000000000002" text-anchor="middle" fill="#444" font-family="'Liberation Sans', sans-serif" transform="rotate(-90 590.5 479.9)">-272</text><path d="M591.1 425.0h1.4M591.1 438.4h1.4M591.1 453.6h1.4M591.1 470.6h1.4M591.1 479.9h1.4M603.9 481.5v1.4M611.2 481.5v1.4M632.3 481.5v1.4M653.0 481.5v1.4M673.1 481.5v1.4" stroke="#555" stroke-width="0.54"/><text x="584.3" y="449.3" font-size="3.808" text-anchor="middle" fill="#444" font-family="'Liberation Sans', sans-serif" transform="rotate(-90 584.3 449.3)">PE-Texas Red-A</text><text x="637.2" y="414.4" font-size="8.6" text-anchor="middle" fill="#000" font-family="'Liberation Serif', serif">pol-miR-731 antagomir</text><path transform="translate(378.5 514.5) scale(.5)" d="M47 106h2M18 94h2M28 105h2M28 96h2M25 108h2M18 106h2M37 104h2M40 100h2M28 110h2M26 100h2M18 100h2M40 107h2M39 105h2M38 103h2M44 101h2M45 102h2M17 96h2M27 100h2M20 99h2M32 104h2M42 98h2M35 106h2M34 109h2M25 102h2M32 100h2M28 103h2M29 100h2M26 102h2M17 103h2M21 101h2M21 102h2M26 101h2M23 102h2M53 94h2M36 103h2M26 97h2M52 103h2M44 100h2M23 106h2M40 101h2M27 104h2M23 98h2M29 106h2M42 103h2M49 101h2M25 112h2M25 104h2M37 102h2M32 105h2M37 99h2M29 108h2M40 100h2M30 98h2M19 100h2M53 99h2M14 101h2M24 105h2M47 101h2M31 98h2M47 99h2M29 112h2M22 103h2M29 104h2M36 108h2M36 104h2M20 104h2M19 107h2M28 106h2M25 103h2M30 104h2M28 99h2M26 99h2M22 97h2M18 110h2M23 97h2M44 103h2M28 107h2M56 98h2M50 104h2M46 100h2M54 107h2M10 107h2M49 96h2M34 101h2M32 98h2M39 105h2M28 102h2M16 104h2M20 102h2M23 113h2M29 108h2M29 102h2M40 102h2M63 101h2M53 97h2M22 105h2M19 110h2M37 102h2M55 100h2M23 91h2M15 101h2M14 105h2M44 104h2M17 98h2M19 105h2M44 101h2M30 103h2M40 98h2M22 105h2M37 104h2M30 105h2M36 99h2M54 106h2M27 102h2M24 96h2M21 96h2M24 103h2M28 96h2M27 99h2M21 107h2M21 106h2M16 103h2M24 106h2M35 99h2M38 107h2M49 108h2M26 111h2M25 101h2M17 101h2M18 102h2M16 110h2M41 109h2M47 103h2M36 103h2M15 97h2M26 106h2M19 103h2M25 105h2M40 98h2M20 108h2M45 102h2M42 102h2M36 100h2M37 109h2M51 107h2M31 106h2M26 101h2M31 97h2M32 95h2M54 106h2M34 99h2M24 100h2M17 100h2M22 106h2M49 108h2M19 96h2M51 105h2M45 105h2M33 111h2M42 105h2M21 103h2M49 104h2M43 101h2M40 100h2M28 107h2M55 101h2M27 101h2M28 102h2M42 103h2M29 104h2M16 101h2M59 98h2M25 103h2M44 101h2M21 109h2M11 98h2M23 92h2M50 110h2M18 100h2M27 105h2M27 104h2M36 101h2M30 108h2M32 105h2M29 105h2M54 102h2M25 99h2M44 99h2M36 113h2M32 110h2M29 102h2M38 98h2M11 102h2M23 103h2M59 105h2M17 104h2M15 93h2M61 98h2M12 102h2M27 104h2M28 101h2M42 101h2M23 103h2M25 107h2M30 101h2M26 105h2M45 101h2M12 105h2M23 105h2M24 104h2M27 99h2M19 102h2M31 95h2M10 103h2M62 99h2M27 97h2M19 108h2M16 103h2M23 105h2M53 103h2M27 107h2M27 94h2M50 100h2M33 112h2M43 103h2M55 98h2M16 97h2M31 103h2M24 111h2M42 103h2M24 102h2M34 100h2M74 109h2M39 102h2M16 107h2M24 107h2M36 96h2M30 101h2M27 102h2M31 101h2M42 104h2M28 101h2M27 100h2M28 103h2M27 94h2M30 98h2M29 113h2M45 92h2M15 106h2M23 95h2M16 101h2M23 102h2M27 102h2M26 98h2M40 109h2M22 101h2M60 97h2M20 104h2M43 102h2M47 101h2M32 102h2M34 102h2M51 105h2M54 101h2M23 99h2M26 103h2M26 103h2M36 97h2M18 108h2M24 110h2M27 96h2M20 98h2M69 94h2M11 98h2M30 112h2M45 98h2M53 108h2M24 105h2M35 101h2M25 99h2M36 100h2M43 105h2M17 104h2M28 105h2M26 107h2M42 106h2M39 96h2M28 107h2M43 105h2M29 102h2M19 94h2M28 106h2M27 100h2M28 108h2M24 102h2M34 107h2M36 100h2M25 97h2M27 106h2M32 100h2M21 100h2M41 105h2M36 106h2M48 103h2M39 94h2M39 101h2M33 98h2M27 97h2M28 98h2M45 101h2M32 99h2M28 99h2M23 104h2M24 97h2M26 112h2M45 103h2M34 103h2M36 112h2M53 103h2M16 98h2M33 100h2M36 101h2M37 104h2M26 97h2M27 99h2M22 102h2M48 101h2M26 97h2M34 103h2M33 109h2M34 107h2M27 104h2M23 105h2M52 98h2M23 103h2M30 106h2M9 100h2M38 103h2M21 105h2M32 102h2M27 102h2M39 96h2M3 105h2M11 103h2M30 104h2M21 104h2M27 100h2M27 98h2M54 99h2M29 101h2M32 102h2M27 102h2M32 103h2M46 102h2M28 104h2M28 104h2M39 93h2M31 100h2M17 97h2M18 106h2M47 102h2M28 97h2M61 109h2M33 99h2M28 99h2M20 97h2M22 99h2M36 98h2M37 103h2M44 108h2M65 106h2M26 101h2M72 97h2M31 107h2M30 104h2M57 106h2M31 105h2M34 105h2M39 101h2M31 103h2M28 100h2M44 93h2M27 107h2M34 97h2M22 111h2M40 102h2M31 101h2M35 98h2M32 102h2M33 106h2M16 102h2M32 103h2M29 104h2M46 100h2M33 105h2M28 107h2M24 107h2M34 108h2M51 98h2M44 104h2M31 100h2M36 101h2M30 102h2M31 101h2M19 103h2M5 103h2M28 102h2M25 103h2M37 100h2M25 98h2M20 104h2M28 108h2M18 97h2M32 100h2M34 98h2M48 101h2M35 107h2M20 100h2M21 106h2M16 100h2M24 106h2M54 102h2M58 105h2M19 101h2M21 105h2M36 103h2M23 101h2M20 102h2M50 101h2M51 103h2M27 104h2M18 109h2M33 97h2M40 98h2M43 107h2M44 97h2M26 107h2M37 104h2M65 106h2M27 97h2M24 96h2M23 102h2M19 102h2M25 104h2M19 99h2M30 104h2M30 89h2M27 94h2M28 98h2M21 100h2M36 102h2M37 102h2M25 107h2M58 99h2M30 96h2M29 98h2M48 103h2M32 106h2M34 90h2M52 109h2M31 107h2M36 96h2M17 108h2M42 109h2M58 101h2M40 105h2M40 104h2M25 103h2M15 104h2M25 99h2M34 103h2M33 99h2M24 101h2M28 100h2M21 103h2M24 102h2M21 92h2M30 103h2M28 106h2M31 101h2M47 103h2M24 102h2M26 98h2M39 101h2M25 102h2M59 108h2M48 97h2M18 102h2M30 105h2M31 105h2M22 105h2M28 106h2M37 95h2M29 107h2M45 106h2M25 100h2M40 97h2M40 101h2M44 108h2M29 99h2M61 104h2M99 107h2M50 96h2M100 109h2M65 96h2M78 100h2M94 107h2M62 99h2M89 95h2M43 89h2M81 103h2M40 98h2M54 110h2M55 100h2M89 109h2M68 106h2M100 101h2M55 106h2M61 99h2M61 103h2M41 95h2M54 95h2M61 111h2M77 100h2M70 107h2M72 101h2M92 99h2M75 106h2M79 100h2M51 97h2M83 101h2M50 96h2M42 91h2M90 101h2M81 93h2M91 106h2M53 97h2M47 101h2M64 104h2M99 114h2M50 103h2M94 105h2M54 109h2M55 87h2M89 103h2M76 103h2M53 103h2M85 108h2M61 94h2M42 99h2M65 105h2M44 103h2M46 103h2M63 101h2M42 113h2M65 103h2M90 97h2M83 97h2M40 104h2M100 109h2M47 96h2M69 106h2M80 105h2M76 103h2M81 97h2M86 94h2M40 101h2M44 104h2M80 94h2M40 108h2M62 106h2M77 101h2M91 103h2M61 98h2M83 97h2M97 101h2M50 100h2M73 98h2M82 109h2M65 96h2M70 99h2M95 94h2M40 114h2M74 104h2M42 101h2M53 104h2M44 101h2M62 99h2M41 99h2M67 104h2M50 103h2M96 106h2M100 106h2M41 109h2M53 103h2M78 94h2M64 100h2M75 102h2M74 100h2M50 104h2M86 107h2M83 105h2M82 97h2M48 107h2M51 100h2M65 100h2M77 103h2M86 102h2M85 104h2M89 101h2M69 99h2M56 101h2M47 109h2M43 103h2M42 104h2M43 93h2M61 104h2M62 106h2M51 99h2M79 106h2M47 105h2M52 107h2M49 107h2M86 109h2M43 99h2M41 98h2M42 104h2M66 102h2M78 102h2M42 94h2M57 108h2M85 107h2M49 99h2M56 100h2M47 101h2M40 104h2M58 105h2M75 96h2M62 104h2M43 105h2M71 106h2M40 108h2M80 102h2M62 105h2M48 103h2M62 95h2M67 103h2M60 95h2M68 95h2M86 105h2M83 103h2M42 102h2M43 106h2M64 100h2M61 95h2M73 103h2M48 92h2M62 103h2M62 101h2M57 107h2M47 100h2M49 101h2M40 104h2M57 97h2M90 102h2M73 98h2M51 100h2M65 104h2M74 102h2M50 106h2M77 110h2M83 97h2M85 98h2M92 104h2M99 101h2M41 98h2M74 110h2M46 106h2M51 108h2M46 107h2M46 100h2M42 104h2M94 99h2M46 104h2M81 108h2M60 103h2M67 95h2M41 111h2M82 103h2M43 103h2M51 98h2M46 102h2M44 106h2M52 92h2M83 97h2M94 94h2M69 102h2M66 107h2M41 101h2M80 104h2M49 104h2M72 105h2M78 99h2M40 105h2M63 98h2M73 97h2M68 106h2M64 93h2M89 103h2M93 105h2M54 100h2M70 104h2M80 105h2M41 104h2M60 103h2M77 108h2M60 89h2M76 103h2M43 103h2M92 97h2M45 89h2M85 104h2M88 110h2M76 97h2M41 101h2M42 96h2M44 102h2M48 102h2M86 105h2M99 101h2M72 96h2M62 104h2M69 108h2M58 108h2M56 103h2M70 105h2M94 106h2M90 109h2M68 110h2M74 95h2M84 100h2M60 103h2M62 102h2M59 105h2M98 105h2M89 102h2M52 93h2M76 107h2M91 106h2M48 105h2M81 107h2M79 103h2M75 83h2M46 92h2M67 103h2M74 106h2M70 100h2M63 103h2M68 98h2M51 96h2M70 100h2M89 98h2M45 114h2M101 101h2M40 100h2M80 103h2M70 101h2M40 94h2M89 108h2M51 100h2M97 92h2M72 99h2M99 98h2M40 101h2M43 102h2M94 106h2M44 101h2M63 108h2M61 104h2M52 102h2M90 96h2M45 95h2M98 104h2M98 97h2M63 98h2M45 109h2M78 107h2M74 112h2M91 107h2M70 97h2M48 103h2M61 93h2M40 100h2M75 108h2M90 109h2M51 102h2M52 102h2M62 97h2M75 109h2M54 91h2M62 105h2M71 105h2M62 99h2M89 108h2M53 97h2M97 105h2M72 104h2M50 107h2M58 97h2M52 100h2M47 103h2M43 108h2M48 104h2M90 100h2M68 100h2M44 106h2M84 101h2M88 108h2M70 96h2M90 107h2M65 96h2M45 104h2M84 99h2M45 100h2M86 106h2M40 100h2M98 115h2M65 105h2M92 104h2M68 108h2M91 104h2M80 102h2M42 113h2M62 95h2M64 98h2M53 107h2M53 107h2M41 108h2M43 108h2M42 105h2M45 94h2M85 97h2M85 105h2M68 92h2M73 103h2M87 103h2M63 99h2M51 94h2M81 108h2M83 113h2M43 106h2M54 107h2M85 97h2M48 92h2M42 107h2M51 97h2M52 107h2M58 107h2M51 95h2M62 100h2M56 107h2M82 97h2M79 111h2M50 105h2M66 93h2M82 89h2M71 103h2M72 106h2M72 108h2M96 95h2M78 110h2M57 98h2M71 97h2M70 95h2M46 98h2M45 100h2M85 94h2M92 111h2M79 104h2M40 105h2M99 99h2M72 99h2M86 104h2M80 94h2M43 104h2M63 103h2M47 95h2M48 98h2M61 103h2M59 100h2M84 107h2M41 103h2M69 107h2M40 103h2M71 102h2M51 98h2M64 99h2M43 104h2M56 106h2M61 101h2M45 97h2M95 95h2M46 103h2M42 105h2M77 89h2M45 103h2M54 104h2M42 106h2M56 101h2M57 102h2M48 106h2M50 104h2M92 91h2M48 98h2M40 96h2M52 102h2M45 109h2M82 102h2M41 98h2M53 92h2M98 110h2M49 98h2M41 100h2M95 103h2M66 97h2M40 105h2M86 102h2M51 100h2M90 112h2M77 98h2M59 107h2M60 101h2M42 105h2M91 98h2M88 99h2M69 107h2M45 98h2M86 103h2M54 107h2M98 111h2M89 104h2M42 105h2M53 108h2M54 96h2M90 104h2M41 101h2M97 103h2M47 90h2M85 103h2M78 96h2M41 103h2M90 108h2M45 106h2M54 109h2M87 104h2M59 99h2M42 104h2M77 105h2M40 102h2M87 99h2M70 113h2M87 94h2M73 105h2M57 98h2M65 104h2M67 98h2M60 109h2M45 103h2M81 109h2M40 106h2M44 106h2M65 108h2M47 102h2M55 99h2M73 97h2M74 106h2M91 105h2M60 106h2M95 102h2M46 102h2M45 109h2M86 96h2M54 99h2M87 105h2M58 104h2M60 101h2M85 97h2M40 101h2M66 100h2M56 97h2M65 104h2M100 101h2M47 106h2M60 101h2M97 100h2M83 100h2M46 106h2M50 103h2M89 98h2M61 84h2M95 101h2M43 101h2M89 102h2M43 102h2M84 98h2M41 102h2M70 95h2M48 102h2M99 102h2M50 100h2M48 108h2M82 103h2M58 98h2M96 105h2M54 95h2M60 100h2M92 96h2M45 107h2M53 101h2M86 90h2M41 99h2M44 98h2M71 102h2M55 96h2M70 103h2M81 106h2M86 98h2M56 109h2M50 100h2M94 107h2M65 101h2M47 102h2M41 97h2M61 92h2M87 97h2M80 100h2M59 102h2M41 109h2M64 103h2M71 101h2M52 104h2M52 111h2M73 95h2M68 103h2M45 112h2M47 103h2M73 92h2M47 101h2M84 111h2M60 98h2M71 101h2M40 100h2M42 107h2M50 97h2M52 94h2M93 102h2M45 104h2M51 115h2M42 97h2M66 102h2M53 103h2M97 110h2M64 105h2M90 108h2M98 94h2M75 101h2M40 100h2M60 101h2M60 101h2M87 109h2M53 107h2M55 100h2M77 100h2M49 97h2M51 107h2M86 97h2M84 100h2M44 99h2M67 108h2M66 101h2M82 100h2M59 105h2M46 100h2M46 108h2M55 97h2M119 21h2M90 48h2M72 17h2M142 37h2M92 30h2M57 53h2M103 63h2M95 34h2M48 37h2M98 32h2M125 36h2M45 38h2M86 43h2M64 28h2M86 28h2M92 28h2M120 44h2M59 50h2M112 35h2M96 48h2M101 45h2M113 46h2M115 36h2M37 26h2M70 42h2M174 29h2M125 47h2M44 42h2M113 28h2M51 59h2M96 36h2M99 49h2M93 45h2M103 42h2M89 30h2M56 56h2M49 13h2M97 38h2M125 54h2M78 40h2M122 19h2M48 54h2M145 37h2M86 47h2M120 25h2M116 54h2M69 56h2M54 21h2M41 46h2M67 43h2M34 41h2M130 29h2M7 32h2M86 66h2M8 6h2M35 14h2M63 61h2M97 37h2M95 50h2M66 25h2M136 36h2M144 30h2M69 35h2M143 47h2M114 33h2M98 42h2M83 46h2M78 32h2M40 46h2M125 47h2M169 43h2M116 60h2M144 29h2M89 49h2M76 57h2M126 22h2M50 50h2M116 42h2M77 39h2M71 52h2M123 60h2M97 29h2M75 31h2M66 42h2M62 56h2M103 47h2M133 30h2M80 64h2M110 37h2M121 33h2M89 32h2M73 68h2M111 35h2M90 32h2M55 28h2M129 18h2M119 47h2M81 33h2M68 53h2M114 43h2M40 23h2M65 25h2M64 49h2M133 38h2M64 51h2M71 51h2M80 51h2M69 37h2M114 23h2M48 33h2M85 34h2M157 40h2M73 41h2M70 47h2M147 38h2M65 45h2M119 49h2M67 31h2M113 65h2M63 50h2M75 59h2M42 37h2M130 31h2M93 36h2M128 53h2M85 29h2M148 38h2M41 24h2M82 15h2M160 33h2M112 63h2M79 49h2M60 40h2M111 23h2M96 29h2M99 44h2M88 27h2M138 20h2M54 55h2M68 28h2M130 39h2M35 51h2M31 27h2M58 30h2M110 48h2M55 46h2M65 31h2M96 21h2M112 29h2M64 45h2M35 29h2M98 45h2M94 50h2M113 45h2M22 29h2M89 56h2M55 28h2M115 44h2M121 59h2M34 32h2M153 77h2M68 21h2M72 62h2M86 55h2M89 33h2M123 60h2M154 31h2M105 62h2M88 49h2M95 31h2M65 42h2M109 51h2M130 18h2M62 45h2M81 22h2M164 38h2M52 29h2M65 29h2M102 53h2M129 57h2M54 24h2M51 49h2M118 30h2M119 32h2M16 37h2M139 37h2M117 33h2M37 62h2M102 38h2M52 31h2M95 24h2M114 35h2M99 31h2M113 34h2M102 31h2M52 71h2M14 46h2M99 59h2M118 26h2M77 35h2M152 29h2M58 44h2M92 38h2M140 30h2M127 48h2M75 30h2M48 34h2M76 31h2M115 36h2M82 38h2M46 57h2M124 24h2M116 39h2M86 30h2M81 33h2M91 27h2M119 32h2M67 11h2M115 39h2M71 22h2M61 39h2M76 51h2M67 31h2M74 23h2M104 52h2M131 25h2M45 37h2M61 25h2M98 38h2M110 45h2M113 55h2M102 50h2M33 25h2M108 54h2M111 27h2M65 6h2M120 30h2M54 41h2M26 46h2M152 24h2M113 42h2M131 37h2M91 50h2M151 20h2M44 36h2M114 22h2M97 61h2M116 43h2M112 30h2M64 35h2M102 31h2M85 37h2M46 26h2M143 36h2M109 27h2M132 60h2M89 50h2M69 46h2M69 40h2M81 32h2M97 45h2M76 28h2M94 54h2M85 45h2M62 20h2M106 44h2M85 35h2M66 27h2M104 27h2M25 45h2M59 48h2M89 31h2M111 58h2M26 37h2M62 44h2M85 24h2M107 31h2M119 38h2M63 39h2M120 23h2M92 13h2M134 24h2M99 56h2M108 39h2M119 45h2M74 33h2M112 60h2M101 43h2M120 35h2M66 25h2M31 63h2M131 42h2M100 30h2M45 34h2M126 28h2M100 40h2M61 41h2M85 39h2M139 27h2M39 39h2M127 38h2M78 26h2M136 37h2M24 52h2M56 25h2M111 27h2M87 42h2M107 46h2M79 52h2M74 49h2M103 50h2M118 42h2M114 32h2M94 24h2M57 41h2M93 48h2M54 62h2M120 46h2M94 18h2M98 60h2M79 35h2M87 59h2M124 63h2M101 40h2M78 44h2M75 39h2M117 31h2M66 74h2M29 85h2M81 77h2M92 66h2M10 71h2M64 70h2M94 50h2M83 67h2M66 53h2M93 91h2M34 80h2M59 85h2M51 64h2M119 57h2M34 70h2M103 86h2M31 71h2M87 77h2M114 79h2M81 105h2M79 86h2M51 77h2M101 88h2M57 78h2M38 51h2M74 44h2M51 60h2M25 53h2M58 86h2M41 69h2M107 56h2M107 77h2M93 99h2M61 101h2M65 63h2M126 77h2M45 76h2M54 87h2M43 87h2M10 87h2M56 42h2M103 87h2M79 60h2M48 95h2M59 62h2M98 80h2M44 88h2M112 97h2M41 71h2M48 54h2M51 68h2M54 91h2M61 52h2M64 92h2M107 52h2M105 72h2M67 69h2M67 66h2M4 82h2M79 79h2M17 80h2M65 48h2M104 82h2M34 64h2M48 71h2M55 73h2M38 90h2M56 36h2M70 85h2M81 83h2M37 110h2M40 58h2M82 64h2M105 111h2M89 77h2M103 75h2M62 108h2M75 73h2M74 91h2M95 40h2M109 81h2M26 51h2M108 78h2M52 79h2M44 74h2M123 78h2M109 90h2M56 94h2M40 93h2M48 69h2M9 80h2M38 88h2M30 94h2M109 106h2M80 66h2M54 84h2M99 62h2M62 69h2M99 56h2M91 89h2M144 61h2M122 67h2M72 87h2M45 56h2M119 83h2M55 98h2M115 97h2M53 90h2M30 53h2M65 101h2M99 57h2M85 96h2M61 99h2M98 60h2M124 62h2M94 70h2M77 61h2M44 87h2M90 80h2M81 69h2M117 49h2M97 57h2M83 65h2M80 98h2M51 99h2M62 81h2M85 94h2M25 101h2M86 73h2M66 97h2M94 96h2M66 77h2M49 53h2M74 96h2M48 79h2M59 64h2M116 90h2M76 108h2M3 96h2M56 64h2M50 66h2M37 57h2M91 68h2M56 75h2M69 87h2M68 76h2M75 56h2M125 69h2M68 76h2M92 87h2M89 72h2M132 65h2M29 83h2M49 87h2M49 84h2M60 60h2M34 65h2M99 75h2M106 94h2M66 105h2M76 92h2M168 102h2M114 59h2M48 97h2M63 87h2M45 83h2M66 94h2M85 83h2M101 93h2M16 84h2M10 56h2M81 80h2M105 50h2M119 49h2M74 69h2M45 62h2M67 76h2M95 85h2M62 51h2M30 91h2M83 91h2M78 108h2M34 112h2M89 81h2M73 76h2M42 66h2M42 58h2M47 77h2M51 91h2M113 61h2M91 72h2M77 87h2M117 73h2M112 80h2M29 70h2M25 70h2M79 105h2M65 88h2M57 58h2M97 80h2M70 84h2M102 50h2M50 74h2M18 99h2M23 71h2M42 71h2M71 99h2M101 75h2M82 82h2M59 80h2M82 85h2M46 56h2M69 91h2M109 82h2M120 79h2M85 98h2M58 59h2M44 101h2M84 81h2M98 66h2M130 90h2M117 82h2M48 68h2M21 66h2M109 52h2M121 68h2M78 83h2M18 83h2M53 88h2M30 71h2M106 85h2M114 85h2M104 79h2M89 95h2M56 77h2M70 74h2M41 113h2M77 67h2M80 50h2M78 75h2M75 95h2M86 84h2M114 83h2M47 85h2M136 78h2M107 83h2M70 79h2M101 69h2M69 64h2M92 72h2M74 88h2M64 63h2M39 90h2M62 69h2M72 67h2M131 89h2M94 84h2M86 75h2M98 74h2M78 81h2M106 84h2M71 79h2M87 85h2M145 77h2M60 85h2M90 94h2M77 63h2M44 61h2M87 87h2M79 88h2M107 78h2M37 81h2M97 80h2M97 61h2M40 77h2M42 63h2M46 43h2M81 61h2M128 58h2M66 108h2M46 69h2M70 94h2M125 73h2M65 80h2M79 89h2M62 76h2M57 70h2M30 68h2M70 105h2M63 68h2M76 53h2M33 64h2M82 46h2M81 55h2M128 94h2M80 73h2M98 61h2M36 71h2M54 76h2M53 81h2M80 66h2M62 56h2M48 61h2M51 62h2M65 78h2M57 71h2M106 71h2M54 72h2M94 102h2M77 95h2M36 56h2M100 74h2M33 99h2M84 98h2M61 84h2M74 71h2M100 43h2M129 65h2M78 81h2M76 71h2M69 86h2M26 91h2M68 91h2M96 67h2M103 78h2M28 59h2M38 85h2M58 100h2M59 82h2M89 63h2M90 81h2M81 87h2M57 85h2M105 102h2M100 82h2M21 53h2M80 58h2M43 56h2M103 79h2M66 100h2M82 65h2M73 73h2M41 91h2M75 77h2M110 73h2M63 58h2" stroke="#ee2244" stroke-opacity="0.48" stroke-width="1.6"/><ellipse cx="391.7" cy="565.4" rx="8.7" ry="3.8" fill="#f00" fill-opacity="0.3" filter="url(#blur2)"/><ellipse cx="391.7" cy="565.4" rx="7.6" ry="2.9" fill="#f00" fill-opacity="1" filter="url(#blur)"/><path d="M378.5 514.5H468.5V575.5H378.5Z M405.5 514.5V575.5 M378.5 544.5H468.5" fill="none" stroke="#666" stroke-width="0.85"/><text x="381.9" y="521.3" font-size="3.808" text-anchor="start" fill="#333" font-family="'Liberation Sans', sans-serif">Q1</text><text x="458.6" y="521.3" font-size="3.808" text-anchor="start" fill="#333" font-family="'Liberation Sans', sans-serif">Q2</text><text x="381.9" y="557.4" font-size="3.808" text-anchor="start" fill="#333" font-family="'Liberation Sans', sans-serif">Q3</text><text x="458.6" y="557.4" font-size="3.808" text-anchor="start" fill="#333" font-family="'Liberation Sans', sans-serif">Q4</text><text x="466.0" y="541.3" font-size="9" text-anchor="end" fill="#1a1a1a" font-family="'Liberation Serif', serif">8.8%</text><text x="466.0" y="572.9" font-size="9" text-anchor="end" fill="#1a1a1a" font-family="'Liberation Serif', serif">23.1%</text><text x="375.4" y="582.3" font-size="3.2640000000000002" text-anchor="start" fill="#444" font-family="'Liberation Sans', sans-serif">-447</text><text x="423.1" y="584.5" font-size="3.2640000000000002" text-anchor="middle" fill="#444" font-family="'Liberation Sans', sans-serif">FITC-A</text><text x="390.0" y="580.3" font-size="3.2640000000000002" text-anchor="middle" fill="#444" font-family="'Liberation Sans', sans-serif">0</text><text x="397.4" y="580.3" font-size="3.2640000000000002" text-anchor="middle" fill="#444" font-family="'Liberation Sans', sans-serif">10<tspan dy="-1.2" font-size="2.4">2</tspan></text><text x="418.7" y="580.3" font-size="3.2640000000000002" text-anchor="middle" fill="#444" font-family="'Liberation Sans', sans-serif">10<tspan dy="-1.2" font-size="2.4">3</tspan></text><text x="439.7" y="580.3" font-size="3.2640000000000002" text-anchor="middle" fill="#444" font-family="'Liberation Sans', sans-serif">10<tspan dy="-1.2" font-size="2.4">4</tspan></text><text x="460.0" y="580.3" font-size="3.2640000000000002" text-anchor="middle" fill="#444" font-family="'Liberation Sans', sans-serif">10<tspan dy="-1.2" font-size="2.4">5</tspan></text><text x="376.5" y="519.9" font-size="3.2640000000000002" text-anchor="middle" fill="#444" font-family="'Liberation Sans', sans-serif" transform="rotate(-90 376.5 519.9)">10<tspan dy="-1.2" font-size="2.4">5</tspan></text><text x="376.5" y="533.1" font-size="3.2640000000000002" text-anchor="middle" fill="#444" font-family="'Liberation Sans', sans-serif" transform="rotate(-90 376.5 533.1)">10<tspan dy="-1.2" font-size="2.4">4</tspan></text><text x="376.5" y="548.0" font-size="3.2640000000000002" text-anchor="middle" fill="#444" font-family="'Liberation Sans', sans-serif" transform="rotate(-90 376.5 548.0)">10<tspan dy="-1.2" font-size="2.4">3</tspan></text><text x="376.5" y="564.8" font-size="3.2640000000000002" text-anchor="middle" fill="#444" font-family="'Liberation Sans', sans-serif" transform="rotate(-90 376.5 564.8)">0</text><text x="376.5" y="574.0" font-size="3.2640000000000002" text-anchor="middle" fill="#444" font-family="'Liberation Sans', sans-serif" transform="rotate(-90 376.5 574.0)">-316</text><path d="M377.1 519.9h1.4M377.1 533.1h1.4M377.1 548.0h1.4M377.1 564.8h1.4M377.1 574.0h1.4M390.0 575.5v1.4M397.4 575.5v1.4M418.7 575.5v1.4M439.7 575.5v1.4M460.0 575.5v1.4" stroke="#555" stroke-width="0.54"/><text x="370.3" y="543.8" font-size="3.808" text-anchor="middle" fill="#444" font-family="'Liberation Sans', sans-serif" transform="rotate(-90 370.3 543.8)">PE-Texas Red-A</text><text x="422.9" y="508.8" font-size="8.6" text-anchor="middle" fill="#000" font-family="'Liberation Serif', serif">Agomir negative control</text><path transform="translate(485.5 513.5) scale(.5)" d="M29 104h2M27 101h2M30 104h2M44 99h2M66 90h2M28 108h2M25 100h2M27 107h2M46 97h2M30 101h2M43 101h2M29 108h2M24 105h2M20 102h2M11 100h2M22 100h2M59 93h2M9 104h2M35 104h2M44 113h2M23 97h2M25 109h2M32 102h2M31 105h2M13 105h2M20 102h2M22 104h2M40 102h2M28 107h2M33 100h2M38 102h2M24 104h2M50 100h2M23 104h2M20 104h2M46 95h2M27 100h2M58 106h2M35 103h2M18 104h2M31 104h2M54 107h2M19 102h2M31 98h2M25 101h2M29 104h2M22 109h2M22 106h2M18 99h2M22 102h2M39 97h2M52 98h2M49 104h2M23 107h2M23 103h2M27 116h2M19 112h2M24 100h2M23 109h2M25 100h2M36 105h2M43 98h2M49 109h2M21 102h2M33 102h2M38 106h2M26 98h2M11 105h2M17 108h2M53 104h2M39 109h2M39 98h2M19 101h2M27 100h2M29 109h2M23 103h2M19 103h2M40 109h2M29 100h2M57 94h2M23 100h2M26 106h2M23 119h2M58 107h2M23 97h2M45 107h2M33 110h2M34 97h2M12 102h2M28 106h2M30 103h2M20 106h2M37 101h2M19 102h2M19 104h2M17 105h2M20 106h2M64 98h2M28 114h2M40 104h2M34 102h2M15 92h2M21 101h2M43 105h2M14 105h2M16 109h2M18 107h2M28 101h2M43 102h2M7 105h2M19 101h2M29 107h2M28 99h2M21 98h2M24 100h2M38 100h2M41 111h2M33 102h2M44 99h2M26 109h2M35 103h2M24 101h2M49 112h2M49 104h2M31 100h2M18 106h2M36 98h2M17 105h2M16 108h2M45 98h2M24 107h2M42 103h2M25 102h2M34 106h2M24 101h2M25 102h2M23 97h2M27 107h2M27 109h2M31 107h2M39 94h2M37 108h2M17 95h2M18 102h2M31 96h2M25 98h2M29 103h2M28 101h2M22 107h2M17 103h2M21 102h2M20 108h2M40 102h2M57 104h2M49 98h2M22 100h2M58 108h2M23 105h2M25 103h2M19 107h2M32 100h2M32 107h2M30 102h2M36 107h2M57 101h2M32 103h2M23 104h2M15 100h2M16 104h2M23 99h2M23 106h2M23 92h2M61 102h2M40 99h2M23 104h2M30 101h2M54 100h2M24 113h2M28 96h2M36 106h2M47 112h2M28 108h2M27 99h2M20 99h2M14 110h2M21 98h2M26 98h2M43 112h2M34 103h2M24 106h2M40 108h2M23 105h2M15 104h2M41 108h2M19 97h2M58 104h2M25 105h2M25 106h2M36 100h2M16 101h2M21 99h2M33 106h2M24 99h2M13 99h2M21 96h2M25 105h2M24 113h2M27 106h2M83 111h2M29 105h2M26 105h2M26 97h2M16 107h2M54 105h2M19 98h2M50 112h2M44 103h2M23 108h2M25 99h2M9 101h2M25 100h2M49 100h2M44 104h2M25 107h2M17 110h2M23 102h2M35 105h2M20 107h2M19 104h2M21 103h2M37 103h2M19 108h2M35 100h2M23 101h2M67 104h2M50 107h2M39 104h2M11 103h2M31 100h2M52 104h2M27 94h2M42 108h2M16 98h2M42 98h2M31 102h2M48 103h2M34 102h2M11 103h2M47 102h2M30 103h2M36 106h2M44 99h2M12 108h2M23 103h2M50 101h2M53 103h2M11 103h2M28 104h2M25 114h2M49 107h2M23 103h2M33 110h2M15 109h2M46 105h2M34 101h2M25 109h2M37 109h2M39 102h2M42 111h2M55 106h2M15 107h2M13 111h2M21 99h2M45 106h2M29 110h2M25 106h2M34 106h2M36 106h2M12 102h2M29 100h2M40 102h2M18 106h2M20 101h2M24 101h2M30 107h2M22 105h2M24 103h2M20 106h2M24 102h2M22 100h2M34 103h2M16 108h2M52 101h2M40 101h2M29 107h2M20 99h2M23 105h2M36 101h2M29 112h2M31 97h2M33 98h2M22 101h2M43 112h2M47 108h2M22 110h2M48 99h2M57 105h2M28 107h2M56 103h2M43 111h2M26 110h2M29 102h2M30 106h2M47 111h2M40 104h2M29 103h2M13 106h2M51 100h2M31 104h2M27 99h2M16 104h2M31 100h2M39 103h2M31 102h2M47 105h2M27 98h2M59 108h2M56 99h2M27 103h2M22 105h2M29 109h2M40 99h2M41 103h2M50 108h2M40 100h2M29 110h2M27 108h2M17 100h2M27 102h2M20 107h2M26 105h2M26 108h2M13 95h2M33 109h2M29 106h2M25 108h2M34 101h2M52 101h2M14 109h2M27 104h2M17 105h2M26 103h2M50 104h2M43 101h2M28 101h2M37 107h2M34 103h2M16 102h2M54 105h2M37 111h2M25 103h2M31 108h2M50 106h2M23 105h2M32 110h2M19 106h2M31 107h2M29 108h2M29 104h2M65 100h2M58 106h2M24 109h2M24 104h2M23 107h2M18 102h2M21 108h2M44 108h2M23 102h2M18 105h2M22 104h2M17 104h2M57 103h2M28 100h2M20 103h2M16 99h2M35 94h2M29 96h2M22 104h2M20 107h2M18 104h2M69 105h2M22 106h2M36 100h2M28 102h2M25 103h2M14 103h2M26 110h2M26 99h2M37 110h2M52 96h2M58 103h2M19 109h2M31 99h2M33 102h2M27 97h2M28 106h2M26 102h2M21 112h2M26 99h2M21 105h2M27 98h2M23 102h2M38 102h2M20 92h2M31 103h2M15 102h2M21 105h2M29 108h2M22 99h2M34 101h2M17 94h2M23 107h2M26 105h2M36 111h2M25 107h2M28 103h2M25 106h2M24 105h2M25 100h2M25 102h2M32 102h2M29 101h2M18 106h2M43 107h2M22 100h2M26 98h2M52 106h2M35 103h2M37 109h2M21 100h2M35 108h2M22 108h2M42 102h2M62 103h2M32 109h2M33 105h2M25 103h2M29 97h2M52 103h2M34 100h2M38 103h2M56 99h2M28 96h2M35 111h2M30 107h2M50 108h2M27 99h2M35 104h2M36 98h2M24 113h2M25 103h2M41 103h2M11 106h2M38 102h2M36 102h2M33 104h2M37 108h2M25 112h2M25 105h2M24 104h2M62 104h2M33 105h2M27 106h2M17 106h2M20 107h2M36 105h2M26 110h2M26 93h2M22 104h2M23 107h2M46 100h2M18 104h2M26 97h2M42 101h2M29 93h2M34 102h2M46 103h2M53 98h2M43 98h2M24 86h2M22 102h2M18 101h2M39 99h2M16 107h2M22 104h2M49 102h2M16 99h2M19 102h2M47 106h2M52 94h2M83 96h2M85 108h2M100 107h2M70 101h2M82 99h2M51 94h2M69 101h2M76 105h2M78 108h2M82 104h2M69 108h2M71 106h2M75 111h2M54 109h2M55 102h2M61 100h2M45 105h2M43 109h2M58 106h2M58 93h2M101 110h2M52 97h2M95 91h2M66 104h2M84 99h2M51 102h2M99 98h2M44 101h2M67 105h2M41 104h2M40 106h2M83 110h2M63 92h2M58 99h2M40 100h2M60 103h2M52 99h2M57 104h2M55 98h2M50 108h2M103 111h2M91 99h2M77 101h2M72 102h2M97 110h2M80 96h2M99 113h2M78 101h2M98 106h2M53 106h2M94 104h2M92 111h2M84 97h2M75 104h2M106 97h2M54 110h2M70 105h2M100 96h2M45 104h2M62 103h2M43 103h2M83 104h2M92 101h2M70 101h2M107 103h2M78 106h2M57 107h2M57 113h2M64 108h2M44 103h2M108 107h2M73 95h2M40 108h2M80 108h2M79 104h2M83 99h2M107 99h2M92 103h2M44 103h2M61 105h2M41 106h2M54 103h2M100 105h2M84 106h2M46 99h2M47 100h2M44 100h2M60 100h2M62 105h2M88 100h2M60 99h2M103 107h2M51 102h2M48 94h2M43 108h2M71 102h2M82 101h2M43 102h2M56 108h2M53 105h2M97 107h2M95 101h2M78 104h2M67 103h2M55 97h2M42 100h2M46 104h2M53 98h2M61 103h2M41 104h2M49 104h2M57 95h2M40 104h2M50 109h2M50 102h2M98 103h2M108 96h2M59 99h2M93 102h2M47 96h2M107 97h2M72 100h2M60 105h2M43 105h2M100 102h2M60 111h2M105 108h2M43 105h2M71 101h2M60 105h2M95 105h2M72 100h2M82 103h2M66 98h2M105 97h2M78 100h2M45 99h2M104 99h2M87 112h2M43 104h2M59 100h2M47 96h2M63 108h2M89 104h2M85 99h2M65 111h2M43 101h2M79 109h2M42 106h2M46 107h2M97 98h2M40 101h2M89 102h2M60 102h2M43 107h2M73 101h2M76 94h2M57 113h2M84 98h2M97 103h2M78 111h2M41 97h2M107 106h2M101 116h2M49 102h2M100 94h2M71 101h2M66 106h2M96 114h2M59 94h2M62 106h2M50 104h2M85 105h2M76 105h2M87 97h2M63 105h2M83 96h2M99 94h2M73 111h2M42 103h2M87 102h2M94 101h2M40 103h2M73 96h2M102 94h2M64 106h2M58 98h2M66 106h2M78 107h2M45 108h2M107 105h2M102 110h2M90 102h2M88 97h2M65 99h2M87 100h2M97 111h2M87 98h2M55 107h2M68 103h2M52 103h2M48 108h2M68 102h2M99 100h2M49 102h2M43 101h2M53 105h2M52 105h2M87 94h2M52 107h2M49 106h2M104 101h2M101 97h2M45 108h2M106 103h2M55 99h2M62 103h2M74 104h2M102 103h2M100 102h2M67 112h2M41 105h2M74 104h2M43 97h2M67 101h2M49 104h2M68 106h2M57 111h2M50 93h2M101 99h2M58 98h2M107 102h2M68 94h2M68 100h2M81 107h2M88 105h2M44 105h2M89 103h2M46 97h2M102 93h2M55 100h2M65 101h2M41 97h2M76 110h2M67 104h2M80 104h2M59 106h2M106 101h2M52 100h2M72 109h2M53 101h2M105 104h2M51 105h2M85 104h2M103 98h2M41 108h2M46 92h2M51 105h2M45 106h2M49 110h2M94 105h2M73 101h2M72 96h2M97 106h2M70 101h2M79 108h2M48 91h2M56 105h2M108 97h2M52 100h2M65 105h2M74 92h2M105 115h2M52 102h2M53 104h2M95 102h2M60 110h2M82 105h2M106 99h2M46 104h2M98 104h2M104 113h2M72 102h2M92 100h2M89 107h2M91 96h2M77 105h2M59 99h2M42 107h2M43 106h2M73 102h2M49 106h2M88 109h2M84 102h2M91 104h2M62 115h2M73 102h2M46 113h2M48 101h2M47 100h2M53 111h2M103 108h2M65 109h2M60 98h2M83 111h2M40 93h2M51 98h2M41 111h2M88 93h2M91 107h2M88 105h2M69 105h2M76 101h2M82 100h2M61 114h2M88 101h2M95 103h2M42 99h2M54 90h2M95 98h2M42 93h2M61 105h2M51 106h2M69 106h2M50 98h2M107 106h2M96 98h2M74 98h2M44 106h2M108 98h2M75 109h2M104 101h2M40 101h2M61 105h2M94 106h2M77 101h2M54 109h2M86 102h2M89 112h2M60 109h2M63 104h2M82 104h2M86 108h2M73 101h2M106 99h2M52 104h2M53 99h2M106 99h2M49 101h2M40 105h2M55 105h2M76 103h2M54 102h2M98 114h2M41 106h2M47 99h2M87 104h2M85 116h2M99 108h2M51 102h2M53 98h2M92 107h2M74 101h2M96 104h2M78 99h2M54 105h2M57 107h2M73 112h2M56 114h2M91 107h2M84 107h2M62 102h2M51 98h2M66 92h2M46 104h2M81 109h2M66 102h2M70 101h2M54 106h2M41 113h2M94 94h2M106 103h2M65 99h2M72 97h2M53 99h2M62 100h2M50 97h2M108 112h2M41 105h2M49 104h2M73 109h2M96 108h2M67 100h2M47 105h2M106 106h2M64 108h2M49 107h2M74 94h2M48 102h2M73 103h2M48 96h2M51 103h2M73 103h2M59 100h2M87 107h2M43 108h2M55 94h2M72 97h2M46 106h2M50 104h2M44 101h2M42 95h2M48 108h2M50 96h2M59 102h2M101 104h2M78 112h2M75 93h2M99 114h2M49 100h2M75 99h2M69 104h2M52 107h2M106 101h2M61 98h2M51 101h2M60 100h2M62 94h2M41 103h2M54 98h2M74 106h2M42 106h2M87 100h2M68 100h2M53 103h2M89 113h2M61 97h2M45 101h2M44 105h2M103 102h2M98 101h2M60 106h2M57 109h2M45 104h2M48 100h2M64 98h2M101 102h2M41 107h2M60 100h2M68 106h2M57 106h2M67 101h2M75 104h2M56 102h2M42 104h2M51 100h2M55 105h2M58 98h2M83 100h2M91 110h2M104 98h2M57 106h2M64 110h2M97 96h2M78 106h2M84 102h2M94 104h2M57 101h2M90 103h2M60 106h2M73 103h2M45 108h2M88 101h2M80 104h2M46 105h2M99 97h2M88 101h2M41 102h2M72 101h2M100 106h2M59 103h2M52 95h2M42 104h2M52 106h2M100 104h2M41 104h2M72 95h2M59 107h2M67 99h2M101 100h2M94 96h2M88 97h2M68 110h2M60 104h2M104 96h2M100 104h2M65 102h2M59 96h2M59 100h2M86 102h2M68 94h2M56 107h2M84 107h2M48 103h2M66 104h2M74 104h2M96 97h2M40 102h2M48 111h2M56 102h2M98 118h2M45 99h2M50 105h2M83 111h2M51 108h2M46 103h2M88 106h2M98 99h2M59 99h2M54 103h2M103 95h2M43 99h2M40 99h2M73 99h2M89 94h2M45 101h2M53 105h2M40 107h2M66 97h2M48 100h2M104 95h2M86 105h2M64 98h2M43 107h2M81 101h2M82 100h2M91 102h2M58 90h2M79 97h2M102 99h2M55 95h2M73 103h2M46 105h2M41 107h2M98 96h2M60 104h2M58 108h2M74 105h2M97 104h2M91 96h2M73 102h2M63 103h2M50 104h2M40 108h2M47 104h2M103 96h2M51 100h2M104 97h2M68 104h2M57 95h2M60 107h2M50 117h2M75 101h2M40 99h2M41 99h2M78 103h2M46 96h2M40 98h2M90 105h2M42 101h2M44 102h2M43 107h2M42 94h2M106 103h2M84 98h2M62 105h2M61 103h2M43 111h2M93 113h2M53 105h2M98 105h2M90 102h2M63 104h2M78 98h2M102 33h2M106 35h2M142 5h2M119 26h2M120 33h2M106 34h2M92 45h2M79 24h2M88 38h2M73 35h2M81 39h2M68 34h2M84 36h2M88 48h2M105 61h2M80 25h2M121 48h2M55 48h2M139 26h2M71 62h2M109 56h2M60 33h2M101 48h2M100 39h2M94 40h2M52 34h2M107 35h2M84 48h2M93 53h2M51 41h2M117 69h2M70 52h2M96 29h2M110 24h2M97 65h2M150 47h2M89 45h2M156 13h2M119 51h2M98 46h2M70 37h2M133 44h2M58 49h2M96 27h2M126 35h2M100 56h2M109 36h2M116 42h2M97 43h2M104 65h2M136 33h2M115 23h2M109 41h2M91 28h2M77 26h2M136 30h2M85 31h2M66 25h2M89 41h2M123 13h2M102 49h2M106 40h2M104 45h2M101 25h2M91 46h2M122 34h2M110 50h2M101 29h2M118 29h2M97 23h2M103 44h2M51 37h2M90 36h2M28 34h2M70 36h2M112 54h2M39 31h2M114 59h2M94 43h2M57 38h2M91 56h2M119 55h2M97 40h2M95 31h2M102 62h2M72 33h2M119 28h2M136 38h2M108 37h2M76 32h2M143 21h2M121 34h2M76 30h2M108 73h2M103 33h2M109 40h2M123 34h2M86 75h2M116 49h2M112 35h2M93 45h2M108 28h2M114 23h2M70 50h2M136 44h2M57 44h2M133 52h2M93 34h2M103 28h2M145 38h2M110 27h2M134 32h2M106 9h2M157 40h2M105 50h2M82 55h2M77 36h2M122 88h2M30 37h2M80 38h2M101 20h2M55 50h2M34 34h2M71 33h2M104 30h2M98 25h2M70 46h2M87 37h2M129 45h2M46 64h2M86 42h2M83 29h2M96 48h2M65 50h2M79 33h2M67 57h2M97 18h2M40 29h2M74 49h2M107 42h2M139 41h2M95 27h2M15 24h2M82 49h2M53 40h2M65 31h2M40 41h2M89 34h2M42 38h2M100 45h2M115 42h2M144 53h2M98 54h2M130 38h2M62 71h2M73 39h2M60 39h2M128 50h2M121 32h2M73 32h2M98 42h2M80 42h2M138 39h2M44 51h2M115 35h2M132 79h2M84 14h2M153 22h2M83 67h2M133 42h2M79 53h2M95 27h2M67 22h2M110 47h2M68 56h2M96 38h2M74 37h2M84 33h2M143 25h2M65 14h2M115 44h2M76 36h2M118 31h2M79 34h2M52 34h2M101 31h2M85 53h2M122 34h2M110 26h2M93 41h2M82 59h2M66 39h2M150 45h2M119 48h2M146 17h2M112 71h2M84 33h2M110 59h2M98 25h2M144 49h2M74 43h2M108 57h2M154 39h2M85 51h2M112 42h2M94 36h2M63 56h2M112 38h2M127 30h2M91 40h2M125 16h2M123 51h2M84 32h2M53 40h2M99 31h2M101 21h2M115 53h2M122 45h2M79 31h2M95 40h2M117 31h2M114 49h2M89 30h2M112 45h2M145 58h2M105 37h2M154 37h2M97 46h2M83 35h2M141 40h2M104 33h2M123 22h2M119 52h2M138 40h2M116 68h2M121 27h2M82 48h2M73 48h2M117 29h2M117 45h2M151 50h2M99 52h2M146 62h2M112 18h2M91 52h2M96 40h2M93 50h2M86 51h2M89 41h2M82 56h2M105 31h2M102 40h2M114 46h2M103 41h2M73 36h2M63 59h2M108 39h2M93 49h2M60 55h2M129 21h2M80 32h2M116 19h2M109 38h2M96 46h2M32 42h2M123 31h2M107 47h2M107 63h2M106 36h2M117 31h2M88 37h2M94 27h2M95 41h2M106 36h2M102 39h2M82 42h2M99 48h2M105 53h2M85 40h2M125 33h2M83 44h2M93 39h2M91 63h2M111 48h2M82 44h2M86 29h2M135 40h2M62 32h2M129 34h2M124 39h2M82 35h2M104 37h2M79 30h2M101 50h2M120 27h2M94 61h2M29 37h2M50 25h2M79 39h2M125 44h2M96 31h2M99 37h2M160 34h2M93 43h2M103 41h2M100 40h2M121 34h2M134 38h2M95 40h2M103 41h2M116 38h2M102 38h2M110 38h2M113 41h2M111 41h2M124 36h2M120 39h2M122 39h2M116 43h2M113 36h2M115 34h2M112 41h2M95 39h2M103 39h2M114 42h2M125 43h2M93 43h2M123 34h2M103 37h2M94 35h2M117 39h2M95 38h2M132 38h2M116 38h2M103 34h2M115 39h2M125 35h2M83 37h2M119 38h2M135 37h2M140 38h2M127 36h2M125 40h2M99 39h2M143 40h2M102 35h2M106 44h2M134 40h2M137 32h2M101 35h2M119 40h2M121 40h2M113 34h2M130 37h2M119 40h2M100 43h2M109 33h2M110 40h2M70 40h2M114 36h2M100 41h2M132 37h2M121 40h2M131 43h2M94 35h2M122 41h2M114 45h2M119 38h2M136 40h2M128 36h2M77 38h2M101 43h2M99 34h2M94 45h2M128 36h2M118 39h2M131 39h2M131 41h2M101 40h2M99 42h2M137 35h2M94 36h2M128 44h2M108 38h2M133 39h2M125 35h2M100 46h2M97 44h2M117 38h2M109 42h2M122 33h2M110 41h2M143 38h2M98 39h2M147 38h2M104 38h2M109 37h2M105 39h2M112 38h2M81 41h2M93 37h2M103 44h2M138 38h2M139 43h2M115 37h2M106 41h2M127 44h2M116 38h2M120 42h2M61 38h2M108 37h2M110 39h2M115 39h2M119 37h2M111 41h2M114 40h2M99 43h2M100 35h2M98 38h2M127 37h2M125 47h2M96 36h2M131 45h2M115 35h2M110 37h2M103 40h2M99 38h2M105 37h2M132 41h2M102 43h2M107 39h2M148 39h2M111 33h2M84 37h2M107 36h2M123 45h2M116 43h2M87 41h2M124 42h2M129 41h2M130 40h2M108 40h2M98 39h2M114 40h2M120 36h2M117 36h2M101 38h2M114 39h2M114 40h2M126 40h2M119 42h2M112 40h2M106 37h2M115 40h2M137 42h2M110 42h2M80 33h2M98 40h2M114 40h2M118 34h2M129 39h2M96 37h2M104 39h2M102 36h2M92 41h2M92 39h2M121 39h2M127 45h2M112 40h2M120 41h2M110 41h2M108 38h2M115 41h2M127 40h2M112 41h2M111 34h2M111 39h2M128 39h2M97 42h2M120 41h2M117 34h2M166 41h2M140 39h2M106 36h2M117 36h2M119 37h2M127 44h2M124 41h2M111 40h2M105 37h2M118 41h2M104 36h2M111 36h2M108 40h2M128 38h2M97 42h2M104 43h2M95 40h2M116 39h2M116 39h2M112 42h2M118 42h2M102 34h2M93 40h2M88 39h2M115 34h2M105 40h2M99 40h2M99 42h2M118 42h2M102 35h2M115 38h2M109 43h2M102 37h2M112 41h2M102 40h2M90 34h2M96 35h2M96 41h2M122 74h2M40 59h2M85 83h2M109 72h2M62 84h2M84 71h2M87 87h2M131 58h2M114 67h2M76 89h2M51 69h2M83 52h2M148 109h2M86 80h2M67 70h2M146 79h2M81 36h2M36 91h2M42 71h2M84 71h2M46 77h2M94 62h2M85 75h2M26 78h2M79 64h2M44 72h2M109 85h2M98 89h2M88 80h2M43 60h2M26 42h2M78 103h2M53 67h2M47 110h2M26 91h2M122 103h2M107 76h2M92 63h2M106 98h2M62 83h2M42 70h2M74 85h2M64 79h2M51 78h2M123 81h2M130 40h2M98 73h2M50 62h2M4 70h2M119 62h2M72 67h2M67 62h2M86 72h2M57 47h2M114 63h2M42 85h2M46 79h2M51 80h2M63 71h2M79 83h2M54 73h2M72 78h2M115 88h2M53 81h2M77 69h2M72 52h2M54 82h2M69 87h2M48 82h2M28 90h2M92 91h2M98 80h2M40 71h2M136 81h2M52 82h2M82 60h2M68 64h2M93 70h2M48 108h2M46 101h2M95 90h2M76 49h2M72 84h2M110 56h2M135 66h2M87 82h2M79 60h2M59 51h2M62 53h2M46 96h2M30 67h2M2 52h2M94 95h2M39 105h2M101 74h2M33 51h2M109 57h2M63 76h2M111 71h2M56 61h2M22 54h2M111 55h2M92 113h2M47 81h2M49 48h2M119 96h2M82 54h2M110 102h2M37 63h2M16 87h2M63 72h2M75 102h2M125 57h2M97 89h2M76 87h2M61 74h2M99 53h2M84 101h2M36 80h2M90 78h2M108 94h2M85 84h2M91 65h2M110 73h2M79 62h2M80 79h2M75 70h2M100 93h2M116 113h2M83 62h2M59 101h2M61 59h2M139 76h2M117 91h2M30 84h2M106 71h2M41 88h2M78 102h2M86 71h2M100 84h2M65 56h2M50 80h2M68 54h2M93 58h2M99 96h2M85 56h2M20 52h2M76 66h2M109 35h2M142 79h2M98 71h2M85 53h2M96 103h2M41 66h2M145 80h2M94 89h2M70 63h2M53 65h2M14 73h2M100 68h2M51 72h2M102 78h2M49 113h2M83 97h2M75 69h2M51 83h2M66 72h2M52 16h2M124 55h2M31 54h2M75 81h2M104 78h2M100 63h2M104 94h2M61 69h2M82 86h2M99 94h2M40 79h2M88 85h2M37 72h2M97 72h2M52 61h2M78 69h2M37 115h2M59 86h2M93 91h2M68 46h2M88 110h2M91 108h2M73 87h2M43 58h2M42 73h2M65 89h2M82 100h2M58 59h2M126 68h2M69 90h2M58 90h2M88 63h2M97 77h2M10 82h2M54 94h2M72 89h2M25 61h2M49 78h2M62 85h2M153 85h2M81 68h2M80 70h2M60 70h2M80 63h2M64 67h2M42 100h2M45 97h2M43 57h2M78 79h2M64 88h2M28 68h2M84 85h2M6 90h2M70 88h2M103 72h2M86 78h2M82 88h2M75 80h2M64 65h2M110 59h2M52 81h2M71 57h2M58 88h2M65 82h2M78 98h2M86 79h2M115 93h2M78 85h2M28 92h2M93 54h2M57 63h2M88 89h2M100 101h2M92 48h2M112 97h2M54 48h2M76 74h2M129 74h2M41 82h2M58 88h2M67 57h2M53 77h2M50 90h2M61 72h2M26 94h2M47 86h2M116 81h2M72 90h2M40 62h2M19 81h2M116 85h2M76 97h2M67 44h2M75 102h2M55 76h2M83 94h2M63 71h2M36 89h2M55 56h2M117 48h2M93 93h2M44 73h2M72 74h2M15 86h2M73 57h2M107 80h2M33 81h2M100 86h2M49 57h2M71 116h2M73 81h2M56 84h2M101 55h2M65 77h2M104 89h2M15 60h2M64 73h2M103 76h2M67 53h2M51 93h2M96 99h2M38 85h2M119 89h2M122 77h2M23 81h2M76 94h2M28 85h2M78 77h2M53 73h2M66 58h2M73 61h2M48 60h2M96 69h2M20 75h2M110 73h2M52 78h2M71 76h2M33 77h2M85 97h2M49 92h2M44 79h2M40 97h2M54 90h2M91 81h2M79 57h2M59 54h2M60 56h2M81 68h2M56 85h2M61 83h2M96 105h2M95 86h2M46 56h2M99 98h2M75 86h2M83 96h2M81 65h2M60 92h2M108 84h2M92 62h2M16 53h2M78 96h2M89 67h2M64 86h2M79 54h2M6 52h2M68 98h2M109 68h2M91 78h2M77 58h2M96 64h2M95 89h2M63 94h2M25 87h2M67 75h2M73 69h2M62 74h2M75 86h2M42 97h2M132 72h2M84 54h2" stroke="#ee2244" stroke-opacity="0.48" stroke-width="1.6"/><ellipse cx="498.1" cy="565.4" rx="8.7" ry="3.8" fill="#f00" fill-opacity="0.3" filter="url(#blur2)"/><ellipse cx="498.1" cy="565.4" rx="7.6" ry="2.9" fill="#f00" fill-opacity="1" filter="url(#blur)"/><path d="M485.5 513.5H575.5V574.5H485.5Z M512.5 513.5V574.5 M485.5 543.5H575.5" fill="none" stroke="#666" stroke-width="0.85"/><text x="488.9" y="520.3" font-size="3.808" text-anchor="start" fill="#333" font-family="'Liberation Sans', sans-serif">Q1</text><text x="565.6" y="520.3" font-size="3.808" text-anchor="start" fill="#333" font-family="'Liberation Sans', sans-serif">Q2</text><text x="488.9" y="556.4" font-size="3.808" text-anchor="start" fill="#333" font-family="'Liberation Sans', sans-serif">Q3</text><text x="565.6" y="556.4" font-size="3.808" text-anchor="start" fill="#333" font-family="'Liberation Sans', sans-serif">Q4</text><text x="572.2" y="540.7" font-size="9" text-anchor="end" fill="#1a1a1a" font-family="'Liberation Serif', serif">14.6%</text><text x="572.2" y="571.4" font-size="9" text-anchor="end" fill="#1a1a1a" font-family="'Liberation Serif', serif">20.1%</text><text x="482.4" y="581.3" font-size="3.2640000000000002" text-anchor="start" fill="#444" font-family="'Liberation Sans', sans-serif">-233</text><text x="530.0" y="583.5" font-size="3.2640000000000002" text-anchor="middle" fill="#444" font-family="'Liberation Sans', sans-serif">FITC-A</text><text x="497.0" y="579.3" font-size="3.2640000000000002" text-anchor="middle" fill="#444" font-family="'Liberation Sans', sans-serif">0</text><text x="504.4" y="579.3" font-size="3.2640000000000002" text-anchor="middle" fill="#444" font-family="'Liberation Sans', sans-serif">10<tspan dy="-1.2" font-size="2.4">2</tspan></text><text x="525.7" y="579.3" font-size="3.2640000000000002" text-anchor="middle" fill="#444" font-family="'Liberation Sans', sans-serif">10<tspan dy="-1.2" font-size="2.4">3</tspan></text><text x="546.7" y="579.3" font-size="3.2640000000000002" text-anchor="middle" fill="#444" font-family="'Liberation Sans', sans-serif">10<tspan dy="-1.2" font-size="2.4">4</tspan></text><text x="567.0" y="579.3" font-size="3.2640000000000002" text-anchor="middle" fill="#444" font-family="'Liberation Sans', sans-serif">10<tspan dy="-1.2" font-size="2.4">5</tspan></text><text x="483.5" y="518.9" font-size="3.2640000000000002" text-anchor="middle" fill="#444" font-family="'Liberation Sans', sans-serif" transform="rotate(-90 483.5 518.9)">10<tspan dy="-1.2" font-size="2.4">5</tspan></text><text x="483.5" y="532.1" font-size="3.2640000000000002" text-anchor="middle" fill="#444" font-family="'Liberation Sans', sans-serif" transform="rotate(-90 483.5 532.1)">10<tspan dy="-1.2" font-size="2.4">4</tspan></text><text x="483.5" y="547.0" font-size="3.2640000000000002" text-anchor="middle" fill="#444" font-family="'Liberation Sans', sans-serif" transform="rotate(-90 483.5 547.0)">10<tspan dy="-1.2" font-size="2.4">3</tspan></text><text x="483.5" y="563.8" font-size="3.2640000000000002" text-anchor="middle" fill="#444" font-family="'Liberation Sans', sans-serif" transform="rotate(-90 483.5 563.8)">0</text><text x="483.5" y="573.0" font-size="3.2640000000000002" text-anchor="middle" fill="#444" font-family="'Liberation Sans', sans-serif" transform="rotate(-90 483.5 573.0)">-375</text><path d="M484.1 518.9h1.4M484.1 532.1h1.4M484.1 547.0h1.4M484.1 563.8h1.4M484.1 573.0h1.4M497.0 574.5v1.4M504.4 574.5v1.4M525.7 574.5v1.4M546.7 574.5v1.4M567.0 574.5v1.4" stroke="#555" stroke-width="0.54"/><text x="477.3" y="542.8" font-size="3.808" text-anchor="middle" fill="#444" font-family="'Liberation Sans', sans-serif" transform="rotate(-90 477.3 542.8)">PE-Texas Red-A</text><text x="531.0" y="508.3" font-size="8.6" text-anchor="middle" fill="#000" font-family="'Liberation Serif', serif">Antagomir negative control</text><text x="11.9" y="675.5" font-size="30.3" text-anchor="start" font-weight="bold" fill="#000" font-family="'Liberation Serif', serif">D</text><line x1="69.5" y1="677.4" x2="69.5" y2="792.5" stroke="#bcbcbc" stroke-width="1"/><line x1="66.5" y1="792.5" x2="69.5" y2="792.5" stroke="#bcbcbc" stroke-width="1"/><text x="60.6" y="795.9" font-size="10" text-anchor="end" fill="#111" font-family="'Liberation Serif', serif">0</text><line x1="66.5" y1="769.5" x2="69.5" y2="769.5" stroke="#bcbcbc" stroke-width="1"/><text x="60.6" y="772.9" font-size="10" text-anchor="end" fill="#111" font-family="'Liberation Serif', serif">1</text><line x1="66.5" y1="746.5" x2="69.5" y2="746.5" stroke="#bcbcbc" stroke-width="1"/><text x="60.6" y="749.9" font-size="10" text-anchor="end" fill="#111" font-family="'Liberation Serif', serif">2</text><line x1="66.5" y1="723.4" x2="69.5" y2="723.4" stroke="#bcbcbc" stroke-width="1"/><text x="60.6" y="726.8" font-size="10" text-anchor="end" fill="#111" font-family="'Liberation Serif', serif">3</text><line x1="66.5" y1="700.4" x2="69.5" y2="700.4" stroke="#bcbcbc" stroke-width="1"/><text x="60.6" y="703.8" font-size="10" text-anchor="end" fill="#111" font-family="'Liberation Serif', serif">4</text><line x1="66.5" y1="677.4" x2="69.5" y2="677.4" stroke="#bcbcbc" stroke-width="1"/><text x="60.6" y="680.8" font-size="10" text-anchor="end" fill="#111" font-family="'Liberation Serif', serif">5</text><line x1="66.5" y1="792.5" x2="279.5" y2="792.5" stroke="#bcbcbc" stroke-width="1"/><line x1="69.5" y1="792.5" x2="69.5" y2="796.5" stroke="#bcbcbc" stroke-width="1"/><line x1="111.5" y1="792.5" x2="111.5" y2="796.5" stroke="#bcbcbc" stroke-width="1"/><line x1="153.5" y1="792.5" x2="153.5" y2="796.5" stroke="#bcbcbc" stroke-width="1"/><line x1="195.5" y1="792.5" x2="195.5" y2="796.5" stroke="#bcbcbc" stroke-width="1"/><line x1="237.5" y1="792.5" x2="237.5" y2="796.5" stroke="#bcbcbc" stroke-width="1"/><line x1="279.5" y1="792.5" x2="279.5" y2="796.5" stroke="#bcbcbc" stroke-width="1"/><rect x="82.5" y="767.9" width="16.0" height="24.6" fill="#808080" stroke="#555" stroke-width="1"/><line x1="90.5" y1="759.5" x2="90.5" y2="775.5" stroke="#3c3c3c" stroke-width="1"/><line x1="89.0" y1="759.5" x2="92.0" y2="759.5" stroke="#3c3c3c" stroke-width="1"/><line x1="89.0" y1="775.5" x2="92.0" y2="775.5" stroke="#3c3c3c" stroke-width="1"/><rect x="124.5" y="789.1" width="16.0" height="3.4" fill="#808080" stroke="#555" stroke-width="1"/><line x1="132.5" y1="785.5" x2="132.5" y2="792.5" stroke="#3c3c3c" stroke-width="1"/><line x1="131.0" y1="785.5" x2="134.0" y2="785.5" stroke="#3c3c3c" stroke-width="1"/><line x1="131.0" y1="792.5" x2="134.0" y2="792.5" stroke="#3c3c3c" stroke-width="1"/><rect x="166.5" y="709.4" width="16.0" height="83.1" fill="#808080" stroke="#555" stroke-width="1"/><line x1="174.5" y1="685.5" x2="174.5" y2="733.5" stroke="#3c3c3c" stroke-width="1"/><line x1="173.0" y1="685.5" x2="176.0" y2="685.5" stroke="#3c3c3c" stroke-width="1"/><line x1="173.0" y1="733.5" x2="176.0" y2="733.5" stroke="#3c3c3c" stroke-width="1"/><rect x="208.5" y="774.1" width="16.0" height="18.4" fill="#808080" stroke="#555" stroke-width="1"/><line x1="216.5" y1="768.5" x2="216.5" y2="779.5" stroke="#3c3c3c" stroke-width="1"/><line x1="215.0" y1="768.5" x2="218.0" y2="768.5" stroke="#3c3c3c" stroke-width="1"/><line x1="215.0" y1="779.5" x2="218.0" y2="779.5" stroke="#3c3c3c" stroke-width="1"/><rect x="250.5" y="771.4" width="16.0" height="21.1" fill="#808080" stroke="#555" stroke-width="1"/><line x1="258.5" y1="761.5" x2="258.5" y2="780.5" stroke="#3c3c3c" stroke-width="1"/><line x1="257.0" y1="761.5" x2="260.0" y2="761.5" stroke="#3c3c3c" stroke-width="1"/><line x1="257.0" y1="780.5" x2="260.0" y2="780.5" stroke="#3c3c3c" stroke-width="1"/><path d="M127.50 774.90L127.50 781.90M124.47 776.65L130.53 780.15M124.47 780.15L130.53 776.65" stroke="#444" stroke-width="0.9"/><circle cx="127.50" cy="774.90" r="1.1" fill="#1a1a1a"/><circle cx="127.50" cy="781.90" r="1.1" fill="#1a1a1a"/><circle cx="124.47" cy="776.65" r="1.1" fill="#1a1a1a"/><circle cx="130.53" cy="780.15" r="1.1" fill="#1a1a1a"/><circle cx="124.47" cy="780.15" r="1.1" fill="#1a1a1a"/><circle cx="130.53" cy="776.65" r="1.1" fill="#1a1a1a"/><path d="M138.50 774.90L138.50 781.90M135.47 776.65L141.53 780.15M135.47 780.15L141.53 776.65" stroke="#444" stroke-width="0.9"/><circle cx="138.50" cy="774.90" r="1.1" fill="#1a1a1a"/><circle cx="138.50" cy="781.90" r="1.1" fill="#1a1a1a"/><circle cx="135.47" cy="776.65" r="1.1" fill="#1a1a1a"/><circle cx="141.53" cy="780.15" r="1.1" fill="#1a1a1a"/><circle cx="135.47" cy="780.15" r="1.1" fill="#1a1a1a"/><circle cx="141.53" cy="776.65" r="1.1" fill="#1a1a1a"/><path d="M170.10 674.60L170.10 681.60M167.07 676.35L173.13 679.85M167.07 679.85L173.13 676.35" stroke="#444" stroke-width="0.9"/><circle cx="170.10" cy="674.60" r="1.1" fill="#1a1a1a"/><circle cx="170.10" cy="681.60" r="1.1" fill="#1a1a1a"/><circle cx="167.07" cy="676.35" r="1.1" fill="#1a1a1a"/><circle cx="173.13" cy="679.85" r="1.1" fill="#1a1a1a"/><circle cx="167.07" cy="679.85" r="1.1" fill="#1a1a1a"/><circle cx="173.13" cy="676.35" r="1.1" fill="#1a1a1a"/><path d="M181.10 674.60L181.10 681.60M178.07 676.35L184.13 679.85M178.07 679.85L184.13 676.35" stroke="#444" stroke-width="0.9"/><circle cx="181.10" cy="674.60" r="1.1" fill="#1a1a1a"/><circle cx="181.10" cy="681.60" r="1.1" fill="#1a1a1a"/><circle cx="178.07" cy="676.35" r="1.1" fill="#1a1a1a"/><circle cx="184.13" cy="679.85" r="1.1" fill="#1a1a1a"/><circle cx="178.07" cy="679.85" r="1.1" fill="#1a1a1a"/><circle cx="184.13" cy="676.35" r="1.1" fill="#1a1a1a"/><polyline points="132.5,770.8 132.5,665.8 175.6,665.8 175.6,671.5" fill="none" stroke="#5f5f5f" stroke-width="1.1"/><path d="M149.25 656.70L149.25 663.70M146.22 658.45L152.28 661.95M146.22 661.95L152.28 658.45" stroke="#444" stroke-width="0.9"/><circle cx="149.25" cy="656.70" r="1.1" fill="#1a1a1a"/><circle cx="149.25" cy="663.70" r="1.1" fill="#1a1a1a"/><circle cx="146.22" cy="658.45" r="1.1" fill="#1a1a1a"/><circle cx="152.28" cy="661.95" r="1.1" fill="#1a1a1a"/><circle cx="146.22" cy="661.95" r="1.1" fill="#1a1a1a"/><circle cx="152.28" cy="658.45" r="1.1" fill="#1a1a1a"/><path d="M160.25 656.70L160.25 663.70M157.22 658.45L163.28 661.95M157.22 661.95L163.28 658.45" stroke="#444" stroke-width="0.9"/><circle cx="160.25" cy="656.70" r="1.1" fill="#1a1a1a"/><circle cx="160.25" cy="663.70" r="1.1" fill="#1a1a1a"/><circle cx="157.22" cy="658.45" r="1.1" fill="#1a1a1a"/><circle cx="163.28" cy="661.95" r="1.1" fill="#1a1a1a"/><circle cx="157.22" cy="661.95" r="1.1" fill="#1a1a1a"/><circle cx="163.28" cy="658.45" r="1.1" fill="#1a1a1a"/><text x="48.7" y="733.2" font-size="14.98" text-anchor="middle" fill="#000" font-family="'Liberation Serif', serif" transform="rotate(-90 48.7 733.2)">Relative Bax mRNA level</text><text x="93.4" y="807.2" font-size="11.9" text-anchor="end" fill="#000" font-family="'Liberation Serif', serif" transform="rotate(-45 93.4 807.2)">Control</text><text x="132.7" y="801.6" font-size="11.9" text-anchor="end" fill="#000" font-family="'Liberation Serif', serif" transform="rotate(-45 132.7 801.6)">pol-miR-731 agomir</text><text x="176.5" y="805.6" font-size="11.9" text-anchor="end" fill="#000" font-family="'Liberation Serif', serif" transform="rotate(-45 176.5 805.6)">pol-miR-731 antagomir</text><text x="218.9" y="804.8" font-size="11.9" text-anchor="end" fill="#000" font-family="'Liberation Serif', serif" transform="rotate(-45 218.9 804.8)">Agomir negative control</text><text x="260.6" y="807.2" font-size="11.9" text-anchor="end" fill="#000" font-family="'Liberation Serif', serif" transform="rotate(-45 260.6 807.2)">Antagomir negative control</text><text x="328.8" y="675.9" font-size="30.3" text-anchor="start" font-weight="bold" fill="#000" font-family="'Liberation Serif', serif">E</text><line x1="396.5" y1="668.7" x2="396.5" y2="819.5" stroke="#b0b0b0" stroke-width="1"/><line x1="393.5" y1="819.5" x2="396.5" y2="819.5" stroke="#b0b0b0" stroke-width="1"/><text x="390.2" y="822.6" font-size="9" text-anchor="end" font-weight="bold" fill="#222" font-family="'Liberation Serif', serif">0</text><line x1="393.5" y1="789.3" x2="396.5" y2="789.3" stroke="#b0b0b0" stroke-width="1"/><text x="390.2" y="792.4" font-size="9" text-anchor="end" font-weight="bold" fill="#222" font-family="'Liberation Serif', serif">1</text><line x1="393.5" y1="759.2" x2="396.5" y2="759.2" stroke="#b0b0b0" stroke-width="1"/><text x="390.2" y="762.3" font-size="9" text-anchor="end" font-weight="bold" fill="#222" font-family="'Liberation Serif', serif">2</text><line x1="393.5" y1="729.0" x2="396.5" y2="729.0" stroke="#b0b0b0" stroke-width="1"/><text x="390.2" y="732.1" font-size="9" text-anchor="end" font-weight="bold" fill="#222" font-family="'Liberation Serif', serif">3</text><line x1="393.5" y1="698.9" x2="396.5" y2="698.9" stroke="#b0b0b0" stroke-width="1"/><text x="390.2" y="702.0" font-size="9" text-anchor="end" font-weight="bold" fill="#222" font-family="'Liberation Serif', serif">4</text><line x1="393.5" y1="668.7" x2="396.5" y2="668.7" stroke="#b0b0b0" stroke-width="1"/><text x="390.2" y="671.8" font-size="9" text-anchor="end" font-weight="bold" fill="#222" font-family="'Liberation Serif', serif">5</text><line x1="393.5" y1="819.5" x2="621.9" y2="819.5" stroke="#b0b0b0" stroke-width="1"/><line x1="396.5" y1="819.5" x2="396.5" y2="823.5" stroke="#b0b0b0" stroke-width="1"/><line x1="441.6" y1="819.5" x2="441.6" y2="823.5" stroke="#b0b0b0" stroke-width="1"/><line x1="486.7" y1="819.5" x2="486.7" y2="823.5" stroke="#b0b0b0" stroke-width="1"/><line x1="531.7" y1="819.5" x2="531.7" y2="823.5" stroke="#b0b0b0" stroke-width="1"/><line x1="576.8" y1="819.5" x2="576.8" y2="823.5" stroke="#b0b0b0" stroke-width="1"/><line x1="621.9" y1="819.5" x2="621.9" y2="823.5" stroke="#b0b0b0" stroke-width="1"/><rect x="410.3" y="789.3" width="17.5" height="30.2" fill="#808080"/><line x1="419.5" y1="785.5" x2="419.5" y2="793.5" stroke="#3c3c3c" stroke-width="1"/><line x1="418.0" y1="785.5" x2="421.0" y2="785.5" stroke="#3c3c3c" stroke-width="1"/><line x1="418.0" y1="793.5" x2="421.0" y2="793.5" stroke="#3c3c3c" stroke-width="1"/><rect x="455.4" y="815.6" width="17.5" height="3.9" fill="#808080"/><line x1="464.5" y1="811.5" x2="464.5" y2="819.5" stroke="#3c3c3c" stroke-width="1"/><line x1="463.0" y1="811.5" x2="466.0" y2="811.5" stroke="#3c3c3c" stroke-width="1"/><line x1="463.0" y1="819.5" x2="466.0" y2="819.5" stroke="#3c3c3c" stroke-width="1"/><rect x="500.4" y="787.8" width="17.5" height="31.7" fill="#808080"/><line x1="509.5" y1="782.5" x2="509.5" y2="794.5" stroke="#3c3c3c" stroke-width="1"/><line x1="508.0" y1="782.5" x2="511.0" y2="782.5" stroke="#3c3c3c" stroke-width="1"/><line x1="508.0" y1="794.5" x2="511.0" y2="794.5" stroke="#3c3c3c" stroke-width="1"/><rect x="545.5" y="815.9" width="17.5" height="3.6" fill="#808080"/><line x1="554.5" y1="813.5" x2="554.5" y2="818.5" stroke="#3c3c3c" stroke-width="1"/><line x1="553.0" y1="813.5" x2="556.0" y2="813.5" stroke="#3c3c3c" stroke-width="1"/><line x1="553.0" y1="818.5" x2="556.0" y2="818.5" stroke="#3c3c3c" stroke-width="1"/><rect x="590.6" y="710.0" width="17.5" height="109.5" fill="#808080"/><line x1="599.5" y1="699.5" x2="599.5" y2="720.5" stroke="#3c3c3c" stroke-width="1"/><line x1="598.0" y1="699.5" x2="601.0" y2="699.5" stroke="#3c3c3c" stroke-width="1"/><line x1="598.0" y1="720.5" x2="601.0" y2="720.5" stroke="#3c3c3c" stroke-width="1"/><path d="M459.00 803.60L459.00 810.60M455.97 805.35L462.03 808.85M455.97 808.85L462.03 805.35" stroke="#444" stroke-width="0.9"/><circle cx="459.00" cy="803.60" r="1.1" fill="#1a1a1a"/><circle cx="459.00" cy="810.60" r="1.1" fill="#1a1a1a"/><circle cx="455.97" cy="805.35" r="1.1" fill="#1a1a1a"/><circle cx="462.03" cy="808.85" r="1.1" fill="#1a1a1a"/><circle cx="455.97" cy="808.85" r="1.1" fill="#1a1a1a"/><circle cx="462.03" cy="805.35" r="1.1" fill="#1a1a1a"/><path d="M470.00 803.60L470.00 810.60M466.97 805.35L473.03 808.85M466.97 808.85L473.03 805.35" stroke="#444" stroke-width="0.9"/><circle cx="470.00" cy="803.60" r="1.1" fill="#1a1a1a"/><circle cx="470.00" cy="810.60" r="1.1" fill="#1a1a1a"/><circle cx="466.97" cy="805.35" r="1.1" fill="#1a1a1a"/><circle cx="473.03" cy="808.85" r="1.1" fill="#1a1a1a"/><circle cx="466.97" cy="808.85" r="1.1" fill="#1a1a1a"/><circle cx="473.03" cy="805.35" r="1.1" fill="#1a1a1a"/><path d="M549.15 804.10L549.15 811.10M546.12 805.85L552.18 809.35M546.12 809.35L552.18 805.85" stroke="#444" stroke-width="0.9"/><circle cx="549.15" cy="804.10" r="1.1" fill="#1a1a1a"/><circle cx="549.15" cy="811.10" r="1.1" fill="#1a1a1a"/><circle cx="546.12" cy="805.85" r="1.1" fill="#1a1a1a"/><circle cx="552.18" cy="809.35" r="1.1" fill="#1a1a1a"/><circle cx="546.12" cy="809.35" r="1.1" fill="#1a1a1a"/><circle cx="552.18" cy="805.85" r="1.1" fill="#1a1a1a"/><path d="M560.15 804.10L560.15 811.10M557.12 805.85L563.18 809.35M557.12 809.35L563.18 805.85" stroke="#444" stroke-width="0.9"/><circle cx="560.15" cy="804.10" r="1.1" fill="#1a1a1a"/><circle cx="560.15" cy="811.10" r="1.1" fill="#1a1a1a"/><circle cx="557.12" cy="805.85" r="1.1" fill="#1a1a1a"/><circle cx="563.18" cy="809.35" r="1.1" fill="#1a1a1a"/><circle cx="557.12" cy="809.35" r="1.1" fill="#1a1a1a"/><circle cx="563.18" cy="805.85" r="1.1" fill="#1a1a1a"/><path d="M593.75 689.60L593.75 696.60M590.72 691.35L596.78 694.85M590.72 694.85L596.78 691.35" stroke="#444" stroke-width="0.9"/><circle cx="593.75" cy="689.60" r="1.1" fill="#1a1a1a"/><circle cx="593.75" cy="696.60" r="1.1" fill="#1a1a1a"/><circle cx="590.72" cy="691.35" r="1.1" fill="#1a1a1a"/><circle cx="596.78" cy="694.85" r="1.1" fill="#1a1a1a"/><circle cx="590.72" cy="694.85" r="1.1" fill="#1a1a1a"/><circle cx="596.78" cy="691.35" r="1.1" fill="#1a1a1a"/><path d="M604.75 689.60L604.75 696.60M601.72 691.35L607.78 694.85M601.72 694.85L607.78 691.35" stroke="#444" stroke-width="0.9"/><circle cx="604.75" cy="689.60" r="1.1" fill="#1a1a1a"/><circle cx="604.75" cy="696.60" r="1.1" fill="#1a1a1a"/><circle cx="601.72" cy="691.35" r="1.1" fill="#1a1a1a"/><circle cx="607.78" cy="694.85" r="1.1" fill="#1a1a1a"/><circle cx="601.72" cy="694.85" r="1.1" fill="#1a1a1a"/><circle cx="607.78" cy="691.35" r="1.1" fill="#1a1a1a"/><polyline points="553,795.2 553,676.3 599.6,676.3 599.6,683.5" fill="none" stroke="#767676" stroke-width="1.2"/><path d="M570.00 665.75L570.00 672.75M566.97 667.50L573.03 671.00M566.97 671.00L573.03 667.50" stroke="#444" stroke-width="0.9"/><circle cx="570.00" cy="665.75" r="1.1" fill="#1a1a1a"/><circle cx="570.00" cy="672.75" r="1.1" fill="#1a1a1a"/><circle cx="566.97" cy="667.50" r="1.1" fill="#1a1a1a"/><circle cx="573.03" cy="671.00" r="1.1" fill="#1a1a1a"/><circle cx="566.97" cy="671.00" r="1.1" fill="#1a1a1a"/><circle cx="573.03" cy="667.50" r="1.1" fill="#1a1a1a"/><path d="M581.00 665.75L581.00 672.75M577.97 667.50L584.03 671.00M577.97 671.00L584.03 667.50" stroke="#444" stroke-width="0.9"/><circle cx="581.00" cy="665.75" r="1.1" fill="#1a1a1a"/><circle cx="581.00" cy="672.75" r="1.1" fill="#1a1a1a"/><circle cx="577.97" cy="667.50" r="1.1" fill="#1a1a1a"/><circle cx="584.03" cy="671.00" r="1.1" fill="#1a1a1a"/><circle cx="577.97" cy="671.00" r="1.1" fill="#1a1a1a"/><circle cx="584.03" cy="667.50" r="1.1" fill="#1a1a1a"/><text x="378.4" y="742.0" font-size="15.22" text-anchor="middle" fill="#000" font-family="'Liberation Serif', serif" transform="rotate(-90 378.4 742.0)">Relative Bax mRNA level</text><text x="421.2" y="834.2" font-size="11.9" text-anchor="end" fill="#000" font-family="'Liberation Serif', serif" transform="rotate(-45 421.2 834.2)">Control</text><text x="467.4" y="833.7" font-size="11.9" text-anchor="end" fill="#000" font-family="'Liberation Serif', serif" transform="rotate(-45 467.4 833.7)">pol-miR-731 mimic</text><text x="512.8" y="834.1" font-size="11.9" text-anchor="end" fill="#000" font-family="'Liberation Serif', serif" transform="rotate(-45 512.8 834.1)">Mimic control</text><text x="557.4" y="833.5" font-size="11.9" text-anchor="end" fill="#000" font-family="'Liberation Serif', serif" transform="rotate(-45 557.4 833.5)">pol-miR-731 mimic+pCN3</text><text x="606.3" y="828.9" font-size="11.9" text-anchor="end" fill="#000" font-family="'Liberation Serif', serif" transform="rotate(-45 606.3 828.9)">pol-miR-731 mimic+pCNp53</text><rect x="11.5" y="931.5" width="1.2" height="1.2" fill="#999"/></svg></body></html>
